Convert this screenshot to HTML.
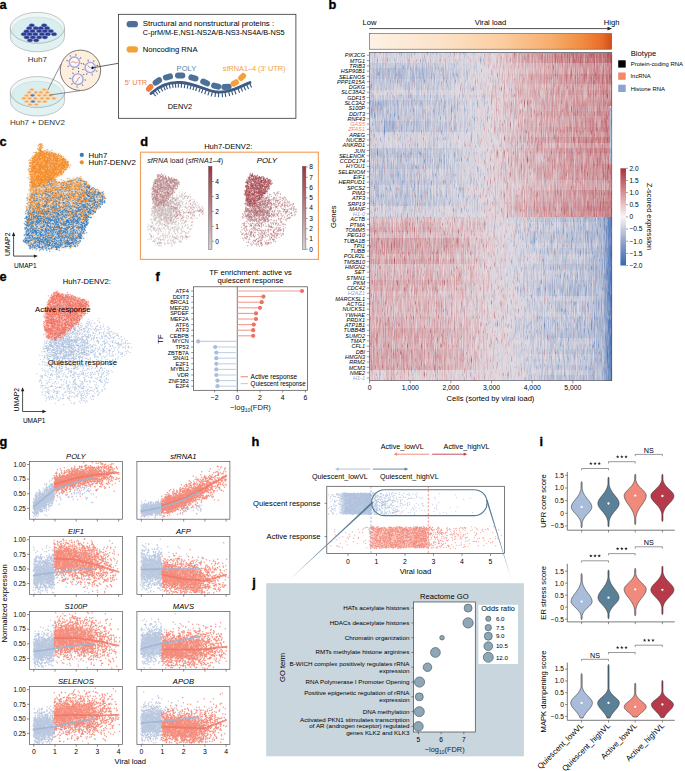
<!DOCTYPE html>
<html><head><meta charset="utf-8"><title>Figure</title><style>html,body{margin:0;padding:0;background:#fff;width:685px;height:771px;overflow:hidden}svg{display:block;font-family:"Liberation Sans",sans-serif}</style></head><body>
<svg width="685" height="771" viewBox="0 0 685 771" font-family="&quot;Liberation Sans&quot;, sans-serif">
<defs><linearGradient id="vlg" x1="0" x2="1" y1="0" y2="0"><stop offset="0" stop-color="#fdf1e5"/><stop offset="0.3" stop-color="#fce2c8"/><stop offset="0.55" stop-color="#fbcd9f"/><stop offset="0.75" stop-color="#f7ad6c"/><stop offset="0.88" stop-color="#f08c42"/><stop offset="0.96" stop-color="#ea6c28"/><stop offset="1" stop-color="#cf4f1c"/></linearGradient>
<linearGradient id="hr0" x1="0" x2="1" y1="0" y2="0"><stop offset="0.001" stop-color="#757575"/><stop offset="0.202" stop-color="#757575"/><stop offset="0.336" stop-color="#787878"/><stop offset="0.437" stop-color="#7d7d7d"/><stop offset="0.521" stop-color="#898989"/><stop offset="0.605" stop-color="#a4a4a4"/><stop offset="0.705" stop-color="#b7b7b7"/><stop offset="0.839" stop-color="#c9c9c9"/><stop offset="0.957" stop-color="#d7d7d7"/><stop offset="0.990" stop-color="#e2e2e2"/><stop offset="0.995" stop-color="#e4e4e4"/><stop offset="0.999" stop-color="#e5e5e5"/></linearGradient>
<linearGradient id="hr1" x1="0" x2="1" y1="0" y2="0"><stop offset="0.001" stop-color="#757575"/><stop offset="0.202" stop-color="#757575"/><stop offset="0.336" stop-color="#787878"/><stop offset="0.437" stop-color="#7d7d7d"/><stop offset="0.521" stop-color="#898989"/><stop offset="0.605" stop-color="#a2a2a2"/><stop offset="0.705" stop-color="#b3b3b3"/><stop offset="0.839" stop-color="#c4c4c4"/><stop offset="0.957" stop-color="#d1d1d1"/><stop offset="0.990" stop-color="#dcdcdc"/><stop offset="0.995" stop-color="#dddddd"/><stop offset="0.999" stop-color="#dedede"/></linearGradient>
<linearGradient id="hr2" x1="0" x2="1" y1="0" y2="0"><stop offset="0.001" stop-color="#656565"/><stop offset="0.202" stop-color="#666666"/><stop offset="0.336" stop-color="#6e6e6e"/><stop offset="0.437" stop-color="#797979"/><stop offset="0.521" stop-color="#898989"/><stop offset="0.605" stop-color="#989898"/><stop offset="0.705" stop-color="#a4a4a4"/><stop offset="0.839" stop-color="#b1b1b1"/><stop offset="0.957" stop-color="#bababa"/><stop offset="0.990" stop-color="#c1c1c1"/><stop offset="0.995" stop-color="#c2c2c2"/><stop offset="0.999" stop-color="#c3c3c3"/></linearGradient>
<linearGradient id="hr3" x1="0" x2="1" y1="0" y2="0"><stop offset="0.001" stop-color="#5b5b5b"/><stop offset="0.202" stop-color="#5d5d5d"/><stop offset="0.336" stop-color="#676767"/><stop offset="0.437" stop-color="#767676"/><stop offset="0.521" stop-color="#898989"/><stop offset="0.605" stop-color="#979797"/><stop offset="0.705" stop-color="#a2a2a2"/><stop offset="0.839" stop-color="#aeaeae"/><stop offset="0.957" stop-color="#b7b7b7"/><stop offset="0.990" stop-color="#bebebe"/><stop offset="0.995" stop-color="#bfbfbf"/><stop offset="0.999" stop-color="#c0c0c0"/></linearGradient>
<linearGradient id="hr4" x1="0" x2="1" y1="0" y2="0"><stop offset="0.001" stop-color="#5b5b5b"/><stop offset="0.202" stop-color="#5d5d5d"/><stop offset="0.336" stop-color="#676767"/><stop offset="0.437" stop-color="#767676"/><stop offset="0.521" stop-color="#898989"/><stop offset="0.605" stop-color="#9c9c9c"/><stop offset="0.705" stop-color="#ababab"/><stop offset="0.839" stop-color="#b9b9b9"/><stop offset="0.957" stop-color="#c4c4c4"/><stop offset="0.990" stop-color="#cccccc"/><stop offset="0.995" stop-color="#cecece"/><stop offset="0.999" stop-color="#cfcfcf"/></linearGradient>
<linearGradient id="hr5" x1="0" x2="1" y1="0" y2="0"><stop offset="0.001" stop-color="#636363"/><stop offset="0.202" stop-color="#656565"/><stop offset="0.336" stop-color="#6d6d6d"/><stop offset="0.437" stop-color="#787878"/><stop offset="0.521" stop-color="#898989"/><stop offset="0.605" stop-color="#9b9b9b"/><stop offset="0.705" stop-color="#a9a9a9"/><stop offset="0.839" stop-color="#b7b7b7"/><stop offset="0.957" stop-color="#c2c2c2"/><stop offset="0.990" stop-color="#cacaca"/><stop offset="0.995" stop-color="#cccccc"/><stop offset="0.999" stop-color="#cccccc"/></linearGradient>
<linearGradient id="hr6" x1="0" x2="1" y1="0" y2="0"><stop offset="0.001" stop-color="#646464"/><stop offset="0.202" stop-color="#666666"/><stop offset="0.336" stop-color="#6d6d6d"/><stop offset="0.437" stop-color="#797979"/><stop offset="0.521" stop-color="#898989"/><stop offset="0.605" stop-color="#969696"/><stop offset="0.705" stop-color="#a2a2a2"/><stop offset="0.839" stop-color="#adadad"/><stop offset="0.957" stop-color="#b5b5b5"/><stop offset="0.990" stop-color="#bcbcbc"/><stop offset="0.995" stop-color="#bdbdbd"/><stop offset="0.999" stop-color="#bebebe"/></linearGradient>
<linearGradient id="hr7" x1="0" x2="1" y1="0" y2="0"><stop offset="0.001" stop-color="#727272"/><stop offset="0.202" stop-color="#737373"/><stop offset="0.336" stop-color="#767676"/><stop offset="0.437" stop-color="#7c7c7c"/><stop offset="0.521" stop-color="#898989"/><stop offset="0.605" stop-color="#999999"/><stop offset="0.705" stop-color="#a6a6a6"/><stop offset="0.839" stop-color="#b3b3b3"/><stop offset="0.957" stop-color="#bdbdbd"/><stop offset="0.990" stop-color="#c4c4c4"/><stop offset="0.995" stop-color="#c5c5c5"/><stop offset="0.999" stop-color="#c6c6c6"/></linearGradient>
<linearGradient id="hr8" x1="0" x2="1" y1="0" y2="0"><stop offset="0.001" stop-color="#676767"/><stop offset="0.202" stop-color="#686868"/><stop offset="0.336" stop-color="#6f6f6f"/><stop offset="0.437" stop-color="#797979"/><stop offset="0.521" stop-color="#898989"/><stop offset="0.605" stop-color="#969696"/><stop offset="0.705" stop-color="#a1a1a1"/><stop offset="0.839" stop-color="#acacac"/><stop offset="0.957" stop-color="#b4b4b4"/><stop offset="0.990" stop-color="#bbbbbb"/><stop offset="0.995" stop-color="#bcbcbc"/><stop offset="0.999" stop-color="#bdbdbd"/></linearGradient>
<linearGradient id="hr9" x1="0" x2="1" y1="0" y2="0"><stop offset="0.001" stop-color="#5b5b5b"/><stop offset="0.202" stop-color="#5d5d5d"/><stop offset="0.336" stop-color="#676767"/><stop offset="0.437" stop-color="#767676"/><stop offset="0.521" stop-color="#898989"/><stop offset="0.605" stop-color="#989898"/><stop offset="0.705" stop-color="#a4a4a4"/><stop offset="0.839" stop-color="#b0b0b0"/><stop offset="0.957" stop-color="#b9b9b9"/><stop offset="0.990" stop-color="#c1c1c1"/><stop offset="0.995" stop-color="#c2c2c2"/><stop offset="0.999" stop-color="#c2c2c2"/></linearGradient>
<linearGradient id="hr10" x1="0" x2="1" y1="0" y2="0"><stop offset="0.001" stop-color="#626262"/><stop offset="0.202" stop-color="#646464"/><stop offset="0.336" stop-color="#6c6c6c"/><stop offset="0.437" stop-color="#787878"/><stop offset="0.521" stop-color="#898989"/><stop offset="0.605" stop-color="#979797"/><stop offset="0.705" stop-color="#a2a2a2"/><stop offset="0.839" stop-color="#aeaeae"/><stop offset="0.957" stop-color="#b7b7b7"/><stop offset="0.990" stop-color="#bdbdbd"/><stop offset="0.995" stop-color="#595959"/><stop offset="0.999" stop-color="#595959"/></linearGradient>
<linearGradient id="hr11" x1="0" x2="1" y1="0" y2="0"><stop offset="0.001" stop-color="#606060"/><stop offset="0.202" stop-color="#626262"/><stop offset="0.336" stop-color="#6b6b6b"/><stop offset="0.437" stop-color="#787878"/><stop offset="0.521" stop-color="#898989"/><stop offset="0.605" stop-color="#9a9a9a"/><stop offset="0.705" stop-color="#a8a8a8"/><stop offset="0.839" stop-color="#b5b5b5"/><stop offset="0.957" stop-color="#bfbfbf"/><stop offset="0.990" stop-color="#c7c7c7"/><stop offset="0.995" stop-color="#595959"/><stop offset="0.999" stop-color="#595959"/></linearGradient>
<linearGradient id="hr12" x1="0" x2="1" y1="0" y2="0"><stop offset="0.001" stop-color="#656565"/><stop offset="0.202" stop-color="#676767"/><stop offset="0.336" stop-color="#6e6e6e"/><stop offset="0.437" stop-color="#797979"/><stop offset="0.521" stop-color="#898989"/><stop offset="0.605" stop-color="#979797"/><stop offset="0.705" stop-color="#a3a3a3"/><stop offset="0.839" stop-color="#aeaeae"/><stop offset="0.957" stop-color="#b7b7b7"/><stop offset="0.990" stop-color="#bebebe"/><stop offset="0.995" stop-color="#595959"/><stop offset="0.999" stop-color="#595959"/></linearGradient>
<linearGradient id="hr13" x1="0" x2="1" y1="0" y2="0"><stop offset="0.001" stop-color="#5b5b5b"/><stop offset="0.202" stop-color="#5d5d5d"/><stop offset="0.336" stop-color="#676767"/><stop offset="0.437" stop-color="#767676"/><stop offset="0.521" stop-color="#898989"/><stop offset="0.605" stop-color="#989898"/><stop offset="0.705" stop-color="#a4a4a4"/><stop offset="0.839" stop-color="#b0b0b0"/><stop offset="0.957" stop-color="#b9b9b9"/><stop offset="0.990" stop-color="#c1c1c1"/><stop offset="0.995" stop-color="#595959"/><stop offset="0.999" stop-color="#595959"/></linearGradient>
<linearGradient id="hr14" x1="0" x2="1" y1="0" y2="0"><stop offset="0.001" stop-color="#5b5b5b"/><stop offset="0.202" stop-color="#5d5d5d"/><stop offset="0.336" stop-color="#676767"/><stop offset="0.437" stop-color="#767676"/><stop offset="0.521" stop-color="#898989"/><stop offset="0.605" stop-color="#9b9b9b"/><stop offset="0.705" stop-color="#a9a9a9"/><stop offset="0.839" stop-color="#b6b6b6"/><stop offset="0.957" stop-color="#c1c1c1"/><stop offset="0.990" stop-color="#c9c9c9"/><stop offset="0.995" stop-color="#595959"/><stop offset="0.999" stop-color="#595959"/></linearGradient>
<linearGradient id="hr15" x1="0" x2="1" y1="0" y2="0"><stop offset="0.001" stop-color="#727272"/><stop offset="0.202" stop-color="#737373"/><stop offset="0.336" stop-color="#767676"/><stop offset="0.437" stop-color="#7c7c7c"/><stop offset="0.521" stop-color="#898989"/><stop offset="0.605" stop-color="#979797"/><stop offset="0.705" stop-color="#a3a3a3"/><stop offset="0.839" stop-color="#afafaf"/><stop offset="0.957" stop-color="#b8b8b8"/><stop offset="0.990" stop-color="#bfbfbf"/><stop offset="0.995" stop-color="#595959"/><stop offset="0.999" stop-color="#595959"/></linearGradient>
<linearGradient id="hr16" x1="0" x2="1" y1="0" y2="0"><stop offset="0.001" stop-color="#727272"/><stop offset="0.202" stop-color="#737373"/><stop offset="0.336" stop-color="#767676"/><stop offset="0.437" stop-color="#7c7c7c"/><stop offset="0.521" stop-color="#898989"/><stop offset="0.605" stop-color="#9d9d9d"/><stop offset="0.705" stop-color="#acacac"/><stop offset="0.839" stop-color="#bbbbbb"/><stop offset="0.957" stop-color="#c6c6c6"/><stop offset="0.990" stop-color="#cecece"/><stop offset="0.995" stop-color="#595959"/><stop offset="0.999" stop-color="#595959"/></linearGradient>
<linearGradient id="hr17" x1="0" x2="1" y1="0" y2="0"><stop offset="0.001" stop-color="#727272"/><stop offset="0.202" stop-color="#737373"/><stop offset="0.336" stop-color="#767676"/><stop offset="0.437" stop-color="#7c7c7c"/><stop offset="0.521" stop-color="#898989"/><stop offset="0.605" stop-color="#959595"/><stop offset="0.705" stop-color="#9f9f9f"/><stop offset="0.839" stop-color="#aaaaaa"/><stop offset="0.957" stop-color="#b2b2b2"/><stop offset="0.990" stop-color="#b8b8b8"/><stop offset="0.995" stop-color="#595959"/><stop offset="0.999" stop-color="#595959"/></linearGradient>
<linearGradient id="hr18" x1="0" x2="1" y1="0" y2="0"><stop offset="0.001" stop-color="#5f5f5f"/><stop offset="0.202" stop-color="#616161"/><stop offset="0.336" stop-color="#6a6a6a"/><stop offset="0.437" stop-color="#777777"/><stop offset="0.521" stop-color="#898989"/><stop offset="0.605" stop-color="#9b9b9b"/><stop offset="0.705" stop-color="#a9a9a9"/><stop offset="0.839" stop-color="#b7b7b7"/><stop offset="0.957" stop-color="#c1c1c1"/><stop offset="0.990" stop-color="#c9c9c9"/><stop offset="0.995" stop-color="#595959"/><stop offset="0.999" stop-color="#595959"/></linearGradient>
<linearGradient id="hr19" x1="0" x2="1" y1="0" y2="0"><stop offset="0.001" stop-color="#5b5b5b"/><stop offset="0.202" stop-color="#5d5d5d"/><stop offset="0.336" stop-color="#676767"/><stop offset="0.437" stop-color="#767676"/><stop offset="0.521" stop-color="#898989"/><stop offset="0.605" stop-color="#979797"/><stop offset="0.705" stop-color="#a3a3a3"/><stop offset="0.839" stop-color="#afafaf"/><stop offset="0.957" stop-color="#b8b8b8"/><stop offset="0.990" stop-color="#c0c0c0"/><stop offset="0.995" stop-color="#595959"/><stop offset="0.999" stop-color="#595959"/></linearGradient>
<linearGradient id="hr20" x1="0" x2="1" y1="0" y2="0"><stop offset="0.001" stop-color="#636363"/><stop offset="0.202" stop-color="#656565"/><stop offset="0.336" stop-color="#6c6c6c"/><stop offset="0.437" stop-color="#787878"/><stop offset="0.521" stop-color="#898989"/><stop offset="0.605" stop-color="#989898"/><stop offset="0.705" stop-color="#a4a4a4"/><stop offset="0.839" stop-color="#b0b0b0"/><stop offset="0.957" stop-color="#b9b9b9"/><stop offset="0.990" stop-color="#c0c0c0"/><stop offset="0.995" stop-color="#595959"/><stop offset="0.999" stop-color="#595959"/></linearGradient>
<linearGradient id="hr21" x1="0" x2="1" y1="0" y2="0"><stop offset="0.001" stop-color="#5e5e5e"/><stop offset="0.202" stop-color="#616161"/><stop offset="0.336" stop-color="#696969"/><stop offset="0.437" stop-color="#777777"/><stop offset="0.521" stop-color="#898989"/><stop offset="0.605" stop-color="#9a9a9a"/><stop offset="0.705" stop-color="#a7a7a7"/><stop offset="0.839" stop-color="#b4b4b4"/><stop offset="0.957" stop-color="#bebebe"/><stop offset="0.990" stop-color="#c6c6c6"/><stop offset="0.995" stop-color="#c7c7c7"/><stop offset="0.999" stop-color="#c8c8c8"/></linearGradient>
<linearGradient id="hr22" x1="0" x2="1" y1="0" y2="0"><stop offset="0.001" stop-color="#676767"/><stop offset="0.202" stop-color="#696969"/><stop offset="0.336" stop-color="#6f6f6f"/><stop offset="0.437" stop-color="#797979"/><stop offset="0.521" stop-color="#898989"/><stop offset="0.605" stop-color="#999999"/><stop offset="0.705" stop-color="#a5a5a5"/><stop offset="0.839" stop-color="#b2b2b2"/><stop offset="0.957" stop-color="#bbbbbb"/><stop offset="0.990" stop-color="#c3c3c3"/><stop offset="0.995" stop-color="#c4c4c4"/><stop offset="0.999" stop-color="#c5c5c5"/></linearGradient>
<linearGradient id="hr23" x1="0" x2="1" y1="0" y2="0"><stop offset="0.001" stop-color="#636363"/><stop offset="0.202" stop-color="#656565"/><stop offset="0.336" stop-color="#6d6d6d"/><stop offset="0.437" stop-color="#787878"/><stop offset="0.521" stop-color="#898989"/><stop offset="0.605" stop-color="#979797"/><stop offset="0.705" stop-color="#a3a3a3"/><stop offset="0.839" stop-color="#afafaf"/><stop offset="0.957" stop-color="#b8b8b8"/><stop offset="0.990" stop-color="#bfbfbf"/><stop offset="0.995" stop-color="#c0c0c0"/><stop offset="0.999" stop-color="#c1c1c1"/></linearGradient>
<linearGradient id="hr24" x1="0" x2="1" y1="0" y2="0"><stop offset="0.001" stop-color="#5f5f5f"/><stop offset="0.202" stop-color="#616161"/><stop offset="0.336" stop-color="#6a6a6a"/><stop offset="0.437" stop-color="#777777"/><stop offset="0.521" stop-color="#898989"/><stop offset="0.605" stop-color="#939393"/><stop offset="0.705" stop-color="#9c9c9c"/><stop offset="0.839" stop-color="#a6a6a6"/><stop offset="0.957" stop-color="#adadad"/><stop offset="0.990" stop-color="#b3b3b3"/><stop offset="0.995" stop-color="#b4b4b4"/><stop offset="0.999" stop-color="#b4b4b4"/></linearGradient>
<linearGradient id="hr25" x1="0" x2="1" y1="0" y2="0"><stop offset="0.001" stop-color="#686868"/><stop offset="0.202" stop-color="#6a6a6a"/><stop offset="0.336" stop-color="#707070"/><stop offset="0.437" stop-color="#7a7a7a"/><stop offset="0.521" stop-color="#898989"/><stop offset="0.605" stop-color="#949494"/><stop offset="0.705" stop-color="#9e9e9e"/><stop offset="0.839" stop-color="#a8a8a8"/><stop offset="0.957" stop-color="#afafaf"/><stop offset="0.990" stop-color="#b5b5b5"/><stop offset="0.995" stop-color="#b6b6b6"/><stop offset="0.999" stop-color="#b7b7b7"/></linearGradient>
<linearGradient id="hr26" x1="0" x2="1" y1="0" y2="0"><stop offset="0.001" stop-color="#646464"/><stop offset="0.202" stop-color="#656565"/><stop offset="0.336" stop-color="#6d6d6d"/><stop offset="0.437" stop-color="#797979"/><stop offset="0.521" stop-color="#898989"/><stop offset="0.605" stop-color="#9b9b9b"/><stop offset="0.705" stop-color="#a8a8a8"/><stop offset="0.839" stop-color="#b6b6b6"/><stop offset="0.957" stop-color="#c0c0c0"/><stop offset="0.990" stop-color="#c8c8c8"/><stop offset="0.995" stop-color="#cacaca"/><stop offset="0.999" stop-color="#cacaca"/></linearGradient>
<linearGradient id="hr27" x1="0" x2="1" y1="0" y2="0"><stop offset="0.001" stop-color="#616161"/><stop offset="0.202" stop-color="#636363"/><stop offset="0.336" stop-color="#6b6b6b"/><stop offset="0.437" stop-color="#787878"/><stop offset="0.521" stop-color="#898989"/><stop offset="0.605" stop-color="#999999"/><stop offset="0.705" stop-color="#a5a5a5"/><stop offset="0.839" stop-color="#b2b2b2"/><stop offset="0.957" stop-color="#bbbbbb"/><stop offset="0.990" stop-color="#c3c3c3"/><stop offset="0.995" stop-color="#c4c4c4"/><stop offset="0.999" stop-color="#c5c5c5"/></linearGradient>
<linearGradient id="hr28" x1="0" x2="1" y1="0" y2="0"><stop offset="0.001" stop-color="#626262"/><stop offset="0.202" stop-color="#646464"/><stop offset="0.336" stop-color="#6c6c6c"/><stop offset="0.437" stop-color="#787878"/><stop offset="0.521" stop-color="#898989"/><stop offset="0.605" stop-color="#9b9b9b"/><stop offset="0.705" stop-color="#a8a8a8"/><stop offset="0.839" stop-color="#b6b6b6"/><stop offset="0.957" stop-color="#c0c0c0"/><stop offset="0.990" stop-color="#c8c8c8"/><stop offset="0.995" stop-color="#c9c9c9"/><stop offset="0.999" stop-color="#cacaca"/></linearGradient>
<linearGradient id="hr29" x1="0" x2="1" y1="0" y2="0"><stop offset="0.001" stop-color="#727272"/><stop offset="0.202" stop-color="#737373"/><stop offset="0.336" stop-color="#767676"/><stop offset="0.437" stop-color="#7c7c7c"/><stop offset="0.521" stop-color="#898989"/><stop offset="0.605" stop-color="#9e9e9e"/><stop offset="0.705" stop-color="#adadad"/><stop offset="0.839" stop-color="#bcbcbc"/><stop offset="0.957" stop-color="#c7c7c7"/><stop offset="0.990" stop-color="#d0d0d0"/><stop offset="0.995" stop-color="#d1d1d1"/><stop offset="0.999" stop-color="#d2d2d2"/></linearGradient>
<linearGradient id="hr30" x1="0" x2="1" y1="0" y2="0"><stop offset="0.001" stop-color="#727272"/><stop offset="0.202" stop-color="#737373"/><stop offset="0.336" stop-color="#767676"/><stop offset="0.437" stop-color="#7c7c7c"/><stop offset="0.521" stop-color="#898989"/><stop offset="0.605" stop-color="#9a9a9a"/><stop offset="0.705" stop-color="#a8a8a8"/><stop offset="0.839" stop-color="#b5b5b5"/><stop offset="0.957" stop-color="#c0c0c0"/><stop offset="0.990" stop-color="#c8c8c8"/><stop offset="0.995" stop-color="#c9c9c9"/><stop offset="0.999" stop-color="#cacaca"/></linearGradient>
<linearGradient id="hr31" x1="0" x2="1" y1="0" y2="0"><stop offset="0.001" stop-color="#999999"/><stop offset="0.253" stop-color="#969696"/><stop offset="0.387" stop-color="#909090"/><stop offset="0.471" stop-color="#898989"/><stop offset="0.554" stop-color="#808080"/><stop offset="0.638" stop-color="#6e6e6e"/><stop offset="0.756" stop-color="#5f5f5f"/><stop offset="0.890" stop-color="#585858"/><stop offset="0.965" stop-color="#535353"/><stop offset="0.982" stop-color="#2d2d2d"/><stop offset="0.999" stop-color="#0d0d0d"/></linearGradient>
<linearGradient id="hr32" x1="0" x2="1" y1="0" y2="0"><stop offset="0.001" stop-color="#9f9f9f"/><stop offset="0.253" stop-color="#9d9d9d"/><stop offset="0.387" stop-color="#959595"/><stop offset="0.471" stop-color="#8b8b8b"/><stop offset="0.554" stop-color="#808080"/><stop offset="0.638" stop-color="#737373"/><stop offset="0.756" stop-color="#6a6a6a"/><stop offset="0.890" stop-color="#656565"/><stop offset="0.965" stop-color="#535353"/><stop offset="0.982" stop-color="#2d2d2d"/><stop offset="0.999" stop-color="#0d0d0d"/></linearGradient>
<linearGradient id="hr33" x1="0" x2="1" y1="0" y2="0"><stop offset="0.001" stop-color="#a7a7a7"/><stop offset="0.253" stop-color="#a3a3a3"/><stop offset="0.387" stop-color="#999999"/><stop offset="0.471" stop-color="#8e8e8e"/><stop offset="0.554" stop-color="#808080"/><stop offset="0.638" stop-color="#717171"/><stop offset="0.756" stop-color="#666666"/><stop offset="0.890" stop-color="#606060"/><stop offset="0.965" stop-color="#535353"/><stop offset="0.982" stop-color="#2d2d2d"/><stop offset="0.999" stop-color="#0d0d0d"/></linearGradient>
<linearGradient id="hr34" x1="0" x2="1" y1="0" y2="0"><stop offset="0.001" stop-color="#9d9d9d"/><stop offset="0.253" stop-color="#9b9b9b"/><stop offset="0.387" stop-color="#939393"/><stop offset="0.471" stop-color="#8b8b8b"/><stop offset="0.554" stop-color="#808080"/><stop offset="0.638" stop-color="#6e6e6e"/><stop offset="0.756" stop-color="#616161"/><stop offset="0.890" stop-color="#5a5a5a"/><stop offset="0.965" stop-color="#535353"/><stop offset="0.982" stop-color="#2d2d2d"/><stop offset="0.999" stop-color="#0d0d0d"/></linearGradient>
<linearGradient id="hr35" x1="0" x2="1" y1="0" y2="0"><stop offset="0.001" stop-color="#b0b0b0"/><stop offset="0.253" stop-color="#acacac"/><stop offset="0.387" stop-color="#a0a0a0"/><stop offset="0.471" stop-color="#919191"/><stop offset="0.554" stop-color="#808080"/><stop offset="0.638" stop-color="#6f6f6f"/><stop offset="0.756" stop-color="#626262"/><stop offset="0.890" stop-color="#5b5b5b"/><stop offset="0.965" stop-color="#535353"/><stop offset="0.982" stop-color="#2d2d2d"/><stop offset="0.999" stop-color="#0d0d0d"/></linearGradient>
<linearGradient id="hr36" x1="0" x2="1" y1="0" y2="0"><stop offset="0.001" stop-color="#b0b0b0"/><stop offset="0.253" stop-color="#acacac"/><stop offset="0.387" stop-color="#a0a0a0"/><stop offset="0.471" stop-color="#919191"/><stop offset="0.554" stop-color="#808080"/><stop offset="0.638" stop-color="#757575"/><stop offset="0.756" stop-color="#6c6c6c"/><stop offset="0.890" stop-color="#676767"/><stop offset="0.965" stop-color="#535353"/><stop offset="0.982" stop-color="#2d2d2d"/><stop offset="0.999" stop-color="#0d0d0d"/></linearGradient>
<linearGradient id="hr37" x1="0" x2="1" y1="0" y2="0"><stop offset="0.001" stop-color="#adadad"/><stop offset="0.253" stop-color="#a9a9a9"/><stop offset="0.387" stop-color="#9e9e9e"/><stop offset="0.471" stop-color="#909090"/><stop offset="0.554" stop-color="#808080"/><stop offset="0.638" stop-color="#707070"/><stop offset="0.756" stop-color="#636363"/><stop offset="0.890" stop-color="#5d5d5d"/><stop offset="0.965" stop-color="#535353"/><stop offset="0.982" stop-color="#2d2d2d"/><stop offset="0.999" stop-color="#0d0d0d"/></linearGradient>
<linearGradient id="hr38" x1="0" x2="1" y1="0" y2="0"><stop offset="0.001" stop-color="#a4a4a4"/><stop offset="0.253" stop-color="#a0a0a0"/><stop offset="0.387" stop-color="#979797"/><stop offset="0.471" stop-color="#8d8d8d"/><stop offset="0.554" stop-color="#808080"/><stop offset="0.638" stop-color="#757575"/><stop offset="0.756" stop-color="#6d6d6d"/><stop offset="0.890" stop-color="#696969"/><stop offset="0.965" stop-color="#535353"/><stop offset="0.982" stop-color="#2d2d2d"/><stop offset="0.999" stop-color="#0d0d0d"/></linearGradient>
<linearGradient id="hr39" x1="0" x2="1" y1="0" y2="0"><stop offset="0.001" stop-color="#adadad"/><stop offset="0.253" stop-color="#a9a9a9"/><stop offset="0.387" stop-color="#9e9e9e"/><stop offset="0.471" stop-color="#909090"/><stop offset="0.554" stop-color="#808080"/><stop offset="0.638" stop-color="#737373"/><stop offset="0.756" stop-color="#686868"/><stop offset="0.890" stop-color="#636363"/><stop offset="0.965" stop-color="#535353"/><stop offset="0.982" stop-color="#2d2d2d"/><stop offset="0.999" stop-color="#0d0d0d"/></linearGradient>
<linearGradient id="hr40" x1="0" x2="1" y1="0" y2="0"><stop offset="0.001" stop-color="#9b9b9b"/><stop offset="0.253" stop-color="#989898"/><stop offset="0.387" stop-color="#929292"/><stop offset="0.471" stop-color="#8a8a8a"/><stop offset="0.554" stop-color="#808080"/><stop offset="0.638" stop-color="#6e6e6e"/><stop offset="0.756" stop-color="#606060"/><stop offset="0.890" stop-color="#595959"/><stop offset="0.965" stop-color="#535353"/><stop offset="0.982" stop-color="#2d2d2d"/><stop offset="0.999" stop-color="#0d0d0d"/></linearGradient>
<linearGradient id="hr41" x1="0" x2="1" y1="0" y2="0"><stop offset="0.001" stop-color="#9f9f9f"/><stop offset="0.253" stop-color="#9d9d9d"/><stop offset="0.387" stop-color="#959595"/><stop offset="0.471" stop-color="#8b8b8b"/><stop offset="0.554" stop-color="#808080"/><stop offset="0.638" stop-color="#727272"/><stop offset="0.756" stop-color="#676767"/><stop offset="0.890" stop-color="#616161"/><stop offset="0.965" stop-color="#535353"/><stop offset="0.982" stop-color="#2d2d2d"/><stop offset="0.999" stop-color="#0d0d0d"/></linearGradient>
<linearGradient id="hr42" x1="0" x2="1" y1="0" y2="0"><stop offset="0.001" stop-color="#a3a3a3"/><stop offset="0.253" stop-color="#a0a0a0"/><stop offset="0.387" stop-color="#979797"/><stop offset="0.471" stop-color="#8d8d8d"/><stop offset="0.554" stop-color="#808080"/><stop offset="0.638" stop-color="#707070"/><stop offset="0.756" stop-color="#646464"/><stop offset="0.890" stop-color="#5e5e5e"/><stop offset="0.965" stop-color="#535353"/><stop offset="0.982" stop-color="#2d2d2d"/><stop offset="0.999" stop-color="#0d0d0d"/></linearGradient>
<linearGradient id="hr43" x1="0" x2="1" y1="0" y2="0"><stop offset="0.001" stop-color="#ababab"/><stop offset="0.253" stop-color="#a7a7a7"/><stop offset="0.387" stop-color="#9c9c9c"/><stop offset="0.471" stop-color="#8f8f8f"/><stop offset="0.554" stop-color="#808080"/><stop offset="0.638" stop-color="#6f6f6f"/><stop offset="0.756" stop-color="#626262"/><stop offset="0.890" stop-color="#5b5b5b"/><stop offset="0.965" stop-color="#535353"/><stop offset="0.982" stop-color="#2d2d2d"/><stop offset="0.999" stop-color="#0d0d0d"/></linearGradient>
<linearGradient id="hr44" x1="0" x2="1" y1="0" y2="0"><stop offset="0.001" stop-color="#a4a4a4"/><stop offset="0.253" stop-color="#a1a1a1"/><stop offset="0.387" stop-color="#989898"/><stop offset="0.471" stop-color="#8d8d8d"/><stop offset="0.554" stop-color="#808080"/><stop offset="0.638" stop-color="#6e6e6e"/><stop offset="0.756" stop-color="#606060"/><stop offset="0.890" stop-color="#595959"/><stop offset="0.965" stop-color="#535353"/><stop offset="0.982" stop-color="#2d2d2d"/><stop offset="0.999" stop-color="#0d0d0d"/></linearGradient>
<linearGradient id="hr45" x1="0" x2="1" y1="0" y2="0"><stop offset="0.001" stop-color="#9b9b9b"/><stop offset="0.253" stop-color="#989898"/><stop offset="0.387" stop-color="#929292"/><stop offset="0.471" stop-color="#8a8a8a"/><stop offset="0.554" stop-color="#808080"/><stop offset="0.638" stop-color="#6f6f6f"/><stop offset="0.756" stop-color="#616161"/><stop offset="0.890" stop-color="#5a5a5a"/><stop offset="0.965" stop-color="#535353"/><stop offset="0.982" stop-color="#2d2d2d"/><stop offset="0.999" stop-color="#0d0d0d"/></linearGradient>
<linearGradient id="hr46" x1="0" x2="1" y1="0" y2="0"><stop offset="0.001" stop-color="#a0a0a0"/><stop offset="0.253" stop-color="#9d9d9d"/><stop offset="0.387" stop-color="#959595"/><stop offset="0.471" stop-color="#8c8c8c"/><stop offset="0.554" stop-color="#808080"/><stop offset="0.638" stop-color="#767676"/><stop offset="0.756" stop-color="#6e6e6e"/><stop offset="0.890" stop-color="#6a6a6a"/><stop offset="0.965" stop-color="#535353"/><stop offset="0.982" stop-color="#2d2d2d"/><stop offset="0.999" stop-color="#0d0d0d"/></linearGradient>
<linearGradient id="hr47" x1="0" x2="1" y1="0" y2="0"><stop offset="0.001" stop-color="#a0a0a0"/><stop offset="0.253" stop-color="#9d9d9d"/><stop offset="0.387" stop-color="#959595"/><stop offset="0.471" stop-color="#8b8b8b"/><stop offset="0.554" stop-color="#808080"/><stop offset="0.638" stop-color="#727272"/><stop offset="0.756" stop-color="#676767"/><stop offset="0.890" stop-color="#626262"/><stop offset="0.965" stop-color="#535353"/><stop offset="0.982" stop-color="#2d2d2d"/><stop offset="0.999" stop-color="#0d0d0d"/></linearGradient>
<linearGradient id="hr48" x1="0" x2="1" y1="0" y2="0"><stop offset="0.001" stop-color="#9f9f9f"/><stop offset="0.253" stop-color="#9c9c9c"/><stop offset="0.387" stop-color="#949494"/><stop offset="0.471" stop-color="#8b8b8b"/><stop offset="0.554" stop-color="#808080"/><stop offset="0.638" stop-color="#727272"/><stop offset="0.756" stop-color="#666666"/><stop offset="0.890" stop-color="#616161"/><stop offset="0.965" stop-color="#535353"/><stop offset="0.982" stop-color="#2d2d2d"/><stop offset="0.999" stop-color="#0d0d0d"/></linearGradient>
<linearGradient id="hr49" x1="0" x2="1" y1="0" y2="0"><stop offset="0.001" stop-color="#9c9c9c"/><stop offset="0.253" stop-color="#999999"/><stop offset="0.387" stop-color="#929292"/><stop offset="0.471" stop-color="#8a8a8a"/><stop offset="0.554" stop-color="#808080"/><stop offset="0.638" stop-color="#757575"/><stop offset="0.756" stop-color="#6d6d6d"/><stop offset="0.890" stop-color="#696969"/><stop offset="0.965" stop-color="#535353"/><stop offset="0.982" stop-color="#2d2d2d"/><stop offset="0.999" stop-color="#0d0d0d"/></linearGradient>
<linearGradient id="hr50" x1="0" x2="1" y1="0" y2="0"><stop offset="0.001" stop-color="#a2a2a2"/><stop offset="0.253" stop-color="#9f9f9f"/><stop offset="0.387" stop-color="#969696"/><stop offset="0.471" stop-color="#8c8c8c"/><stop offset="0.554" stop-color="#808080"/><stop offset="0.638" stop-color="#717171"/><stop offset="0.756" stop-color="#656565"/><stop offset="0.890" stop-color="#5f5f5f"/><stop offset="0.965" stop-color="#535353"/><stop offset="0.982" stop-color="#2d2d2d"/><stop offset="0.999" stop-color="#0d0d0d"/></linearGradient>
<linearGradient id="hr51" x1="0" x2="1" y1="0" y2="0"><stop offset="0.001" stop-color="#a3a3a3"/><stop offset="0.253" stop-color="#a0a0a0"/><stop offset="0.387" stop-color="#979797"/><stop offset="0.471" stop-color="#8d8d8d"/><stop offset="0.554" stop-color="#808080"/><stop offset="0.638" stop-color="#707070"/><stop offset="0.756" stop-color="#646464"/><stop offset="0.890" stop-color="#5e5e5e"/><stop offset="0.965" stop-color="#535353"/><stop offset="0.982" stop-color="#2d2d2d"/><stop offset="0.999" stop-color="#0d0d0d"/></linearGradient>
<linearGradient id="hr52" x1="0" x2="1" y1="0" y2="0"><stop offset="0.001" stop-color="#ababab"/><stop offset="0.253" stop-color="#a8a8a8"/><stop offset="0.387" stop-color="#9d9d9d"/><stop offset="0.471" stop-color="#909090"/><stop offset="0.554" stop-color="#808080"/><stop offset="0.638" stop-color="#6e6e6e"/><stop offset="0.756" stop-color="#606060"/><stop offset="0.890" stop-color="#595959"/><stop offset="0.965" stop-color="#535353"/><stop offset="0.982" stop-color="#2d2d2d"/><stop offset="0.999" stop-color="#0d0d0d"/></linearGradient>
<linearGradient id="hr53" x1="0" x2="1" y1="0" y2="0"><stop offset="0.001" stop-color="#acacac"/><stop offset="0.253" stop-color="#a8a8a8"/><stop offset="0.387" stop-color="#9d9d9d"/><stop offset="0.471" stop-color="#909090"/><stop offset="0.554" stop-color="#808080"/><stop offset="0.638" stop-color="#6d6d6d"/><stop offset="0.756" stop-color="#5e5e5e"/><stop offset="0.890" stop-color="#575757"/><stop offset="0.965" stop-color="#535353"/><stop offset="0.982" stop-color="#2d2d2d"/><stop offset="0.999" stop-color="#0d0d0d"/></linearGradient>
<linearGradient id="hr54" x1="0" x2="1" y1="0" y2="0"><stop offset="0.001" stop-color="#a5a5a5"/><stop offset="0.253" stop-color="#a2a2a2"/><stop offset="0.387" stop-color="#989898"/><stop offset="0.471" stop-color="#8d8d8d"/><stop offset="0.554" stop-color="#808080"/><stop offset="0.638" stop-color="#757575"/><stop offset="0.756" stop-color="#6c6c6c"/><stop offset="0.890" stop-color="#686868"/><stop offset="0.965" stop-color="#535353"/><stop offset="0.982" stop-color="#2d2d2d"/><stop offset="0.999" stop-color="#0d0d0d"/></linearGradient>
<linearGradient id="hr55" x1="0" x2="1" y1="0" y2="0"><stop offset="0.001" stop-color="#a3a3a3"/><stop offset="0.253" stop-color="#a0a0a0"/><stop offset="0.387" stop-color="#979797"/><stop offset="0.471" stop-color="#8d8d8d"/><stop offset="0.554" stop-color="#808080"/><stop offset="0.638" stop-color="#747474"/><stop offset="0.756" stop-color="#6a6a6a"/><stop offset="0.890" stop-color="#666666"/><stop offset="0.965" stop-color="#535353"/><stop offset="0.982" stop-color="#2d2d2d"/><stop offset="0.999" stop-color="#0d0d0d"/></linearGradient>
<linearGradient id="hr56" x1="0" x2="1" y1="0" y2="0"><stop offset="0.001" stop-color="#acacac"/><stop offset="0.253" stop-color="#a8a8a8"/><stop offset="0.387" stop-color="#9d9d9d"/><stop offset="0.471" stop-color="#909090"/><stop offset="0.554" stop-color="#808080"/><stop offset="0.638" stop-color="#707070"/><stop offset="0.756" stop-color="#636363"/><stop offset="0.890" stop-color="#5d5d5d"/><stop offset="0.965" stop-color="#535353"/><stop offset="0.982" stop-color="#2d2d2d"/><stop offset="0.999" stop-color="#0d0d0d"/></linearGradient>
<linearGradient id="hr57" x1="0" x2="1" y1="0" y2="0"><stop offset="0.001" stop-color="#aeaeae"/><stop offset="0.253" stop-color="#aaaaaa"/><stop offset="0.387" stop-color="#9f9f9f"/><stop offset="0.471" stop-color="#919191"/><stop offset="0.554" stop-color="#808080"/><stop offset="0.638" stop-color="#757575"/><stop offset="0.756" stop-color="#6c6c6c"/><stop offset="0.890" stop-color="#686868"/><stop offset="0.965" stop-color="#535353"/><stop offset="0.982" stop-color="#2d2d2d"/><stop offset="0.999" stop-color="#0d0d0d"/></linearGradient>
<linearGradient id="hr58" x1="0" x2="1" y1="0" y2="0"><stop offset="0.001" stop-color="#a9a9a9"/><stop offset="0.253" stop-color="#a5a5a5"/><stop offset="0.387" stop-color="#9b9b9b"/><stop offset="0.471" stop-color="#8f8f8f"/><stop offset="0.554" stop-color="#808080"/><stop offset="0.638" stop-color="#747474"/><stop offset="0.756" stop-color="#6a6a6a"/><stop offset="0.890" stop-color="#666666"/><stop offset="0.965" stop-color="#535353"/><stop offset="0.982" stop-color="#2d2d2d"/><stop offset="0.999" stop-color="#0d0d0d"/></linearGradient>
<linearGradient id="hr59" x1="0" x2="1" y1="0" y2="0"><stop offset="0.001" stop-color="#acacac"/><stop offset="0.253" stop-color="#a8a8a8"/><stop offset="0.387" stop-color="#9d9d9d"/><stop offset="0.471" stop-color="#909090"/><stop offset="0.554" stop-color="#808080"/><stop offset="0.638" stop-color="#707070"/><stop offset="0.756" stop-color="#646464"/><stop offset="0.890" stop-color="#5e5e5e"/><stop offset="0.965" stop-color="#535353"/><stop offset="0.982" stop-color="#2d2d2d"/><stop offset="0.999" stop-color="#0d0d0d"/></linearGradient>
<linearGradient id="hr60" x1="0" x2="1" y1="0" y2="0"><stop offset="0.001" stop-color="#8f8f8f"/><stop offset="0.253" stop-color="#8d8d8d"/><stop offset="0.387" stop-color="#8a8a8a"/><stop offset="0.471" stop-color="#858585"/><stop offset="0.554" stop-color="#808080"/><stop offset="0.638" stop-color="#747474"/><stop offset="0.756" stop-color="#6b6b6b"/><stop offset="0.890" stop-color="#676767"/><stop offset="0.965" stop-color="#535353"/><stop offset="0.982" stop-color="#2d2d2d"/><stop offset="0.999" stop-color="#0d0d0d"/></linearGradient>
<linearGradient id="hr61" x1="0" x2="1" y1="0" y2="0"><stop offset="0.001" stop-color="#8f8f8f"/><stop offset="0.253" stop-color="#8d8d8d"/><stop offset="0.387" stop-color="#8a8a8a"/><stop offset="0.471" stop-color="#858585"/><stop offset="0.554" stop-color="#808080"/><stop offset="0.638" stop-color="#6e6e6e"/><stop offset="0.756" stop-color="#616161"/><stop offset="0.890" stop-color="#5a5a5a"/><stop offset="0.965" stop-color="#535353"/><stop offset="0.982" stop-color="#2d2d2d"/><stop offset="0.999" stop-color="#0d0d0d"/></linearGradient>
<filter id="hnoise" x="0" y="0" width="1" height="1" color-interpolation-filters="sRGB"><feTurbulence type="fractalNoise" baseFrequency="0.9 0.06" numOctaves="2" seed="4" result="n"/><feColorMatrix in="n" type="matrix" values="1 0 0 0 0  1 0 0 0 0  1 0 0 0 0  0 0 0 0 1" result="g"/><feComposite in="SourceGraphic" in2="g" operator="arithmetic" k1="0" k2="1" k3="0.35" k4="-0.175" result="s"/><feComponentTransfer in="s" result="c1"><feFuncR type="table" tableValues="0.258 0.333 0.414 0.498 0.585 0.668 0.748 0.822 0.887 0.878 0.861 0.837 0.807 0.769 0.730 0.691 0.655"/><feFuncG type="table" tableValues="0.439 0.488 0.541 0.596 0.652 0.714 0.772 0.822 0.861 0.798 0.724 0.643 0.556 0.475 0.396 0.320 0.250"/><feFuncB type="table" tableValues="0.722 0.737 0.755 0.773 0.792 0.822 0.850 0.871 0.885 0.818 0.744 0.664 0.579 0.500 0.422 0.348 0.280"/><feFuncA type="linear" slope="0" intercept="1"/></feComponentTransfer><feComponentTransfer in="SourceGraphic" result="s2"><feFuncR type="linear" slope="1" intercept="-0.35"/><feFuncG type="linear" slope="1" intercept="-0.35"/><feFuncB type="linear" slope="1" intercept="-0.35"/></feComponentTransfer><feComponentTransfer in="s2" result="c2"><feFuncR type="table" tableValues="0.258 0.333 0.414 0.498 0.585 0.668 0.748 0.822 0.887 0.878 0.861 0.837 0.807 0.769 0.730 0.691 0.655"/><feFuncG type="table" tableValues="0.439 0.488 0.541 0.596 0.652 0.714 0.772 0.822 0.861 0.798 0.724 0.643 0.556 0.475 0.396 0.320 0.250"/><feFuncB type="table" tableValues="0.722 0.737 0.755 0.773 0.792 0.822 0.850 0.871 0.885 0.818 0.744 0.664 0.579 0.500 0.422 0.348 0.280"/><feFuncA type="linear" slope="0" intercept="1"/></feComponentTransfer><feTurbulence type="fractalNoise" baseFrequency="1.3 0.14" numOctaves="1" seed="9" result="n2"/><feColorMatrix in="n2" type="matrix" values="0 0 0 0 0  0 0 0 0 0  0 0 0 0 0  4.0 0 0 0 -2.54" result="m2"/><feComposite in="c2" in2="m2" operator="in" result="c2m"/><feComponentTransfer in="SourceGraphic" result="s3"><feFuncR type="linear" slope="1" intercept="0.35"/><feFuncG type="linear" slope="1" intercept="0.35"/><feFuncB type="linear" slope="1" intercept="0.35"/></feComponentTransfer><feComponentTransfer in="s3" result="c3"><feFuncR type="table" tableValues="0.258 0.333 0.414 0.498 0.585 0.668 0.748 0.822 0.887 0.878 0.861 0.837 0.807 0.769 0.730 0.691 0.655"/><feFuncG type="table" tableValues="0.439 0.488 0.541 0.596 0.652 0.714 0.772 0.822 0.861 0.798 0.724 0.643 0.556 0.475 0.396 0.320 0.250"/><feFuncB type="table" tableValues="0.722 0.737 0.755 0.773 0.792 0.822 0.850 0.871 0.885 0.818 0.744 0.664 0.579 0.500 0.422 0.348 0.280"/><feFuncA type="linear" slope="0" intercept="1"/></feComponentTransfer><feTurbulence type="fractalNoise" baseFrequency="1.3 0.14" numOctaves="1" seed="21" result="n3"/><feColorMatrix in="n3" type="matrix" values="0 0 0 0 0  0 0 0 0 0  0 0 0 0 0  4.0 0 0 0 -2.54" result="m3"/><feComposite in="c3" in2="m3" operator="in" result="c3m"/><feMerge><feMergeNode in="c1"/><feMergeNode in="c2m"/><feMergeNode in="c3m"/></feMerge></filter>
<linearGradient id="zcb" x1="0" x2="0" y1="0" y2="1"><stop offset="0.000" stop-color="#a83238"/><stop offset="0.125" stop-color="#c06065"/><stop offset="0.250" stop-color="#d98f92"/><stop offset="0.375" stop-color="#e8c2c4"/><stop offset="0.500" stop-color="#f6f6f6"/><stop offset="0.625" stop-color="#c6cedf"/><stop offset="0.750" stop-color="#97a6c8"/><stop offset="0.875" stop-color="#6686be"/><stop offset="1.000" stop-color="#3467b5"/></linearGradient>
<linearGradient id="dcb0" x1="0" x2="0" y1="1" y2="0"><stop offset="0" stop-color="#d6d3d3"/><stop offset="1" stop-color="#a1323b"/></linearGradient>
<linearGradient id="dcb1" x1="0" x2="0" y1="1" y2="0"><stop offset="0" stop-color="#d6d3d3"/><stop offset="1" stop-color="#a1323b"/></linearGradient>
<filter id="soft1" x="-0.1" y="-0.1" width="1.2" height="1.2"><feGaussianBlur stdDeviation="1.2"/></filter>
<filter id="soft3" x="-0.2" y="-0.2" width="1.4" height="1.4"><feGaussianBlur stdDeviation="0.7"/></filter>
<filter id="soft2" x="-0.2" y="-0.2" width="1.4" height="1.4"><feGaussianBlur stdDeviation="2"/></filter>
<linearGradient id="hbg" x1="0" x2="1" y1="0" y2="0"><stop offset="0" stop-color="#b7c7e0" stop-opacity="0"/><stop offset="0.18" stop-color="#b7c7e0" stop-opacity="0.85"/><stop offset="1" stop-color="#b7c7e0" stop-opacity="0.9"/></linearGradient>
<linearGradient id="cg1" x1="0" y1="0" x2="0" y2="1"><stop offset="0" stop-color="#52778f"/><stop offset="0.75" stop-color="#6f92a8"/><stop offset="1" stop-color="#c9d6de"/></linearGradient>
<linearGradient id="cg2" gradientUnits="userSpaceOnUse" x1="0" y1="500" x2="0" y2="583"><stop offset="0" stop-color="#52778f"/><stop offset="0.75" stop-color="#6f92a8"/><stop offset="1" stop-color="#c9d6de"/></linearGradient></defs>
<text x="-0.60" y="8.80" font-size="12.8" fill="#000" font-weight="bold" stroke="#000" stroke-width="0.3">a</text>
<path d="M10.299999999999997 27.75L10.299999999999997 36.4A27.1 15.4 0 0 0 64.5 36.4L64.5 27.75A27.1 15.4 0 0 1 10.299999999999997 27.75Z" fill="#e2f2f2" stroke="#9aa4a4" stroke-width="0.6" />
<ellipse cx="37.4" cy="27.75" rx="27.1" ry="15.4" fill="#eef6f6" stroke="#9aa4a4" stroke-width="0.6"/>
<ellipse cx="37.4" cy="29.95" rx="24.900000000000002" ry="12.8" fill="#d9efef" stroke="#b9c4c4" stroke-width="0.4"/>
<ellipse cx="31.8" cy="25.3" rx="2.75" ry="1.6" fill="#2b3990" stroke="#5664b0" stroke-width="0.5"/>
<ellipse cx="44.2" cy="25.3" rx="2.75" ry="1.6" fill="#2b3990" stroke="#5664b0" stroke-width="0.5"/>
<ellipse cx="29.2" cy="28.2" rx="2.75" ry="1.6" fill="#2b3990" stroke="#5664b0" stroke-width="0.5"/>
<ellipse cx="35.8" cy="28.2" rx="2.75" ry="1.6" fill="#2b3990" stroke="#5664b0" stroke-width="0.5"/>
<ellipse cx="40.9" cy="28.2" rx="2.75" ry="1.6" fill="#2b3990" stroke="#5664b0" stroke-width="0.5"/>
<ellipse cx="47.1" cy="28.2" rx="2.75" ry="1.6" fill="#2b3990" stroke="#5664b0" stroke-width="0.5"/>
<ellipse cx="32.5" cy="31.1" rx="2.75" ry="1.6" fill="#2b3990" stroke="#5664b0" stroke-width="0.5"/>
<ellipse cx="39.1" cy="31.1" rx="2.75" ry="1.6" fill="#2b3990" stroke="#5664b0" stroke-width="0.5"/>
<ellipse cx="44.9" cy="31.1" rx="2.75" ry="1.6" fill="#2b3990" stroke="#5664b0" stroke-width="0.5"/>
<ellipse cx="50.8" cy="31.1" rx="2.75" ry="1.6" fill="#2b3990" stroke="#5664b0" stroke-width="0.5"/>
<ellipse cx="26.5" cy="31.4" rx="2.75" ry="1.6" fill="#2b3990" stroke="#5664b0" stroke-width="0.5"/>
<ellipse cx="23.8" cy="34.2" rx="2.75" ry="1.6" fill="#2b3990" stroke="#5664b0" stroke-width="0.5"/>
<ellipse cx="29.6" cy="34.2" rx="2.75" ry="1.6" fill="#2b3990" stroke="#5664b0" stroke-width="0.5"/>
<ellipse cx="35.4" cy="34.2" rx="2.75" ry="1.6" fill="#2b3990" stroke="#5664b0" stroke-width="0.5"/>
<ellipse cx="42.0" cy="34.2" rx="2.75" ry="1.6" fill="#2b3990" stroke="#5664b0" stroke-width="0.5"/>
<ellipse cx="47.8" cy="34.2" rx="2.75" ry="1.6" fill="#2b3990" stroke="#5664b0" stroke-width="0.5"/>
<ellipse cx="54.0" cy="34.2" rx="2.75" ry="1.6" fill="#2b3990" stroke="#5664b0" stroke-width="0.5"/>
<ellipse cx="26.7" cy="37.3" rx="2.75" ry="1.6" fill="#2b3990" stroke="#5664b0" stroke-width="0.5"/>
<ellipse cx="32.9" cy="37.3" rx="2.75" ry="1.6" fill="#2b3990" stroke="#5664b0" stroke-width="0.5"/>
<ellipse cx="39.1" cy="37.3" rx="2.75" ry="1.6" fill="#2b3990" stroke="#5664b0" stroke-width="0.5"/>
<ellipse cx="44.9" cy="37.3" rx="2.75" ry="1.6" fill="#2b3990" stroke="#5664b0" stroke-width="0.5"/>
<ellipse cx="30.0" cy="40.3" rx="2.75" ry="1.6" fill="#2b3990" stroke="#5664b0" stroke-width="0.5"/>
<ellipse cx="36.2" cy="40.3" rx="2.75" ry="1.6" fill="#2b3990" stroke="#5664b0" stroke-width="0.5"/>
<path d="M10.299999999999997 91.95L10.299999999999997 100.6A27.1 15.4 0 0 0 64.5 100.6L64.5 91.95A27.1 15.4 0 0 1 10.299999999999997 91.95Z" fill="#e2f2f2" stroke="#9aa4a4" stroke-width="0.6" />
<ellipse cx="37.4" cy="91.95" rx="27.1" ry="15.4" fill="#eef6f6" stroke="#9aa4a4" stroke-width="0.6"/>
<ellipse cx="37.4" cy="94.15" rx="24.900000000000002" ry="12.8" fill="#d9efef" stroke="#b9c4c4" stroke-width="0.4"/>
<ellipse cx="31.8" cy="89.5" rx="2.75" ry="1.6" fill="#f9c482" stroke="#fde3c4" stroke-width="0.5"/>
<ellipse cx="31.8" cy="89.5" rx="1.5" ry="0.85" fill="#f3a55e"/>
<ellipse cx="44.2" cy="89.5" rx="2.75" ry="1.6" fill="#f9c482" stroke="#fde3c4" stroke-width="0.5"/>
<ellipse cx="44.2" cy="89.5" rx="1.5" ry="0.85" fill="#f3a55e"/>
<ellipse cx="29.2" cy="92.4" rx="2.75" ry="1.6" fill="#f9c482" stroke="#fde3c4" stroke-width="0.5"/>
<ellipse cx="29.2" cy="92.4" rx="1.5" ry="0.85" fill="#f3a55e"/>
<ellipse cx="35.8" cy="92.4" rx="2.75" ry="1.6" fill="#f9c482" stroke="#fde3c4" stroke-width="0.5"/>
<ellipse cx="35.8" cy="92.4" rx="1.5" ry="0.85" fill="#f3a55e"/>
<ellipse cx="40.9" cy="92.4" rx="2.75" ry="1.6" fill="#f9c482" stroke="#fde3c4" stroke-width="0.5"/>
<ellipse cx="40.9" cy="92.4" rx="1.5" ry="0.85" fill="#f3a55e"/>
<ellipse cx="47.1" cy="92.4" rx="2.75" ry="1.6" fill="#f9c482" stroke="#fde3c4" stroke-width="0.5"/>
<ellipse cx="47.1" cy="92.4" rx="1.5" ry="0.85" fill="#f3a55e"/>
<ellipse cx="32.5" cy="95.3" rx="2.75" ry="1.6" fill="#7f93c4" stroke="#fde3c4" stroke-width="0.5"/>
<ellipse cx="32.5" cy="95.3" rx="1.5" ry="0.85" fill="#5a70b0"/>
<ellipse cx="39.1" cy="95.3" rx="2.75" ry="1.6" fill="#f9c482" stroke="#fde3c4" stroke-width="0.5"/>
<ellipse cx="39.1" cy="95.3" rx="1.5" ry="0.85" fill="#f3a55e"/>
<ellipse cx="44.9" cy="95.3" rx="2.75" ry="1.6" fill="#f9c482" stroke="#fde3c4" stroke-width="0.5"/>
<ellipse cx="44.9" cy="95.3" rx="1.5" ry="0.85" fill="#f3a55e"/>
<ellipse cx="50.8" cy="95.3" rx="2.75" ry="1.6" fill="#f9c482" stroke="#fde3c4" stroke-width="0.5"/>
<ellipse cx="50.8" cy="95.3" rx="1.5" ry="0.85" fill="#f3a55e"/>
<ellipse cx="26.5" cy="95.6" rx="2.75" ry="1.6" fill="#f9c482" stroke="#fde3c4" stroke-width="0.5"/>
<ellipse cx="26.5" cy="95.6" rx="1.5" ry="0.85" fill="#f3a55e"/>
<ellipse cx="23.8" cy="98.4" rx="2.75" ry="1.6" fill="#f9c482" stroke="#fde3c4" stroke-width="0.5"/>
<ellipse cx="23.8" cy="98.4" rx="1.5" ry="0.85" fill="#f3a55e"/>
<ellipse cx="29.6" cy="98.4" rx="2.75" ry="1.6" fill="#f9c482" stroke="#fde3c4" stroke-width="0.5"/>
<ellipse cx="29.6" cy="98.4" rx="1.5" ry="0.85" fill="#f3a55e"/>
<ellipse cx="35.4" cy="98.4" rx="2.75" ry="1.6" fill="#f9c482" stroke="#fde3c4" stroke-width="0.5"/>
<ellipse cx="35.4" cy="98.4" rx="1.5" ry="0.85" fill="#f3a55e"/>
<ellipse cx="42.0" cy="98.4" rx="2.75" ry="1.6" fill="#f9c482" stroke="#fde3c4" stroke-width="0.5"/>
<ellipse cx="42.0" cy="98.4" rx="1.5" ry="0.85" fill="#f3a55e"/>
<ellipse cx="47.8" cy="98.4" rx="2.75" ry="1.6" fill="#f9c482" stroke="#fde3c4" stroke-width="0.5"/>
<ellipse cx="47.8" cy="98.4" rx="1.5" ry="0.85" fill="#f3a55e"/>
<ellipse cx="54.0" cy="98.4" rx="2.75" ry="1.6" fill="#f9c482" stroke="#fde3c4" stroke-width="0.5"/>
<ellipse cx="54.0" cy="98.4" rx="1.5" ry="0.85" fill="#f3a55e"/>
<ellipse cx="26.7" cy="101.5" rx="2.75" ry="1.6" fill="#f9c482" stroke="#fde3c4" stroke-width="0.5"/>
<ellipse cx="26.7" cy="101.5" rx="1.5" ry="0.85" fill="#f3a55e"/>
<ellipse cx="32.9" cy="101.5" rx="2.75" ry="1.6" fill="#7f93c4" stroke="#fde3c4" stroke-width="0.5"/>
<ellipse cx="32.9" cy="101.5" rx="1.5" ry="0.85" fill="#5a70b0"/>
<ellipse cx="39.1" cy="101.5" rx="2.75" ry="1.6" fill="#f9c482" stroke="#fde3c4" stroke-width="0.5"/>
<ellipse cx="39.1" cy="101.5" rx="1.5" ry="0.85" fill="#f3a55e"/>
<ellipse cx="44.9" cy="101.5" rx="2.75" ry="1.6" fill="#f9c482" stroke="#fde3c4" stroke-width="0.5"/>
<ellipse cx="44.9" cy="101.5" rx="1.5" ry="0.85" fill="#f3a55e"/>
<ellipse cx="30.0" cy="104.5" rx="2.75" ry="1.6" fill="#f9c482" stroke="#fde3c4" stroke-width="0.5"/>
<ellipse cx="30.0" cy="104.5" rx="1.5" ry="0.85" fill="#f3a55e"/>
<ellipse cx="36.2" cy="104.5" rx="2.75" ry="1.6" fill="#f9c482" stroke="#fde3c4" stroke-width="0.5"/>
<ellipse cx="36.2" cy="104.5" rx="1.5" ry="0.85" fill="#f3a55e"/>
<text x="37.40" y="61.80" font-size="8" text-anchor="middle" fill="#333">Huh7</text>
<text x="37.40" y="124.90" font-size="8" text-anchor="middle" fill="#333">Huh7 + DENV2</text>
<line x1="61.00" y1="64.00" x2="47.80" y2="90.20" stroke="#444" stroke-width="0.6" />
<line x1="80.50" y1="90.60" x2="49.30" y2="95.10" stroke="#444" stroke-width="0.6" />
<circle cx="80.45" cy="70.3" r="20.2" fill="#fdeedd" stroke="#444" stroke-width="0.7"/>
<path d="M80.1 63.3L81.7 63.6M77.6 66.9L78.5 68.3M73.2 67.8L72.9 69.4M69.6 65.3L68.2 66.2M68.7 60.9L67.1 60.6M71.2 57.3L70.3 55.9M75.6 56.4L75.9 54.8M79.2 58.9L80.6 58.0" fill="none" stroke="#6a6f98" stroke-width="0.45" />
<circle cx="81.8" cy="63.6" r="0.6" fill="#5b628c"/>
<circle cx="78.6" cy="68.4" r="0.6" fill="#5b628c"/>
<circle cx="72.9" cy="69.5" r="0.6" fill="#5b628c"/>
<circle cx="68.1" cy="66.3" r="0.6" fill="#5b628c"/>
<circle cx="67.0" cy="60.6" r="0.6" fill="#5b628c"/>
<circle cx="70.2" cy="55.8" r="0.6" fill="#5b628c"/>
<circle cx="75.9" cy="54.7" r="0.6" fill="#5b628c"/>
<circle cx="80.7" cy="57.9" r="0.6" fill="#5b628c"/>
<circle cx="74.4" cy="62.1" r="5.1" fill="#f6f6fc" stroke="#a6a6de" stroke-width="1.4"/>
<path d="M71.4 62.3q1.5 -1.6 3 0t3 0" fill="none" stroke="#ee8449" stroke-width="0.9" stroke-linecap="round"/>
<path d="M95.3 70.3L96.7 71.0M91.8 73.1L92.3 74.6M87.4 72.6L86.7 74.0M84.6 69.1L83.1 69.6M85.1 64.7L83.7 64.0M88.6 61.9L88.1 60.4M93.0 62.4L93.7 61.0M95.8 65.9L97.3 65.4" fill="none" stroke="#6a6f98" stroke-width="0.45" />
<circle cx="96.9" cy="71.1" r="0.6" fill="#5b628c"/>
<circle cx="92.3" cy="74.8" r="0.6" fill="#5b628c"/>
<circle cx="86.6" cy="74.2" r="0.6" fill="#5b628c"/>
<circle cx="82.9" cy="69.6" r="0.6" fill="#5b628c"/>
<circle cx="83.5" cy="63.9" r="0.6" fill="#5b628c"/>
<circle cx="88.1" cy="60.2" r="0.6" fill="#5b628c"/>
<circle cx="93.8" cy="60.8" r="0.6" fill="#5b628c"/>
<circle cx="97.5" cy="65.4" r="0.6" fill="#5b628c"/>
<circle cx="90.2" cy="67.5" r="5.1" fill="#f6f6fc" stroke="#a6a6de" stroke-width="1.4"/>
<path d="M88.0 65.6q0.6 1.8 2.2 1.9t2 1.6" fill="none" stroke="#ee8449" stroke-width="0.9" stroke-linecap="round"/>
<path d="M83.8 79.8L85.4 80.0M81.6 83.8L82.6 85.1M77.2 85.2L77.0 86.8M73.2 83.0L71.9 84.0M71.8 78.6L70.2 78.4M74.0 74.6L73.0 73.3M78.4 73.2L78.6 71.6M82.4 75.4L83.7 74.4" fill="none" stroke="#6a6f98" stroke-width="0.45" />
<circle cx="85.6" cy="80.0" r="0.6" fill="#5b628c"/>
<circle cx="82.7" cy="85.2" r="0.6" fill="#5b628c"/>
<circle cx="77.0" cy="87.0" r="0.6" fill="#5b628c"/>
<circle cx="71.8" cy="84.1" r="0.6" fill="#5b628c"/>
<circle cx="70.0" cy="78.4" r="0.6" fill="#5b628c"/>
<circle cx="72.9" cy="73.2" r="0.6" fill="#5b628c"/>
<circle cx="78.6" cy="71.4" r="0.6" fill="#5b628c"/>
<circle cx="83.8" cy="74.3" r="0.6" fill="#5b628c"/>
<circle cx="77.8" cy="79.2" r="5.3" fill="#f6f6fc" stroke="#a6a6de" stroke-width="1.4"/>
<path d="M75.7 82.3q1.5 -0.5 1.8 -2.3t2.3 -2.8" fill="none" stroke="#ee8449" stroke-width="0.9" stroke-linecap="round"/>
<circle cx="92.6" cy="67.8" r="1.2" fill="#111"/>
<line x1="92.60" y1="67.80" x2="118.40" y2="63.30" stroke="#222" stroke-width="0.7" />
<rect x="118.40" y="14.30" width="177.50" height="104.00" fill="none" stroke="#333" stroke-width="0.8" />
<rect x="126.6" y="21.0" width="11.4" height="6.3" rx="3.1" fill="#4c7097"/>
<rect x="126.6" y="46.3" width="11.4" height="6.3" rx="3.1" fill="#f5a03a"/>
<text x="142.70" y="26.00" font-size="7.5" textLength="131.50" lengthAdjust="spacingAndGlyphs">Structural and nonstructural proteins :</text>
<text x="142.70" y="34.60" font-size="7.5" textLength="142.00" lengthAdjust="spacingAndGlyphs">C-prM/M-E,NS1-NS2A/B-NS3-NS4A/B-NS5</text>
<text x="142.70" y="51.90" font-size="7.5" textLength="54.80" lengthAdjust="spacingAndGlyphs">Noncoding RNA</text>
<text x="176.60" y="71.00" font-size="7.6" fill="#5c84ad">POLY</text>
<text x="222.80" y="71.00" font-size="7.3" fill="#f5a03a">sfRNA1–4 (3′ UTR)</text>
<text x="124.70" y="85.30" font-size="7.3" fill="#f0804e">5′ UTR</text>
<text x="167.80" y="108.60" font-size="7.3">DENV2</text>
<path d="M153.0 92.8L155.8 96.2M155.2 91.0L157.9 94.5M157.7 89.3L160.0 93.0M160.7 87.5L162.8 91.4M163.6 86.1L165.3 90.2M166.0 85.2L167.5 89.3M169.2 84.2L170.2 88.5M172.5 83.6L173.1 87.9M175.4 83.3L175.7 87.7M178.4 83.2L178.3 87.6M181.6 83.4L181.2 87.7M185.0 83.7L184.3 88.1M188.2 84.3L187.2 88.6M191.2 85.1L190.1 89.3M194.2 85.9L192.9 90.1M197.0 86.8L195.6 91.0M200.3 88.0L198.8 92.1M203.0 89.0L201.5 93.1M206.1 90.1L204.7 94.3M209.2 91.2L207.9 95.4M212.3 92.0L211.3 96.3M215.5 92.7L215.0 97.0M218.6 92.9L218.5 97.3M222.2 92.8L222.5 97.2M225.1 92.5L225.8 96.8M228.7 91.8L229.7 96.0M231.6 91.0L232.9 95.2M234.5 90.0L236.0 94.2M238.0 88.7L239.6 92.8M240.9 87.5L242.6 91.5M243.8 86.2L245.6 90.2M246.8 84.9L248.6 88.9M249.7 83.5L251.6 87.5" fill="none" stroke="#3d5b83" stroke-width="1.15" />
<path d="M151 93.5C158 87 168 81.5 181 82.5C195 83.5 205 90 215 91.8C227 93.5 238 88 250 82.5" fill="none" stroke="#3d5b83" stroke-width="2.9" stroke-linecap="round"/>
<rect x="145.4" y="85.1" width="8.6" height="5.6" rx="2.8" fill="#f08040" transform="rotate(-50 149.7 87.9)"/>
<rect x="152.2" y="78.4" width="10.3" height="6.0" rx="3.0" fill="#4c7097" transform="rotate(-35 157.4 81.4)"/>
<rect x="162.8" y="74.0" width="10.3" height="6.0" rx="3.0" fill="#4c7097" transform="rotate(-15 167.9 77.0)"/>
<rect x="175.0" y="72.6" width="10.3" height="6.0" rx="3.0" fill="#4c7097" transform="rotate(0 180.2 75.6)"/>
<rect x="188.3" y="75.0" width="10.3" height="6.0" rx="3.0" fill="#4c7097" transform="rotate(15 193.5 78.0)"/>
<rect x="200.0" y="79.5" width="10.3" height="6.0" rx="3.0" fill="#4c7097" transform="rotate(25 205.2 82.5)"/>
<rect x="211.0" y="83.1" width="10.3" height="6.0" rx="3.0" fill="#4c7097" transform="rotate(15 216.2 86.1)"/>
<rect x="221.3" y="83.9" width="10.3" height="6.0" rx="3.0" fill="#4c7097" transform="rotate(-5 226.5 86.9)"/>
<rect x="230.4" y="80.0" width="8.8" height="5.8" rx="2.9" fill="#f5a03a" transform="rotate(-30 234.8 82.9)"/>
<rect x="237.7" y="74.1" width="8.8" height="5.8" rx="2.9" fill="#f5a03a" transform="rotate(-45 242.1 77.0)"/>
<text x="328.60" y="8.90" font-size="12.8" fill="#000" font-weight="bold" stroke="#000" stroke-width="0.3">b</text>
<text x="362.60" y="25.20" font-size="7.6">Low</text>
<text x="490.50" y="25.20" font-size="7.6" text-anchor="middle">Viral load</text>
<text x="603.80" y="25.20" font-size="7.6">High</text>
<line x1="369.30" y1="28.60" x2="608.50" y2="28.60" stroke="#222" stroke-width="0.8" />
<path d="M612 28.6L607.5 26.7L607.5 30.5Z" fill="#222" />
<rect x="369.50" y="33.60" width="242.10" height="15.60" fill="url(#vlg)" stroke="#555" stroke-width="0.6" />
<g filter="url(#hnoise)">
<rect x="369.3" y="52.6" width="242.50" height="328.00" fill="#808080"/>
<rect x="369.3" y="52.6" width="242.50" height="5.399999999999999" fill="url(#hr0)" shape-rendering="crispEdges"/>
<rect x="369.3" y="58" width="242.50" height="5" fill="url(#hr1)" shape-rendering="crispEdges"/>
<rect x="369.3" y="63" width="242.50" height="5" fill="url(#hr2)" shape-rendering="crispEdges"/>
<rect x="369.3" y="68" width="242.50" height="6" fill="url(#hr3)" shape-rendering="crispEdges"/>
<rect x="369.3" y="74" width="242.50" height="5" fill="url(#hr4)" shape-rendering="crispEdges"/>
<rect x="369.3" y="79" width="242.50" height="5" fill="url(#hr5)" shape-rendering="crispEdges"/>
<rect x="369.3" y="84" width="242.50" height="6" fill="url(#hr6)" shape-rendering="crispEdges"/>
<rect x="369.3" y="90" width="242.50" height="5" fill="url(#hr7)" shape-rendering="crispEdges"/>
<rect x="369.3" y="95" width="242.50" height="5" fill="url(#hr8)" shape-rendering="crispEdges"/>
<rect x="369.3" y="100" width="242.50" height="6" fill="url(#hr9)" shape-rendering="crispEdges"/>
<rect x="369.3" y="106" width="242.50" height="5" fill="url(#hr10)" shape-rendering="crispEdges"/>
<rect x="369.3" y="111" width="242.50" height="5" fill="url(#hr11)" shape-rendering="crispEdges"/>
<rect x="369.3" y="116" width="242.50" height="5" fill="url(#hr12)" shape-rendering="crispEdges"/>
<rect x="369.3" y="121" width="242.50" height="6" fill="url(#hr13)" shape-rendering="crispEdges"/>
<rect x="369.3" y="127" width="242.50" height="5" fill="url(#hr14)" shape-rendering="crispEdges"/>
<rect x="369.3" y="132" width="242.50" height="5" fill="url(#hr15)" shape-rendering="crispEdges"/>
<rect x="369.3" y="137" width="242.50" height="6" fill="url(#hr16)" shape-rendering="crispEdges"/>
<rect x="369.3" y="143" width="242.50" height="5" fill="url(#hr17)" shape-rendering="crispEdges"/>
<rect x="369.3" y="148" width="242.50" height="5" fill="url(#hr18)" shape-rendering="crispEdges"/>
<rect x="369.3" y="153" width="242.50" height="5" fill="url(#hr19)" shape-rendering="crispEdges"/>
<rect x="369.3" y="158" width="242.50" height="6" fill="url(#hr20)" shape-rendering="crispEdges"/>
<rect x="369.3" y="164" width="242.50" height="5" fill="url(#hr21)" shape-rendering="crispEdges"/>
<rect x="369.3" y="169" width="242.50" height="5" fill="url(#hr22)" shape-rendering="crispEdges"/>
<rect x="369.3" y="174" width="242.50" height="6" fill="url(#hr23)" shape-rendering="crispEdges"/>
<rect x="369.3" y="180" width="242.50" height="5" fill="url(#hr24)" shape-rendering="crispEdges"/>
<rect x="369.3" y="185" width="242.50" height="5" fill="url(#hr25)" shape-rendering="crispEdges"/>
<rect x="369.3" y="190" width="242.50" height="5" fill="url(#hr26)" shape-rendering="crispEdges"/>
<rect x="369.3" y="195" width="242.50" height="6" fill="url(#hr27)" shape-rendering="crispEdges"/>
<rect x="369.3" y="201" width="242.50" height="5" fill="url(#hr28)" shape-rendering="crispEdges"/>
<rect x="369.3" y="206" width="242.50" height="5" fill="url(#hr29)" shape-rendering="crispEdges"/>
<rect x="369.3" y="211" width="242.50" height="6" fill="url(#hr30)" shape-rendering="crispEdges"/>
<rect x="369.3" y="217" width="242.50" height="5" fill="url(#hr31)" shape-rendering="crispEdges"/>
<rect x="369.3" y="222" width="242.50" height="5" fill="url(#hr32)" shape-rendering="crispEdges"/>
<rect x="369.3" y="227" width="242.50" height="5" fill="url(#hr33)" shape-rendering="crispEdges"/>
<rect x="369.3" y="232" width="242.50" height="6" fill="url(#hr34)" shape-rendering="crispEdges"/>
<rect x="369.3" y="238" width="242.50" height="5" fill="url(#hr35)" shape-rendering="crispEdges"/>
<rect x="369.3" y="243" width="242.50" height="5" fill="url(#hr36)" shape-rendering="crispEdges"/>
<rect x="369.3" y="248" width="242.50" height="6" fill="url(#hr37)" shape-rendering="crispEdges"/>
<rect x="369.3" y="254" width="242.50" height="5" fill="url(#hr38)" shape-rendering="crispEdges"/>
<rect x="369.3" y="259" width="242.50" height="5" fill="url(#hr39)" shape-rendering="crispEdges"/>
<rect x="369.3" y="264" width="242.50" height="6" fill="url(#hr40)" shape-rendering="crispEdges"/>
<rect x="369.3" y="270" width="242.50" height="5" fill="url(#hr41)" shape-rendering="crispEdges"/>
<rect x="369.3" y="275" width="242.50" height="5" fill="url(#hr42)" shape-rendering="crispEdges"/>
<rect x="369.3" y="280" width="242.50" height="5" fill="url(#hr43)" shape-rendering="crispEdges"/>
<rect x="369.3" y="285" width="242.50" height="6" fill="url(#hr44)" shape-rendering="crispEdges"/>
<rect x="369.3" y="291" width="242.50" height="5" fill="url(#hr45)" shape-rendering="crispEdges"/>
<rect x="369.3" y="296" width="242.50" height="5" fill="url(#hr46)" shape-rendering="crispEdges"/>
<rect x="369.3" y="301" width="242.50" height="6" fill="url(#hr47)" shape-rendering="crispEdges"/>
<rect x="369.3" y="307" width="242.50" height="5" fill="url(#hr48)" shape-rendering="crispEdges"/>
<rect x="369.3" y="312" width="242.50" height="5" fill="url(#hr49)" shape-rendering="crispEdges"/>
<rect x="369.3" y="317" width="242.50" height="5" fill="url(#hr50)" shape-rendering="crispEdges"/>
<rect x="369.3" y="322" width="242.50" height="6" fill="url(#hr51)" shape-rendering="crispEdges"/>
<rect x="369.3" y="328" width="242.50" height="5" fill="url(#hr52)" shape-rendering="crispEdges"/>
<rect x="369.3" y="333" width="242.50" height="5" fill="url(#hr53)" shape-rendering="crispEdges"/>
<rect x="369.3" y="338" width="242.50" height="6" fill="url(#hr54)" shape-rendering="crispEdges"/>
<rect x="369.3" y="344" width="242.50" height="5" fill="url(#hr55)" shape-rendering="crispEdges"/>
<rect x="369.3" y="349" width="242.50" height="5" fill="url(#hr56)" shape-rendering="crispEdges"/>
<rect x="369.3" y="354" width="242.50" height="5" fill="url(#hr57)" shape-rendering="crispEdges"/>
<rect x="369.3" y="359" width="242.50" height="6" fill="url(#hr58)" shape-rendering="crispEdges"/>
<rect x="369.3" y="365" width="242.50" height="5" fill="url(#hr59)" shape-rendering="crispEdges"/>
<rect x="369.3" y="370" width="242.50" height="5" fill="url(#hr60)" shape-rendering="crispEdges"/>
<rect x="369.3" y="375" width="242.50" height="5.600000000000023" fill="url(#hr61)" shape-rendering="crispEdges"/>
</g>
<rect x="369.30" y="52.60" width="242.50" height="328.00" fill="none" stroke="#555" stroke-width="0.6" />
<text x="365.00" y="57.40" font-size="6.0" text-anchor="end" font-style="italic" textLength="20.25" lengthAdjust="spacingAndGlyphs">PIK3CG</text>
<text x="365.00" y="62.69" font-size="6.0" text-anchor="end" font-style="italic" textLength="15.33" lengthAdjust="spacingAndGlyphs">MTG1</text>
<text x="365.00" y="67.98" font-size="6.0" text-anchor="end" font-style="italic" textLength="15.64" lengthAdjust="spacingAndGlyphs">TRIB3</text>
<text x="365.00" y="73.27" font-size="6.0" text-anchor="end" font-style="italic" textLength="24.24" lengthAdjust="spacingAndGlyphs">HSP90B1</text>
<text x="365.00" y="78.56" font-size="6.0" text-anchor="end" font-style="italic" textLength="26.08" lengthAdjust="spacingAndGlyphs">SELENOS</text>
<text x="365.00" y="83.85" font-size="6.0" text-anchor="end" font-style="italic" textLength="27.92" lengthAdjust="spacingAndGlyphs">PPP1R15A</text>
<text x="365.00" y="89.14" font-size="6.0" text-anchor="end" font-style="italic" textLength="16.26" lengthAdjust="spacingAndGlyphs">DGKG</text>
<text x="365.00" y="94.43" font-size="6.0" text-anchor="end" font-style="italic" textLength="23.63" lengthAdjust="spacingAndGlyphs">SLC38A2</text>
<text x="365.00" y="99.72" font-size="6.0" text-anchor="end" font-style="italic" textLength="17.79" lengthAdjust="spacingAndGlyphs">GDF15</text>
<text x="365.00" y="105.01" font-size="6.0" text-anchor="end" font-style="italic" textLength="20.56" lengthAdjust="spacingAndGlyphs">SLC3A2</text>
<text x="365.00" y="110.30" font-size="6.0" text-anchor="end" font-style="italic" textLength="16.57" lengthAdjust="spacingAndGlyphs">S100P</text>
<text x="365.00" y="115.59" font-size="6.0" text-anchor="end" font-style="italic" textLength="15.95" lengthAdjust="spacingAndGlyphs">DDIT3</text>
<text x="365.00" y="120.88" font-size="6.0" text-anchor="end" font-style="italic" textLength="17.48" lengthAdjust="spacingAndGlyphs">RNF43</text>
<text x="365.00" y="126.17" font-size="6.0" text-anchor="end" fill="#f4886a" font-style="italic" textLength="14.73" lengthAdjust="spacingAndGlyphs">GAS5</text>
<text x="365.00" y="131.46" font-size="6.0" text-anchor="end" fill="#f4886a" font-style="italic" textLength="16.77" lengthAdjust="spacingAndGlyphs">ZFAS1</text>
<text x="365.00" y="136.75" font-size="6.0" text-anchor="end" font-style="italic" textLength="15.64" lengthAdjust="spacingAndGlyphs">AREG</text>
<text x="365.00" y="142.04" font-size="6.0" text-anchor="end" font-style="italic" textLength="18.71" lengthAdjust="spacingAndGlyphs">NUCB2</text>
<text x="365.00" y="147.33" font-size="6.0" text-anchor="end" font-style="italic" textLength="22.39" lengthAdjust="spacingAndGlyphs">ANKRD1</text>
<text x="365.00" y="152.62" font-size="6.0" text-anchor="end" font-style="italic" textLength="10.73" lengthAdjust="spacingAndGlyphs">JUN</text>
<text x="365.00" y="157.91" font-size="6.0" text-anchor="end" font-style="italic" textLength="26.08" lengthAdjust="spacingAndGlyphs">SELENOK</text>
<text x="365.00" y="163.20" font-size="6.0" text-anchor="end" font-style="italic" textLength="25.15" lengthAdjust="spacingAndGlyphs">CCDC174</text>
<text x="365.00" y="168.49" font-size="6.0" text-anchor="end" font-style="italic" textLength="19.02" lengthAdjust="spacingAndGlyphs">HYOU1</text>
<text x="365.00" y="173.78" font-size="6.0" text-anchor="end" font-style="italic" textLength="26.99" lengthAdjust="spacingAndGlyphs">SELENOM</text>
<text x="365.00" y="179.07" font-size="6.0" text-anchor="end" font-style="italic" textLength="11.66" lengthAdjust="spacingAndGlyphs">EIF1</text>
<text x="365.00" y="184.36" font-size="6.0" text-anchor="end" font-style="italic" textLength="26.38" lengthAdjust="spacingAndGlyphs">HERPUD1</text>
<text x="365.00" y="189.65" font-size="6.0" text-anchor="end" font-style="italic" textLength="18.10" lengthAdjust="spacingAndGlyphs">SPCS2</text>
<text x="365.00" y="194.94" font-size="6.0" text-anchor="end" font-style="italic" textLength="12.88" lengthAdjust="spacingAndGlyphs">PIM3</text>
<text x="365.00" y="200.23" font-size="6.0" text-anchor="end" font-style="italic" textLength="13.08" lengthAdjust="spacingAndGlyphs">ATF3</text>
<text x="365.00" y="205.52" font-size="6.0" text-anchor="end" font-style="italic" textLength="17.49" lengthAdjust="spacingAndGlyphs">SRP19</text>
<text x="365.00" y="210.81" font-size="6.0" text-anchor="end" font-style="italic" textLength="15.64" lengthAdjust="spacingAndGlyphs">MANF</text>
<text x="365.00" y="216.10" font-size="6.0" text-anchor="end" fill="#8da2cf" font-style="italic" textLength="11.96" lengthAdjust="spacingAndGlyphs">H1-0</text>
<text x="365.00" y="221.40" font-size="6.0" text-anchor="end" font-style="italic" textLength="14.72" lengthAdjust="spacingAndGlyphs">ACTB</text>
<text x="365.00" y="226.69" font-size="6.0" text-anchor="end" font-style="italic" textLength="15.33" lengthAdjust="spacingAndGlyphs">PTMA</text>
<text x="365.00" y="231.98" font-size="6.0" text-anchor="end" font-style="italic" textLength="19.83" lengthAdjust="spacingAndGlyphs">TOMM5</text>
<text x="365.00" y="237.27" font-size="6.0" text-anchor="end" font-style="italic" textLength="17.80" lengthAdjust="spacingAndGlyphs">PEG10</text>
<text x="365.00" y="242.56" font-size="6.0" text-anchor="end" font-style="italic" textLength="21.47" lengthAdjust="spacingAndGlyphs">TUBA1B</text>
<text x="365.00" y="247.85" font-size="6.0" text-anchor="end" font-style="italic" textLength="11.66" lengthAdjust="spacingAndGlyphs">TPI1</text>
<text x="365.00" y="253.14" font-size="6.0" text-anchor="end" font-style="italic" textLength="14.72" lengthAdjust="spacingAndGlyphs">TUBB</text>
<text x="365.00" y="258.43" font-size="6.0" text-anchor="end" font-style="italic" textLength="21.17" lengthAdjust="spacingAndGlyphs">POLR2L</text>
<text x="365.00" y="263.72" font-size="6.0" text-anchor="end" font-style="italic" textLength="21.47" lengthAdjust="spacingAndGlyphs">TMSB10</text>
<text x="365.00" y="269.01" font-size="6.0" text-anchor="end" font-style="italic" textLength="19.93" lengthAdjust="spacingAndGlyphs">HMGN2</text>
<text x="365.00" y="274.30" font-size="6.0" text-anchor="end" font-style="italic" textLength="10.74" lengthAdjust="spacingAndGlyphs">SET</text>
<text x="365.00" y="279.59" font-size="6.0" text-anchor="end" font-style="italic" textLength="18.71" lengthAdjust="spacingAndGlyphs">STMN1</text>
<text x="365.00" y="284.88" font-size="6.0" text-anchor="end" font-style="italic" textLength="11.96" lengthAdjust="spacingAndGlyphs">PKM</text>
<text x="365.00" y="290.17" font-size="6.0" text-anchor="end" font-style="italic" textLength="18.10" lengthAdjust="spacingAndGlyphs">CDC42</text>
<text x="365.00" y="295.46" font-size="6.0" text-anchor="end" fill="#8da2cf" font-style="italic" textLength="17.18" lengthAdjust="spacingAndGlyphs">H2AZ1</text>
<text x="365.00" y="300.75" font-size="6.0" text-anchor="end" font-style="italic" textLength="29.76" lengthAdjust="spacingAndGlyphs">MARCKSL1</text>
<text x="365.00" y="306.04" font-size="6.0" text-anchor="end" font-style="italic" textLength="18.40" lengthAdjust="spacingAndGlyphs">ACTG1</text>
<text x="365.00" y="311.33" font-size="6.0" text-anchor="end" font-style="italic" textLength="22.39" lengthAdjust="spacingAndGlyphs">NUCKS1</text>
<text x="365.00" y="316.62" font-size="6.0" text-anchor="end" font-style="italic" textLength="20.24" lengthAdjust="spacingAndGlyphs">YWHAE</text>
<text x="365.00" y="321.91" font-size="6.0" text-anchor="end" font-style="italic" textLength="18.41" lengthAdjust="spacingAndGlyphs">PRDX1</text>
<text x="365.00" y="327.20" font-size="6.0" text-anchor="end" font-style="italic" textLength="20.15" lengthAdjust="spacingAndGlyphs">ATP1B1</text>
<text x="365.00" y="332.49" font-size="6.0" text-anchor="end" font-style="italic" textLength="21.47" lengthAdjust="spacingAndGlyphs">TUBB4B</text>
<text x="365.00" y="337.78" font-size="6.0" text-anchor="end" font-style="italic" textLength="19.63" lengthAdjust="spacingAndGlyphs">SUMO2</text>
<text x="365.00" y="343.07" font-size="6.0" text-anchor="end" font-style="italic" textLength="14.72" lengthAdjust="spacingAndGlyphs">TMA7</text>
<text x="365.00" y="348.36" font-size="6.0" text-anchor="end" font-style="italic" textLength="13.50" lengthAdjust="spacingAndGlyphs">CFL1</text>
<text x="365.00" y="353.65" font-size="6.0" text-anchor="end" font-style="italic" textLength="9.20" lengthAdjust="spacingAndGlyphs">DBI</text>
<text x="365.00" y="358.94" font-size="6.0" text-anchor="end" font-style="italic" textLength="19.93" lengthAdjust="spacingAndGlyphs">HMGN3</text>
<text x="365.00" y="364.23" font-size="6.0" text-anchor="end" font-style="italic" textLength="15.64" lengthAdjust="spacingAndGlyphs">RRM2</text>
<text x="365.00" y="369.52" font-size="6.0" text-anchor="end" font-style="italic" textLength="16.25" lengthAdjust="spacingAndGlyphs">MCM3</text>
<text x="365.00" y="374.81" font-size="6.0" text-anchor="end" font-style="italic" textLength="15.34" lengthAdjust="spacingAndGlyphs">NME2</text>
<text x="365.00" y="380.10" font-size="6.0" text-anchor="end" fill="#8da2cf" font-style="italic" textLength="11.96" lengthAdjust="spacingAndGlyphs">H1-1</text>
<path d="M366.8 55.25H369.3M366.8 60.54H369.3M366.8 65.83H369.3M366.8 71.12H369.3M366.8 76.41H369.3M366.8 81.70H369.3M366.8 86.99H369.3M366.8 92.28H369.3M366.8 97.57H369.3M366.8 102.86H369.3M366.8 108.15H369.3M366.8 113.44H369.3M366.8 118.73H369.3M366.8 124.02H369.3M366.8 129.31H369.3M366.8 134.60H369.3M366.8 139.89H369.3M366.8 145.18H369.3M366.8 150.47H369.3M366.8 155.76H369.3M366.8 161.05H369.3M366.8 166.34H369.3M366.8 171.63H369.3M366.8 176.92H369.3M366.8 182.21H369.3M366.8 187.50H369.3M366.8 192.79H369.3M366.8 198.08H369.3M366.8 203.37H369.3M366.8 208.66H369.3M366.8 213.95H369.3M366.8 219.25H369.3M366.8 224.54H369.3M366.8 229.83H369.3M366.8 235.12H369.3M366.8 240.41H369.3M366.8 245.70H369.3M366.8 250.99H369.3M366.8 256.28H369.3M366.8 261.57H369.3M366.8 266.86H369.3M366.8 272.15H369.3M366.8 277.44H369.3M366.8 282.73H369.3M366.8 288.02H369.3M366.8 293.31H369.3M366.8 298.60H369.3M366.8 303.89H369.3M366.8 309.18H369.3M366.8 314.47H369.3M366.8 319.76H369.3M366.8 325.05H369.3M366.8 330.34H369.3M366.8 335.63H369.3M366.8 340.92H369.3M366.8 346.21H369.3M366.8 351.50H369.3M366.8 356.79H369.3M366.8 362.08H369.3M366.8 367.37H369.3M366.8 372.66H369.3M366.8 377.95H369.3" fill="none" stroke="#444" stroke-width="0.5" />
<text x="335.60" y="216.70" font-size="7.6" text-anchor="middle" transform="rotate(-90 335.60 216.70)">Genes</text>
<text x="369.60" y="390.20" font-size="6.8" text-anchor="middle">0</text>
<text x="410.25" y="390.20" font-size="6.8" text-anchor="middle">1,000</text>
<text x="450.90" y="390.20" font-size="6.8" text-anchor="middle">2,000</text>
<text x="491.55" y="390.20" font-size="6.8" text-anchor="middle">3,000</text>
<text x="532.20" y="390.20" font-size="6.8" text-anchor="middle">4,000</text>
<text x="572.85" y="390.20" font-size="6.8" text-anchor="middle">5,000</text>
<path d="M369.60 380.6V383.3M410.25 380.6V383.3M450.90 380.6V383.3M491.55 380.6V383.3M532.20 380.6V383.3M572.85 380.6V383.3" fill="none" stroke="#444" stroke-width="0.6" />
<text x="490.50" y="400.90" font-size="7.6" text-anchor="middle">Cells (sorted by viral load)</text>
<text x="630.80" y="55.60" font-size="7.6">Biotype</text>
<rect x="618.20" y="60.30" width="7.50" height="7.30" fill="#000" />
<rect x="618.20" y="72.50" width="7.50" height="7.30" fill="#f4886a" />
<rect x="618.20" y="84.70" width="7.50" height="7.30" fill="#8da2cf" />
<text x="630.80" y="66.20" font-size="5.9">Protein-coding RNA</text>
<text x="630.80" y="78.40" font-size="5.9">lncRNA</text>
<text x="630.80" y="90.60" font-size="5.9">Histone RNA</text>
<rect x="620.40" y="168.30" width="5.60" height="97.20" fill="url(#zcb)" />
<text x="629.40" y="170.60" font-size="6.6">2.0</text>
<text x="629.40" y="182.75" font-size="6.6">1.5</text>
<text x="629.40" y="194.90" font-size="6.6">1.0</text>
<text x="629.40" y="207.05" font-size="6.6">0.5</text>
<text x="629.40" y="219.20" font-size="6.6">0</text>
<text x="629.40" y="231.35" font-size="6.6">−0.5</text>
<text x="629.40" y="243.50" font-size="6.6">−1.0</text>
<text x="629.40" y="255.65" font-size="6.6">−1.5</text>
<text x="629.40" y="267.80" font-size="6.6">−2.0</text>
<path d="M626 168.30H628M626 180.45H628M626 192.60H628M626 204.75H628M626 216.90H628M626 229.05H628M626 241.20H628M626 253.35H628M626 265.50H628" fill="none" stroke="#444" stroke-width="0.5" />
<text x="647.40" y="216.60" font-size="7.4" text-anchor="middle" transform="rotate(90 647.40 216.60)">Z-scored expression</text>
<text x="-0.60" y="145.70" font-size="12.8" fill="#000" font-weight="bold" stroke="#000" stroke-width="0.3">c</text>
<g filter="url(#soft1)"><path d="M39.6 144.5L40.6 151.5L45.0 151.5L50.0 151.8L55.0 153.5L60.0 156.0L64.5 158.5L68.0 161.5L69.5 165.7L66.0 169.5L62.5 172.5L59.3 175.9L53.1 179.0L45.0 183.0L38.0 187.0L30.7 186.1L30.0 178.0L30.0 168.0L31.0 161.6L33.5 156.5L36.5 153.2L39.0 151.5Z" fill="#f9c18c"/><path d="M30.7 184.0L40.0 182.0L53.1 179.0L61.3 182.0L71.5 178.9L79.7 176.9L85.8 182.0L94.0 189.2L102.2 192.2L105.2 198.4L102.2 204.5L96.0 210.6L89.9 216.7L85.8 227.0L82.8 237.2L77.7 245.4L61.3 248.4L47.0 249.4L30.7 248.4L24.5 241.3L25.5 227.0L26.6 212.7L28.6 196.3Z" fill="#c9c3c0" opacity="0.6"/></g>
<path transform="scale(0.5) translate(.5 .5)" d="M48 446h0m1-10h0m1 40h0m0 8h0m1-61h0m0 4h0m0 47h0m1-42h0m0 3h0m0 8h0m0 7h0m1-30h0m1-13h0m0 27h0m0 15h0m0 36h0m1-42h0m0 15h0m0 3h0m1-19h0m0 3h0m0 18h0m1-39h0m0 1h0m0 51h0m0 8h0m1-48h0m0 8h0m0 6h0m0 14h0m1-66h0m0 13h0m0 8h0m0 30h0m0 9h0m0 16h0m1-53h0m0 35h0m0 37h0m2-98h0m0 33h0m0 42h0m0 25h0m1-64h0m1-6h0m0 14h0m0 20h0m0 12h0m1-80h0m0 37h0m0 18h0m1-73h0m0 69h0m0 44h0m0 5h0m1-66h0m0 14h0m0 5h0m0 34h0m1-81h0m0 36h0m0 1h0m0 22h0m1-23h0m0 27h0m0 15h0m0 11h0m0 7h0m1-76h0m0 64h0m0 3h0m1-42h0m0 7h0m0 11h0m0 3h0m0 3h0m1-86h0m0 37h0m0 40h0m0 6h0m0 29h0m1-81h0m0 11h0m0 3h0m0 7h0m0 5h0m0 12h0m0 4h0m0 11h0m1-28h0m0 35h0m0 6h0m1-6h0m1-34h0m0 6h0m0 32h0m1-108h0m0 63h0m0 51h0m0 3h0m1-74h0m0 2h0m0 7h0m0 25h0m0 5h0m0 13h0m0 14h0m1-55h0m0 17h0m0 28h0m1-65h0m0 37h0m0 33h0m1-55h0m0 16h0m0 36h0m1-35h0m0 4h0m0 8h0m0 14h0m0 5h0m1-75h0m0 37h0m1-30h0m0 26h0m0 33h0m0 16h0m0 12h0m0 9h0m0 3h0m1-72h0m0 36h0m0 38h0m1-84h0m0 14h0m1-29h0m0 40h0m0 44h0m0 3h0m1-113h0m0 23h0m0 28h0m0 27h0m0 29h0m1-57h0m0 7h0m1-28h0m0 10h0m0 32h0m0 4h0m0 26h0m0 5h0m1-65h0m0 50h0m0 16h0m1-77h0m0 22h0m0 41h0m0 6h0m0 17h0m1-62h0m0 33h0m0 3h0m0 32h0m1-72h0m0 22h0m1-18h0m0 19h0m0 20h0m1-24h0m0 10h0m0 2h0m0 12h0m0 2h0m1-83h0m0 28h0m0 4h0m0 5h0m0 39h0m0 23h0m1 0h0m0 6h0m1-15h0m0 6h0m1 1h0m0 10h0m1-36h0m0 21h0m1-76h0m0 40h0m0 49h0m1-56h0m0 28h0m1 12h0m0 4h0m1-82h0m0 42h0m0 41h0m1-102h0m0 36h0m0 13h0m0 22h0m0 18h0m1-70h0m0 20h0m0 42h0m0 25h0m1-80h0m0 29h0m0 2h0m0 1h0m0 17h0m0 8h0m1-41h0m0 20h0m0 4h0m0 3h0m0 41h0m0 1h0m1-88h0m0 41h0m0 25h0m1-28h0m0 9h0m0 46h0m1-91h0m0 16h0m0 21h0m0 21h0m0 26h0m0 14h0m1-108h0m0 5h0m0 45h0m0 13h0m0 9h0m0 24h0m0 5h0m0 4h0m1-79h0m0 4h0m0 31h0m0 16h0m1-88h0m0 48h0m1 1h0m0 10h0m0 8h0m0 19h0m0 6h0m0 4h0m1-92h0m0 42h0m0 42h0m1 7h0m0 15h0m1-35h0m0 5h0m0 15h0m1-81h0m0 78h0m0 4h0m1 10h0m0 2h0m1-98h0m0 33h0m0 28h0m0 5h0m0 6h0m0 8h0m0 3h0m0 7h0m0 1h0m0 3h0m1-45h0m0 16h0m0 5h0m0 1h0m1-33h0m0 12h0m0 15h0m0 10h0m0 9h0m1-99h0m0 48h0m0 25h0m0 24h0m1-43h0m0 44h0m1-29h0m0 2h0m0 28h0m1-78h0m0 16h0m0 6h0m0 2h0m0 43h0m0 12h0m0 2h0m1-45h0m0 2h0m0 15h0m0 12h0m1-53h0m0 4h0m0 34h0m0 1h0m0 18h0m1-55h0m0 6h0m0 35h0m0 8h0m0 28h0m0 3h0m1-60h0m0 15h0m0 2h0m0 34h0m0 3h0m1-117h0m0 45h0m0 22h0m0 11h0m0 9h0m1 12h0m0 15h0m0 5h0m1-75h0m0 74h0m1-31h0m1-92h0m0 112h0m0 1h0m0 11h0m0 1h0m1-94h0m0 34h0m0 26h0m0 14h0m0 9h0m1-113h0m0 84h0m0 28h0m0 4h0m0 5h0m0 3h0m1-70h0m0 14h0m1 17h0m0 18h0m0 20h0m0 8h0m1-8h0m1-74h0m0 28h0m0 17h0m0 17h0m0 5h0m1-13h0m1-55h0m0 67h0m1-89h0m0 61h0m0 12h0m1-56h0m0 36h0m0 11h0m0 6h0m0 8h0m0 6h0m0 10h0m1-69h0m0 31h0m0 45h0m1-84h0m0 7h0m1-31h0m0 44h0m0 52h0m0 7h0m1-102h0m0 3h0m0 28h0m0 16h0m0 11h0m1-13h0m0 1h0m0 54h0m1-55h0m0 32h0m0 15h0m1-32h0m1-57h0m0 29h0m0 1h0m0 4h0m0 25h0m1-56h0m1 21h0m0 7h0m0 11h0m0 8h0m0 3h0m0 9h0m0 20h0m1-31h0m0 18h0m0 20h0m0 10h0m1-93h0m0 26h0m0 17h0m1 37h0m1-99h0m0 103h0m1-97h0m0 37h0m0 55h0m1-39h0m0 33h0m2-9h0m0 10h0m1-50h0m0 39h0m0 9h0m1-49h0m0 10h0m0 9h0m0 4h0m0 24h0m1-73h0m0 45h0m0 24h0m1-86h0m0 23h0m0 13h0m0 7h0m0 37h0m0 14h0m1-54h0m0 16h0m0 22h0m1-65h0m0 2h0m0 14h0m0 27h0m0 2h0m0 11h0m0 9h0m1-66h0m0 60h0m0 4h0m1-68h0m0 22h0m1-3h0m0 15h0m1-39h0m0 48h0m1-50h0m0 18h0m0 26h0m0 15h0m2-59h0m0 1h0m0 9h0m0 27h0m1-40h0m0 22h0m0 4h0m1-18h0m0 41h0m0 5h0m1-30h0m0 32h0m1-48h0m0 24h0m1-17h0m0 32h0m2-4h0m0 7h0m1-45h0m0 45h0m1-24h0m0 5h0m2-17h0m0 5h0m0 28h0m1-38h0m0 9h0m1 24h0m1-18h0m1 14h0m3-26h0m1 3h0m0 23h0m2-21h0m0 15h0m2 3h0m1-3h0m1-9h0m1-9h0m1 7h0m0 4h0m1 8h0m3-3h0m0 3h0" stroke="#2f7cc1" stroke-width="2.4" stroke-linecap="round" fill="none"/>
<path transform="scale(0.5) translate(.5 .5)" d="M53 413h0m0 5h0m1-17h0m0 80h0m1-63h0m0 1h0m1-21h0m0 38h0m1-116h0m0 108h0m1-102h0m0 4h0m0 49h0m0 104h0m1-119h0m0 5h0m0 101h0m1-79h0m0 1h0m0 9h0m0 15h0m0 10h0m1-101h0m0 24h0m0 4h0m0 27h0m0 15h0m0 18h0m0 2h0m1-94h0m0 9h0m0 25h0m0 2h0m0 5h0m0 2h0m0 41h0m1-90h0m0 17h0m0 10h0m0 16h0m0 2h0m0 4h0m0 47h0m0 15h0m0 9h0m0 5h0m1-81h0m0 26h0m0 17h0m1-76h0m0 2h0m0 1h0m0 3h0m0 11h0m0 13h0m0 15h0m0 16h0m0 82h0m1-144h0m0 23h0m0 25h0m0 55h0m0 29h0m1-135h0m0 36h0m0 9h0m0 30h0m1-85h0m0 12h0m0 20h0m0 17h0m0 25h0m0 15h0m1-89h0m0 23h0m0 14h0m0 34h0m0 8h0m0 5h0m0 28h0m0 15h0m0 31h0m1-145h0m0 5h0m0 14h0m0 43h0m0 22h0m0 6h0m0 22h0m0 43h0m1-168h0m0 17h0m0 7h0m0 21h0m0 16h0m0 7h0m0 6h0m0 21h0m0 2h0m0 12h0m1-117h0m0 1h0m0 15h0m0 9h0m0 8h0m0 20h0m0 14h0m0 1h0m0 33h0m0 2h0m1-65h0m0 5h0m0 8h0m0 53h0m1-67h0m0 18h0m0 38h0m0 16h0m0 12h0m1-117h0m0 18h0m0 87h0m0 13h0m1-122h0m0 24h0m0 25h0m0 5h0m0 30h0m0 5h0m0 35h0m0 2h0m0 27h0m0 24h0m1-87h0m0 9h0m0 10h0m0 6h0m1-121h0m0 21h0m0 65h0m0 20h0m0 1h0m0 1h0m1-118h0m0 13h0m0 8h0m0 10h0m0 13h0m0 35h0m0 41h0m0 79h0m1-194h0m0 4h0m0 2h0m0 9h0m0 8h0m0 20h0m0 1h0m0 1h0m0 13h0m0 10h0m0 118h0m1-181h0m0 3h0m0 6h0m0 22h0m0 4h0m0 14h0m0 16h0m0 3h0m0 16h0m0 40h0m1-133h0m0 21h0m0 24h0m0 1h0m0 12h0m0 7h0m0 5h0m0 12h0m0 1h0m0 45h0m1-115h0m0 56h0m0 35h0m0 7h0m0 70h0m1-167h0m0 4h0m0 2h0m0 10h0m0 17h0m0 24h0m0 45h0m0 24h0m0 4h0m1-96h0m0 7h0m0 11h0m0 29h0m0 11h0m0 11h0m0 6h0m0 28h0m1-138h0m0 2h0m0 1h0m0 28h0m0 25h0m0 6h0m0 5h0m0 18h0m0 19h0m0 14h0m0 6h0m1-112h0m0 5h0m0 15h0m0 5h0m0 21h0m0 9h0m0 58h0m0 29h0m1-155h0m0 11h0m0 9h0m0 29h0m0 11h0m0 20h0m0 1h0m1-75h0m0 1h0m0 35h0m0 14h0m0 3h0m0 4h0m0 2h0m0 5h0m0 10h0m0 72h0m1-137h0m0 13h0m0 7h0m0 17h0m0 5h0m0 13h0m0 8h0m0 21h0m0 32h0m1-120h0m0 76h0m0 6h0m0 98h0m1-149h0m0 14h0m1-15h0m0 2h0m0 9h0m0 1h0m0 33h0m1-78h0m0 14h0m0 7h0m0 8h0m0 57h0m0 10h0m1-106h0m0 17h0m0 3h0m0 2h0m0 54h0m0 29h0m0 15h0m1-68h0m0 11h0m0 9h0m0 12h0m0 21h0m1-94h0m0 38h0m0 9h0m0 2h0m0 39h0m0 21h0m0 20h0m1-133h0m0 44h0m0 4h0m1-46h0m0 5h0m0 1h0m0 1h0m1-5h0m0 8h0m0 15h0m0 12h0m0 23h0m1-23h0m0 16h0m0 98h0m1-150h0m0 3h0m0 10h0m0 5h0m0 7h0m0 6h0m0 26h0m0 9h0m0 6h0m0 10h0m0 20h0m0 2h0m0 57h0m1-165h0m0 32h0m0 34h0m0 29h0m0 18h0m0 58h0m1-142h0m0 4h0m0 30h0m0 3h0m0 15h0m0 30h0m1-109h0m0 3h0m0 15h0m0 18h0m0 19h0m0 7h0m0 11h0m0 16h0m0 9h0m0 12h0m1-76h0m0 3h0m0 9h0m0 5h0m0 41h0m1-74h0m0 41h0m0 19h0m1-70h0m0 12h0m0 4h0m0 5h0m0 5h0m0 2h0m0 6h0m0 27h0m0 22h0m0 14h0m1-102h0m0 4h0m0 15h0m0 3h0m0 4h0m0 8h0m0 2h0m1-40h0m0 13h0m0 1h0m0 18h0m0 39h0m0 27h0m0 11h0m0 9h0m1-115h0m0 11h0m0 1h0m0 15h0m0 12h0m0 41h0m0 3h0m0 27h0m1-79h0m0 6h0m0 69h0m0 6h0m1-103h0m0 2h0m0 8h0m0 16h0m0 41h0m0 17h0m0 12h0m1-39h0m0 10h0m0 106h0m1-175h0m0 11h0m0 23h0m0 24h0m0 1h0m0 3h0m0 18h0m0 28h0m1-86h0m0 7h0m0 19h0m0 32h0m0 12h0m0 8h0m0 2h0m1-111h0m0 82h0m0 34h0m0 6h0m1-96h0m0 46h0m0 10h0m0 2h0m0 20h0m1-78h0m0 9h0m0 37h0m0 8h0m0 18h0m0 54h0m1-128h0m0 5h0m0 58h0m1-76h0m0 24h0m0 2h0m0 31h0m1-64h0m0 3h0m0 12h0m0 11h0m0 42h0m0 8h0m0 3h0m1-20h0m0 1h0m0 3h0m1-55h0m0 12h0m0 3h0m0 2h0m1-13h0m0 72h0m1-76h0m0 6h0m0 11h0m0 7h0m0 18h0m0 9h0m0 31h0m1-85h0m0 26h0m0 26h0m0 3h0m0 26h0m0 9h0m0 34h0m1-122h0m0 47h0m1-33h0m0 30h0m0 36h0m0 8h0m0 29h0m1-112h0m0 105h0m0 8h0m1-1h0m1-100h0m0 1h0m0 31h0m0 3h0m1 27h0m0 18h0m1-91h0m1 8h0m0 31h0m0 6h0m0 75h0m0 29h0m1-150h0m0 5h0m0 42h0m0 4h0m0 9h0m0 7h0m1-22h0m0 53h0m1-86h0m0 22h0m0 30h0m0 2h0m0 50h0m1-77h0m0 6h0m0 18h0m1-26h0m0 14h0m0 21h0m0 34h0m1-99h0m0 46h0m0 23h0m0 32h0m1-68h0m1 65h0m0 11h0m0 22h0m1-50h0m0 14h0m0 21h0m0 22h0m0 24h0m1-88h0m0 3h0m0 3h0m0 43h0m1-95h0m0 19h0m0 9h0m0 56h0m1-47h0m1-35h0m0 33h0m1-23h0m0 5h0m0 11h0m0 26h0m1-29h0m0 25h0m1-35h0m0 13h0m0 38h0m0 4h0m2-60h0m0 2h0m0 30h0m0 54h0m1-92h0m0 1h0m1 7h0m0 24h0m0 62h0m1-98h0m0 6h0m0 4h0m0 8h0m0 22h0m0 58h0m1-87h0m0 53h0m1-55h0m0 6h0m0 19h0m0 9h0m0 39h0m0 1h0m1-81h0m0 24h0m0 43h0m1-64h0m0 6h0m0 22h0m0 8h0m1-4h0m0 4h0m0 4h0m0 11h0m0 5h0m0 6h0m0 50h0m1-102h0m0 15h0m0 41h0m1-68h0m1 31h0m0 27h0m1-50h0m0 31h0m0 19h0m1 11h0m1-40h0m0 24h0m1-15h0m0 2h0m0 19h0m1-54h0m0 14h0m0 4h0m1 15h0m0 6h0m0 6h0m1 38h0m1-64h0m0 26h0m1-3h0m0 31h0m2-29h0m3-3h0m1-6h0m4-9h0m0 2h0m1 27h0m2-41h0m0 7h0m1-1h0m0 33h0m3-35h0m0 19h0m2-24h0m0 12h0m1 19h0m1-17h0m0 11h0m1-15h0m1 23h0m2-23h0m1-3h0m5 3h0m1 14h0m1-21h0m2 14h0m1-1h0" stroke="#f48b25" stroke-width="2.4" stroke-linecap="round" fill="none"/>
<path transform="scale(0.5) translate(.5 .5)" d="M48 469h0m0 1h0m0 8h0m2-22h0m0 2h0m1 22h0m0 3h0m1-22h0m0 3h0m0 13h0m0 7h0m1-40h0m0 12h0m0 12h0m1-23h0m1-6h0m0 42h0m0 2h0m1-62h0m0 6h0m0 21h0m0 2h0m0 16h0m0 2h0m1-31h0m0 45h0m0 8h0m1-59h0m0 10h0m0 25h0m0 5h0m0 9h0m1-45h0m0 59h0m1-65h0m0 32h0m0 30h0m1-83h0m0 69h0m1-39h0m0 17h0m0 25h0m2-19h0m0 3h0m0 28h0m1-76h0m0 37h0m0 12h0m0 9h0m0 21h0m1-60h0m0 11h0m0 18h0m0 12h0m0 12h0m1-76h0m0 16h0m1-28h0m0 43h0m1-24h0m0 5h0m0 37h0m0 35h0m1-65h0m0 43h0m1-39h0m0 24h0m1-74h0m0 70h0m0 5h0m0 9h0m0 30h0m1-113h0m0 36h0m0 5h0m0 38h0m0 2h0m0 9h0m1-44h0m0 15h0m0 29h0m1-76h0m0 9h0m0 25h0m0 7h0m0 6h0m0 13h0m0 24h0m0 1h0m1-52h0m0 31h0m0 7h0m0 21h0m1-13h0m1-71h0m0 25h0m0 9h0m0 45h0m0 2h0m1-67h0m0 53h0m0 9h0m1-52h0m0 10h0m0 25h0m0 9h0m0 6h0m1-56h0m0 1h0m0 25h0m0 17h0m1-11h0m0 11h0m0 13h0m1-40h0m0 19h0m0 36h0m1-30h0m0 12h0m1-18h0m0 17h0m0 16h0m1-51h0m0 2h0m0 8h0m0 23h0m1-27h0m0 3h0m1-27h0m0 63h0m1-79h0m0 3h0m0 2h0m0 4h0m0 16h0m0 52h0m1-76h0m0 34h0m0 34h0m0 1h0m1-104h0m0 16h0m0 5h0m0 28h0m0 2h0m0 50h0m0 4h0m0 11h0m0 6h0m1-61h0m0 23h0m1-36h0m0 27h0m0 21h0m1-30h0m0 10h0m0 40h0m1-71h0m0 13h0m0 14h0m0 3h0m0 24h0m0 2h0m0 4h0m1-20h0m0 10h0m0 18h0m1-53h0m0 25h0m0 19h0m1-26h0m1-63h0m0 3h0m0 52h0m0 10h0m0 20h0m0 15h0m0 12h0m1-105h0m0 28h0m0 3h0m0 1h0m0 10h0m1-1h0m0 8h0m0 3h0m0 4h0m1-71h0m0 47h0m0 40h0m0 4h0m1-15h0m0 24h0m0 9h0m0 5h0m1-110h0m0 2h0m0 34h0m0 61h0m1-88h0m0 72h0m0 2h0m1-48h0m0 10h0m0 1h0m1-42h0m0 5h0m0 16h0m0 45h0m0 38h0m1-133h0m0 41h0m0 23h0m0 34h0m0 1h0m0 9h0m0 13h0m0 9h0m1-118h0m0 46h0m0 26h0m0 7h0m0 1h0m1-17h0m0 8h0m1-41h0m0 10h0m0 16h0m0 19h0m1-85h0m0 38h0m0 2h0m0 3h0m0 6h0m0 13h0m0 13h0m0 3h0m0 8h0m0 31h0m0 14h0m0 4h0m1-67h0m0 12h0m0 10h0m0 34h0m1 7h0m1-111h0m0 19h0m0 53h0m0 34h0m1-40h0m0 1h0m0 3h0m0 18h0m0 9h0m1-84h0m0 1h0m0 7h0m0 3h0m0 3h0m0 11h0m0 16h0m0 6h0m0 12h0m0 16h0m0 22h0m1-114h0m0 52h0m0 21h0m0 5h0m0 6h0m0 6h0m0 1h0m0 25h0m0 5h0m1-102h0m0 6h0m0 51h0m1-76h0m0 15h0m0 51h0m0 39h0m0 7h0m1-100h0m0 67h0m0 5h0m0 16h0m0 2h0m1 9h0m1-115h0m0 14h0m0 49h0m0 7h0m0 15h0m0 16h0m1-20h0m0 11h0m2-97h0m0 41h0m0 69h0m1-37h0m1-61h0m0 11h0m1 50h0m0 27h0m0 5h0m1-5h0m0 11h0m1-61h0m0 10h0m0 20h0m1-80h0m0 73h0m0 28h0m0 12h0m1-62h0m0 10h0m0 34h0m0 27h0m1-75h0m0 10h0m0 61h0m1-48h0m0 3h0m0 19h0m0 3h0m0 16h0m1-50h0m0 37h0m1-44h0m0 6h0m0 10h0m0 33h0m0 14h0m1-109h0m0 108h0m1-71h0m0 14h0m1-19h0m1 12h0m0 13h0m0 3h0m0 3h0m0 18h0m0 15h0m0 13h0m1-104h0m0 12h0m0 22h0m0 26h0m0 27h0m0 10h0m0 4h0m0 7h0m1-66h0m0 20h0m0 32h0m1-116h0m0 28h0m0 34h0m0 18h0m0 16h0m0 22h0m0 7h0m1-86h0m0 71h0m0 2h0m0 4h0m1-12h0m0 6h0m0 5h0m1-43h0m0 3h0m0 4h0m0 4h0m1-15h0m0 32h0m0 31h0m2-60h0m0 11h0m0 21h0m0 22h0m1-65h0m0 10h0m0 50h0m0 12h0m1-84h0m0 41h0m0 11h0m0 19h0m1-74h0m0 8h0m0 19h0m0 21h0m1-54h0m0 32h0m0 21h0m0 21h0m0 9h0m0 6h0m1-103h0m0 11h0m0 13h0m0 24h0m0 3h0m0 5h0m0 25h0m1-69h0m0 56h0m0 29h0m1-82h0m0 71h0m1-45h0m0 26h0m1 14h0m1-54h0m0 8h0m0 17h0m0 27h0m0 11h0m0 6h0m1-122h0m0 79h0m0 10h0m0 5h0m0 15h0m0 7h0m1-82h0m0 32h0m0 18h0m0 5h0m0 3h0m1-74h0m0 41h0m0 13h0m0 23h0m0 17h0m1-87h0m2 15h0m0 3h0m0 5h0m0 6h0m0 24h0m1-10h0m0 7h0m0 27h0m0 3h0m0 11h0m1-92h0m0 62h0m0 12h0m1-83h0m0 8h0m0 52h0m0 15h0m0 2h0m0 7h0m1-51h0m0 5h0m0 21h0m0 5h0m1-45h0m0 5h0m0 36h0m0 1h0m1-70h0m0 15h0m0 51h0m0 6h0m0 4h0m1-63h0m0 18h0m0 38h0m0 12h0m1-40h0m0 12h0m1 6h0m0 8h0m0 10h0m1-57h0m0 30h0m0 6h0m0 2h0m1-32h0m0 1h0m1-3h0m0 12h0m1-18h0m0 14h0m0 20h0m0 3h0m1-20h0m0 11h0m2-4h0m0 7h0m0 9h0m3-31h0m0 8h0m2-9h0m0 3h0m1-12h0m0 6h0m0 4h0m1 5h0m0 8h0m0 2h0m0 2h0m0 14h0m1-20h0m3-11h0m0 15h0m1-5h0m0 9h0m0 2h0m2-13h0m2 6h0m0 4h0m2-17h0m0 8h0m1-1h0m0 7h0m2-18h0m1 10h0m0 7h0m4-3h0" stroke="#2f7cc1" stroke-width="2.4" stroke-linecap="round" fill="none"/>
<path transform="scale(0.5) translate(.5 .5)" d="M50 481h0m1-47h0m2-19h0m0 1h0m1-10h0m0 35h0m3-15h0m0 10h0m0 5h0m1-93h0m0 62h0m0 33h0m0 10h0m1-52h0m1-81h0m0 6h0m0 44h0m0 22h0m0 17h0m0 6h0m0 13h0m1-80h0m0 16h0m0 34h0m0 14h0m0 72h0m1-148h0m0 3h0m0 19h0m0 7h0m0 32h0m0 28h0m0 3h0m0 5h0m0 1h0m1-61h0m0 13h0m0 28h0m1-87h0m0 15h0m0 5h0m0 6h0m0 9h0m0 8h0m0 19h0m0 25h0m0 5h0m0 72h0m1-179h0m0 26h0m0 2h0m0 2h0m0 29h0m0 40h0m0 8h0m1-63h0m0 34h0m0 6h0m1-82h0m0 51h0m0 1h0m0 1h0m0 8h0m0 61h0m0 56h0m1-175h0m0 35h0m0 52h0m0 30h0m1-119h0m0 4h0m0 13h0m0 18h0m0 2h0m0 3h0m0 28h0m0 45h0m1-99h0m0 6h0m0 26h0m0 12h0m0 27h0m1-91h0m0 12h0m0 36h0m0 36h0m0 22h0m1-105h0m0 13h0m0 5h0m0 13h0m0 15h0m0 3h0m0 7h0m0 8h0m0 11h0m0 40h0m1-116h0m0 35h0m0 19h0m0 34h0m0 9h0m1-65h0m0 9h0m0 9h0m0 14h0m0 47h0m1-124h0m0 16h0m0 12h0m0 30h0m0 18h0m0 17h0m0 24h0m0 1h0m0 5h0m1-120h0m0 12h0m0 40h0m0 6h0m0 15h0m0 6h0m0 28h0m0 15h0m1-109h0m0 19h0m0 8h0m0 13h0m0 2h0m0 1h0m1-56h0m0 15h0m0 44h0m0 11h0m0 9h0m0 13h0m0 46h0m1-106h0m0 22h0m0 16h0m0 25h0m0 20h0m0 10h0m1-137h0m0 12h0m0 3h0m0 7h0m0 1h0m0 10h0m0 7h0m0 16h0m0 7h0m0 15h0m0 4h0m0 3h0m0 27h0m0 25h0m0 4h0m0 12h0m1-145h0m0 14h0m0 32h0m0 39h0m0 8h0m0 47h0m1-132h0m0 29h0m0 1h0m0 61h0m0 14h0m0 42h0m1-159h0m0 25h0m0 6h0m0 8h0m0 35h0m0 23h0m0 37h0m1-122h0m0 8h0m0 2h0m0 8h0m0 24h0m0 2h0m0 13h0m0 22h0m0 9h0m0 32h0m0 4h0m1-113h0m0 20h0m0 3h0m0 13h0m0 3h0m0 1h0m0 16h0m0 9h0m0 17h0m0 36h0m1-96h0m0 42h0m0 38h0m0 25h0m1-117h0m0 6h0m0 1h0m0 19h0m0 3h0m0 34h0m1-77h0m0 4h0m0 4h0m0 27h0m0 4h0m0 5h0m0 17h0m1-53h0m0 13h0m0 3h0m0 16h0m0 6h0m0 2h0m0 5h0m0 5h0m0 2h0m0 25h0m0 8h0m0 12h0m0 20h0m1-134h0m0 6h0m0 23h0m0 20h0m0 6h0m0 3h0m0 26h0m0 22h0m0 7h0m1-108h0m0 21h0m0 54h0m0 40h0m0 1h0m0 67h0m1-176h0m0 12h0m0 1h0m0 4h0m0 25h0m0 14h0m0 7h0m0 44h0m0 8h0m1-124h0m0 5h0m0 11h0m0 13h0m0 8h0m0 32h0m0 23h0m0 6h0m1-79h0m0 8h0m0 2h0m0 3h0m0 11h0m0 23h0m0 10h0m0 43h0m1-115h0m0 14h0m0 16h0m0 9h0m0 6h0m0 49h0m0 21h0m1-109h0m0 40h0m0 104h0m0 19h0m1-160h0m0 4h0m0 36h0m0 1h0m0 3h0m0 11h0m0 6h0m0 1h0m0 20h0m0 2h0m0 29h0m0 3h0m0 35h0m1-163h0m0 1h0m0 37h0m0 1h0m0 15h0m0 3h0m0 42h0m1-102h0m0 22h0m0 13h0m0 89h0m1-119h0m0 1h0m0 9h0m0 35h0m0 2h0m0 2h0m0 1h0m0 51h0m0 89h0m1-153h0m0 6h0m0 17h0m0 6h0m0 11h0m0 2h0m0 56h0m1-129h0m0 27h0m0 6h0m0 2h0m0 2h0m0 49h0m1-99h0m0 20h0m0 5h0m0 21h0m0 4h0m0 4h0m0 1h0m0 5h0m0 47h0m0 63h0m0 11h0m1-177h0m0 71h0m0 11h0m0 2h0m1-48h0m0 3h0m0 25h0m0 40h0m1-101h0m0 4h0m0 33h0m0 6h0m0 7h0m0 4h0m1-29h0m0 6h0m0 1h0m0 63h0m1-55h0m1-37h0m0 3h0m0 5h0m0 8h0m0 39h0m0 26h0m1-78h0m0 15h0m0 4h0m0 4h0m0 4h0m0 8h0m0 25h0m1-64h0m0 11h0m0 13h0m0 46h0m0 7h0m0 6h0m0 30h0m0 10h0m0 3h0m1-127h0m0 21h0m0 21h0m1-28h0m0 1h0m0 3h0m0 9h0m0 4h0m0 49h0m0 63h0m1-130h0m0 10h0m0 1h0m0 43h0m0 43h0m1-102h0m0 1h0m0 4h0m0 61h0m0 70h0m1-76h0m0 10h0m0 1h0m0 19h0m0 79h0m0 4h0m1-160h0m0 5h0m1-11h0m0 8h0m0 3h0m0 10h0m0 49h0m0 9h0m0 5h0m0 14h0m0 18h0m1-123h0m0 29h0m0 55h0m0 19h0m0 22h0m1-132h0m0 20h0m0 1h0m0 69h0m1-54h0m0 110h0m1-141h0m0 27h0m0 44h0m1-66h0m0 9h0m0 6h0m1 55h0m0 11h0m0 23h0m0 26h0m0 45h0m1-177h0m0 19h0m0 63h0m0 2h0m1-81h0m0 9h0m0 4h0m0 44h0m0 19h0m0 3h0m0 6h0m0 9h0m0 5h0m0 23h0m1-103h0m0 68h0m0 31h0m1-119h0m0 4h0m0 6h0m0 45h0m0 18h0m1-69h0m0 11h0m0 96h0m1-14h0m0 42h0m1-132h0m0 3h0m0 105h0m0 1h0m0 28h0m1-125h0m0 62h0m1 3h0m0 11h0m0 27h0m1-118h0m0 1h0m0 3h0m0 1h0m0 43h0m0 1h0m1 9h0m0 22h0m0 2h0m1 80h0m1-72h0m1 35h0m1-75h0m0 12h0m0 9h0m0 20h0m0 8h0m0 1h0m2-43h0m0 53h0m1-73h0m0 2h0m0 24h0m0 3h0m0 35h0m0 19h0m0 10h0m1-75h0m0 1h0m0 8h0m0 34h0m1-35h0m1-14h0m0 14h0m1 9h0m1 6h0m1-9h0m1-6h0m1-21h0m0 7h0m0 4h0m0 17h0m0 10h0m0 24h0m1-58h0m0 7h0m0 28h0m0 1h0m1-13h0m0 32h0m1-61h0m0 1h0m0 15h0m1-1h0m0 4h0m1-18h0m0 42h0m0 40h0m2-56h0m1-19h0m0 4h0m0 19h0m0 12h0m1 8h0m0 24h0m0 5h0m2-90h0m0 4h0m0 54h0m0 52h0m1-81h0m0 13h0m0 43h0m1-65h0m1-12h0m0 79h0m1-53h0m0 42h0m0 8h0m1 14h0m0 8h0m1-93h0m0 21h0m0 49h0m1-74h0m0 32h0m0 17h0m1-42h0m0 23h0m1-26h0m0 11h0m0 17h0m0 20h0m0 20h0m1-59h0m0 24h0m2-14h0m0 1h0m0 1h0m0 46h0m1-17h0m1-32h0m1 45h0m1-53h0m0 22h0m0 1h0m1-28h0m1 58h0m0 5h0m2-53h0m2 23h0m3-25h0m2 8h0m0 23h0m1 11h0m5-23h0m1-14h0m0 10h0m1 12h0m1-26h0m0 36h0m4-21h0m4-3h0m2 1h0m1 3h0" stroke="#f48b25" stroke-width="2.4" stroke-linecap="round" fill="none"/>
<path transform="scale(0.5) translate(.5 .5)" d="M47 482h0m2-27h0m1-6h0m1 19h0m1-2h0m1 13h0m0 2h0m1-13h0m0 2h0m2-37h0m0 18h0m0 1h0m0 31h0m2-53h0m0 61h0m1-75h0m0 23h0m0 32h0m1-58h0m0 10h0m0 17h0m0 4h0m0 19h0m0 27h0m1-64h0m0 14h0m0 21h0m0 14h0m0 18h0m1-39h0m0 32h0m1-58h0m0 1h0m0 6h0m0 11h0m0 19h0m1-18h0m1-23h0m0 27h0m0 5h0m0 9h0m0 7h0m0 7h0m1-63h0m0 8h0m0 6h0m0 28h0m0 5h0m1-40h0m0 9h0m0 34h0m1-77h0m0 17h0m0 77h0m1 11h0m1-38h0m0 21h0m1-42h0m0 28h0m1-62h0m0 24h0m0 16h0m1-28h0m0 50h0m1-27h0m0 6h0m0 18h0m0 14h0m0 16h0m1-55h0m0 44h0m0 1h0m0 11h0m1-54h0m0 38h0m0 3h0m1-55h0m0 21h0m0 37h0m1-44h0m0 4h0m0 15h0m0 26h0m0 10h0m0 2h0m1-63h0m0 32h0m0 18h0m0 2h0m0 1h0m0 11h0m1-64h0m0 9h0m0 2h0m0 20h0m0 3h0m0 3h0m0 4h0m0 22h0m0 4h0m2-26h0m0 15h0m1-68h0m0 17h0m1 17h0m0 16h0m1 5h0m0 10h0m0 9h0m1-122h0m0 54h0m0 10h0m0 17h0m0 47h0m1-67h0m0 11h0m0 8h0m1-65h0m0 89h0m0 18h0m1-55h0m0 2h0m1 18h0m0 11h0m0 26h0m1-73h0m0 34h0m0 10h0m0 24h0m1-104h0m0 3h0m0 15h0m0 5h0m0 45h0m0 8h0m0 14h0m0 13h0m1-83h0m0 38h0m0 35h0m0 4h0m0 17h0m1-101h0m0 37h0m0 3h0m0 10h0m0 7h0m0 28h0m1-85h0m0 27h0m0 10h0m0 45h0m0 3h0m1-116h0m0 21h0m0 47h0m0 15h0m0 22h0m0 18h0m1-69h0m0 60h0m0 14h0m1-51h0m0 43h0m0 1h0m1-123h0m0 24h0m0 46h0m0 3h0m0 39h0m0 6h0m0 6h0m1-89h0m0 73h0m1-78h0m0 15h0m0 17h0m0 35h0m0 22h0m1-113h0m0 27h0m0 17h0m0 23h0m0 1h0m0 34h0m1-111h0m0 56h0m0 75h0m1-56h0m0 49h0m0 4h0m1-104h0m0 80h0m0 22h0m1-56h0m0 26h0m1-53h0m0 10h0m0 25h0m0 14h0m0 4h0m0 3h0m0 16h0m1-39h0m0 3h0m0 12h0m0 22h0m1 1h0m1-99h0m0 31h0m0 7h0m0 33h0m0 16h0m0 21h0m0 7h0m1-73h0m0 6h0m0 28h0m0 19h0m0 1h0m0 4h0m1 9h0m0 6h0m0 1h0m1-69h0m0 7h0m0 2h0m0 10h0m0 37h0m0 17h0m1-73h0m0 19h0m0 22h0m0 16h0m0 10h0m1-55h0m1 12h0m0 39h0m1-89h0m0 54h0m0 9h0m1-41h0m0 32h0m0 11h0m0 2h0m1-60h0m0 11h0m0 44h0m0 1h0m0 19h0m0 9h0m1-66h0m1-6h0m0 16h0m0 53h0m0 5h0m1-80h0m0 15h0m0 42h0m0 20h0m1-52h0m0 45h0m1-59h0m0 14h0m0 10h0m0 38h0m1-88h0m0 24h0m1-51h0m0 62h0m0 32h0m0 30h0m1-108h0m0 64h0m1-38h0m0 39h0m0 5h0m1-66h0m0 67h0m0 25h0m0 1h0m0 10h0m1-76h0m0 11h0m0 46h0m0 11h0m1-63h0m0 27h0m0 9h0m0 33h0m1-50h0m0 27h0m1-61h0m0 22h0m0 2h0m0 44h0m1-102h0m0 70h0m0 1h0m0 11h0m0 2h0m1-88h0m0 21h0m0 8h0m0 41h0m1-17h0m0 8h0m0 13h0m0 14h0m0 26h0m1-107h0m0 16h0m0 9h0m0 4h0m0 4h0m0 36h0m1-64h0m0 24h0m0 8h0m0 31h0m0 5h0m0 21h0m0 18h0m1-107h0m0 71h0m0 16h0m0 3h0m0 21h0m1-53h0m0 24h0m0 28h0m1-123h0m0 109h0m1-116h0m0 105h0m3-84h0m0 42h0m0 13h0m0 24h0m1-96h0m0 65h0m0 12h0m0 3h0m1-53h0m0 39h0m0 2h0m0 6h0m0 22h0m0 26h0m1-11h0m1-97h0m0 54h0m0 4h0m1-17h0m0 8h0m0 12h0m0 3h0m0 20h0m0 27h0m1-25h0m1-43h0m0 4h0m1-5h0m0 12h0m0 8h0m1-76h0m0 42h0m0 24h0m1-9h0m0 17h0m1-22h0m0 1h0m0 3h0m0 31h0m1-33h0m0 51h0m0 3h0m1-117h0m0 35h0m0 15h0m0 51h0m0 12h0m0 7h0m1-69h0m0 16h0m0 58h0m1-88h0m0 35h0m0 21h0m0 18h0m1-81h0m0 67h0m0 14h0m0 7h0m1-79h0m0 48h0m0 19h0m0 7h0m1-39h0m0 18h0m0 9h0m1-77h0m0 23h0m0 10h0m0 46h0m1-51h0m0 15h0m0 29h0m0 1h0m1-92h0m0 73h0m0 11h0m1-53h0m0 18h0m0 32h0m1-30h0m0 18h0m1 9h0m0 7h0m0 10h0m1-51h0m0 4h0m0 12h0m0 10h0m0 1h0m1-48h0m0 28h0m0 12h0m0 17h0m0 8h0m1-80h0m0 60h0m0 4h0m1-44h0m0 26h0m0 50h0m1-93h0m0 11h0m0 53h0m0 12h0m1-77h0m1 74h0m1-70h0m0 15h0m0 19h0m0 1h0m0 17h0m0 7h0m1-59h0m0 17h0m1-3h0m0 28h0m1-17h0m0 19h0m0 4h0m2-27h0m0 18h0m1-37h0m0 15h0m0 10h0m0 12h0m0 1h0m1-24h0m0 22h0m1-16h0m0 10h0m0 21h0m1-13h0m0 7h0m0 1h0m0 3h0m1-37h0m0 33h0m1-37h0m0 5h0m0 8h0m0 1h0m1 5h0m0 6h0m1-31h0m0 22h0m0 21h0m0 3h0m3-12h0m1-25h0m1 16h0m1-20h0m1 4h0m1-3h0m2 15h0m0 12h0m3-12h0m1-7h0m5 10h0" stroke="#2f7cc1" stroke-width="2.4" stroke-linecap="round" fill="none"/>
<path transform="scale(0.5) translate(.5 .5)" d="M55 394h0m1 32h0m0 14h0m0 4h0m0 4h0m1-44h0m0 20h0m1-87h0m0 7h0m0 88h0m1-100h0m0 10h0m0 16h0m0 56h0m0 51h0m1-69h0m0 8h0m0 83h0m1-112h0m0 5h0m0 11h0m1-26h0m0 11h0m0 25h0m1-39h0m0 15h0m0 11h0m0 5h0m0 16h0m0 24h0m1-109h0m0 12h0m0 58h0m0 16h0m1-93h0m0 1h0m0 33h0m0 12h0m0 2h0m0 4h0m0 69h0m0 42h0m0 18h0m1-178h0m0 15h0m0 24h0m0 11h0m0 48h0m0 76h0m1-189h0m0 17h0m0 9h0m0 10h0m0 18h0m0 21h0m0 3h0m0 20h0m0 17h0m1-88h0m0 12h0m0 8h0m0 16h0m0 3h0m0 41h0m0 2h0m0 43h0m1-138h0m0 50h0m0 33h0m1-98h0m0 5h0m0 12h0m0 2h0m0 25h0m0 33h0m0 35h0m0 26h0m1-123h0m0 18h0m0 8h0m0 43h0m0 9h0m0 4h0m0 1h0m1-98h0m0 14h0m0 12h0m0 12h0m0 13h0m0 12h0m0 14h0m0 7h0m0 44h0m0 4h0m1-84h0m0 3h0m0 23h0m0 14h0m0 47h0m1-129h0m0 15h0m0 12h0m0 16h0m0 4h0m0 7h0m1-46h0m0 35h0m0 12h0m0 5h0m0 2h0m0 26h0m0 17h0m1-124h0m0 15h0m0 9h0m0 25h0m0 23h0m0 24h0m0 16h0m0 40h0m1-134h0m0 15h0m0 11h0m0 8h0m0 11h0m0 3h0m0 3h0m0 7h0m0 12h0m0 34h0m0 25h0m1-150h0m0 26h0m0 18h0m0 1h0m0 5h0m0 6h0m0 15h0m0 4h0m0 8h0m0 24h0m0 95h0m1-185h0m0 24h0m0 5h0m0 5h0m0 3h0m0 3h0m0 10h0m0 22h0m0 36h0m0 50h0m0 10h0m1-172h0m0 3h0m0 2h0m0 11h0m0 1h0m0 12h0m0 7h0m0 1h0m0 10h0m0 61h0m1-108h0m0 22h0m0 18h0m0 9h0m0 7h0m0 3h0m0 6h0m0 114h0m1-170h0m0 7h0m0 7h0m0 2h0m0 8h0m0 13h0m0 6h0m0 5h0m0 1h0m0 7h0m0 29h0m1-107h0m0 5h0m0 9h0m0 22h0m0 3h0m0 15h0m0 14h0m0 1h0m0 66h0m1-95h0m0 69h0m0 13h0m1-85h0m0 7h0m0 13h0m0 4h0m0 13h0m0 24h0m0 17h0m0 17h0m1-82h0m0 14h0m0 7h0m0 12h0m0 13h0m0 1h0m0 35h0m0 73h0m1-186h0m0 14h0m0 62h0m0 1h0m0 2h0m0 64h0m1-137h0m0 5h0m0 14h0m0 15h0m0 3h0m0 61h0m0 68h0m1-175h0m0 11h0m0 3h0m0 4h0m0 31h0m0 41h0m1-54h0m0 1h0m0 1h0m0 13h0m0 4h0m0 1h0m0 2h0m0 38h0m0 48h0m1-136h0m0 2h0m0 7h0m0 13h0m0 9h0m0 6h0m0 10h0m0 3h0m0 29h0m1-88h0m0 17h0m0 2h0m0 12h0m0 6h0m0 38h0m0 30h0m0 15h0m0 8h0m0 9h0m1-135h0m0 30h0m0 6h0m0 4h0m0 1h0m0 3h0m0 9h0m0 5h0m0 8h0m0 4h0m0 50h0m1-111h0m0 5h0m0 1h0m0 18h0m0 8h0m0 18h0m0 3h0m0 18h0m0 9h0m0 16h0m0 5h0m0 2h0m1-102h0m0 10h0m0 11h0m0 5h0m1 4h0m0 35h0m0 2h0m0 43h0m0 59h0m1-174h0m0 7h0m0 28h0m0 2h0m0 15h0m1-42h0m0 3h0m0 4h0m0 15h0m0 19h0m0 3h0m0 74h0m1-128h0m0 9h0m0 2h0m0 20h0m0 28h0m0 10h0m1-68h0m0 12h0m0 47h0m0 27h0m0 6h0m0 10h0m0 27h0m1-14h0m0 8h0m0 27h0m1-156h0m0 2h0m0 9h0m0 27h0m0 16h0m0 21h0m0 44h0m1-76h0m0 6h0m0 2h0m0 60h0m1-90h0m0 8h0m0 13h0m0 27h0m0 5h0m0 13h0m0 36h0m1-116h0m0 9h0m0 31h0m0 3h0m0 30h0m0 50h0m1-122h0m0 6h0m0 28h0m0 22h0m0 8h0m0 8h0m0 16h0m1-92h0m0 3h0m0 2h0m0 25h0m0 11h0m0 20h0m0 15h0m0 40h0m0 2h0m1-119h0m0 5h0m0 18h0m0 16h0m0 4h0m0 59h0m1-88h0m0 17h0m0 88h0m1-111h0m0 29h0m0 18h0m1-35h0m0 10h0m0 40h0m0 21h0m0 15h0m1-101h0m0 8h0m0 7h0m0 5h0m0 2h0m0 35h0m0 117h0m1-174h0m0 15h0m0 15h0m0 66h0m0 43h0m0 38h0m1-177h0m0 3h0m0 23h0m0 7h0m0 40h0m0 4h0m0 30h0m1-110h0m0 152h0m0 36h0m1-190h0m0 37h0m0 37h0m0 10h0m0 39h0m0 39h0m1-65h0m0 3h0m1-97h0m0 28h0m0 6h0m0 19h0m0 10h0m0 21h0m0 78h0m0 14h0m1-167h0m0 55h0m0 3h0m0 17h0m0 6h0m0 28h0m1-97h0m0 55h0m0 26h0m0 47h0m1-122h0m0 8h0m0 23h0m1-42h0m0 3h0m0 29h0m0 72h0m0 35h0m0 3h0m1-134h0m0 11h0m0 19h0m0 28h0m1-75h0m0 7h0m0 2h0m0 1h0m0 2h0m0 18h0m0 25h0m0 55h0m1-111h0m0 3h0m0 46h0m0 31h0m0 12h0m1-21h0m0 8h0m0 2h0m1-81h0m0 13h0m0 47h0m0 98h0m1-145h0m0 2h0m0 33h0m0 29h0m1-75h0m0 4h0m0 3h0m0 8h0m0 4h0m0 1h0m0 73h0m0 34h0m1-123h0m0 12h0m0 3h0m0 36h0m1-55h0m0 47h0m0 15h0m0 10h0m0 24h0m0 44h0m0 32h0m1-115h0m0 32h0m0 11h0m1-94h0m0 6h0m0 35h0m0 5h0m0 3h0m0 2h0m0 19h0m0 62h0m1-132h0m0 31h0m0 31h0m0 8h0m0 30h0m1-102h0m0 8h0m0 31h0m0 58h0m0 5h0m1-50h0m0 8h0m0 16h0m0 16h0m1-42h0m0 3h0m0 2h0m0 53h0m1-53h0m1 8h0m0 7h0m0 13h0m0 63h0m1 3h0m1-112h0m0 6h0m0 27h0m0 23h0m1-51h0m1 3h0m0 54h0m0 1h0m0 9h0m1-71h0m0 17h0m0 6h0m0 8h0m0 23h0m0 18h0m0 48h0m1-116h0m1 45h0m0 8h0m0 8h0m0 46h0m2-83h0m0 18h0m1-49h0m0 38h0m0 38h0m1-64h0m0 29h0m0 11h0m0 14h0m1-65h0m0 2h0m0 35h0m1-23h0m0 26h0m1 58h0m1-64h0m0 24h0m0 18h0m1-51h0m0 1h0m0 15h0m0 16h0m1-37h0m0 48h0m0 17h0m1-72h0m0 1h0m0 15h0m0 3h0m0 12h0m0 11h0m1-43h0m0 81h0m1-86h0m0 23h0m0 65h0m1-90h0m0 11h0m0 18h0m0 5h0m1-5h0m0 12h0m0 14h0m1-62h0m0 3h0m0 27h0m0 14h0m0 3h0m1-8h0m0 6h0m1-39h0m0 10h0m0 15h0m0 20h0m1-18h0m0 25h0m0 11h0m0 21h0m1-69h0m0 3h0m0 2h0m0 1h0m0 15h0m1 23h0m0 24h0m2-57h0m0 13h0m0 31h0m3-49h0m0 4h0m0 10h0m1-23h0m0 25h0m1 12h0m2-26h0m0 15h0m2 19h0m1-40h0m0 10h0m2 1h0m3-16h0m0 6h0m0 8h0m1-7h0m1 20h0m1-8h0m2-11h0m0 17h0m2-18h0m0 6h0m0 2h0m0 13h0m1 16h0m4-10h0m2-21h0m0 25h0m4-29h0" stroke="#f48b25" stroke-width="2.4" stroke-linecap="round" fill="none"/>
<path transform="scale(0.5) translate(.5 .5)" d="M47 481h0m3-39h0m0 39h0m1-1h0m1-26h0m0 1h0m0 26h0m0 6h0m1-38h0m0 5h0m1-15h0m0 7h0m0 17h0m0 8h0m1-47h0m0 17h0m0 10h0m0 18h0m0 8h0m1-54h0m0 15h0m0 1h0m0 20h0m0 10h0m1-11h0m0 8h0m0 16h0m1-56h0m0 13h0m0 35h0m1 23h0m1-92h0m0 22h0m0 20h0m0 9h0m0 24h0m1-41h0m0 18h0m0 23h0m1-31h0m0 39h0m1-55h0m0 4h0m0 8h0m0 7h0m0 10h0m0 4h0m0 5h0m1-68h0m0 57h0m0 12h0m1-28h0m0 5h0m0 9h0m0 16h0m0 16h0m1-102h0m0 9h0m1 36h0m0 4h0m0 17h0m0 7h0m1-67h0m0 27h0m0 4h0m0 34h0m0 18h0m1 7h0m0 10h0m1-45h0m0 13h0m0 15h0m0 5h0m1-49h0m0 31h0m1-20h0m0 32h0m0 3h0m1-86h0m0 4h0m0 86h0m0 13h0m1-43h0m0 28h0m1-66h0m0 12h0m0 38h0m0 24h0m0 2h0m1-58h0m0 24h0m1-33h0m0 1h0m0 35h0m0 15h0m0 19h0m1-124h0m0 13h0m0 16h0m0 27h0m0 68h0m1-78h0m0 59h0m0 26h0m1-78h0m0 45h0m1-32h0m0 18h0m1-19h0m0 12h0m0 41h0m0 6h0m1-67h0m0 27h0m0 28h0m0 2h0m1-93h0m0 29h0m0 2h0m0 57h0m1-69h0m0 82h0m1-80h0m0 30h0m0 32h0m0 13h0m1-35h0m0 9h0m0 14h0m0 7h0m0 2h0m1-112h0m1 56h0m0 1h0m0 12h0m0 34h0m0 16h0m1-104h0m0 46h0m0 10h0m1 15h0m0 14h0m0 4h0m0 11h0m1-62h0m0 10h0m0 2h0m0 23h0m0 3h0m0 6h0m1-66h0m0 21h0m0 55h0m0 3h0m0 15h0m1-85h0m0 16h0m0 7h0m0 37h0m0 7h0m0 3h0m0 2h0m0 2h0m1-126h0m0 4h0m1 29h0m0 65h0m0 23h0m1-118h0m0 53h0m0 2h0m0 20h0m0 3h0m0 49h0m1-68h0m0 23h0m0 20h0m0 33h0m1-64h0m0 3h0m0 48h0m0 2h0m1-105h0m0 3h0m0 8h0m0 26h0m0 21h0m0 16h0m0 5h0m0 16h0m1-37h0m0 10h0m1-17h0m0 64h0m1-139h0m0 9h0m0 113h0m1-51h0m0 11h0m0 6h0m0 16h0m0 32h0m1-110h0m0 31h0m0 5h0m0 34h0m0 6h0m1-56h0m0 36h0m1 51h0m1-67h0m0 58h0m1-70h0m0 11h0m0 36h0m0 18h0m0 2h0m0 12h0m1-105h0m0 77h0m0 25h0m0 1h0m1-131h0m0 22h0m0 6h0m0 72h0m0 26h0m0 10h0m1-88h0m0 68h0m1-65h0m0 34h0m0 12h0m0 4h0m0 26h0m0 12h0m1-103h0m0 33h0m0 6h0m0 4h0m0 15h0m1-2h0m0 15h0m0 2h0m1-41h0m0 1h0m0 7h0m0 39h0m0 21h0m1-99h0m0 42h0m0 2h0m0 22h0m1-97h0m0 80h0m0 22h0m0 19h0m0 9h0m1-79h0m0 41h0m1-75h0m0 40h0m0 23h0m0 17h0m1-47h0m0 33h0m0 18h0m0 2h0m0 12h0m1-43h0m0 11h0m0 8h0m0 17h0m1-24h0m1-34h0m0 1h0m0 9h0m0 9h0m0 33h0m0 6h0m0 17h0m1-110h0m0 48h0m0 8h0m0 3h0m0 39h0m1-15h0m0 3h0m1-60h0m0 26h0m0 17h0m0 13h0m0 3h0m0 5h0m1-95h0m0 89h0m0 16h0m0 8h0m1-62h0m0 22h0m1-69h0m0 71h0m0 17h0m0 6h0m0 15h0m0 6h0m1-90h0m0 17h0m0 42h0m0 2h0m1-90h0m0 14h0m0 7h0m0 47h0m0 12h0m0 19h0m0 11h0m0 3h0m1-107h0m0 17h0m0 42h0m0 12h0m0 8h0m0 1h0m1 13h0m0 9h0m0 3h0m1-83h0m0 21h0m0 27h0m0 5h0m0 25h0m0 3h0m1-89h0m0 55h0m0 35h0m0 5h0m1-77h0m0 77h0m1-44h0m0 3h0m0 6h0m0 34h0m1-115h0m0 63h0m0 9h0m0 41h0m0 7h0m1-53h0m0 31h0m0 21h0m1-2h0m1-74h0m0 11h0m0 21h0m0 14h0m0 15h0m0 8h0m1-42h0m0 9h0m0 27h0m0 6h0m1-58h0m0 29h0m1-35h0m0 19h0m0 3h0m0 11h0m1-64h0m0 58h0m0 8h0m0 18h0m0 5h0m0 9h0m1-64h0m0 42h0m2-77h0m0 64h0m1-13h0m0 11h0m0 41h0m1-109h0m0 83h0m0 5h0m0 4h0m1 0h0m0 10h0m1-61h0m0 7h0m0 11h0m1-87h0m0 52h0m0 31h0m0 25h0m0 2h0m1-62h0m0 40h0m1-70h0m0 37h0m0 7h0m0 27h0m0 11h0m0 3h0m1-98h0m0 54h0m0 21h0m0 31h0m0 7h0m1-27h0m0 23h0m0 4h0m1-96h0m0 21h0m0 77h0m1-68h0m0 21h0m0 3h0m0 38h0m0 1h0m0 5h0m0 6h0m1-113h0m0 26h0m0 42h0m0 19h0m1-53h0m0 4h0m0 12h0m0 40h0m1-50h0m0 41h0m1-46h0m0 19h0m0 23h0m1-59h0m0 36h0m0 24h0m0 9h0m2-83h0m0 40h0m0 33h0m0 1h0m1-19h0m1-15h0m0 18h0m0 11h0m1-44h0m0 56h0m0 7h0m1-92h0m0 16h0m0 42h0m1-40h0m0 29h0m1-52h0m0 17h0m0 17h0m0 32h0m0 1h0m0 1h0m0 8h0m0 5h0m0 1h0m1-73h0m0 16h0m0 1h0m0 17h0m1-16h0m0 24h0m0 17h0m0 15h0m1-60h0m0 47h0m1-57h0m0 9h0m0 14h0m0 24h0m0 10h0m1-58h0m0 12h0m0 15h0m1-29h0m0 51h0m0 3h0m1-30h0m0 13h0m1-26h0m0 30h0m0 1h0m0 12h0m0 8h0m1-1h0m1-42h0m0 5h0m0 18h0m1-38h0m1 9h0m1 20h0m1 5h0m0 11h0m1-38h0m0 16h0m0 4h0m1-5h0m0 5h0m1-21h0m1 32h0m1-26h0m1 28h0m1-39h0m2 7h0m3 21h0m1-20h0m1 1h0m0 11h0m3 1h0m0 5h0m0 4h0m1-9h0m3-6h0" stroke="#2f7cc1" stroke-width="2.4" stroke-linecap="round" fill="none"/>
<path transform="scale(0.5) translate(.5 .5)" d="M49 483h0m4-88h0m1 44h0m2-101h0m0 17h0m1 55h0m2-86h0m0 13h0m0 5h0m0 62h0m0 53h0m1-139h0m0 7h0m0 5h0m0 68h0m0 2h0m1-67h0m0 11h0m0 5h0m0 33h0m0 11h0m0 34h0m1-85h0m0 9h0m0 2h0m0 10h0m0 42h0m0 3h0m0 19h0m1-85h0m0 24h0m0 6h0m0 20h0m0 1h0m0 16h0m0 23h0m0 17h0m1-132h0m0 5h0m0 5h0m0 7h0m0 7h0m0 7h0m0 14h0m0 1h0m0 1h0m0 9h0m0 2h0m0 15h0m0 14h0m0 24h0m1-112h0m0 4h0m0 5h0m0 29h0m0 15h0m0 53h0m0 27h0m1-118h0m0 2h0m0 3h0m0 6h0m0 25h0m0 37h0m0 63h0m1-151h0m0 17h0m0 2h0m0 1h0m0 2h0m0 40h0m0 39h0m0 54h0m1-119h0m0 14h0m0 24h0m0 2h0m0 18h0m0 3h0m1-103h0m0 4h0m0 19h0m0 6h0m0 59h0m1-87h0m0 3h0m0 18h0m0 6h0m0 7h0m0 1h0m0 26h0m0 1h0m0 6h0m0 47h0m0 5h0m1-118h0m0 61h0m0 3h0m0 67h0m1-137h0m0 36h0m0 12h0m0 26h0m1-66h0m0 18h0m0 3h0m0 5h0m0 42h0m0 48h0m1-125h0m0 11h0m0 7h0m0 20h0m0 7h0m1-33h0m0 3h0m0 7h0m0 17h0m0 67h0m1-84h0m0 27h0m0 25h0m0 31h0m1-89h0m0 2h0m0 7h0m0 6h0m0 13h0m0 14h0m0 3h0m0 20h0m0 27h0m0 2h0m0 58h0m1-146h0m0 8h0m0 5h0m0 2h0m0 9h0m0 9h0m0 7h0m0 3h0m1-82h0m0 15h0m0 1h0m0 5h0m0 24h0m0 12h0m0 21h0m0 19h0m0 36h0m1-119h0m0 6h0m0 7h0m0 11h0m0 5h0m0 6h0m0 9h0m0 19h0m0 33h0m0 21h0m1-129h0m0 1h0m0 25h0m0 15h0m0 24h0m0 1h0m0 2h0m0 3h0m0 23h0m0 39h0m0 2h0m1-130h0m0 11h0m0 53h0m0 2h0m0 4h0m0 7h0m0 2h0m0 83h0m1-156h0m0 28h0m0 25h0m0 2h0m0 7h0m0 49h0m1-97h0m0 21h0m0 15h0m0 11h0m0 96h0m1-164h0m0 13h0m0 3h0m0 1h0m0 15h0m0 5h0m0 4h0m0 10h0m0 14h0m0 9h0m0 5h0m1-59h0m0 7h0m0 11h0m0 32h0m0 4h0m0 71h0m0 7h0m1-119h0m0 22h0m0 2h0m0 1h0m0 12h0m0 32h0m1-62h0m0 3h0m0 14h0m0 1h0m0 21h0m0 28h0m0 18h0m1-108h0m0 8h0m0 9h0m1-22h0m0 31h0m0 4h0m0 3h0m0 34h0m0 16h0m0 30h0m1-110h0m0 5h0m0 2h0m0 22h0m0 1h0m0 3h0m0 5h0m0 3h0m1-49h0m0 16h0m0 43h0m0 11h0m0 5h0m0 5h0m0 17h0m0 18h0m1-123h0m0 21h0m0 2h0m0 1h0m0 4h0m0 7h0m0 10h0m0 13h0m0 21h0m0 5h0m0 15h0m1-82h0m0 4h0m0 5h0m0 2h0m0 7h0m0 8h0m0 1h0m0 9h0m0 2h0m0 11h0m0 4h0m0 1h0m0 37h0m1-103h0m0 19h0m0 1h0m0 6h0m0 3h0m0 10h0m0 84h0m1-116h0m0 40h0m0 8h0m0 31h0m0 29h0m1-92h0m0 6h0m0 18h0m0 48h0m0 3h0m1-91h0m0 3h0m0 2h0m0 8h0m0 16h0m0 16h0m0 6h0m0 2h0m0 14h0m0 18h0m0 4h0m0 22h0m0 5h0m0 8h0m0 47h0m1-139h0m0 9h0m0 31h0m0 10h0m0 7h0m0 34h0m1-107h0m0 3h0m0 14h0m0 33h0m1-61h0m0 10h0m0 4h0m0 60h0m1-54h0m0 9h0m0 69h0m1-81h0m0 61h0m0 1h0m1-57h0m0 19h0m0 12h0m0 10h0m0 37h0m0 36h0m1-132h0m0 7h0m0 10h0m0 84h0m1-100h0m0 33h0m0 9h0m0 12h0m0 5h0m0 10h0m1-79h0m0 20h0m0 6h0m0 3h0m0 14h0m0 54h0m0 64h0m1-141h0m0 3h0m0 23h0m0 34h0m1-85h0m0 10h0m0 19h0m0 9h0m0 6h0m0 16h0m0 2h0m0 7h0m0 6h0m0 13h0m0 64h0m1-131h0m0 53h0m0 43h0m0 34h0m1-141h0m0 12h0m0 7h0m0 1h0m0 1h0m0 9h0m0 17h0m0 17h0m0 4h0m1-49h0m0 32h0m0 34h0m0 17h0m0 35h0m1-135h0m0 1h0m0 4h0m0 23h0m0 7h0m0 15h0m1-46h0m0 5h0m0 9h0m0 35h0m0 50h0m0 76h0m1-182h0m0 24h0m0 9h0m0 70h0m0 56h0m1-150h0m0 6h0m0 68h0m1-87h0m0 19h0m0 14h0m0 26h0m0 40h0m1-89h0m0 20h0m0 10h0m0 82h0m1-112h0m0 10h0m0 10h0m0 74h0m0 23h0m0 7h0m0 27h0m1-153h0m0 11h0m0 19h0m0 40h0m0 17h0m0 9h0m0 13h0m1-116h0m0 13h0m0 6h0m0 14h0m0 22h0m0 46h0m0 34h0m1-78h0m1-45h0m0 1h0m0 9h0m0 4h0m0 44h0m0 11h0m0 41h0m0 13h0m1-112h0m0 57h0m0 82h0m1-157h0m0 8h0m0 8h0m0 32h0m0 52h0m1-100h0m0 11h0m0 1h0m0 1h0m0 6h0m0 7h0m0 2h0m1-27h0m0 1h0m0 13h0m0 37h0m0 19h0m0 25h0m0 69h0m1-158h0m0 1h0m0 9h0m0 31h0m0 29h0m0 90h0m1-150h0m0 100h0m1-66h0m0 125h0m1-123h0m0 7h0m0 5h0m0 9h0m0 1h0m0 15h0m0 2h0m0 14h0m2-58h0m0 32h0m0 70h0m0 15h0m1-148h0m0 73h0m0 3h0m0 21h0m1-54h0m0 13h0m0 9h0m1-69h0m0 32h0m0 27h0m1 63h0m1-77h0m0 17h0m1-31h0m0 28h0m0 10h0m0 7h0m0 54h0m1-87h0m0 5h0m0 118h0m1-107h0m0 48h0m1-70h0m0 23h0m1 12h0m0 13h0m1-48h0m0 10h0m0 91h0m1-99h0m0 27h0m0 16h0m0 30h0m2-53h0m0 23h0m0 8h0m0 7h0m0 1h0m0 47h0m1-103h0m1-1h0m0 28h0m1-24h0m0 3h0m0 13h0m0 9h0m0 3h0m1-6h0m0 34h0m0 16h0m0 24h0m1-114h0m0 116h0m1-96h0m2 23h0m0 21h0m0 45h0m1-88h0m2 6h0m0 8h0m0 75h0m0 10h0m1-121h0m0 23h0m0 49h0m1-33h0m0 5h0m0 22h0m1-51h0m1-4h0m0 60h0m1 38h0m0 9h0m1-88h0m1-9h0m0 55h0m1-61h0m0 9h0m0 2h0m0 8h0m1-18h0m0 27h0m1-32h0m0 33h0m0 42h0m1-41h0m1-16h0m0 35h0m1-34h0m0 21h0m1-43h0m0 1h0m0 4h0m0 32h0m1-2h0m0 36h0m1-41h0m0 7h0m0 15h0m1-11h0m4-18h0m1 36h0m1-30h0m1-6h0m1 5h0m0 8h0m2-17h0m2 5h0m0 20h0m1 8h0m4-6h0m3-23h0m0 20h0m1-21h0m4 4h0m3 0h0m0 10h0m1 7h0m3-18h0" stroke="#f48b25" stroke-width="2.4" stroke-linecap="round" fill="none"/>
<path transform="scale(0.5) translate(.5 .5)" d="M46 481h0m2 2h0m2-35h0m0 35h0m2-47h0m0 1h0m0 25h0m0 9h0m0 6h0m1-45h0m0 2h0m1-37h0m0 50h0m0 4h0m0 7h0m0 11h0m1-11h0m0 16h0m1-46h0m0 8h0m0 33h0m0 18h0m1-41h0m0 14h0m0 10h0m0 11h0m1-49h0m0 39h0m0 10h0m1-32h0m0 23h0m0 5h0m1-28h0m0 47h0m1-58h0m0 14h0m0 5h0m0 12h0m1-24h0m0 1h0m1-57h0m0 53h0m0 8h0m0 5h0m0 24h0m1-85h0m0 81h0m1-50h0m0 17h0m0 47h0m1-37h0m1-52h0m1 22h0m0 40h0m1-71h0m0 44h0m0 29h0m0 27h0m1-30h0m0 23h0m0 6h0m1-44h0m0 4h0m0 18h0m0 17h0m1-85h0m0 30h0m0 2h0m0 10h0m0 25h0m0 21h0m1-100h0m0 42h0m0 10h0m0 4h0m1-4h0m0 5h0m0 8h0m1-36h0m1-11h0m0 21h0m0 11h0m0 1h0m0 4h0m0 1h0m0 34h0m1-69h0m0 5h0m0 32h0m0 23h0m0 9h0m1 8h0m0 6h0m2-104h0m0 59h0m0 20h0m0 13h0m1-2h0m1-41h0m0 27h0m0 6h0m1-45h0m0 15h0m0 18h0m0 2h0m0 18h0m1-79h0m0 27h0m0 33h0m0 2h0m1-24h0m0 44h0m0 1h0m1-63h0m0 14h0m0 36h0m0 1h0m0 1h0m1-58h0m0 13h0m0 3h0m0 10h0m0 4h0m0 27h0m1-60h0m0 39h0m0 15h0m0 16h0m1-18h0m0 7h0m1-86h0m0 20h0m0 6h0m0 2h0m0 26h0m0 8h0m0 13h0m0 2h0m0 6h0m0 17h0m1-96h0m0 70h0m1-75h0m0 28h0m0 12h0m0 22h0m0 41h0m1-107h0m0 20h0m0 9h0m0 22h0m0 17h0m0 6h0m1-57h0m0 53h0m0 18h0m1-78h0m0 12h0m0 60h0m0 27h0m0 2h0m1-99h0m0 26h0m0 6h0m0 15h0m0 5h0m0 4h0m0 46h0m1-82h0m0 12h0m0 29h0m0 19h0m0 5h0m0 21h0m1-72h0m0 21h0m0 21h0m0 4h0m1-39h0m0 6h0m0 22h0m1-101h0m0 11h0m0 74h0m0 10h0m0 17h0m0 16h0m1-72h0m0 48h0m0 1h0m1-22h0m0 14h0m0 9h0m0 2h0m1 9h0m0 5h0m1-67h0m0 12h0m0 22h0m0 7h0m0 5h0m0 23h0m1-75h0m0 27h0m0 12h0m0 25h0m0 1h0m0 14h0m1-72h0m0 20h0m0 30h0m0 6h0m0 22h0m1-43h0m0 9h0m0 27h0m1-95h0m0 24h0m0 4h0m0 7h0m0 50h0m0 7h0m1-80h0m0 32h0m0 8h0m0 11h0m0 29h0m0 5h0m1-92h0m1 80h0m1-97h0m0 69h0m0 7h0m0 15h0m1-59h0m0 34h0m1-27h0m0 12h0m0 16h0m0 3h0m0 16h0m0 12h0m0 13h0m1-57h0m0 10h0m0 16h0m0 9h0m1-45h0m0 6h0m0 45h0m0 16h0m1-76h0m0 16h0m0 11h0m0 31h0m0 12h0m0 9h0m1-79h0m1 17h0m0 44h0m1-38h0m0 21h0m0 31h0m1-96h0m0 33h0m0 53h0m0 3h0m1-59h0m0 7h0m0 17h0m0 9h0m1-80h0m0 17h0m1 37h0m1-29h0m0 5h0m0 20h0m0 46h0m0 16h0m1-122h0m0 56h0m0 4h0m0 36h0m1-56h0m0 1h0m0 9h0m0 30h0m0 4h0m0 8h0m1-52h0m0 14h0m1 13h0m0 25h0m1-60h0m0 25h0m1 35h0m0 2h0m0 33h0m1-68h0m0 18h0m1-22h0m0 20h0m0 19h0m1-48h0m0 31h0m0 17h0m0 13h0m0 6h0m0 7h0m1-62h0m0 17h0m0 2h0m0 21h0m0 13h0m0 13h0m0 3h0m1-129h0m0 90h0m0 1h0m0 28h0m1-88h0m0 29h0m0 13h0m0 6h0m0 1h0m1-24h0m0 28h0m0 33h0m1-83h0m0 57h0m1-41h0m0 52h0m1-48h0m0 5h0m0 27h0m0 8h0m0 1h0m0 34h0m1-48h0m0 43h0m2-63h0m0 4h0m0 6h0m0 1h0m0 14h0m0 19h0m0 16h0m0 1h0m1-66h0m0 14h0m0 32h0m0 15h0m0 3h0m1-36h0m0 5h0m0 2h0m0 19h0m0 4h0m1-72h0m0 25h0m0 8h0m0 39h0m0 8h0m1-73h0m0 10h0m0 47h0m0 13h0m1-46h0m0 23h0m0 21h0m1-54h0m0 13h0m0 39h0m1-2h0m1-71h0m0 1h0m0 11h0m0 6h0m0 17h0m0 7h0m0 29h0m0 4h0m1-38h0m0 3h0m1-22h0m0 23h0m0 31h0m1-37h0m0 31h0m0 20h0m1-89h0m0 38h0m0 4h0m0 42h0m2-89h0m0 24h0m0 40h0m1-67h0m0 20h0m0 20h0m0 20h0m0 18h0m1-84h0m0 25h0m0 6h0m0 1h0m0 46h0m0 9h0m1-115h0m0 68h0m0 27h0m1-10h0m0 31h0m1-86h0m0 23h0m0 48h0m1-11h0m0 6h0m0 4h0m1-57h0m0 6h0m0 2h0m0 7h0m0 33h0m0 4h0m1-17h0m0 8h0m1-56h0m0 20h0m0 4h0m1-51h0m0 33h0m0 23h0m1-52h0m0 2h0m0 29h0m0 25h0m0 26h0m1-86h0m0 91h0m1-51h0m0 12h0m1-42h0m0 45h0m0 17h0m1-22h0m0 5h0m0 16h0m0 9h0m0 5h0m0 2h0m1-68h0m0 7h0m0 2h0m0 23h0m0 5h0m0 21h0m1-66h0m0 34h0m1-17h0m0 31h0m0 17h0m1-64h0m0 26h0m0 24h0m1-52h0m0 9h0m0 1h0m0 9h0m0 9h0m0 6h0m1 15h0m1-19h0m0 17h0m1-33h0m0 40h0m0 7h0m1-39h0m1 25h0m1-32h0m0 14h0m0 19h0m1-12h0m3-33h0m0 9h0m0 12h0m0 10h0m0 8h0m2 8h0m1-40h0m0 20h0m0 1h0m1 13h0m2-14h0m1-13h0m0 20h0m1-23h0m0 2h0m3-5h0m0 15h0m1 15h0m1-13h0m3 3h0m1-19h0m0 8h0m0 4h0m1-10h0m3 18h0m2-9h0" stroke="#2f7cc1" stroke-width="2.4" stroke-linecap="round" fill="none"/>
<path transform="scale(0.5) translate(.5 .5)" d="M52 413h0m2 14h0m1-38h0m1 55h0m1-103h0m0 73h0m1 1h0m0 20h0m0 23h0m1-47h0m0 30h0m0 48h0m1-117h0m0 15h0m0 50h0m1-90h0m0 15h0m0 16h0m0 44h0m0 1h0m0 6h0m1-103h0m0 69h0m1-56h0m0 3h0m0 20h0m0 6h0m0 27h0m0 8h0m0 3h0m1-72h0m0 6h0m0 30h0m0 22h0m0 16h0m0 3h0m0 5h0m0 3h0m1-53h0m0 11h0m0 3h0m0 40h0m1-89h0m0 26h0m0 1h0m0 13h0m0 1h0m0 13h0m0 13h0m0 20h0m0 2h0m1-105h0m0 28h0m0 20h0m1-41h0m0 2h0m0 1h0m0 9h0m0 1h0m0 1h0m0 24h0m0 2h0m0 2h0m0 2h0m0 29h0m0 23h0m1-81h0m0 5h0m0 2h0m0 19h0m0 7h0m0 1h0m0 3h0m0 73h0m1-107h0m0 5h0m0 2h0m0 21h0m0 1h0m1-40h0m0 6h0m0 5h0m0 19h0m0 25h0m0 26h0m0 68h0m1-164h0m0 7h0m0 40h0m0 8h0m0 52h0m1-69h0m0 18h0m0 6h0m0 8h0m0 14h0m0 19h0m1-100h0m0 7h0m0 2h0m0 1h0m0 2h0m0 24h0m0 1h0m0 7h0m0 23h0m0 20h0m0 3h0m0 3h0m1-78h0m0 7h0m0 2h0m0 31h0m0 16h0m0 8h0m0 31h0m1-137h0m0 24h0m0 7h0m0 3h0m0 20h0m0 4h0m0 11h0m0 1h0m0 27h0m0 30h0m0 11h0m0 51h0m1-180h0m0 14h0m0 4h0m0 7h0m0 22h0m0 27h0m0 38h0m1-117h0m0 12h0m0 5h0m0 2h0m0 6h0m0 50h0m0 35h0m0 7h0m0 51h0m1-167h0m0 3h0m0 19h0m0 14h0m0 28h0m0 7h0m0 14h0m1-91h0m0 3h0m0 5h0m0 13h0m0 17h0m0 3h0m0 13h0m0 3h0m0 7h0m0 47h0m0 57h0m1-145h0m0 27h0m0 22h0m0 4h0m0 3h0m0 26h0m0 8h0m0 7h0m0 3h0m0 12h0m1-123h0m0 44h0m0 2h0m0 1h0m0 33h0m1-94h0m0 17h0m0 39h0m0 14h0m0 3h0m1-66h0m0 11h0m0 10h0m0 18h0m0 4h0m0 7h0m0 1h0m0 18h0m0 2h0m0 22h0m0 1h0m0 58h0m1-156h0m0 25h0m0 21h0m0 9h0m0 13h0m0 3h0m0 90h0m1-144h0m0 3h0m0 59h0m0 50h0m1-80h0m0 5h0m0 63h0m1-98h0m0 9h0m0 15h0m0 10h0m0 4h0m0 52h0m0 32h0m1-124h0m0 2h0m0 16h0m0 13h0m0 10h0m0 18h0m1-59h0m0 5h0m0 13h0m0 23h0m0 30h0m0 31h0m1-85h0m0 3h0m0 7h0m0 19h0m0 7h0m0 27h0m0 2h0m0 5h0m0 1h0m1-66h0m0 3h0m0 16h0m0 16h0m0 26h0m0 29h0m0 71h0m1-185h0m0 24h0m0 11h0m0 7h0m0 11h0m0 65h0m0 48h0m1-163h0m0 17h0m0 24h0m0 59h0m0 17h0m0 13h0m1-135h0m0 16h0m0 34h0m0 5h0m0 24h0m0 3h0m0 40h0m1-105h0m0 35h0m0 6h0m0 34h0m0 10h0m1-98h0m0 27h0m0 5h0m0 2h0m0 14h0m0 22h0m0 40h0m0 46h0m1-111h0m0 1h0m0 1h0m0 8h0m0 21h0m0 18h0m0 56h0m1-151h0m0 23h0m0 2h0m0 7h0m0 4h0m0 5h0m0 78h0m1-94h0m0 2h0m0 5h0m0 4h0m0 2h0m0 5h0m0 17h0m0 11h0m0 7h0m0 6h0m0 33h0m1-90h0m0 16h0m0 2h0m0 28h0m1-60h0m0 38h0m0 4h0m0 10h0m1-43h0m0 12h0m1-12h0m0 3h0m0 13h0m0 22h0m0 56h0m0 50h0m1-146h0m0 21h0m0 7h0m0 21h0m0 6h0m0 19h0m0 29h0m1-111h0m0 6h0m0 2h0m0 16h0m0 3h0m0 66h0m0 5h0m0 78h0m1-188h0m0 10h0m0 5h0m0 7h0m0 3h0m0 43h0m0 10h0m0 37h0m1-105h0m0 17h0m0 7h0m0 7h0m0 5h0m0 6h0m0 2h0m0 29h0m0 3h0m1-1h0m0 29h0m1-96h0m0 16h0m0 14h0m0 7h0m0 9h0m0 8h0m0 12h0m0 84h0m1-154h0m0 17h0m0 11h0m0 47h0m0 15h0m0 23h0m1-121h0m0 3h0m0 33h0m0 16h0m0 11h0m0 2h0m0 11h0m0 15h0m1-76h0m0 66h0m0 2h0m1-78h0m0 6h0m1-11h0m0 8h0m0 29h0m0 17h0m0 30h0m0 1h0m1-81h0m0 17h0m0 2h0m0 1h0m0 12h0m0 38h0m1-48h0m0 6h0m0 21h0m0 14h0m0 43h0m1-111h0m0 9h0m0 7h0m0 14h0m0 58h0m0 51h0m1-121h0m0 68h0m1 0h0m0 44h0m1-128h0m0 7h0m0 4h0m0 16h0m0 33h0m0 70h0m0 13h0m0 8h0m1-151h0m0 5h0m0 25h0m0 24h0m0 1h0m0 8h0m0 7h0m0 1h0m0 29h0m0 17h0m1-106h0m0 4h0m0 1h0m0 15h0m0 5h0m0 15h0m0 9h0m0 32h0m1-82h0m0 52h0m0 2h0m0 5h0m0 15h0m0 75h0m1-148h0m0 4h0m0 4h0m0 1h0m0 4h0m0 58h0m0 31h0m0 12h0m1-125h0m0 72h0m0 5h0m0 95h0m1-164h0m0 10h0m1-9h0m0 8h0m0 50h0m2-54h0m0 1h0m0 12h0m0 25h0m0 10h0m0 3h0m0 32h0m0 7h0m1-95h0m0 3h0m0 4h0m0 46h0m0 77h0m1-125h0m0 5h0m0 39h0m0 9h0m0 11h0m1-14h0m0 55h0m1-103h0m0 34h0m0 26h0m1-60h0m0 40h0m0 2h0m0 17h0m0 41h0m0 42h0m1-41h0m2-21h0m0 38h0m1-76h0m0 78h0m1-88h0m0 7h0m0 34h0m1-36h0m0 31h0m0 28h0m1-54h0m0 4h0m0 15h0m0 46h0m1-66h0m0 3h0m0 19h0m0 73h0m1-81h0m0 46h0m1 46h0m0 4h0m1-118h0m0 46h0m0 16h0m0 4h0m1-29h0m0 72h0m1-103h0m1 0h0m0 4h0m1 16h0m0 9h0m0 45h0m1-65h0m0 1h0m0 6h0m0 45h0m0 48h0m1 7h0m1-98h0m0 21h0m0 6h0m0 13h0m0 62h0m1-114h0m0 7h0m0 32h0m1-41h0m0 59h0m0 20h0m2-77h0m1-1h0m0 7h0m0 4h0m0 1h0m0 8h0m0 1h0m0 39h0m1-54h0m0 34h0m0 30h0m1-83h0m1 8h0m0 18h0m0 48h0m1-64h0m0 1h0m0 31h0m0 23h0m1-49h0m0 5h0m0 31h0m0 14h0m1-35h0m1 25h0m0 9h0m0 7h0m1-35h0m0 5h0m0 33h0m1-42h0m0 1h0m0 27h0m1-32h0m1-2h0m0 5h0m0 49h0m1-17h0m1-23h0m0 9h0m1-34h0m0 2h0m0 44h0m0 11h0m1-18h0m1-35h0m0 8h0m2-19h0m0 2h0m0 3h0m1 10h0m0 15h0m0 3h0m1-22h0m0 6h0m1 12h0m1 17h0m2 2h0m1 8h0m1-48h0m0 27h0m0 5h0m0 20h0m1-33h0m1 17h0m1-8h0m1-20h0m0 9h0m1 21h0m1-33h0m1 5h0m3 12h0m2-15h0m1 16h0m1-7h0m1-4h0m0 5h0m1-5h0m2 12h0m6-5h0" stroke="#f48b25" stroke-width="2.4" stroke-linecap="round" fill="none"/>
<circle cx="81.8" cy="154.9" r="2.1" fill="#2f7cc1"/>
<circle cx="81.8" cy="162.3" r="2.1" fill="#f48b25"/>
<text x="88.60" y="157.70" font-size="7.8">Huh7</text>
<text x="88.60" y="165.10" font-size="7.8">Huh7-DENV2</text>
<path d="M13.6 256.1V234.3M13.6 256.1H35.5" fill="none" stroke="#222" stroke-width="0.8" />
<path d="M13.6 232.0L11.9 236.0L15.3 236.0Z M37.9 256.1L33.9 254.4L33.9 257.8Z" fill="#222" />
<text x="10.00" y="244.30" font-size="7.5" text-anchor="middle" transform="rotate(-90 10.00 244.30)" textLength="23.40" lengthAdjust="spacingAndGlyphs">UMAP2</text>
<text x="14.00" y="268.00" font-size="7.5" textLength="22.60" lengthAdjust="spacingAndGlyphs">UMAP1</text>
<text x="140.20" y="145.60" font-size="12.8" fill="#000" font-weight="bold" stroke="#000" stroke-width="0.3">d</text>
<text x="228.20" y="148.60" font-size="7.6" text-anchor="middle">Huh7-DENV2:</text>
<rect x="140.50" y="152.20" width="177.90" height="107.20" fill="none" stroke="#f39f5c" stroke-width="1.15" />
<text x="147.2" y="163.4" font-size="7.2" fill="#222"><tspan font-style="italic">sfRNA</tspan> load (<tspan font-style="italic">sfRNA1–4</tspan>)</text>
<text x="266.90" y="163.40" font-size="7.8" text-anchor="middle" font-style="italic">POLY</text>
<path transform="scale(0.5) translate(.5 .5)" d="M295 453h0m0 3h0m0 4h0m0 19h0m2-31h0m0 11h0m1-1h0m0 18h0m1-25h0m0 27h0m2-26h0m1-29h0m0 6h0m0 21h0m0 12h0m0 8h0m0 2h0m0 5h0m1-89h0m0 28h0m0 13h0m0 1h0m0 14h0m0 30h0m0 5h0m1-59h0m0 2h0m0 21h0m0 1h0m0 2h0m0 7h0m1-39h0m0 3h0m0 4h0m0 1h0m0 1h0m0 3h0m0 5h0m0 15h0m0 37h0m1-112h0m0 3h0m0 3h0m0 5h0m0 2h0m0 32h0m0 5h0m0 4h0m0 7h0m0 3h0m0 3h0m0 17h0m1-72h0m0 33h0m0 8h0m0 25h0m0 33h0m1-85h0m0 16h0m0 6h0m0 1h0m0 2h0m0 6h0m0 1h0m0 1h0m0 6h0m0 21h0m1-63h0m0 13h0m0 3h0m0 12h0m0 3h0m0 2h0m0 1h0m0 2h0m0 1h0m0 1h0m0 2h0m0 6h0m0 13h0m0 2h0m0 24h0m0 4h0m1-88h0m0 6h0m0 7h0m0 22h0m0 1h0m0 8h0m0 3h0m0 4h0m1-62h0m0 15h0m0 11h0m0 2h0m0 1h0m0 1h0m0 6h0m0 3h0m0 2h0m0 9h0m0 26h0m1-42h0m0 4h0m0 1h0m0 7h0m0 12h0m0 8h0m0 7h0m0 3h0m0 16h0m0 7h0m1-78h0m0 4h0m0 4h0m0 12h0m0 7h0m0 4h0m0 28h0m1-106h0m0 10h0m0 4h0m0 24h0m0 7h0m0 8h0m0 1h0m0 6h0m0 5h0m0 9h0m0 9h0m0 5h0m0 40h0m1-120h0m0 46h0m0 2h0m0 3h0m0 4h0m0 5h0m0 1h0m0 3h0m0 4h0m0 1h0m0 9h0m0 15h0m0 9h0m1-115h0m0 12h0m0 39h0m0 3h0m0 2h0m0 3h0m0 6h0m0 1h0m0 3h0m0 1h0m0 7h0m0 20h0m0 10h0m1-110h0m0 18h0m0 30h0m0 6h0m0 3h0m0 6h0m0 2h0m0 4h0m0 1h0m0 4h0m0 5h0m0 5h0m0 21h0m0 11h0m0 10h0m0 2h0m0 12h0m1-112h0m0 30h0m0 5h0m0 3h0m0 1h0m0 1h0m0 3h0m0 10h0m0 4h0m0 24h0m0 18h0m0 6h0m0 3h0m1-116h0m0 1h0m0 22h0m0 5h0m0 5h0m0 7h0m0 1h0m0 1h0m0 1h0m0 1h0m0 1h0m0 2h0m0 3h0m0 4h0m0 4h0m0 2h0m0 6h0m0 4h0m0 5h0m0 29h0m0 3h0m1-108h0m0 41h0m0 1h0m0 1h0m0 5h0m0 1h0m0 6h0m0 3h0m0 2h0m0 1h0m0 13h0m0 5h0m0 12h0m0 25h0m1-124h0m0 13h0m0 14h0m0 2h0m0 17h0m0 4h0m0 2h0m0 2h0m0 3h0m0 16h0m0 1h0m0 1h0m0 2h0m0 5h0m0 2h0m0 2h0m0 23h0m0 9h0m0 7h0m0 1h0m0 5h0m1-119h0m0 10h0m0 33h0m0 2h0m0 1h0m0 10h0m0 3h0m0 5h0m0 18h0m0 32h0m0 3h0m1-81h0m0 2h0m0 4h0m0 3h0m0 2h0m0 2h0m0 1h0m0 2h0m0 1h0m0 1h0m0 2h0m0 2h0m0 7h0m0 2h0m0 17h0m0 5h0m1-111h0m0 27h0m0 11h0m0 16h0m0 2h0m0 4h0m0 7h0m0 1h0m0 7h0m0 14h0m0 11h0m0 27h0m1-117h0m0 47h0m0 7h0m0 3h0m0 1h0m0 8h0m0 3h0m0 9h0m0 7h0m0 3h0m0 23h0m0 7h0m1-103h0m0 21h0m0 3h0m0 1h0m0 3h0m0 2h0m0 4h0m0 3h0m0 10h0m0 3h0m0 4h0m0 2h0m0 4h0m0 4h0m0 8h0m0 9h0m0 6h0m1-103h0m0 44h0m0 2h0m0 3h0m0 4h0m0 13h0m0 2h0m0 5h0m0 7h0m0 15h0m0 18h0m1-125h0m0 10h0m0 44h0m0 2h0m0 5h0m0 1h0m0 3h0m0 7h0m0 3h0m0 2h0m0 3h0m0 19h0m0 5h0m0 34h0m1-131h0m0 5h0m0 18h0m0 10h0m0 11h0m0 6h0m0 11h0m0 5h0m0 5h0m0 2h0m0 8h0m0 6h0m0 5h0m0 2h0m0 21h0m1-104h0m0 2h0m0 2h0m0 22h0m0 8h0m0 5h0m0 1h0m0 1h0m0 1h0m0 9h0m0 6h0m0 3h0m0 2h0m0 4h0m0 7h0m0 38h0m1-91h0m0 13h0m0 2h0m0 3h0m0 1h0m0 5h0m0 1h0m0 6h0m0 4h0m0 1h0m0 1h0m0 6h0m0 4h0m0 1h0m0 2h0m0 9h0m0 5h0m1-58h0m0 17h0m0 2h0m0 9h0m0 1h0m0 1h0m0 2h0m0 3h0m0 5h0m0 1h0m0 7h0m0 1h0m0 2h0m0 14h0m0 13h0m1-111h0m0 6h0m0 38h0m0 3h0m0 6h0m0 3h0m0 7h0m0 4h0m0 7h0m0 1h0m0 7h0m0 1h0m0 8h0m0 1h0m0 20h0m1-84h0m0 1h0m0 8h0m0 3h0m0 2h0m0 1h0m0 1h0m0 2h0m0 4h0m0 8h0m0 3h0m0 1h0m0 2h0m0 6h0m0 1h0m0 2h0m0 2h0m0 2h0m0 1h0m0 43h0m0 2h0m0 3h0m1-123h0m0 44h0m0 3h0m0 1h0m0 3h0m0 5h0m0 3h0m0 14h0m0 3h0m0 2h0m0 4h0m0 2h0m0 9h0m0 17h0m0 14h0m0 1h0m1-90h0m0 6h0m0 6h0m0 1h0m0 2h0m0 6h0m0 10h0m0 1h0m0 1h0m0 3h0m0 2h0m0 1h0m0 10h0m0 2h0m0 4h0m0 3h0m0 3h0m0 6h0m0 17h0m1-110h0m0 3h0m0 22h0m0 8h0m0 9h0m0 4h0m0 1h0m0 1h0m0 1h0m0 4h0m0 2h0m0 10h0m0 8h0m0 10h0m0 9h0m0 16h0m1-97h0m0 12h0m0 8h0m0 5h0m0 1h0m0 9h0m0 5h0m0 9h0m0 4h0m0 2h0m0 39h0m1-112h0m0 19h0m0 7h0m0 4h0m0 18h0m0 2h0m0 3h0m0 4h0m0 12h0m0 1h0m0 12h0m0 5h0m0 7h0m0 2h0m1-97h0m0 31h0m0 6h0m0 2h0m0 1h0m0 2h0m0 1h0m0 6h0m0 5h0m0 1h0m0 7h0m0 1h0m0 1h0m0 4h0m0 2h0m0 5h0m0 8h0m0 12h0m0 5h0m0 8h0m1-107h0m0 24h0m0 4h0m0 5h0m0 10h0m0 1h0m0 4h0m0 1h0m0 1h0m0 2h0m0 1h0m0 3h0m0 35h0m0 3h0m0 2h0m0 18h0m0 5h0m1-108h0m0 28h0m0 1h0m0 2h0m0 7h0m0 2h0m0 1h0m0 3h0m0 2h0m0 2h0m0 4h0m0 9h0m0 4h0m0 2h0m0 2h0m0 43h0m0 3h0m0 2h0m1-94h0m0 5h0m0 4h0m0 17h0m0 4h0m0 1h0m0 18h0m0 19h0m0 9h0m0 7h0m1-112h0m0 20h0m0 16h0m0 7h0m0 5h0m0 1h0m0 15h0m0 2h0m0 7h0m0 1h0m0 10h0m0 26h0m0 10h0m1-121h0m0 28h0m0 5h0m0 2h0m0 10h0m0 2h0m0 5h0m0 3h0m0 20h0m0 4h0m0 21h0m0 5h0m1-65h0m0 5h0m0 2h0m0 2h0m0 1h0m0 2h0m0 11h0m0 1h0m0 6h0m0 4h0m0 13h0m0 5h0m0 18h0m0 6h0m1-121h0m0 31h0m0 4h0m0 4h0m0 1h0m0 2h0m0 2h0m0 6h0m0 7h0m0 21h0m0 14h0m0 5h0m0 15h0m0 7h0m1-112h0m0 2h0m0 22h0m0 23h0m0 4h0m0 8h0m0 3h0m0 4h0m0 7h0m0 10h0m0 8h0m0 1h0m0 11h0m0 3h0m0 10h0m1-126h0m0 38h0m0 2h0m0 14h0m0 1h0m0 13h0m0 7h0m0 20h0m0 4h0m0 7h0m1-101h0m0 15h0m0 16h0m0 2h0m0 1h0m0 7h0m0 3h0m0 6h0m0 5h0m0 1h0m0 4h0m0 2h0m0 18h0m0 7h0m1-41h0m0 5h0m0 3h0m0 16h0m0 12h0m0 19h0m0 7h0m0 9h0m0 2h0m1-124h0m0 41h0m0 5h0m0 14h0m0 29h0m0 3h0m0 5h0m0 16h0m0 3h0m1-105h0m0 20h0m0 14h0m0 5h0m0 3h0m0 1h0m0 1h0m0 5h0m0 2h0m0 5h0m0 30h0m0 14h0m1-109h0m0 33h0m0 3h0m0 5h0m0 7h0m0 3h0m0 3h0m0 15h0m0 26h0m0 13h0m1-76h0m0 6h0m0 4h0m0 2h0m0 1h0m0 41h0m0 7h0m0 5h0m0 3h0m0 11h0m1-107h0m0 32h0m0 5h0m0 2h0m0 2h0m0 28h0m0 7h0m0 10h0m0 4h0m0 16h0m1-65h0m0 32h0m0 5h0m0 1h0m0 7h0m0 4h0m0 7h0m0 13h0m0 5h0m1-98h0m0 5h0m0 3h0m0 12h0m0 5h0m0 4h0m0 2h0m0 18h0m0 46h0m1-97h0m0 21h0m0 4h0m0 3h0m0 4h0m0 39h0m0 2h0m0 27h0m1-90h0m0 12h0m0 37h0m0 30h0m0 4h0m1-66h0m0 4h0m0 18h0m0 9h0m0 7h0m0 25h0m0 9h0m1-93h0m0 22h0m0 25h0m0 20h0m0 3h0m0 3h0m0 9h0m0 14h0m1-98h0m0 17h0m0 41h0m0 1h0m0 13h0m0 8h0m0 14h0m1-97h0m0 4h0m0 8h0m0 7h0m0 5h0m0 6h0m0 19h0m0 13h0m0 5h0m0 3h0m0 20h0m1-79h0m0 2h0m0 7h0m0 5h0m0 24h0m1-42h0m0 13h0m0 52h0m0 6h0m1-49h0m0 20h0m0 14h0m0 26h0m1-77h0m0 1h0m0 37h0m0 8h0m0 21h0m1-71h0m0 2h0m0 25h0m0 57h0m1-68h0m0 37h0m0 5h0m0 16h0m0 6h0m1-60h0m0 38h0m0 16h0m0 8h0m1-83h0m0 1h0m0 8h0m0 4h0m0 4h0m0 6h0m0 20h0m0 45h0m1-37h0m0 2h0m0 31h0m1-79h0m0 43h0m1-47h0m0 73h0m1-57h0m0 7h0m0 17h0m0 1h0m0 4h0m0 15h0m0 1h0m0 21h0m1-62h0m0 54h0m1-77h0m0 52h0m1-41h0m0 2h0m1-9h0m0 1h0m1 14h0m0 29h0m0 20h0m1-59h0m1 15h0m0 1h0m0 43h0m1-59h0m0 10h0m1-4h0m0 4h0m0 6h0m0 36h0m1-34h0m1-10h0m0 5h0m0 7h0m1-13h0m0 4h0m0 6h0m0 1h0m3-8h0m1 2h0m1 26h0m1-19h0m0 19h0m1-23h0m2-5h0m0 6h0m2 3h0m2 2h0m2-8h0m0 2h0m3 5h0" stroke="#d3c9ca" stroke-width="1.9" stroke-linecap="round" fill="none"/>
<path transform="scale(0.5) translate(.5 .5)" d="M296 452h0m3 15h0m1-28h0m0 29h0m1-14h0m0 16h0m0 1h0m1-94h0m0 51h0m0 10h0m0 1h0m0 21h0m1-42h0m0 54h0m1-83h0m0 37h0m0 20h0m1-19h0m1-57h0m0 1h0m0 5h0m0 25h0m0 1h0m0 15h0m0 6h0m0 17h0m0 16h0m0 4h0m0 14h0m1-102h0m0 7h0m0 17h0m0 74h0m1-101h0m0 7h0m0 2h0m0 3h0m0 33h0m0 12h0m0 12h0m0 44h0m0 1h0m1-121h0m0 22h0m0 2h0m0 7h0m0 13h0m0 18h0m0 14h0m1-75h0m0 22h0m0 14h0m0 9h0m0 4h0m0 3h0m0 15h0m0 6h0m0 1h0m0 3h0m0 40h0m0 9h0m1-118h0m0 2h0m0 5h0m0 6h0m0 14h0m0 2h0m0 9h0m0 1h0m0 3h0m0 7h0m0 1h0m0 27h0m0 14h0m0 16h0m1-119h0m0 4h0m0 3h0m0 33h0m0 10h0m0 9h0m0 3h0m0 39h0m1-98h0m0 10h0m0 26h0m0 10h0m0 11h0m0 27h0m1-91h0m0 3h0m0 5h0m0 2h0m0 7h0m0 28h0m0 8h0m0 2h0m0 6h0m0 7h0m0 1h0m0 2h0m0 2h0m0 1h0m0 1h0m0 45h0m0 11h0m0 1h0m1-134h0m0 2h0m0 12h0m0 46h0m0 56h0m0 7h0m1-123h0m0 17h0m0 3h0m0 15h0m0 8h0m0 3h0m0 9h0m0 2h0m0 2h0m0 8h0m0 3h0m0 10h0m0 9h0m0 1h0m0 9h0m0 11h0m1-105h0m0 29h0m0 13h0m0 5h0m0 1h0m0 4h0m0 10h0m0 8h0m0 10h0m1-88h0m0 3h0m0 4h0m0 4h0m0 6h0m0 16h0m0 19h0m0 6h0m0 8h0m0 6h0m0 10h0m0 3h0m0 5h0m0 4h0m0 3h0m0 38h0m1-136h0m0 30h0m0 24h0m0 2h0m0 21h0m0 15h0m0 3h0m0 6h0m0 7h0m1-76h0m0 9h0m0 1h0m0 13h0m0 18h0m0 7h0m0 7h0m0 25h0m1-86h0m0 21h0m0 2h0m0 8h0m0 3h0m0 3h0m0 1h0m0 6h0m0 8h0m0 5h0m0 41h0m1-125h0m0 34h0m0 12h0m0 7h0m0 6h0m0 7h0m0 8h0m0 2h0m0 2h0m0 4h0m0 6h0m0 10h0m0 17h0m1-110h0m0 8h0m0 12h0m0 2h0m0 1h0m0 1h0m0 11h0m0 14h0m0 4h0m0 5h0m0 7h0m0 1h0m0 10h0m0 1h0m0 19h0m1-69h0m0 11h0m0 1h0m0 1h0m0 14h0m0 9h0m0 9h0m1-41h0m0 11h0m0 10h0m0 4h0m0 15h0m0 4h0m0 42h0m1-118h0m0 11h0m0 2h0m0 16h0m0 14h0m0 14h0m0 6h0m0 3h0m0 4h0m0 8h0m0 8h0m0 31h0m1-111h0m0 10h0m0 12h0m0 3h0m0 7h0m0 22h0m0 14h0m0 30h0m0 18h0m1-119h0m0 22h0m0 4h0m0 22h0m0 5h0m0 48h0m0 24h0m0 4h0m1-124h0m0 24h0m0 2h0m0 9h0m0 1h0m0 3h0m0 3h0m0 7h0m0 3h0m0 8h0m0 8h0m0 8h0m0 2h0m0 1h0m0 49h0m1-120h0m0 20h0m0 3h0m0 1h0m0 19h0m0 6h0m0 2h0m0 7h0m0 4h0m0 7h0m0 5h0m0 18h0m0 10h0m0 17h0m1-134h0m0 3h0m0 20h0m0 3h0m0 33h0m0 7h0m0 6h0m0 6h0m0 2h0m0 17h0m0 17h0m1-112h0m0 3h0m0 3h0m0 2h0m0 1h0m0 5h0m0 1h0m0 60h0m0 7h0m0 4h0m1-80h0m0 9h0m0 21h0m0 5h0m0 2h0m0 5h0m0 4h0m0 2h0m0 1h0m0 19h0m0 9h0m0 2h0m1-78h0m0 12h0m0 2h0m0 18h0m0 3h0m0 4h0m0 29h0m0 13h0m0 7h0m0 21h0m1-96h0m0 4h0m0 2h0m0 5h0m0 20h0m0 9h0m0 2h0m0 1h0m0 3h0m0 4h0m0 2h0m0 16h0m0 4h0m0 27h0m1-119h0m0 3h0m0 3h0m0 6h0m0 12h0m0 2h0m0 3h0m0 3h0m0 5h0m0 3h0m0 4h0m0 11h0m0 14h0m0 12h0m0 7h0m0 3h0m0 11h0m0 11h0m1-112h0m0 1h0m0 19h0m0 11h0m0 1h0m0 5h0m0 15h0m0 7h0m0 11h0m0 21h0m1-83h0m0 15h0m0 3h0m0 29h0m0 6h0m0 4h0m0 1h0m0 3h0m0 39h0m0 21h0m1-121h0m0 2h0m0 13h0m0 26h0m0 5h0m0 2h0m0 18h0m1-68h0m0 31h0m0 6h0m0 2h0m0 17h0m0 4h0m0 5h0m0 7h0m0 8h0m0 2h0m1-85h0m0 3h0m0 15h0m0 4h0m0 7h0m0 3h0m0 23h0m0 15h0m0 7h0m0 3h0m0 41h0m1-124h0m0 5h0m0 5h0m0 22h0m0 38h0m0 4h0m0 7h0m0 2h0m0 9h0m0 38h0m1-115h0m0 7h0m0 5h0m0 20h0m0 7h0m0 8h0m0 6h0m0 2h0m0 1h0m0 7h0m0 12h0m1-91h0m0 32h0m0 7h0m0 4h0m0 1h0m0 2h0m0 1h0m0 14h0m0 16h0m0 1h0m0 2h0m0 45h0m1-110h0m0 12h0m0 13h0m0 10h0m0 8h0m0 15h0m0 3h0m0 3h0m0 13h0m1-86h0m0 9h0m0 2h0m0 3h0m0 1h0m0 8h0m0 12h0m0 25h0m0 3h0m0 6h0m0 54h0m1-125h0m0 10h0m0 15h0m0 28h0m0 10h0m0 5h0m0 53h0m1-119h0m0 11h0m0 37h0m0 4h0m0 2h0m0 4h0m0 20h0m0 35h0m0 9h0m1-79h0m0 12h0m0 14h0m0 1h0m0 17h0m0 16h0m0 22h0m1-116h0m0 1h0m0 4h0m0 34h0m0 5h0m0 8h0m0 2h0m0 10h0m0 1h0m0 7h0m0 11h0m1-88h0m0 2h0m0 1h0m0 7h0m0 1h0m0 40h0m0 1h0m0 1h0m0 2h0m0 5h0m0 19h0m0 23h0m0 9h0m1-111h0m0 43h0m0 10h0m0 12h0m0 3h0m1-72h0m0 6h0m0 22h0m0 6h0m0 1h0m0 11h0m0 20h0m0 13h0m0 20h0m1-96h0m0 2h0m0 4h0m0 44h0m0 3h0m0 39h0m0 22h0m1-113h0m0 31h0m0 17h0m0 24h0m0 25h0m0 8h0m1-73h0m0 12h0m0 42h0m1-47h0m1-37h0m0 41h0m0 6h0m1-22h0m0 9h0m0 16h0m0 65h0m1-80h0m0 10h0m0 27h0m0 28h0m0 6h0m2-82h0m0 10h0m0 64h0m1-29h0m1-47h0m0 89h0m1-88h0m0 17h0m0 56h0m1-65h0m0 37h0m2-40h0m0 67h0m1-69h0m0 20h0m0 31h0m0 9h0m1-38h0m0 49h0m0 6h0m1-77h0m0 21h0m0 28h0m0 31h0m1-2h0m1-36h0m0 1h0m0 36h0m0 3h0m1-61h0m0 41h0m0 2h0m0 17h0m1-25h0m1-56h0m0 10h0m0 30h0m1 23h0m2 3h0m1-59h0m0 8h0m0 27h0m1-42h0m0 8h0m0 58h0m1-15h0m1 7h0m1-42h0m0 35h0m2-29h0m1-12h0m0 11h0m1-15h0m0 37h0m1-4h0m1-24h0m1-2h0m0 6h0m2 3h0m3-4h0m2 2h0m1 1h0m1 3h0m3 1h0m1-2h0" stroke="#ccb5b6" stroke-width="1.9" stroke-linecap="round" fill="none"/>
<path transform="scale(0.5) translate(.5 .5)" d="M300 458h0m3-71h0m1-12h0m0 9h0m0 7h0m1-4h0m0 2h0m0 4h0m0 3h0m0 2h0m0 53h0m1-79h0m0 10h0m0 13h0m0 4h0m0 4h0m0 53h0m0 25h0m1-111h0m0 2h0m0 6h0m0 4h0m0 10h0m0 2h0m0 1h0m0 3h0m0 5h0m0 3h0m1-43h0m0 4h0m0 41h0m0 2h0m0 5h0m1-46h0m0 11h0m0 1h0m0 10h0m0 9h0m0 2h0m0 2h0m0 52h0m1-90h0m0 9h0m0 1h0m0 5h0m0 1h0m0 1h0m0 9h0m0 6h0m0 8h0m0 2h0m0 11h0m0 18h0m1-74h0m0 1h0m0 2h0m0 4h0m0 2h0m0 9h0m0 1h0m0 1h0m0 2h0m0 28h0m1-55h0m0 3h0m0 13h0m0 7h0m0 1h0m0 6h0m0 1h0m0 1h0m0 2h0m0 7h0m0 4h0m0 3h0m0 1h0m1-49h0m0 7h0m0 3h0m0 7h0m0 9h0m0 4h0m0 2h0m0 1h0m0 10h0m0 3h0m0 3h0m0 4h0m1-50h0m0 7h0m0 2h0m0 13h0m0 4h0m0 2h0m0 2h0m0 2h0m0 2h0m0 1h0m0 3h0m0 1h0m0 1h0m1-49h0m0 8h0m0 2h0m0 5h0m0 1h0m0 4h0m0 8h0m0 5h0m0 1h0m0 8h0m0 14h0m0 48h0m1-106h0m0 13h0m0 10h0m0 2h0m0 12h0m0 8h0m0 90h0m1-125h0m0 28h0m0 11h0m0 8h0m0 59h0m0 13h0m1-123h0m0 15h0m0 6h0m0 8h0m0 10h0m0 11h0m0 14h0m0 36h0m0 35h0m1-140h0m0 8h0m0 2h0m0 1h0m0 10h0m0 5h0m0 11h0m0 16h0m0 28h0m1-66h0m0 2h0m0 4h0m0 6h0m0 3h0m0 2h0m0 6h0m0 1h0m0 2h0m0 1h0m0 1h0m0 5h0m0 2h0m0 7h0m0 9h0m0 42h0m1-104h0m0 4h0m0 2h0m0 1h0m0 1h0m0 12h0m0 1h0m0 4h0m0 10h0m0 13h0m0 1h0m0 1h0m0 74h0m0 1h0m0 4h0m1-131h0m0 12h0m0 1h0m0 18h0m0 3h0m0 5h0m0 1h0m0 6h0m0 2h0m0 4h0m0 34h0m0 46h0m1-118h0m0 2h0m0 12h0m0 5h0m0 2h0m0 12h0m0 3h0m0 20h0m1-68h0m0 2h0m0 21h0m0 4h0m0 5h0m0 6h0m0 4h0m0 7h0m0 17h0m1-69h0m0 5h0m0 6h0m0 5h0m0 3h0m0 11h0m0 12h0m0 3h0m0 4h0m0 2h0m0 12h0m0 3h0m0 3h0m0 5h0m0 41h0m1-116h0m0 14h0m0 2h0m0 6h0m0 1h0m0 3h0m0 2h0m0 12h0m0 7h0m0 4h0m0 4h0m1-50h0m0 8h0m0 7h0m0 29h0m0 11h0m1-54h0m0 9h0m0 10h0m0 11h0m0 18h0m0 30h0m0 8h0m1-86h0m0 7h0m0 4h0m0 12h0m1-25h0m0 2h0m0 9h0m0 12h0m0 5h0m0 6h0m0 8h0m0 13h0m0 8h0m1-63h0m0 7h0m0 4h0m0 1h0m0 10h0m0 7h0m0 10h0m0 3h0m0 4h0m0 7h0m0 44h0m1-96h0m0 1h0m0 3h0m0 4h0m0 5h0m0 13h0m0 9h0m0 2h0m0 35h0m0 7h0m0 1h0m0 9h0m1-86h0m0 16h0m0 7h0m0 2h0m0 2h0m0 8h0m0 13h0m0 1h0m0 32h0m1-80h0m0 10h0m0 7h0m0 5h0m0 6h0m0 5h0m0 2h0m0 15h0m1-43h0m0 1h0m0 1h0m0 4h0m0 31h0m0 49h0m1-83h0m0 3h0m0 1h0m0 13h0m0 7h0m1-39h0m0 4h0m0 2h0m0 6h0m0 7h0m0 14h0m0 19h0m0 28h0m0 3h0m0 49h0m1-127h0m0 2h0m0 11h0m0 2h0m0 17h0m0 48h0m0 27h0m1-111h0m0 1h0m0 2h0m0 3h0m0 20h0m0 6h0m0 13h0m0 16h0m0 55h0m1-112h0m0 13h0m0 4h0m0 7h0m0 2h0m0 22h0m0 22h0m0 1h0m0 2h0m1-71h0m0 4h0m0 5h0m0 2h0m0 1h0m0 1h0m0 5h0m0 9h0m0 11h0m0 22h0m0 7h0m0 10h0m1-81h0m0 12h0m0 48h0m0 6h0m0 11h0m0 2h0m1-77h0m0 1h0m0 2h0m0 3h0m0 1h0m0 21h0m0 7h0m0 22h0m0 24h0m1-82h0m0 3h0m0 4h0m0 11h0m0 4h0m0 1h0m0 4h0m0 18h0m0 53h0m1-97h0m0 14h0m0 17h0m0 3h0m1-24h0m0 1h0m0 10h0m0 22h0m0 37h0m0 5h0m1-87h0m0 14h0m0 7h0m0 1h0m0 36h0m0 23h0m1-81h0m0 18h0m0 1h0m0 42h0m1-55h0m0 32h0m0 34h0m0 14h0m0 14h0m0 16h0m1-113h0m1 4h0m0 7h0m0 26h0m0 2h0m0 8h0m0 69h0m1-59h0m0 58h0m1-117h0m0 8h0m0 1h0m0 37h0m0 11h0m0 6h0m0 5h0m0 5h0m1-65h0m1 8h0m0 48h0m0 2h0m0 5h0m1-66h0m0 1h0m1 0h0m0 2h0m0 52h0m0 17h0m1-7h0m0 2h0m1-26h0m0 23h0m2-4h0m0 1h0m0 58h0m1-24h0m1-38h0m1-2h0m0 22h0m0 31h0m1-38h0m0 39h0m0 3h0m1-45h0m1-8h0m3 2h0m1-41h0m0 7h0m1 15h0m1 10h0m0 50h0m1-47h0m2 7h0m1 37h0m1-39h0m1-23h0m0 21h0m0 2h0m0 48h0m1-66h0m0 18h0m0 4h0m1-12h0m1 0h0m0 5h0m1 4h0m0 11h0m1-25h0m0 8h0m0 6h0m0 6h0m0 7h0m0 5h0m1-24h0m1 4h0m0 8h0m2-17h0m1 11h0m1-4h0m2 1h0m2-18h0m2 18h0m2-2h0m0 8h0m0 3h0m2-12h0m0 2h0m2 4h0m3-10h0m1 5h0m1 6h0" stroke="#c5a1a4" stroke-width="1.9" stroke-linecap="round" fill="none"/>
<path transform="scale(0.5) translate(.5 .5)" d="M302 452h0m0 2h0m0 19h0m1-80h0m1-5h0m0 9h0m1-9h0m0 1h0m1-17h0m0 2h0m0 15h0m1-24h0m0 11h0m0 11h0m0 1h0m0 15h0m1-42h0m0 19h0m0 14h0m0 20h0m0 45h0m1-93h0m0 7h0m0 6h0m0 7h0m0 3h0m0 1h0m0 27h0m1-53h0m0 20h0m0 14h0m0 6h0m0 20h0m1-57h0m0 6h0m0 9h0m0 14h0m0 1h0m0 10h0m0 9h0m1-32h0m0 1h0m0 3h0m0 5h0m0 1h0m0 1h0m0 2h0m0 2h0m0 2h0m0 34h0m1-73h0m0 15h0m0 11h0m0 4h0m0 2h0m0 7h0m0 10h0m1-58h0m0 6h0m0 2h0m0 2h0m0 17h0m0 4h0m0 12h0m0 1h0m1-26h0m0 4h0m0 3h0m0 5h0m0 2h0m0 4h0m0 1h0m0 19h0m0 78h0m1-130h0m0 6h0m0 6h0m0 7h0m0 3h0m0 21h0m0 1h0m0 5h0m1-48h0m0 18h0m0 2h0m0 1h0m0 24h0m0 18h0m1-48h0m0 7h0m0 12h0m0 12h0m0 2h0m1-49h0m0 2h0m0 6h0m0 13h0m0 5h0m0 2h0m0 2h0m0 15h0m0 6h0m0 78h0m1-111h0m0 7h0m0 7h0m0 4h0m0 10h0m1-49h0m0 6h0m0 1h0m0 9h0m0 2h0m0 17h0m0 17h0m1-42h0m0 24h0m0 16h0m0 4h0m0 1h0m0 22h0m0 8h0m1-91h0m0 11h0m0 11h0m0 2h0m0 17h0m0 4h0m0 3h0m1-38h0m0 3h0m0 15h0m0 1h0m0 13h0m0 8h0m1-48h0m0 13h0m0 12h0m0 7h0m0 10h0m0 2h0m0 5h0m0 4h0m1-48h0m0 2h0m0 2h0m0 10h0m0 23h0m0 2h0m0 9h0m0 16h0m0 59h0m1-126h0m0 2h0m0 20h0m0 12h0m0 4h0m0 2h0m0 43h0m1-79h0m0 46h0m0 1h0m0 4h0m1-48h0m0 5h0m0 10h0m0 1h0m0 4h0m0 11h0m0 42h0m0 17h0m1-93h0m0 1h0m0 8h0m0 9h0m0 10h0m0 2h0m0 1h0m0 14h0m1-50h0m0 1h0m0 4h0m0 6h0m0 2h0m0 3h0m0 3h0m0 6h0m0 1h0m0 7h0m1-19h0m0 13h0m0 11h0m0 3h0m1-32h0m0 3h0m0 6h0m0 2h0m0 8h0m0 5h0m0 13h0m1-31h0m0 5h0m0 14h0m0 10h0m1-15h0m0 1h0m0 1h0m0 4h0m0 2h0m0 3h0m0 13h0m0 25h0m1-68h0m0 8h0m0 21h0m0 6h0m0 9h0m0 8h0m1-60h0m0 13h0m0 12h0m0 7h0m0 1h0m1 1h0m0 7h0m0 29h0m1-67h0m0 1h0m0 2h0m0 10h0m0 2h0m0 1h0m1-12h0m0 14h0m0 9h0m1-20h0m0 9h0m0 1h0m0 33h0m0 36h0m1-85h0m0 7h0m0 3h0m0 7h0m0 7h0m1-26h0m0 4h0m0 5h0m0 12h0m0 1h0m0 9h0m0 26h0m0 4h0m1-38h0m0 1h0m0 75h0m1-93h0m0 2h0m0 8h0m0 9h0m1-21h0m0 2h0m0 2h0m0 1h0m0 10h0m0 1h0m0 2h0m1-20h0m0 7h0m0 6h0m0 3h0m0 10h0m0 14h0m0 17h0m1-55h0m0 1h0m0 6h0m0 1h0m1-1h0m0 4h0m0 2h0m1-11h0m0 4h0m0 3h0m0 1h0m0 7h0m1-9h0m0 4h0m0 30h0m1-42h0m0 2h0m0 1h0m0 4h0m0 33h0m0 16h0m0 10h0m0 18h0m1-78h0m0 12h0m0 48h0m0 7h0m1-21h0m0 19h0m1-70h0m0 7h0m0 6h0m0 46h0m1-57h0m0 3h0m0 43h0m1 14h0m1-58h0m0 5h0m0 56h0m1-4h0m0 5h0m1-15h0m2-18h0m1 38h0m1 22h0m1-17h0m1-12h0m0 3h0m0 13h0m2 5h0m1-58h0m2 63h0m1 23h0m2 0h0m2-80h0m2 26h0m1-7h0m2-5h0m0 7h0m1 36h0m1-16h0m1-5h0m3-1h0m1-26h0m0 20h0m1 8h0m7-8h0m3-1h0m1-1h0m2 1h0m3 2h0m0 5h0" stroke="#bf8d90" stroke-width="1.9" stroke-linecap="round" fill="none"/>
<path transform="scale(0.5) translate(.5 .5)" d="M305 406h0m1-24h0m0 1h0m0 13h0m0 6h0m1-34h0m1-2h0m0 16h0m1-9h0m1-14h0m0 1h0m0 18h0m0 1h0m0 2h0m0 14h0m0 1h0m1-32h0m0 19h0m1-11h0m0 9h0m0 7h0m0 14h0m0 2h0m1-7h0m1-48h0m0 14h0m0 19h0m0 28h0m1-59h0m0 17h0m0 5h0m0 2h0m0 7h0m0 18h0m1-43h0m0 14h0m0 13h0m0 21h0m0 5h0m1-61h0m0 3h0m0 45h0m0 30h0m1-66h0m0 38h0m0 16h0m1-59h0m1 20h0m0 14h0m0 8h0m0 3h0m1-51h0m0 13h0m0 3h0m0 2h0m0 3h0m0 18h0m0 15h0m1-51h0m0 15h0m0 6h0m1-14h0m0 8h0m0 5h0m0 6h0m1 3h0m0 9h0m0 3h0m1-40h0m0 4h0m0 16h0m1-13h0m0 5h0m0 18h0m1-21h0m0 3h0m0 7h0m0 2h0m0 20h0m0 1h0m0 12h0m0 1h0m1-39h0m0 3h0m0 20h0m0 2h0m0 19h0m1-35h0m0 20h0m0 3h0m1-24h0m0 24h0m0 72h0m1-121h0m0 21h0m0 15h0m0 10h0m1-8h0m0 5h0m1-37h0m0 4h0m0 9h0m1-9h0m0 2h0m0 7h0m0 5h0m0 8h0m1-24h0m0 5h0m0 24h0m1-36h0m0 24h0m0 13h0m0 20h0m1-41h0m0 2h0m0 4h0m0 1h0m0 8h0m1-16h0m0 18h0m0 4h0m1-33h0m0 16h0m1-12h0m0 13h0m0 5h0m0 60h0m1-64h0m0 25h0m1-45h0m0 19h0m1-13h0m0 24h0m1-8h0m1-2h0m0 3h0m2 42h0m1-59h0m0 2h0m0 43h0m1-42h0m0 50h0m1-38h0m2-19h0m1 10h0m0 9h0m0 59h0m1-66h0m0 2h0m2 56h0m5 1h0m8-4h0m4-2h0m0 8h0m2-35h0m1 29h0m11-1h0m11-2h0m4 2h0m2-3h0m1 2h0" stroke="#b8787d" stroke-width="1.9" stroke-linecap="round" fill="none"/>
<path transform="scale(0.5) translate(.5 .5)" d="M304 379h0m1-3h0m0 23h0m2-22h0m1 17h0m2-3h0m0 7h0m1-38h0m3 19h0m0 6h0m1 8h0m1-4h0m1-29h0m0 49h0m1-33h0m1-7h0m1-15h0m0 23h0m1-25h0m1 22h0m1-21h0m3 47h0m0 11h0m1-7h0m1-19h0m1 6h0m3-34h0m0 18h0m3 9h0m1-27h0m2 13h0m2 19h0m1-25h0m0 1h0m3 19h0m1-24h0m0 112h0m2-99h0m1-3h0m1-12h0m0 26h0m1 32h0m0 17h0m8-10h0m3 6h0m2 8h0m8 4h0m5-17h0m5 2h0m14-6h0" stroke="#b2646a" stroke-width="1.9" stroke-linecap="round" fill="none"/>
<path transform="scale(0.5) translate(.5 .5)" d="M318 364h0m5 41h0m1-5h0m9 1h0m3-15h0m0 12h0m7 14h0m2-25h0m6-28h0m3 71h0" stroke="#ab5058" stroke-width="1.9" stroke-linecap="round" fill="none"/>
<path transform="scale(0.5) translate(.5 .5)" d="M306 413h0m5-47h0" stroke="#a43c44" stroke-width="1.9" stroke-linecap="round" fill="none"/>
<rect x="208.50" y="166.30" width="3.50" height="83.40" fill="url(#dcb0)" stroke="#555" stroke-width="0.4" />
<text x="215.30" y="243.60" font-size="6.6">0</text>
<text x="215.30" y="228.65" font-size="6.6">1</text>
<text x="215.30" y="213.70" font-size="6.6">2</text>
<text x="215.30" y="198.75" font-size="6.6">3</text>
<text x="215.30" y="183.80" font-size="6.6">4</text>
<path d="M212.0 241.30h1.8M212.0 226.35h1.8M212.0 211.40h1.8M212.0 196.45h1.8M212.0 181.50h1.8" fill="none" stroke="#444" stroke-width="0.5" />
<path transform="scale(0.5) translate(.5 .5)" d="M485 460h0m7-45h0m13-3h0m1 56h0m5-38h0m2 13h0m7 1h0m8-26h0m2 5h0m0 20h0" stroke="#d3c9ca" stroke-width="1.9" stroke-linecap="round" fill="none"/>
<path transform="scale(0.5) translate(.5 .5)" d="M486 429h0m3 17h0m6 28h0m4 4h0m1-64h0m1 19h0m0 7h0m1-24h0m0 32h0m1-13h0m1-13h0m0 21h0m4-34h0m0 16h0m2 24h0m1-19h0m0 18h0m2-48h0m0 2h0m3-5h0m0 28h0m0 64h0m1-45h0m0 35h0m1-46h0m0 39h0m1-58h0m0 31h0m2-42h0m0 5h0m1-6h0m0 84h0m1-27h0m1-53h0m2 8h0m0 12h0m2-21h0m0 35h0m0 4h0m1-34h0m1 48h0m0 5h0m1-46h0m0 43h0m2 26h0m1-90h0m0 14h0m2 11h0m1 12h0m4-45h0m0 51h0m1-37h0m0 84h0m5-79h0m0 64h0m1-27h0m2-29h0m3 48h0m3-16h0m1 28h0m2-76h0m0 75h0m2-8h0m4-62h0m0 43h0m1-1h0m8-45h0m11 11h0m2 3h0" stroke="#ccb5b6" stroke-width="1.9" stroke-linecap="round" fill="none"/>
<path transform="scale(0.5) translate(.5 .5)" d="M482 464h0m1-5h0m1 8h0m1 1h0m1-33h0m2 13h0m0 5h0m1-28h0m1 6h0m1-10h0m1 0h0m0 9h0m0 3h0m0 13h0m1-29h0m0 4h0m0 10h0m0 43h0m0 3h0m2-67h0m0 1h0m0 10h0m1-3h0m0 4h0m0 10h0m0 50h0m1-62h0m0 45h0m0 20h0m1-52h0m0 15h0m1-37h0m0 19h0m0 12h0m1-20h0m0 16h0m1-18h0m0 2h0m0 27h0m0 18h0m1-57h0m0 18h0m0 7h0m1-1h0m1-25h0m0 8h0m0 7h0m0 15h0m0 7h0m1-38h0m0 3h0m0 30h0m0 41h0m1-70h0m0 5h0m0 2h0m0 1h0m0 35h0m0 13h0m0 3h0m1-47h0m0 3h0m0 30h0m1-36h0m0 4h0m0 15h0m1-36h0m0 8h0m0 9h0m0 4h0m0 40h0m0 8h0m0 7h0m1-75h0m0 6h0m0 8h0m1-13h0m0 2h0m0 4h0m0 4h0m0 3h0m0 42h0m1-51h0m0 12h0m0 18h0m0 7h0m0 4h0m1-48h0m0 4h0m0 7h0m0 23h0m0 3h0m0 7h0m0 42h0m1-88h0m0 4h0m0 13h0m0 9h0m0 1h0m1-5h0m0 2h0m0 43h0m1-60h0m0 9h0m0 3h0m0 22h0m0 18h0m0 27h0m0 1h0m1-90h0m0 6h0m0 24h0m0 3h0m1-37h0m0 3h0m0 9h0m0 2h0m0 7h0m0 4h0m0 27h0m1-50h0m0 15h0m0 3h0m0 11h0m0 16h0m0 32h0m1-66h0m0 9h0m0 7h0m1-16h0m0 7h0m0 7h0m0 8h0m0 10h0m0 30h0m0 10h0m1-71h0m0 15h0m0 2h0m0 12h0m1-41h0m0 4h0m0 15h0m0 15h0m0 5h0m0 5h0m0 26h0m1-67h0m0 21h0m0 1h0m0 5h0m1-19h0m0 1h0m0 3h0m0 3h0m0 2h0m0 20h0m0 9h0m1-48h0m0 5h0m0 2h0m0 20h0m0 2h0m0 1h0m1-28h0m0 3h0m0 7h0m0 26h0m0 14h0m1-29h0m1-5h0m0 11h0m0 1h0m0 38h0m0 17h0m1-81h0m0 23h0m0 23h0m0 40h0m1-88h0m0 7h0m0 4h0m0 42h0m0 18h0m1-75h0m0 1h0m0 28h0m0 9h0m2-27h0m0 7h0m0 17h0m0 7h0m1-33h0m0 1h0m0 15h0m0 10h0m0 7h0m0 1h0m0 21h0m1-61h0m0 15h0m0 7h0m0 9h0m0 11h0m0 18h0m0 2h0m0 27h0m1-84h0m0 35h0m0 3h0m0 24h0m0 20h0m1-87h0m0 2h0m0 3h0m0 23h0m0 1h0m1-8h0m0 14h0m0 7h0m0 35h0m1-61h0m0 2h0m0 2h0m0 59h0m1-89h0m0 58h0m1-30h0m0 43h0m1-42h0m1 5h0m0 23h0m1-24h0m0 47h0m0 10h0m1 0h0m1-37h0m0 1h0m2-44h0m1 2h0m1-3h0m0 5h0m0 11h0m1 27h0m0 17h0m1-60h0m1 5h0m1-11h0m0 63h0m1-7h0m0 15h0m1-62h0m0 66h0m2-62h0m0 2h0m0 51h0m2-44h0m3-17h0m0 13h0m1 1h0m2 43h0m0 9h0m0 1h0m2-69h0m1 6h0m0 14h0m1-17h0m1 40h0m2-26h0m2 7h0m3-12h0m3 10h0m1-2h0m3 2h0m1 1h0" stroke="#c5a1a4" stroke-width="1.9" stroke-linecap="round" fill="none"/>
<path transform="scale(0.5) translate(.5 .5)" d="M480 463h0m4 13h0m1-7h0m1 8h0m1 3h0m1-47h0m0 14h0m2-29h0m0 36h0m1-41h0m0 5h0m0 15h0m1-11h0m0 14h0m0 6h0m0 24h0m0 11h0m1-62h0m0 8h0m0 8h0m1-13h0m0 2h0m0 40h0m0 13h0m1-52h0m0 1h0m0 5h0m0 10h0m0 2h0m0 30h0m1-57h0m0 5h0m0 4h0m0 6h0m0 1h0m0 1h0m0 2h0m0 4h0m0 4h0m0 40h0m1-68h0m0 73h0m1-75h0m0 12h0m0 3h0m0 10h0m0 3h0m1-32h0m0 6h0m0 1h0m0 11h0m0 29h0m0 19h0m0 4h0m1-65h0m0 13h0m0 2h0m0 7h0m0 6h0m0 25h0m1-52h0m0 4h0m0 8h0m0 4h0m0 7h0m0 5h0m0 1h0m0 18h0m1-47h0m0 8h0m0 13h0m0 32h0m1-58h0m0 16h0m0 10h0m0 4h0m0 4h0m0 10h0m0 7h0m0 12h0m0 17h0m1-80h0m0 6h0m0 22h0m0 1h0m0 11h0m0 43h0m1-83h0m0 1h0m0 2h0m0 6h0m0 3h0m0 12h0m0 1h0m0 27h0m1-56h0m0 6h0m0 5h0m0 9h0m0 1h0m0 38h0m1-58h0m0 3h0m0 2h0m0 10h0m0 1h0m0 14h0m0 35h0m0 3h0m0 1h0m0 12h0m1-77h0m0 1h0m0 3h0m0 11h0m0 7h0m0 2h0m0 11h0m0 8h0m0 4h0m0 5h0m0 14h0m1-63h0m0 4h0m0 14h0m0 3h0m0 6h0m0 37h0m1-63h0m0 1h0m0 15h0m0 4h0m0 5h0m0 12h0m0 2h0m0 20h0m0 18h0m1-88h0m0 3h0m0 6h0m0 3h0m0 3h0m0 1h0m0 1h0m0 3h0m0 1h0m0 2h0m0 1h0m0 14h0m0 1h0m0 12h0m0 1h0m1-46h0m0 2h0m0 8h0m0 2h0m0 3h0m0 4h0m0 14h0m0 19h0m1-58h0m0 7h0m0 2h0m0 1h0m0 11h0m0 1h0m0 2h0m0 1h0m0 5h0m0 3h0m0 10h0m0 48h0m1-86h0m0 4h0m0 4h0m0 1h0m0 2h0m0 6h0m0 3h0m0 35h0m0 17h0m0 5h0m1-72h0m0 5h0m0 11h0m0 5h0m0 5h0m1-28h0m0 6h0m0 9h0m0 17h0m1-39h0m0 3h0m0 5h0m0 13h0m0 26h0m0 20h0m0 2h0m0 6h0m0 12h0m1-91h0m0 8h0m0 11h0m0 5h0m0 9h0m0 1h0m0 2h0m0 1h0m0 9h0m1-45h0m0 5h0m0 1h0m0 2h0m0 10h0m0 1h0m0 2h0m0 1h0m0 1h0m0 3h0m0 4h0m0 4h0m0 4h0m0 3h0m0 1h0m0 12h0m0 9h0m0 5h0m0 26h0m1-123h0m0 26h0m0 9h0m0 2h0m0 9h0m0 4h0m0 2h0m0 4h0m0 22h0m0 37h0m1-86h0m0 6h0m0 3h0m0 2h0m0 1h0m0 5h0m0 8h0m0 4h0m0 1h0m0 2h0m0 30h0m0 27h0m1-88h0m0 6h0m0 7h0m0 6h0m0 5h0m0 1h0m0 16h0m0 5h0m1-41h0m0 9h0m0 16h0m0 6h0m0 28h0m0 12h0m0 11h0m0 1h0m0 3h0m1-96h0m0 24h0m0 20h0m0 27h0m0 9h0m0 3h0m0 1h0m1-83h0m0 7h0m0 4h0m0 2h0m0 13h0m0 7h0m0 42h0m1-52h0m0 1h0m0 3h0m0 11h0m0 2h0m0 3h0m0 3h0m1-62h0m0 35h0m0 4h0m0 10h0m0 6h0m0 3h0m0 5h0m0 19h0m0 6h0m0 6h0m1-81h0m0 13h0m0 1h0m0 8h0m0 7h0m0 3h0m0 1h0m0 18h0m1-42h0m0 2h0m0 6h0m0 11h0m0 3h0m0 8h0m0 6h0m0 3h0m0 28h0m1-94h0m0 27h0m0 5h0m0 16h0m0 3h0m0 13h0m0 2h0m0 2h0m0 32h0m0 11h0m1-75h0m0 5h0m0 1h0m0 4h0m0 2h0m0 48h0m1-75h0m0 1h0m0 30h0m0 1h0m0 2h0m0 2h0m0 3h0m0 54h0m1-94h0m0 1h0m0 1h0m0 8h0m0 10h0m0 5h0m0 4h0m0 13h0m0 44h0m1-90h0m0 17h0m0 17h0m0 3h0m0 7h0m0 4h0m0 22h0m1-52h0m0 15h0m0 6h0m0 7h0m0 6h0m1-48h0m0 7h0m0 12h0m0 25h0m0 2h0m0 1h0m0 2h0m0 19h0m0 24h0m0 1h0m1-87h0m0 2h0m0 23h0m0 1h0m0 5h0m0 38h0m0 11h0m1-89h0m0 4h0m0 4h0m0 2h0m0 5h0m0 2h0m0 8h0m0 2h0m0 12h0m0 57h0m1-34h0m0 20h0m0 5h0m1-74h0m0 40h0m0 16h0m0 19h0m1-74h0m1 2h0m0 3h0m0 12h0m0 27h0m0 3h0m0 23h0m0 9h0m1-79h0m0 29h0m0 12h0m0 8h0m1-56h0m0 11h0m0 19h0m0 3h0m2-30h0m0 53h0m0 7h0m1-76h0m0 13h0m0 51h0m0 32h0m1-94h0m0 83h0m0 9h0m1-94h0m0 9h0m0 75h0m1-50h0m0 47h0m1-17h0m0 25h0m1-33h0m0 13h0m0 2h0m0 15h0m1-77h0m0 6h0m0 68h0m0 2h0m1-65h0m0 63h0m1-67h0m0 11h0m0 48h0m1 0h0m1-60h0m0 10h0m0 15h0m0 7h0m0 27h0m0 2h0m1-67h0m0 56h0m0 10h0m1 1h0m0 7h0m1-55h0m0 26h0m0 2h0m0 19h0m1-71h0m0 38h0m0 23h0m1-39h0m0 1h0m0 33h0m0 26h0m1-55h0m0 21h0m0 5h0m0 17h0m1-50h0m1 9h0m1 0h0m0 12h0m0 8h0m0 11h0m0 12h0m1-45h0m0 6h0m2-20h0m0 6h0m0 1h0m0 4h0m0 19h0m0 16h0m1 7h0m1-60h0m1 11h0m1 5h0m0 14h0m0 16h0m1-9h0m0 5h0m1-34h0m0 1h0m0 8h0m0 10h0m1-9h0m0 15h0m2-18h0m1 1h0m1 23h0m1-16h0m1-10h0m3 1h0m1-1h0m0 5h0m2 0h0m0 14h0" stroke="#bf8d90" stroke-width="1.9" stroke-linecap="round" fill="none"/>
<path transform="scale(0.5) translate(.5 .5)" d="M483 454h0m0 15h0m1-22h0m1-11h0m2-5h0m0 16h0m0 3h0m0 7h0m1 0h0m1-7h0m0 10h0m0 10h0m1 5h0m0 2h0m1-62h0m0 2h0m0 3h0m0 8h0m1-55h0m0 12h0m0 11h0m0 8h0m0 14h0m0 5h0m0 31h0m0 3h0m0 11h0m1-94h0m0 78h0m0 7h0m0 7h0m0 2h0m0 4h0m1-103h0m0 48h0m0 1h0m0 13h0m0 2h0m0 10h0m0 30h0m1-106h0m0 4h0m0 15h0m0 31h0m0 12h0m0 1h0m0 1h0m1-77h0m0 51h0m0 16h0m0 9h0m0 9h0m0 7h0m1-51h0m0 7h0m0 4h0m0 24h0m0 4h0m0 34h0m1-46h0m0 13h0m0 5h0m0 23h0m1-55h0m0 5h0m0 10h0m0 5h0m0 1h0m0 6h0m0 2h0m0 41h0m1-105h0m0 12h0m0 22h0m0 4h0m0 15h0m0 45h0m0 16h0m1-122h0m0 48h0m0 7h0m0 11h0m0 35h0m0 5h0m1-114h0m0 24h0m0 27h0m0 3h0m0 6h0m0 17h0m0 30h0m0 1h0m0 3h0m0 22h0m1-122h0m0 24h0m0 7h0m0 4h0m0 30h0m0 3h0m0 3h0m0 23h0m0 11h0m1-115h0m0 27h0m0 23h0m0 3h0m0 3h0m0 7h0m0 17h0m0 1h0m1-28h0m0 3h0m0 50h0m1-87h0m0 77h0m0 16h0m1-107h0m0 51h0m0 2h0m0 1h0m0 11h0m0 5h0m0 5h0m0 9h0m0 5h0m0 34h0m1-103h0m0 25h0m0 3h0m0 2h0m0 5h0m0 2h0m0 2h0m0 7h0m0 5h0m0 8h0m0 14h0m1-49h0m0 2h0m0 3h0m0 4h0m0 16h0m0 24h0m0 8h0m0 17h0m1-116h0m0 4h0m0 50h0m0 6h0m0 1h0m0 3h0m0 5h0m0 6h0m0 19h0m0 23h0m1-82h0m0 6h0m0 16h0m0 6h0m0 37h0m1-108h0m0 10h0m0 30h0m0 7h0m0 23h0m0 51h0m0 9h0m1-121h0m0 35h0m0 10h0m0 1h0m0 11h0m0 3h0m0 4h0m0 7h0m0 2h0m1-53h0m0 7h0m0 15h0m0 4h0m0 11h0m0 1h0m0 2h0m0 33h0m1-83h0m0 15h0m0 12h0m0 42h0m0 16h0m1-97h0m0 20h0m0 16h0m0 26h0m0 2h0m0 5h0m0 4h0m0 19h0m1-95h0m0 4h0m0 15h0m0 32h0m0 4h0m0 15h0m0 17h0m0 16h0m0 18h0m1-123h0m0 50h0m0 3h0m0 2h0m0 6h0m0 2h0m0 6h0m0 23h0m0 1h0m0 5h0m1-94h0m0 44h0m0 1h0m0 2h0m0 4h0m0 2h0m0 5h0m0 4h0m0 10h0m0 3h0m0 43h0m1-96h0m0 12h0m0 5h0m0 8h0m0 4h0m0 7h0m0 5h0m0 34h0m0 13h0m1-66h0m0 15h0m0 1h0m0 8h0m0 36h0m0 18h0m1-124h0m0 3h0m0 14h0m0 32h0m0 11h0m0 10h0m0 16h0m0 3h0m0 3h0m0 10h0m0 13h0m1-99h0m0 21h0m0 4h0m0 8h0m0 6h0m0 6h0m0 1h0m0 1h0m0 1h0m0 11h0m0 10h0m0 2h0m0 5h0m0 32h0m0 6h0m1-126h0m0 29h0m0 7h0m0 8h0m0 9h0m0 6h0m0 6h0m0 8h0m0 22h0m0 4h0m1-80h0m0 23h0m0 12h0m0 10h0m0 5h0m0 10h0m1-73h0m0 29h0m0 15h0m0 3h0m0 9h0m0 7h0m0 33h0m1-103h0m0 43h0m0 1h0m0 11h0m0 42h0m1-94h0m0 40h0m0 1h0m0 7h0m0 5h0m0 3h0m0 5h0m0 1h0m0 13h0m1-70h0m0 25h0m0 1h0m0 30h0m0 8h0m0 2h0m1-69h0m0 32h0m0 12h0m0 19h0m0 2h0m0 1h0m0 3h0m0 2h0m0 21h0m1-86h0m0 1h0m0 26h0m0 6h0m0 9h0m0 5h0m0 3h0m0 46h0m0 15h0m1-108h0m0 22h0m0 10h0m0 12h0m0 62h0m1-120h0m0 17h0m0 45h0m0 5h0m0 3h0m0 18h0m0 13h0m1-59h0m0 2h0m0 13h0m0 48h0m0 4h0m0 16h0m1-96h0m0 8h0m0 8h0m0 11h0m0 3h0m0 7h0m0 8h0m0 47h0m1-126h0m0 63h0m0 26h0m0 3h0m0 11h0m1-59h0m0 3h0m0 21h0m0 4h0m0 22h0m0 5h0m1-87h0m0 17h0m0 13h0m0 2h0m0 14h0m0 2h0m0 8h0m0 23h0m1-45h0m0 7h0m0 9h0m0 4h0m1-18h0m0 5h0m0 2h0m0 71h0m1-78h0m0 6h0m0 2h0m0 3h0m0 1h0m0 40h0m0 8h0m1-61h0m0 9h0m1-5h0m0 18h0m0 4h0m0 36h0m0 3h0m1-16h0m1-25h0m0 48h0m0 1h0m1-82h0m0 49h0m0 1h0m0 24h0m1-65h0m0 2h0m0 7h0m0 14h0m0 2h0m0 2h0m0 45h0m0 4h0m1-87h0m0 26h0m0 7h0m0 30h0m0 17h0m1-35h0m1-50h0m0 11h0m0 31h0m0 35h0m1-63h0m0 4h0m0 38h0m0 12h0m1-50h0m0 6h0m0 12h0m0 2h0m0 18h0m0 30h0m1-89h0m0 13h0m0 13h0m0 31h0m0 22h0m0 6h0m1-88h0m0 2h0m0 16h0m0 19h0m0 29h0m0 12h0m1-61h0m0 15h0m1-30h0m0 36h0m0 26h0m0 10h0m1-75h0m0 23h0m0 49h0m2-50h0m1-18h0m0 11h0m0 5h0m0 41h0m0 11h0m1-33h0m0 39h0m1-53h0m0 62h0m1-43h0m0 8h0m1-25h0m0 22h0m1-36h0m0 11h0m0 41h0m1-52h0m0 71h0m0 2h0m1-10h0m1-54h0m0 6h0m0 8h0m1-25h0m0 10h0m0 7h0m0 24h0m1-12h0m0 2h0m0 2h0m1-22h0m0 5h0m0 8h0m0 31h0m1-50h0m0 23h0m0 2h0m2 12h0m1-27h0m0 11h0m0 3h0m1-18h0m2 19h0m0 5h0m0 6h0m1-18h0m0 18h0m2-26h0m1 7h0m4 1h0m2 1h0m0 13h0m1-7h0m2-6h0m1 0h0m0 5h0" stroke="#b8787e" stroke-width="1.9" stroke-linecap="round" fill="none"/>
<path transform="scale(0.5) translate(.5 .5)" d="M484 433h0m1-6h0m1 39h0m2-79h0m0 58h0m1-38h0m0 15h0m0 4h0m0 48h0m1-101h0m0 80h0m0 15h0m1-97h0m0 2h0m0 14h0m0 4h0m0 31h0m0 7h0m0 33h0m1-97h0m0 17h0m0 1h0m0 8h0m0 8h0m0 24h0m1-45h0m0 4h0m0 1h0m0 8h0m0 3h0m0 4h0m0 2h0m0 33h0m0 19h0m0 32h0m1-124h0m0 11h0m0 8h0m0 11h0m0 2h0m0 4h0m0 1h0m0 3h0m0 7h0m1-46h0m0 3h0m0 2h0m0 7h0m0 17h0m0 9h0m0 4h0m0 2h0m0 86h0m1-136h0m0 4h0m0 19h0m0 6h0m0 1h0m0 4h0m0 13h0m0 3h0m0 3h0m0 10h0m0 7h0m1-69h0m0 4h0m0 1h0m0 16h0m0 15h0m0 3h0m0 3h0m0 6h0m1-23h0m0 1h0m0 1h0m0 28h0m0 9h0m0 5h0m0 8h0m0 27h0m1-105h0m0 4h0m0 21h0m0 12h0m0 2h0m0 5h0m0 3h0m0 1h0m0 14h0m0 16h0m1-70h0m0 7h0m0 10h0m0 15h0m0 3h0m0 3h0m0 2h0m0 7h0m0 1h0m0 31h0m0 26h0m1-118h0m0 10h0m0 8h0m0 11h0m0 28h0m0 15h0m0 11h0m0 14h0m0 4h0m0 15h0m1-113h0m0 5h0m0 4h0m0 5h0m0 1h0m0 4h0m0 1h0m0 8h0m0 15h0m0 2h0m0 25h0m0 5h0m0 23h0m0 13h0m1-114h0m0 1h0m0 8h0m0 12h0m0 29h0m0 3h0m0 8h0m0 9h0m0 1h0m0 6h0m0 24h0m1-103h0m0 1h0m0 1h0m0 16h0m0 2h0m0 1h0m0 19h0m0 1h0m0 5h0m0 4h0m0 26h0m1-77h0m0 12h0m0 1h0m0 10h0m0 1h0m0 2h0m0 3h0m0 4h0m0 4h0m0 4h0m0 3h0m0 1h0m0 5h0m0 1h0m0 2h0m0 7h0m0 4h0m0 10h0m1-66h0m0 2h0m0 5h0m0 5h0m0 8h0m0 1h0m0 2h0m0 9h0m0 3h0m0 18h0m1-55h0m0 2h0m0 1h0m0 2h0m0 9h0m0 8h0m0 13h0m0 3h0m0 4h0m0 2h0m0 5h0m0 1h0m0 4h0m0 17h0m0 2h0m0 14h0m0 40h0m1-126h0m0 5h0m0 12h0m0 3h0m0 4h0m0 5h0m0 2h0m0 1h0m0 7h0m0 9h0m0 4h0m0 6h0m0 13h0m0 6h0m0 8h0m1-88h0m0 11h0m0 4h0m0 3h0m0 15h0m0 6h0m0 11h0m0 5h0m0 22h0m1-75h0m0 3h0m0 6h0m0 7h0m0 2h0m0 1h0m0 5h0m0 17h0m0 23h0m0 64h0m1-113h0m0 1h0m0 15h0m0 5h0m0 3h0m0 14h0m0 14h0m0 36h0m1-102h0m0 17h0m0 3h0m0 14h0m0 2h0m0 3h0m0 4h0m0 3h0m0 9h0m0 16h0m0 1h0m0 16h0m0 36h0m1-115h0m0 10h0m0 12h0m0 7h0m0 1h0m0 18h0m0 17h0m1-77h0m0 12h0m0 49h0m0 35h0m0 38h0m1-131h0m0 2h0m0 4h0m0 11h0m0 5h0m0 20h0m0 25h0m0 8h0m1-73h0m0 6h0m0 4h0m0 12h0m0 11h0m0 5h0m0 2h0m0 3h0m0 13h0m0 2h0m0 2h0m0 26h0m0 41h0m1-119h0m0 3h0m0 3h0m0 17h0m0 9h0m0 3h0m0 6h0m0 16h0m0 29h0m0 32h0m1-127h0m0 1h0m0 10h0m0 3h0m0 8h0m0 4h0m0 6h0m0 3h0m0 2h0m0 5h0m0 1h0m0 20h0m0 11h0m0 9h0m1-85h0m0 11h0m0 3h0m0 2h0m0 5h0m0 9h0m0 1h0m0 2h0m0 5h0m0 27h0m0 1h0m0 9h0m1-65h0m0 7h0m0 1h0m0 11h0m0 3h0m0 1h0m0 1h0m0 1h0m0 1h0m0 1h0m0 9h0m0 8h0m0 3h0m0 12h0m1-49h0m0 1h0m0 3h0m0 1h0m0 102h0m1-114h0m0 2h0m0 2h0m0 2h0m0 8h0m0 1h0m0 6h0m0 2h0m0 81h0m0 17h0m1-134h0m0 3h0m0 8h0m0 15h0m0 6h0m0 5h0m0 30h0m1-59h0m0 12h0m0 10h0m0 2h0m0 6h0m0 31h0m0 67h0m1-129h0m0 11h0m0 16h0m0 1h0m0 15h0m0 1h0m0 18h0m0 10h0m0 38h0m0 2h0m1-115h0m0 7h0m0 4h0m0 13h0m0 28h0m0 3h0m0 16h0m0 9h0m0 13h0m1-95h0m0 25h0m0 43h0m0 7h0m1-70h0m0 11h0m0 10h0m0 29h0m0 28h0m1-75h0m0 2h0m0 4h0m0 8h0m0 3h0m0 6h0m0 17h0m0 61h0m0 3h0m1-109h0m0 4h0m0 13h0m0 3h0m0 3h0m0 14h0m0 8h0m0 10h0m1-51h0m0 1h0m0 1h0m0 10h0m0 1h0m0 26h0m0 11h0m0 29h0m1-82h0m0 14h0m0 10h0m1-27h0m0 13h0m0 1h0m0 2h0m0 11h0m0 26h0m0 3h0m0 27h0m1-82h0m0 10h0m0 9h0m0 39h0m0 28h0m1-85h0m0 3h0m0 1h0m0 2h0m0 2h0m0 12h0m0 22h0m0 24h0m0 4h0m1-64h0m0 43h0m0 7h0m0 71h0m1-116h0m0 4h0m0 1h0m0 1h0m0 95h0m1-106h0m0 58h0m1-56h0m0 64h0m0 2h0m0 20h0m1-52h0m0 54h0m1-37h0m0 49h0m1-98h0m0 24h0m0 7h0m0 18h0m0 11h0m0 40h0m1-107h0m0 47h0m0 6h0m0 12h0m0 13h0m0 14h0m2 18h0m2-44h0m0 38h0m1-58h0m0 17h0m0 48h0m1-62h0m0 12h0m1-10h0m0 71h0m1-94h0m0 58h0m1-34h0m1 0h0m1 17h0m1 1h0m0 36h0m0 3h0m1-60h0m0 16h0m1-19h0m0 29h0m0 2h0m1-18h0m0 36h0m1-33h0m1 14h0m2-7h0m0 13h0m2-43h0m0 67h0m2-10h0m1-59h0m2 21h0m0 1h0m2 19h0m3-20h0m0 11h0m2 6h0m2-33h0m0 33h0m4-17h0m0 8h0m1 4h0m1-1h0m2-23h0m4 22h0" stroke="#b2646a" stroke-width="1.9" stroke-linecap="round" fill="none"/>
<path transform="scale(0.5) translate(.5 .5)" d="M488 381h0m2 2h0m1-2h0m0 5h0m0 2h0m0 1h0m0 8h0m0 4h0m0 5h0m0 2h0m1-43h0m0 5h0m0 4h0m0 4h0m0 3h0m0 7h0m0 1h0m0 4h0m0 9h0m0 5h0m1-48h0m0 5h0m0 9h0m0 4h0m0 1h0m0 7h0m0 4h0m0 3h0m0 3h0m0 5h0m0 10h0m1-45h0m0 6h0m0 9h0m0 2h0m0 6h0m0 2h0m0 4h0m0 7h0m0 1h0m1-39h0m0 4h0m0 8h0m0 7h0m0 4h0m0 4h0m0 8h0m0 1h0m0 7h0m0 3h0m1-53h0m0 17h0m0 3h0m0 4h0m0 2h0m0 5h0m0 8h0m0 3h0m0 2h0m0 2h0m1-36h0m0 7h0m0 1h0m0 3h0m0 6h0m0 5h0m0 1h0m0 2h0m0 4h0m0 9h0m1-50h0m0 9h0m0 1h0m0 13h0m0 1h0m0 11h0m0 7h0m0 3h0m0 6h0m0 4h0m1-60h0m0 11h0m0 5h0m0 9h0m0 8h0m0 1h0m0 1h0m0 1h0m0 2h0m0 1h0m0 16h0m0 2h0m0 3h0m1-50h0m0 23h0m0 2h0m0 2h0m0 5h0m0 9h0m0 5h0m0 3h0m1-54h0m0 7h0m0 4h0m0 10h0m0 1h0m0 20h0m0 5h0m0 1h0m0 1h0m1-45h0m0 4h0m0 5h0m0 1h0m0 3h0m0 1h0m0 1h0m0 3h0m0 1h0m0 5h0m0 4h0m0 1h0m0 8h0m0 8h0m0 4h0m1-57h0m0 1h0m0 5h0m0 14h0m0 1h0m0 3h0m0 9h0m0 5h0m0 3h0m0 6h0m0 3h0m0 4h0m1-53h0m0 1h0m0 7h0m0 3h0m0 5h0m0 5h0m0 5h0m0 3h0m0 7h0m0 1h0m0 1h0m0 8h0m1-46h0m0 1h0m0 7h0m0 11h0m0 1h0m0 23h0m0 3h0m0 7h0m0 6h0m1-54h0m0 3h0m0 2h0m0 1h0m0 8h0m0 3h0m0 2h0m0 4h0m0 3h0m0 4h0m0 9h0m0 3h0m0 5h0m1-51h0m0 1h0m0 4h0m0 12h0m0 3h0m0 16h0m0 13h0m1-40h0m0 2h0m0 5h0m0 11h0m0 11h0m0 3h0m0 5h0m0 1h0m0 1h0m0 13h0m1-63h0m0 9h0m0 2h0m0 14h0m0 1h0m0 8h0m0 1h0m0 2h0m0 2h0m0 4h0m0 4h0m0 4h0m0 3h0m0 3h0m1-51h0m0 2h0m0 1h0m0 5h0m0 3h0m0 4h0m0 5h0m0 7h0m0 1h0m0 10h0m0 4h0m0 4h0m0 19h0m1-66h0m0 1h0m0 2h0m0 3h0m0 1h0m0 7h0m0 1h0m0 9h0m0 1h0m0 4h0m0 6h0m0 6h0m0 7h0m1-47h0m0 2h0m0 8h0m0 8h0m0 4h0m0 1h0m0 4h0m0 2h0m0 2h0m0 7h0m0 30h0m1-72h0m0 2h0m0 3h0m0 2h0m0 1h0m0 5h0m0 4h0m0 3h0m1-22h0m0 6h0m0 7h0m0 3h0m0 4h0m0 1h0m0 5h0m0 2h0m0 7h0m0 1h0m0 5h0m0 2h0m0 3h0m0 2h0m0 3h0m1-36h0m0 2h0m0 3h0m0 4h0m0 2h0m0 1h0m0 4h0m0 3h0m0 3h0m0 36h0m0 28h0m1-89h0m0 5h0m0 2h0m0 6h0m0 10h0m0 5h0m0 6h0m0 3h0m0 13h0m1-58h0m0 2h0m0 10h0m0 11h0m0 5h0m0 1h0m0 3h0m0 11h0m1-39h0m0 3h0m0 6h0m0 1h0m0 2h0m0 26h0m0 79h0m1-121h0m0 13h0m0 4h0m0 7h0m0 3h0m0 2h0m0 3h0m0 6h0m0 3h0m0 2h0m1-42h0m0 12h0m0 3h0m0 6h0m0 20h0m1-39h0m0 18h0m0 1h0m0 6h0m0 12h0m0 46h0m1-85h0m0 5h0m0 9h0m0 5h0m0 1h0m0 6h0m0 1h0m0 1h0m0 11h0m0 87h0m1-126h0m0 5h0m0 4h0m0 5h0m0 7h0m0 1h0m0 6h0m0 7h0m0 2h0m0 2h0m0 1h0m1-42h0m0 17h0m0 2h0m0 3h0m0 1h0m0 10h0m0 4h0m1-30h0m0 1h0m0 9h0m0 2h0m0 8h0m0 2h0m0 2h0m0 1h0m0 6h0m0 33h0m0 50h0m1-121h0m0 4h0m0 4h0m0 11h0m0 7h0m0 6h0m0 2h0m0 43h0m1-75h0m0 1h0m0 2h0m0 3h0m0 3h0m0 19h0m0 3h0m0 5h0m1-33h0m0 4h0m0 5h0m0 2h0m0 4h0m0 1h0m0 13h0m1-25h0m0 3h0m0 1h0m0 2h0m0 6h0m0 3h0m0 2h0m0 5h0m0 3h0m1-28h0m0 1h0m0 14h0m0 5h0m0 3h0m0 1h0m0 1h0m1-24h0m0 13h0m0 9h0m0 24h0m1-38h0m0 1h0m0 6h0m0 6h0m0 16h0m1-35h0m0 1h0m0 10h0m0 53h0m1-57h0m0 4h0m0 4h0m0 9h0m0 38h0m0 1h0m1-63h0m0 9h0m0 1h0m0 7h0m0 25h0m0 6h0m1-49h0m0 13h0m1-15h0m0 4h0m0 35h0m0 35h0m1-72h0m0 2h0m0 1h0m0 9h0m1-14h0m0 7h0m1-4h0m1 1h0m0 1h0m1 2h0m0 87h0m0 21h0m1 1h0m1-109h0m1 57h0m2-28h0m0 68h0m1-3h0m0 5h0m1-35h0m6-2h0m6-34h0m0 65h0m5-36h0m7-1h0m8 4h0m2-1h0m3-4h0m5 1h0" stroke="#ab5058" stroke-width="1.9" stroke-linecap="round" fill="none"/>
<path transform="scale(0.5) translate(.5 .5)" d="M488 389h0m2-5h0m1-20h0m0 21h0m0 3h0m1-17h0m0 2h0m0 8h0m0 18h0m1-37h0m0 19h0m0 4h0m1-21h0m0 13h0m0 19h0m1-31h0m0 1h0m0 6h0m0 25h0m0 2h0m0 10h0m1-40h0m0 3h0m0 1h0m0 3h0m0 9h0m0 4h0m0 1h0m0 3h0m1-30h0m0 13h0m0 20h0m1-39h0m0 34h0m0 8h0m0 3h0m0 7h0m1-57h0m0 5h0m0 1h0m0 11h0m0 15h0m0 1h0m0 5h0m0 12h0m0 5h0m1-61h0m0 8h0m0 16h0m0 21h0m0 9h0m1-50h0m0 26h0m0 1h0m0 12h0m0 4h0m0 6h0m0 7h0m1-42h0m0 2h0m0 5h0m1-19h0m0 27h0m0 27h0m1-58h0m0 3h0m0 7h0m0 15h0m0 15h0m1-30h0m0 13h0m0 4h0m0 14h0m1 11h0m0 6h0m1-18h0m1-32h0m0 9h0m0 10h0m0 5h0m0 1h0m0 2h0m0 3h0m0 11h0m0 4h0m0 4h0m0 1h0m1-41h0m0 11h0m0 24h0m1-48h0m0 11h0m0 32h0m0 11h0m1-53h0m0 18h0m0 2h0m0 3h0m1-18h0m0 7h0m0 12h0m1-2h0m0 4h0m0 3h0m0 1h0m0 9h0m0 39h0m1-31h0m1-43h0m0 17h0m0 3h0m1-19h0m0 1h0m0 2h0m0 11h0m0 12h0m0 1h0m1-30h0m0 21h0m0 3h0m0 3h0m0 8h0m0 1h0m1-38h0m0 2h0m0 11h0m0 12h0m0 4h0m0 5h0m0 5h0m0 1h0m0 6h0m1-27h0m0 4h0m0 3h0m0 5h0m0 10h0m1-37h0m0 6h0m0 9h0m0 1h0m0 8h0m0 3h0m0 4h0m0 2h0m1-35h0m0 4h0m0 1h0m0 3h0m0 2h0m0 7h0m0 2h0m1-14h0m0 1h0m0 2h0m0 6h0m0 19h0m0 4h0m1-30h0m0 1h0m0 1h0m0 16h0m0 5h0m0 3h0m1-17h0m0 2h0m1-5h0m0 3h0m0 1h0m0 16h0m1-23h0m0 1h0m0 5h0m0 6h0m0 1h0m0 1h0m0 6h0m0 10h0m1-37h0m0 28h0m1-4h0m0 3h0m1-29h0m0 6h0m0 24h0m1-26h0m0 4h0m0 9h0m0 5h0m0 5h0m0 3h0m1-20h0m1-2h0m0 8h0m1 1h0m1-17h0m0 26h0m1-15h0m0 5h0m1-7h0m0 4h0m1-8h0m0 5h0m0 3h0m0 2h0m0 6h0m1 0h0m1-18h0m0 8h0m1-7h0m0 7h0m0 64h0m1-62h0m5 94h0" stroke="#a43c44" stroke-width="1.9" stroke-linecap="round" fill="none"/>
<rect x="302.40" y="166.30" width="3.50" height="83.40" fill="url(#dcb1)" stroke="#555" stroke-width="0.4" />
<text x="309.20" y="251.60" font-size="6.6">0</text>
<text x="309.20" y="241.31" font-size="6.6">1</text>
<text x="309.20" y="231.02" font-size="6.6">2</text>
<text x="309.20" y="220.73" font-size="6.6">3</text>
<text x="309.20" y="210.44" font-size="6.6">4</text>
<text x="309.20" y="200.15" font-size="6.6">5</text>
<text x="309.20" y="189.86" font-size="6.6">6</text>
<text x="309.20" y="179.57" font-size="6.6">7</text>
<text x="309.20" y="169.28" font-size="6.6">8</text>
<path d="M305.9 249.30h1.8M305.9 239.01h1.8M305.9 228.72h1.8M305.9 218.43h1.8M305.9 208.14h1.8M305.9 197.85h1.8M305.9 187.56h1.8M305.9 177.27h1.8M305.9 166.98h1.8" fill="none" stroke="#444" stroke-width="0.5" />
<text x="-0.60" y="280.80" font-size="12.8" fill="#000" font-weight="bold" stroke="#000" stroke-width="0.3">e</text>
<text x="86.80" y="284.00" font-size="7.6" text-anchor="middle">Huh7-DENV2:</text>
<g filter="url(#soft1)"><path d="M55.2 283.1L56.9 289.8L50.2 298.2L46.8 305.0L45.1 316.8L45.1 328.6L46.8 338.7L55.2 339.6L63.7 335.3L68.7 330.3L75.5 325.2L80.5 318.5L85.6 311.7L89.0 305.8L87.3 300.8L78.8 298.2L68.7 294.9L60.3 294.0L57.5 292.0Z" fill="#f8c4bc"/></g>
<path transform="scale(0.5) translate(.5 .5)" d="M73 747h0m5 16h0m1-53h0m0 18h0m0 32h0m1-9h0m0 19h0m1-52h0m0 39h0m0 3h0m0 14h0m1-22h0m0 1h0m0 8h0m1-58h0m0 33h0m0 28h0m0 2h0m0 4h0m1-59h0m0 14h0m0 4h0m0 21h0m0 3h0m0 31h0m0 5h0m1-67h0m0 18h0m0 15h0m0 16h0m0 1h0m0 5h0m0 6h0m1-90h0m0 5h0m0 41h0m0 31h0m1-74h0m0 7h0m0 15h0m1-29h0m0 26h0m0 8h0m0 26h0m1-67h0m0 4h0m0 11h0m0 5h0m0 9h0m0 1h0m0 1h0m0 2h0m0 14h0m0 12h0m0 35h0m0 14h0m1-98h0m0 11h0m0 22h0m0 5h0m0 20h0m0 21h0m0 12h0m0 8h0m1-100h0m0 5h0m0 47h0m0 3h0m0 15h0m0 14h0m0 11h0m0 15h0m1-117h0m0 1h0m0 8h0m0 4h0m0 9h0m0 4h0m0 16h0m0 25h0m0 16h0m0 27h0m1-112h0m0 4h0m0 6h0m0 3h0m0 2h0m0 19h0m0 15h0m0 43h0m0 9h0m0 14h0m1-107h0m0 9h0m0 1h0m0 1h0m0 2h0m0 8h0m0 4h0m0 27h0m0 25h0m0 17h0m1-104h0m0 14h0m0 2h0m0 3h0m0 2h0m0 8h0m0 3h0m0 2h0m0 5h0m0 5h0m0 5h0m0 1h0m0 23h0m0 11h0m0 13h0m0 4h0m1-95h0m0 8h0m0 1h0m0 5h0m0 6h0m0 11h0m0 22h0m0 5h0m0 4h0m0 14h0m0 12h0m0 4h0m0 4h0m0 2h0m0 10h0m1-102h0m0 1h0m0 3h0m0 3h0m0 6h0m0 6h0m0 6h0m0 2h0m0 8h0m0 59h0m0 1h0m0 5h0m1-109h0m0 6h0m0 1h0m0 7h0m0 3h0m0 4h0m0 9h0m0 16h0m0 3h0m0 26h0m0 28h0m0 10h0m0 3h0m1-115h0m0 1h0m0 3h0m0 2h0m0 7h0m0 12h0m0 3h0m0 5h0m0 5h0m0 14h0m0 18h0m0 5h0m0 5h0m0 16h0m1-101h0m0 3h0m0 6h0m0 1h0m0 4h0m0 20h0m0 15h0m0 2h0m0 7h0m0 18h0m0 17h0m0 1h0m0 18h0m0 4h0m1-116h0m0 2h0m0 4h0m0 5h0m0 2h0m0 1h0m0 3h0m0 3h0m0 6h0m0 3h0m0 4h0m0 12h0m0 16h0m0 8h0m0 2h0m1-74h0m0 2h0m0 2h0m0 4h0m0 2h0m0 1h0m0 2h0m0 2h0m0 1h0m0 9h0m0 2h0m0 44h0m0 1h0m0 23h0m0 12h0m0 11h0m1-116h0m0 3h0m0 9h0m0 1h0m0 17h0m0 2h0m0 15h0m0 1h0m0 9h0m0 12h0m0 11h0m0 13h0m0 1h0m0 26h0m1-123h0m0 15h0m0 2h0m0 2h0m0 4h0m0 1h0m0 2h0m0 4h0m0 5h0m0 3h0m0 9h0m0 12h0m0 15h0m0 2h0m0 42h0m1-112h0m0 2h0m0 2h0m0 6h0m0 3h0m0 11h0m0 5h0m0 9h0m0 1h0m0 5h0m0 15h0m0 26h0m0 6h0m0 19h0m0 2h0m1-102h0m0 3h0m0 5h0m0 1h0m0 4h0m0 7h0m0 5h0m0 4h0m0 8h0m0 7h0m0 8h0m0 35h0m0 3h0m0 13h0m1-111h0m0 4h0m0 6h0m0 3h0m0 2h0m0 6h0m0 1h0m0 4h0m0 2h0m0 1h0m0 5h0m0 1h0m0 3h0m0 63h0m0 13h0m1-123h0m0 1h0m0 4h0m0 2h0m0 3h0m0 5h0m0 3h0m0 5h0m0 1h0m0 1h0m0 1h0m0 4h0m0 3h0m0 3h0m0 2h0m0 2h0m0 7h0m0 1h0m0 9h0m0 34h0m1-95h0m0 5h0m0 2h0m0 3h0m0 1h0m0 6h0m0 1h0m0 12h0m0 8h0m0 7h0m0 2h0m0 3h0m0 6h0m0 9h0m0 13h0m0 33h0m0 2h0m1-106h0m0 4h0m0 3h0m0 1h0m0 2h0m0 2h0m0 6h0m0 9h0m0 2h0m0 5h0m0 3h0m0 2h0m0 10h0m0 37h0m0 9h0m0 34h0m1-137h0m0 3h0m0 1h0m0 3h0m0 5h0m0 4h0m0 5h0m0 9h0m0 3h0m0 4h0m0 1h0m0 3h0m0 27h0m0 6h0m0 19h0m0 14h0m0 21h0m1-123h0m0 8h0m0 4h0m0 1h0m0 3h0m0 3h0m0 2h0m0 1h0m0 3h0m0 10h0m0 2h0m0 1h0m0 6h0m0 3h0m0 12h0m0 1h0m0 2h0m0 4h0m0 3h0m0 8h0m0 16h0m0 15h0m0 5h0m1-120h0m0 5h0m0 1h0m0 2h0m0 6h0m0 4h0m0 5h0m0 11h0m0 1h0m0 4h0m0 2h0m0 6h0m0 2h0m0 6h0m0 13h0m0 3h0m0 3h0m0 5h0m0 7h0m0 4h0m0 18h0m0 10h0m0 6h0m0 1h0m1-121h0m0 4h0m0 4h0m0 8h0m0 5h0m0 4h0m0 2h0m0 5h0m0 4h0m0 5h0m0 1h0m0 2h0m0 2h0m0 13h0m0 18h0m0 37h0m0 10h0m1-114h0m0 9h0m0 3h0m0 3h0m0 1h0m0 4h0m0 1h0m0 3h0m0 12h0m0 1h0m0 11h0m0 10h0m0 9h0m0 7h0m0 19h0m0 7h0m0 2h0m0 3h0m1-113h0m0 5h0m0 5h0m0 1h0m0 1h0m0 6h0m0 1h0m0 2h0m0 6h0m0 7h0m0 4h0m0 3h0m0 1h0m0 12h0m0 16h0m0 1h0m0 9h0m0 12h0m0 36h0m1-139h0m0 8h0m0 14h0m0 1h0m0 2h0m0 4h0m0 22h0m0 3h0m0 13h0m0 15h0m0 7h0m0 48h0m0 1h0m1-134h0m0 15h0m0 1h0m0 7h0m0 3h0m0 3h0m0 3h0m0 3h0m0 5h0m0 19h0m0 2h0m0 1h0m0 3h0m0 2h0m0 1h0m0 1h0m0 6h0m0 11h0m0 21h0m0 2h0m0 8h0m1-115h0m0 7h0m0 3h0m0 2h0m0 7h0m0 8h0m0 2h0m0 6h0m0 1h0m0 4h0m0 8h0m0 3h0m0 1h0m0 4h0m0 5h0m0 5h0m0 2h0m0 9h0m0 9h0m1-71h0m0 9h0m0 11h0m0 3h0m0 1h0m0 7h0m0 2h0m0 5h0m0 1h0m0 16h0m0 4h0m0 33h0m0 20h0m0 2h0m1-129h0m0 2h0m0 3h0m0 4h0m0 2h0m0 2h0m0 6h0m0 1h0m0 3h0m0 5h0m0 1h0m0 3h0m0 1h0m0 1h0m0 3h0m0 2h0m0 1h0m0 3h0m0 11h0m0 9h0m0 27h0m0 15h0m1-111h0m0 6h0m0 5h0m0 1h0m0 1h0m0 2h0m0 3h0m0 1h0m0 7h0m0 2h0m0 3h0m0 8h0m0 4h0m0 8h0m0 9h0m0 14h0m0 11h0m0 11h0m0 1h0m0 10h0m1-91h0m0 6h0m0 3h0m0 11h0m0 3h0m0 1h0m0 1h0m0 2h0m0 9h0m0 6h0m0 2h0m0 5h0m0 5h0m0 5h0m0 4h0m0 1h0m0 32h0m1-112h0m0 7h0m0 6h0m0 9h0m0 2h0m0 2h0m0 1h0m0 4h0m0 6h0m0 3h0m0 13h0m0 4h0m0 1h0m0 8h0m0 5h0m0 3h0m0 5h0m0 12h0m0 17h0m0 18h0m0 9h0m1-129h0m0 6h0m0 5h0m0 3h0m0 2h0m0 6h0m0 2h0m0 5h0m0 10h0m0 7h0m0 3h0m0 1h0m0 8h0m0 7h0m0 63h0m1-133h0m0 5h0m0 2h0m0 3h0m0 1h0m0 3h0m0 2h0m0 1h0m0 1h0m0 4h0m0 2h0m0 2h0m0 6h0m0 5h0m0 6h0m0 5h0m0 6h0m0 6h0m0 1h0m0 27h0m0 38h0m0 3h0m1-119h0m0 3h0m0 9h0m0 3h0m0 3h0m0 1h0m0 1h0m0 3h0m0 2h0m0 1h0m0 2h0m0 1h0m0 7h0m0 2h0m0 1h0m0 1h0m0 3h0m0 7h0m0 3h0m0 2h0m0 1h0m0 18h0m0 15h0m0 6h0m0 9h0m0 19h0m0 12h0m1-146h0m0 18h0m0 3h0m0 1h0m0 10h0m0 11h0m0 3h0m0 7h0m0 1h0m0 1h0m0 28h0m0 13h0m0 27h0m1-123h0m0 9h0m0 1h0m0 9h0m0 5h0m0 6h0m0 2h0m0 7h0m0 4h0m0 6h0m0 2h0m0 4h0m0 59h0m1-115h0m0 2h0m0 6h0m0 7h0m0 2h0m0 3h0m0 2h0m0 1h0m0 10h0m0 1h0m0 4h0m0 2h0m0 2h0m0 8h0m0 2h0m0 1h0m0 3h0m0 3h0m0 9h0m0 5h0m1-75h0m0 11h0m0 6h0m0 12h0m0 3h0m0 4h0m0 3h0m0 6h0m0 5h0m0 3h0m0 10h0m0 1h0m0 4h0m0 6h0m0 6h0m0 10h0m0 3h0m0 30h0m0 2h0m0 6h0m1-127h0m0 9h0m0 4h0m0 3h0m0 1h0m0 2h0m0 4h0m0 6h0m0 1h0m0 10h0m0 3h0m0 3h0m0 1h0m0 1h0m0 4h0m0 7h0m0 3h0m0 5h0m0 9h0m0 16h0m0 6h0m0 2h0m0 2h0m0 2h0m1-112h0m0 12h0m0 2h0m0 4h0m0 12h0m0 4h0m0 8h0m0 6h0m0 2h0m0 3h0m0 3h0m0 5h0m0 19h0m0 38h0m1-118h0m0 18h0m0 2h0m0 4h0m0 4h0m0 3h0m0 3h0m0 6h0m0 7h0m0 8h0m0 6h0m0 1h0m0 11h0m0 9h0m0 15h0m0 18h0m0 11h0m1-123h0m0 1h0m0 8h0m0 2h0m0 8h0m0 4h0m0 1h0m0 3h0m0 8h0m0 1h0m0 11h0m0 8h0m0 14h0m0 27h0m0 17h0m0 1h0m0 4h0m0 1h0m0 17h0m0 2h0m1-141h0m0 5h0m0 19h0m0 1h0m0 5h0m0 3h0m0 1h0m0 3h0m0 3h0m0 1h0m0 3h0m0 8h0m0 2h0m0 2h0m0 18h0m0 8h0m0 2h0m0 7h0m0 29h0m0 22h0m1-137h0m0 6h0m0 4h0m0 1h0m0 2h0m0 3h0m0 7h0m0 2h0m0 3h0m0 2h0m0 3h0m0 10h0m0 1h0m0 11h0m0 2h0m0 2h0m0 2h0m0 1h0m0 21h0m0 26h0m0 2h0m0 11h0m0 15h0m1-124h0m0 2h0m0 2h0m0 1h0m0 1h0m0 7h0m0 4h0m0 2h0m0 1h0m0 5h0m0 4h0m0 1h0m0 6h0m0 2h0m0 5h0m0 3h0m0 9h0m0 9h0m0 5h0m0 21h0m0 14h0m0 2h0m0 6h0m0 1h0m0 7h0m1-135h0m0 5h0m0 5h0m0 12h0m0 2h0m0 2h0m0 3h0m0 2h0m0 1h0m0 3h0m0 1h0m0 1h0m0 5h0m0 7h0m0 4h0m0 9h0m0 4h0m0 4h0m0 3h0m0 46h0m0 9h0m0 5h0m0 6h0m1-141h0m0 9h0m0 1h0m0 8h0m0 1h0m0 8h0m0 11h0m0 4h0m0 5h0m0 5h0m0 1h0m0 21h0m0 11h0m0 11h0m0 13h0m0 17h0m0 18h0m1-149h0m0 4h0m0 4h0m0 2h0m0 5h0m0 13h0m0 1h0m0 2h0m0 7h0m0 4h0m0 8h0m0 1h0m0 1h0m0 1h0m0 3h0m0 5h0m0 4h0m0 5h0m0 1h0m0 2h0m0 1h0m0 19h0m0 6h0m0 1h0m0 23h0m1-108h0m0 5h0m0 1h0m0 6h0m0 1h0m0 2h0m0 1h0m0 4h0m0 2h0m0 2h0m0 3h0m0 2h0m0 1h0m0 7h0m0 1h0m0 2h0m0 2h0m0 3h0m0 5h0m0 3h0m0 11h0m0 6h0m0 4h0m0 2h0m0 3h0m0 36h0m0 4h0m0 20h0m1-131h0m0 6h0m0 2h0m0 4h0m0 1h0m0 4h0m0 4h0m0 1h0m0 1h0m0 4h0m0 1h0m0 1h0m0 1h0m0 12h0m0 11h0m0 2h0m0 16h0m0 48h0m1-131h0m0 3h0m0 3h0m0 11h0m0 12h0m0 4h0m0 7h0m0 1h0m0 2h0m0 3h0m0 6h0m0 1h0m0 40h0m0 13h0m1-103h0m0 2h0m0 13h0m0 2h0m0 3h0m0 5h0m0 1h0m0 6h0m0 1h0m0 18h0m0 4h0m0 1h0m0 9h0m0 19h0m0 26h0m0 9h0m1-132h0m0 2h0m0 4h0m0 5h0m0 1h0m0 13h0m0 4h0m0 1h0m0 5h0m0 1h0m0 3h0m0 1h0m0 6h0m0 1h0m0 1h0m0 1h0m0 3h0m0 3h0m0 1h0m0 1h0m0 2h0m0 1h0m0 1h0m0 7h0m0 4h0m0 7h0m0 5h0m0 18h0m0 1h0m0 8h0m0 2h0m0 7h0m1-116h0m0 6h0m0 1h0m0 9h0m0 6h0m0 11h0m0 7h0m0 7h0m0 2h0m0 4h0m0 7h0m0 1h0m0 1h0m0 17h0m0 3h0m0 5h0m0 5h0m0 2h0m0 11h0m0 7h0m0 17h0m0 7h0m0 15h0m1-154h0m0 2h0m0 3h0m0 1h0m0 7h0m0 14h0m0 2h0m0 2h0m0 9h0m0 1h0m0 8h0m0 4h0m0 8h0m0 5h0m0 13h0m0 4h0m0 1h0m0 8h0m0 22h0m0 10h0m1-121h0m0 1h0m0 2h0m0 2h0m0 7h0m0 6h0m0 5h0m0 3h0m0 9h0m0 3h0m0 6h0m0 30h0m0 6h0m0 11h0m0 5h0m0 6h0m0 1h0m0 4h0m0 11h0m0 4h0m0 9h0m0 7h0m0 11h0m0 1h0m1-147h0m0 2h0m0 7h0m0 6h0m0 2h0m0 4h0m0 3h0m0 15h0m0 5h0m0 8h0m0 4h0m0 1h0m0 2h0m0 4h0m0 1h0m0 4h0m0 7h0m0 2h0m0 21h0m0 3h0m0 5h0m0 7h0m0 7h0m1-125h0m0 2h0m0 4h0m0 5h0m0 5h0m0 3h0m0 6h0m0 4h0m0 2h0m0 1h0m0 9h0m0 4h0m0 1h0m0 8h0m0 8h0m0 14h0m0 1h0m0 1h0m0 1h0m0 11h0m0 3h0m0 20h0m0 2h0m0 6h0m0 16h0m1-142h0m0 15h0m0 8h0m0 1h0m0 5h0m0 1h0m0 2h0m0 7h0m0 2h0m0 10h0m0 7h0m0 3h0m0 2h0m0 11h0m0 12h0m0 42h0m1-110h0m0 10h0m0 3h0m0 3h0m0 1h0m0 1h0m0 5h0m0 11h0m0 5h0m0 11h0m0 6h0m0 45h0m0 8h0m0 15h0m1-125h0m0 11h0m0 14h0m0 11h0m0 22h0m0 10h0m0 4h0m0 10h0m0 34h0m0 11h0m1-148h0m0 7h0m0 8h0m0 3h0m0 4h0m0 1h0m0 3h0m0 3h0m0 5h0m0 1h0m0 3h0m0 6h0m0 1h0m0 1h0m0 6h0m0 6h0m0 6h0m0 12h0m0 7h0m0 4h0m0 20h0m0 19h0m0 17h0m0 2h0m1-138h0m0 3h0m0 6h0m0 13h0m0 1h0m0 12h0m0 5h0m0 4h0m0 3h0m0 3h0m0 2h0m0 5h0m0 3h0m0 1h0m0 1h0m0 12h0m0 5h0m0 5h0m0 16h0m0 19h0m0 2h0m0 13h0m1-141h0m0 3h0m0 4h0m0 10h0m0 12h0m0 5h0m0 11h0m0 1h0m0 4h0m0 3h0m0 5h0m0 26h0m0 2h0m0 18h0m0 7h0m0 23h0m1-122h0m0 8h0m0 3h0m0 9h0m0 18h0m0 3h0m0 3h0m0 5h0m0 2h0m0 4h0m0 5h0m0 4h0m0 6h0m0 20h0m0 6h0m0 19h0m0 30h0m1-146h0m0 4h0m0 7h0m0 13h0m0 7h0m0 5h0m0 14h0m0 7h0m0 1h0m0 2h0m0 3h0m0 7h0m0 35h0m0 14h0m0 7h0m0 3h0m1-134h0m0 3h0m0 13h0m0 9h0m0 2h0m0 7h0m0 7h0m0 1h0m0 12h0m0 6h0m0 11h0m0 1h0m0 26h0m0 12h0m0 8h0m0 4h0m0 12h0m0 20h0m1-146h0m0 26h0m0 5h0m0 3h0m0 4h0m0 16h0m0 17h0m0 2h0m0 10h0m0 48h0m0 5h0m1-149h0m0 1h0m0 4h0m0 13h0m0 10h0m0 4h0m0 5h0m0 1h0m0 5h0m0 7h0m0 4h0m0 1h0m0 3h0m0 2h0m0 8h0m0 6h0m0 8h0m0 38h0m0 4h0m0 5h0m0 22h0m0 4h0m1-147h0m0 4h0m0 2h0m0 9h0m0 4h0m0 5h0m0 2h0m0 15h0m0 4h0m0 2h0m0 7h0m0 6h0m0 1h0m0 6h0m0 24h0m0 2h0m0 16h0m0 13h0m0 1h0m0 6h0m0 5h0m0 2h0m0 2h0m0 7h0m1-132h0m0 11h0m0 4h0m0 5h0m0 2h0m0 2h0m0 1h0m0 13h0m0 1h0m0 1h0m0 6h0m0 6h0m0 11h0m0 18h0m0 20h0m0 18h0m0 9h0m1-144h0m0 22h0m0 1h0m0 2h0m0 3h0m0 5h0m0 6h0m0 3h0m0 4h0m0 2h0m0 5h0m0 9h0m0 3h0m0 16h0m0 8h0m0 3h0m0 20h0m0 1h0m0 3h0m0 6h0m0 3h0m1-120h0m0 1h0m0 22h0m0 5h0m0 13h0m0 1h0m0 7h0m0 2h0m0 4h0m0 11h0m0 5h0m0 4h0m0 4h0m0 9h0m0 2h0m0 1h0m0 2h0m0 18h0m0 5h0m0 3h0m0 6h0m0 1h0m0 9h0m0 10h0m1-142h0m0 4h0m0 9h0m0 8h0m0 4h0m0 1h0m0 5h0m0 4h0m0 6h0m0 2h0m0 2h0m0 24h0m0 8h0m0 19h0m0 22h0m0 18h0m1-138h0m0 1h0m0 4h0m0 2h0m0 4h0m0 14h0m0 4h0m0 3h0m0 9h0m0 3h0m0 3h0m0 4h0m0 1h0m0 13h0m0 50h0m0 13h0m1-114h0m0 9h0m0 3h0m0 7h0m0 4h0m0 2h0m0 7h0m0 1h0m0 1h0m0 3h0m0 7h0m0 16h0m0 9h0m0 15h0m0 3h0m0 2h0m0 3h0m0 26h0m0 8h0m0 4h0m1-146h0m0 6h0m0 10h0m0 10h0m0 4h0m0 3h0m0 4h0m0 8h0m0 4h0m0 1h0m0 21h0m0 24h0m0 9h0m0 22h0m1-130h0m0 5h0m0 12h0m0 4h0m0 15h0m0 8h0m0 13h0m0 8h0m0 31h0m0 45h0m0 12h0m1-158h0m0 7h0m0 22h0m0 4h0m0 6h0m0 12h0m0 9h0m0 1h0m0 3h0m0 6h0m0 14h0m0 11h0m0 11h0m0 10h0m0 11h0m0 14h0m0 8h0m0 5h0m1-147h0m0 20h0m0 3h0m0 3h0m0 5h0m0 8h0m0 2h0m0 6h0m0 2h0m0 8h0m0 6h0m0 14h0m0 2h0m0 50h0m1-140h0m0 4h0m0 9h0m0 7h0m0 1h0m0 2h0m0 8h0m0 10h0m0 3h0m0 2h0m0 6h0m0 1h0m0 11h0m0 3h0m0 29h0m0 25h0m0 17h0m0 5h0m0 5h0m1-140h0m0 22h0m0 2h0m0 5h0m0 2h0m0 4h0m0 7h0m0 18h0m0 8h0m0 18h0m0 10h0m0 5h0m0 17h0m0 10h0m0 8h0m0 16h0m1-164h0m0 10h0m0 2h0m0 8h0m0 2h0m0 9h0m0 2h0m0 1h0m0 1h0m0 13h0m0 5h0m0 5h0m0 4h0m0 3h0m0 7h0m0 13h0m0 2h0m0 5h0m0 6h0m0 9h0m0 33h0m1-134h0m0 12h0m0 9h0m0 10h0m0 19h0m0 8h0m0 5h0m0 11h0m0 4h0m0 9h0m0 23h0m1-91h0m0 11h0m0 9h0m0 26h0m0 14h0m0 16h0m0 22h0m0 12h0m0 9h0m0 5h0m1-145h0m0 3h0m0 1h0m0 23h0m0 21h0m0 32h0m0 11h0m0 29h0m1-105h0m0 12h0m0 19h0m0 3h0m0 4h0m0 8h0m0 1h0m0 1h0m0 10h0m0 4h0m0 8h0m0 23h0m0 12h0m0 3h0m0 15h0m0 15h0m1-146h0m0 2h0m0 19h0m0 2h0m0 28h0m0 4h0m0 12h0m0 29h0m0 1h0m0 3h0m0 6h0m0 19h0m1-116h0m0 20h0m0 3h0m0 12h0m0 6h0m0 1h0m0 4h0m0 28h0m0 23h0m0 25h0m1-134h0m0 30h0m0 29h0m0 32h0m0 12h0m0 4h0m0 22h0m0 23h0m1-157h0m0 12h0m0 39h0m0 1h0m0 11h0m0 41h0m0 9h0m0 27h0m0 9h0m1-126h0m0 6h0m0 20h0m0 3h0m0 1h0m0 5h0m0 1h0m0 2h0m0 19h0m0 14h0m0 9h0m0 49h0m1-136h0m0 9h0m0 9h0m0 14h0m0 19h0m0 54h0m0 29h0m0 7h0m1-132h0m0 9h0m0 1h0m0 2h0m0 1h0m0 24h0m0 45h0m0 34h0m1-136h0m0 27h0m0 1h0m0 9h0m0 18h0m0 8h0m0 4h0m0 10h0m0 55h0m0 14h0m1-146h0m0 12h0m0 1h0m0 11h0m0 19h0m0 10h0m0 10h0m0 4h0m0 1h0m0 31h0m0 17h0m0 7h0m0 17h0m1-119h0m0 23h0m0 7h0m0 7h0m0 3h0m0 4h0m0 24h0m0 1h0m0 12h0m0 8h0m1-101h0m0 2h0m0 5h0m0 33h0m0 77h0m1-120h0m0 6h0m0 4h0m0 13h0m0 16h0m0 22h0m0 29h0m0 22h0m0 4h0m0 7h0m0 1h0m0 1h0m1-116h0m0 15h0m0 6h0m0 36h0m0 5h0m0 10h0m0 24h0m0 19h0m0 7h0m1-131h0m0 17h0m0 6h0m0 5h0m0 17h0m0 15h0m0 23h0m0 6h0m0 13h0m1-114h0m0 10h0m0 8h0m0 22h0m0 1h0m0 21h0m0 18h0m0 7h0m0 16h0m0 15h0m0 17h0m0 5h0m0 1h0m0 9h0m1-108h0m0 2h0m0 2h0m0 13h0m0 15h0m0 1h0m0 10h0m0 21h0m0 25h0m0 12h0m0 5h0m1-128h0m0 23h0m0 16h0m0 22h0m0 1h0m0 5h0m0 20h0m0 3h0m0 38h0m1-152h0m0 8h0m0 23h0m0 7h0m0 20h0m0 11h0m0 3h0m0 31h0m0 2h0m0 19h0m0 25h0m1-142h0m0 15h0m0 6h0m0 1h0m0 31h0m0 10h0m0 36h0m0 13h0m0 6h0m1-107h0m0 53h0m0 1h0m0 2h0m0 10h0m0 16h0m0 17h0m0 6h0m1-108h0m0 4h0m0 22h0m0 12h0m0 11h0m0 7h0m0 16h0m0 6h0m0 2h0m0 3h0m0 1h0m0 2h0m0 22h0m0 2h0m0 2h0m1-105h0m0 7h0m0 6h0m0 50h0m0 2h0m0 30h0m1-80h0m0 18h0m0 22h0m0 4h0m0 18h0m0 10h0m0 3h0m0 3h0m0 4h0m0 8h0m0 1h0m0 16h0m1-108h0m0 2h0m0 2h0m0 13h0m0 7h0m0 20h0m0 48h0m0 15h0m0 3h0m1-99h0m0 16h0m0 3h0m0 3h0m0 22h0m0 10h0m0 3h0m0 8h0m1-96h0m0 1h0m0 29h0m0 15h0m0 4h0m0 2h0m0 43h0m1-98h0m0 16h0m0 2h0m0 3h0m0 30h0m0 1h0m0 12h0m0 16h0m0 16h0m0 29h0m1-111h0m0 21h0m0 4h0m0 6h0m0 10h0m0 49h0m0 7h0m0 9h0m1-111h0m0 15h0m0 5h0m0 4h0m0 5h0m0 3h0m0 6h0m0 5h0m0 14h0m0 22h0m0 6h0m0 20h0m0 9h0m0 7h0m1-108h0m0 2h0m0 20h0m0 30h0m0 40h0m0 14h0m1-91h0m0 1h0m0 27h0m0 6h0m0 3h0m0 4h0m0 40h0m1-96h0m0 3h0m0 6h0m0 24h0m0 1h0m0 24h0m0 27h0m0 1h0m0 1h0m1-91h0m0 19h0m0 12h0m0 13h0m0 15h0m0 15h0m0 5h0m0 5h0m0 8h0m0 6h0m1-111h0m0 29h0m1-24h0m0 7h0m0 9h0m0 33h0m0 11h0m0 26h0m0 4h0m0 16h0m1-109h0m0 4h0m0 1h0m0 5h0m0 22h0m0 20h0m0 24h0m0 28h0m1-93h0m0 10h0m0 24h0m0 40h0m0 2h0m0 5h0m1-85h0m0 15h0m0 11h0m0 10h0m0 2h0m0 2h0m0 18h0m1-64h0m0 9h0m0 3h0m0 2h0m0 7h0m0 16h0m0 12h0m0 4h0m0 3h0m1-39h0m0 9h0m0 8h0m0 11h0m0 20h0m0 5h0m1-55h0m0 21h0m0 37h0m1-67h0m0 13h0m0 36h0m0 15h0m0 15h0m1-78h0m0 34h0m1-15h0m0 3h0m0 21h0m0 14h0m0 23h0m1-75h0m0 6h0m0 9h0m0 1h0m0 6h0m0 2h0m0 11h0m0 7h0m0 8h0m0 3h0m0 4h0m1-61h0m0 16h0m0 22h0m0 8h0m0 2h0m0 20h0m1-58h0m0 2h0m1-10h0m0 19h0m0 11h0m0 5h0m0 21h0m0 1h0m1-50h0m1 21h0m0 25h0m1-52h0m0 14h0m0 4h0m0 23h0m0 9h0m0 6h0m1-37h0m1-16h0m1-4h0m0 3h0m0 17h0m1-16h0m0 17h0m0 3h0m0 9h0m0 18h0m1-46h0m0 1h0m0 12h0m0 29h0m1-36h0m0 9h0m0 3h0m0 5h0m0 1h0m0 7h0m0 2h0m0 1h0m1-28h0m0 11h0m1 4h0m1-3h0m1 16h0m0 3h0m1-36h0m0 1h0m0 14h0m0 1h0m0 2h0m1-11h0m0 3h0m0 5h0m0 21h0m1-30h0m0 28h0m1-11h0m0 10h0m0 2h0m0 5h0m1-27h0m0 8h0m3-17h0m0 11h0m0 8h0m0 15h0m1-24h0m1-5h0m0 3h0m0 7h0m0 4h0m0 7h0m1 1h0m0 3h0m2-25h0m0 6h0m0 13h0m2-14h0m0 7h0m0 1h0m0 9h0m1-11h0m0 3h0m3-9h0m0 18h0m2-9h0" stroke="#a9bedc" stroke-width="2.2" stroke-linecap="round" fill="none"/>
<path transform="scale(0.5) translate(.5 .5)" d="M87 631h0m0 12h0m0 4h0m0 4h0m0 18h0m1-35h0m0 10h0m0 4h0m0 5h0m0 2h0m1-35h0m0 3h0m0 21h0m0 8h0m0 4h0m0 3h0m0 1h0m1-34h0m0 3h0m0 3h0m0 10h0m0 9h0m0 6h0m0 1h0m1-41h0m0 3h0m0 16h0m0 4h0m0 1h0m0 13h0m0 1h0m0 3h0m0 2h0m0 1h0m0 6h0m1-50h0m0 5h0m0 3h0m0 1h0m0 7h0m0 1h0m0 2h0m0 10h0m0 1h0m0 4h0m0 4h0m0 3h0m0 3h0m0 1h0m0 11h0m1-53h0m0 1h0m0 1h0m0 6h0m0 6h0m0 6h0m0 3h0m0 1h0m0 3h0m0 3h0m0 6h0m0 3h0m0 2h0m0 2h0m0 8h0m0 3h0m1-65h0m0 4h0m0 2h0m0 4h0m0 3h0m0 1h0m0 4h0m0 5h0m0 1h0m0 1h0m0 1h0m0 5h0m0 2h0m0 1h0m0 1h0m0 3h0m0 2h0m0 5h0m0 4h0m0 2h0m0 2h0m1-58h0m0 9h0m0 5h0m0 2h0m0 3h0m0 1h0m0 1h0m0 3h0m0 1h0m0 8h0m0 3h0m0 4h0m0 1h0m0 5h0m0 1h0m0 7h0m0 6h0m0 7h0m0 1h0m0 2h0m1-83h0m0 17h0m0 8h0m0 1h0m0 5h0m0 2h0m0 3h0m0 1h0m0 6h0m0 3h0m0 1h0m0 1h0m0 2h0m0 11h0m0 1h0m0 3h0m0 2h0m0 3h0m0 3h0m0 3h0m0 9h0m1-76h0m0 1h0m0 1h0m0 4h0m0 2h0m0 1h0m0 5h0m0 2h0m0 5h0m0 7h0m0 1h0m0 3h0m0 1h0m0 2h0m0 5h0m0 2h0m0 1h0m0 1h0m0 2h0m0 4h0m0 1h0m0 5h0m0 1h0m0 1h0m0 3h0m0 2h0m0 6h0m0 2h0m0 1h0m0 2h0m0 2h0m1-77h0m0 6h0m0 3h0m0 2h0m0 19h0m0 2h0m0 1h0m0 4h0m0 4h0m0 3h0m0 1h0m0 1h0m0 1h0m0 10h0m0 3h0m0 3h0m0 4h0m0 5h0m0 2h0m0 2h0m0 1h0m1-73h0m0 3h0m0 1h0m0 9h0m0 5h0m0 2h0m0 1h0m0 2h0m0 2h0m0 1h0m0 1h0m0 8h0m0 20h0m0 2h0m0 5h0m0 7h0m1-78h0m0 7h0m0 1h0m0 2h0m0 4h0m0 4h0m0 1h0m0 1h0m0 1h0m0 1h0m0 2h0m0 7h0m0 5h0m0 9h0m0 2h0m0 3h0m0 3h0m0 9h0m0 1h0m0 5h0m0 1h0m0 4h0m0 1h0m0 1h0m1-74h0m0 8h0m0 6h0m0 2h0m0 2h0m0 2h0m0 1h0m0 3h0m0 3h0m0 2h0m0 4h0m0 4h0m0 1h0m0 2h0m0 3h0m0 3h0m0 3h0m0 2h0m0 9h0m0 2h0m0 1h0m0 2h0m0 5h0m0 10h0m1-84h0m0 4h0m0 1h0m0 3h0m0 2h0m0 3h0m0 8h0m0 1h0m0 10h0m0 4h0m0 3h0m0 6h0m0 1h0m0 1h0m0 1h0m0 1h0m0 1h0m0 1h0m0 2h0m0 2h0m0 1h0m0 4h0m0 6h0m0 2h0m0 3h0m0 2h0m0 3h0m0 1h0m0 5h0m0 1h0m0 1h0m1-86h0m0 7h0m0 2h0m0 15h0m0 1h0m0 1h0m0 2h0m0 2h0m0 1h0m0 3h0m0 4h0m0 5h0m0 3h0m0 3h0m0 5h0m0 1h0m0 2h0m0 3h0m0 3h0m0 1h0m0 7h0m0 1h0m0 6h0m0 1h0m1-76h0m0 2h0m0 2h0m0 2h0m0 3h0m0 1h0m0 2h0m0 5h0m0 1h0m0 11h0m0 7h0m0 1h0m0 6h0m0 3h0m0 3h0m0 3h0m0 1h0m0 1h0m0 1h0m0 2h0m0 1h0m0 3h0m0 1h0m0 2h0m0 2h0m0 3h0m0 5h0m0 1h0m0 6h0m1-81h0m0 1h0m0 2h0m0 2h0m0 4h0m0 4h0m0 1h0m0 8h0m0 6h0m0 1h0m0 1h0m0 2h0m0 1h0m0 2h0m0 2h0m0 2h0m0 1h0m0 2h0m0 1h0m0 4h0m0 2h0m0 4h0m0 1h0m0 1h0m0 4h0m0 1h0m0 2h0m0 1h0m0 5h0m0 4h0m0 2h0m0 3h0m0 1h0m0 2h0m0 6h0m1-92h0m0 13h0m0 4h0m0 10h0m0 6h0m0 12h0m0 5h0m0 2h0m0 1h0m0 1h0m0 2h0m0 4h0m0 4h0m0 12h0m0 1h0m0 6h0m0 2h0m0 5h0m1-91h0m0 5h0m0 1h0m0 1h0m0 1h0m0 3h0m0 1h0m0 3h0m0 1h0m0 3h0m0 2h0m0 4h0m0 1h0m0 1h0m0 3h0m0 1h0m0 2h0m0 6h0m0 1h0m0 2h0m0 1h0m0 4h0m0 6h0m0 4h0m0 1h0m0 2h0m0 1h0m0 6h0m0 3h0m0 2h0m0 4h0m1-74h0m0 4h0m0 2h0m0 3h0m0 9h0m0 9h0m0 8h0m0 1h0m0 2h0m0 2h0m0 8h0m0 4h0m0 2h0m0 2h0m0 4h0m0 2h0m0 1h0m0 2h0m0 3h0m0 2h0m0 9h0m0 1h0m0 8h0m0 4h0m0 1h0m1-95h0m0 3h0m0 1h0m0 5h0m0 1h0m0 2h0m0 1h0m0 1h0m0 6h0m0 1h0m0 1h0m0 4h0m0 1h0m0 3h0m0 4h0m0 1h0m0 4h0m0 3h0m0 1h0m0 2h0m0 12h0m0 3h0m0 1h0m0 3h0m0 2h0m0 1h0m0 1h0m0 7h0m0 3h0m0 3h0m0 1h0m0 2h0m0 2h0m0 3h0m0 3h0m1-92h0m0 6h0m0 6h0m0 6h0m0 4h0m0 8h0m0 4h0m0 2h0m0 6h0m0 2h0m0 3h0m0 6h0m0 8h0m0 1h0m0 16h0m0 12h0m0 2h0m0 2h0m1-94h0m0 6h0m0 8h0m0 1h0m0 2h0m0 2h0m0 7h0m0 2h0m0 1h0m0 1h0m0 2h0m0 6h0m0 5h0m0 4h0m0 8h0m0 2h0m0 1h0m0 5h0m0 6h0m0 1h0m0 2h0m0 3h0m0 4h0m0 1h0m0 1h0m0 1h0m0 2h0m0 6h0m0 2h0m0 1h0m0 2h0m1-96h0m0 6h0m0 2h0m0 2h0m0 9h0m0 1h0m0 1h0m0 8h0m0 2h0m0 4h0m0 2h0m0 1h0m0 3h0m0 1h0m0 2h0m0 1h0m0 7h0m0 3h0m0 1h0m0 2h0m0 2h0m0 5h0m0 1h0m0 4h0m0 4h0m0 1h0m0 4h0m0 4h0m0 2h0m0 6h0m0 1h0m0 2h0m1-93h0m0 3h0m0 4h0m0 2h0m0 1h0m0 2h0m0 8h0m0 4h0m0 2h0m0 12h0m0 1h0m0 1h0m0 2h0m0 1h0m0 8h0m0 5h0m0 3h0m0 13h0m0 6h0m0 1h0m0 8h0m0 1h0m0 1h0m1-92h0m0 4h0m0 4h0m0 1h0m0 7h0m0 1h0m0 3h0m0 5h0m0 2h0m0 3h0m0 5h0m0 2h0m0 1h0m0 3h0m0 4h0m0 7h0m0 9h0m0 4h0m0 5h0m0 2h0m0 2h0m0 2h0m0 2h0m0 5h0m0 2h0m0 4h0m1-85h0m0 2h0m0 4h0m0 1h0m0 3h0m0 5h0m0 9h0m0 1h0m0 2h0m0 2h0m0 1h0m0 12h0m0 1h0m0 11h0m0 1h0m0 4h0m0 3h0m0 1h0m0 1h0m0 2h0m0 3h0m0 1h0m0 4h0m0 1h0m0 7h0m0 3h0m1-83h0m0 1h0m0 2h0m0 6h0m0 4h0m0 4h0m0 2h0m0 1h0m0 1h0m0 5h0m0 4h0m0 2h0m0 2h0m0 1h0m0 1h0m0 2h0m0 5h0m0 3h0m0 5h0m0 3h0m0 1h0m0 5h0m0 10h0m0 3h0m0 6h0m0 2h0m0 1h0m0 2h0m0 3h0m1-89h0m0 2h0m0 3h0m0 1h0m0 1h0m0 7h0m0 10h0m0 13h0m0 1h0m0 3h0m0 1h0m0 1h0m0 1h0m0 3h0m0 5h0m0 1h0m0 8h0m0 2h0m0 2h0m0 3h0m0 1h0m0 4h0m0 5h0m0 1h0m0 6h0m0 3h0m1-88h0m0 9h0m0 5h0m0 2h0m0 6h0m0 5h0m0 1h0m0 5h0m0 1h0m0 1h0m0 6h0m0 2h0m0 3h0m0 2h0m0 2h0m0 5h0m0 3h0m0 1h0m0 6h0m0 5h0m0 3h0m0 2h0m0 9h0m0 1h0m1-82h0m0 2h0m0 2h0m0 1h0m0 1h0m0 1h0m0 2h0m0 2h0m0 2h0m0 2h0m0 3h0m0 3h0m0 1h0m0 1h0m0 1h0m0 3h0m0 2h0m0 2h0m0 4h0m0 8h0m0 1h0m0 1h0m0 1h0m0 4h0m0 2h0m0 2h0m0 1h0m0 1h0m0 3h0m0 3h0m0 1h0m0 4h0m0 4h0m0 4h0m0 2h0m0 1h0m0 1h0m0 6h0m1-84h0m0 3h0m0 2h0m0 3h0m0 3h0m0 3h0m0 2h0m0 4h0m0 1h0m0 3h0m0 12h0m0 4h0m0 22h0m0 5h0m0 1h0m0 6h0m0 1h0m0 3h0m0 2h0m0 1h0m0 3h0m0 1h0m1-85h0m0 2h0m0 8h0m0 1h0m0 3h0m0 13h0m0 4h0m0 1h0m0 2h0m0 5h0m0 1h0m0 6h0m0 1h0m0 5h0m0 3h0m0 13h0m0 3h0m0 2h0m0 1h0m0 2h0m0 1h0m1-79h0m0 1h0m0 7h0m0 1h0m0 1h0m0 2h0m0 9h0m0 2h0m0 1h0m0 3h0m0 4h0m0 1h0m0 1h0m0 3h0m0 2h0m0 1h0m0 5h0m0 3h0m0 13h0m0 2h0m0 1h0m0 4h0m0 4h0m0 1h0m0 4h0m0 1h0m0 1h0m1-77h0m0 3h0m0 2h0m0 1h0m0 10h0m0 10h0m0 3h0m0 4h0m0 9h0m0 4h0m0 2h0m0 1h0m0 5h0m0 6h0m0 1h0m0 1h0m0 1h0m0 1h0m0 7h0m0 4h0m0 1h0m0 1h0m0 9h0m1-88h0m0 7h0m0 2h0m0 2h0m0 12h0m0 16h0m0 8h0m0 9h0m0 1h0m0 2h0m0 2h0m0 1h0m0 1h0m0 6h0m0 1h0m0 1h0m0 3h0m0 1h0m0 10h0m1-82h0m0 2h0m0 1h0m0 2h0m0 1h0m0 3h0m0 6h0m0 7h0m0 2h0m0 1h0m0 1h0m0 7h0m0 6h0m0 2h0m0 4h0m0 4h0m0 1h0m0 10h0m0 4h0m0 2h0m0 2h0m0 4h0m0 2h0m0 1h0m0 1h0m0 2h0m1-80h0m0 3h0m0 4h0m0 2h0m0 4h0m0 1h0m0 2h0m0 6h0m0 3h0m0 1h0m0 2h0m0 2h0m0 22h0m0 14h0m0 5h0m0 3h0m0 1h0m0 3h0m0 10h0m1-82h0m0 5h0m0 1h0m0 3h0m0 1h0m0 3h0m0 1h0m0 8h0m0 1h0m0 2h0m0 1h0m0 1h0m0 1h0m0 2h0m0 3h0m0 4h0m0 9h0m0 1h0m0 6h0m0 7h0m0 1h0m0 1h0m0 2h0m0 2h0m0 5h0m0 1h0m1-71h0m0 2h0m0 1h0m0 4h0m0 1h0m0 4h0m0 10h0m0 1h0m0 2h0m0 6h0m0 3h0m0 3h0m0 5h0m0 1h0m0 1h0m0 6h0m0 2h0m0 1h0m0 5h0m0 2h0m0 1h0m0 1h0m0 1h0m0 1h0m0 2h0m0 1h0m0 2h0m0 1h0m0 2h0m0 3h0m1-71h0m0 3h0m0 11h0m0 2h0m0 9h0m0 1h0m0 6h0m0 8h0m0 9h0m0 1h0m0 6h0m0 5h0m0 3h0m0 4h0m1-73h0m0 2h0m0 2h0m0 1h0m0 1h0m0 4h0m0 4h0m0 1h0m0 1h0m0 4h0m0 8h0m0 3h0m0 1h0m0 1h0m0 5h0m0 6h0m0 1h0m0 1h0m0 5h0m0 1h0m0 2h0m0 2h0m0 2h0m0 3h0m0 1h0m0 2h0m0 2h0m0 2h0m0 3h0m0 3h0m1-79h0m0 2h0m0 1h0m0 1h0m0 6h0m0 1h0m0 7h0m0 2h0m0 7h0m0 1h0m0 1h0m0 2h0m0 3h0m0 1h0m0 5h0m0 1h0m0 11h0m0 3h0m0 3h0m0 1h0m0 2h0m0 1h0m0 1h0m0 2h0m1-63h0m0 4h0m0 3h0m0 5h0m0 2h0m0 7h0m0 1h0m0 1h0m0 1h0m0 2h0m0 2h0m0 2h0m0 7h0m0 2h0m0 7h0m0 1h0m0 1h0m0 4h0m0 2h0m0 5h0m0 5h0m0 3h0m1-67h0m0 1h0m0 3h0m0 6h0m0 2h0m0 2h0m0 5h0m0 1h0m0 1h0m0 3h0m0 1h0m0 1h0m0 5h0m0 1h0m0 7h0m0 3h0m0 1h0m0 8h0m0 2h0m0 5h0m0 5h0m0 1h0m0 4h0m1-75h0m0 4h0m0 1h0m0 3h0m0 2h0m0 8h0m0 7h0m0 2h0m0 6h0m0 1h0m0 2h0m0 6h0m0 1h0m0 1h0m0 3h0m0 2h0m0 2h0m0 1h0m0 1h0m0 5h0m0 6h0m0 7h0m0 10h0m1-73h0m0 2h0m0 2h0m0 2h0m0 3h0m0 2h0m0 3h0m0 1h0m0 1h0m0 6h0m0 2h0m0 5h0m0 5h0m0 2h0m0 3h0m0 4h0m0 1h0m0 6h0m0 1h0m0 2h0m0 1h0m0 1h0m0 1h0m0 1h0m0 12h0m1-65h0m0 1h0m0 1h0m0 2h0m0 1h0m0 2h0m0 1h0m0 2h0m0 3h0m0 2h0m0 6h0m0 3h0m0 2h0m0 2h0m0 1h0m0 5h0m0 2h0m0 2h0m0 2h0m0 7h0m0 4h0m0 2h0m0 13h0m1-74h0m0 3h0m0 7h0m0 11h0m0 2h0m0 2h0m0 2h0m0 2h0m0 1h0m0 6h0m0 5h0m0 2h0m0 1h0m0 2h0m0 4h0m0 3h0m0 2h0m0 7h0m0 1h0m0 2h0m0 3h0m0 1h0m0 3h0m1-67h0m0 1h0m0 1h0m0 9h0m0 2h0m0 4h0m0 6h0m0 2h0m0 2h0m0 3h0m0 18h0m0 6h0m0 1h0m0 2h0m1-57h0m0 1h0m0 1h0m0 2h0m0 9h0m0 2h0m0 3h0m0 3h0m0 1h0m0 1h0m0 4h0m0 1h0m0 3h0m0 4h0m0 1h0m0 2h0m0 2h0m0 3h0m0 10h0m0 3h0m0 1h0m0 1h0m0 5h0m0 2h0m1-70h0m0 8h0m0 3h0m0 3h0m0 1h0m0 1h0m0 5h0m0 1h0m0 3h0m0 1h0m0 1h0m0 6h0m0 1h0m0 1h0m0 7h0m0 3h0m0 3h0m0 2h0m0 6h0m0 16h0m1-64h0m0 4h0m0 2h0m0 5h0m0 2h0m0 1h0m0 1h0m0 2h0m0 9h0m0 1h0m0 1h0m0 5h0m0 3h0m0 3h0m0 3h0m0 2h0m0 1h0m0 4h0m0 5h0m0 2h0m0 1h0m1-62h0m0 1h0m0 3h0m0 2h0m0 2h0m0 2h0m0 1h0m0 7h0m0 1h0m0 4h0m0 4h0m0 6h0m0 5h0m0 6h0m0 3h0m0 1h0m0 1h0m0 2h0m0 3h0m0 1h0m0 2h0m0 5h0m0 2h0m0 1h0m0 1h0m1-66h0m0 2h0m0 1h0m0 8h0m0 10h0m0 2h0m0 2h0m0 3h0m0 1h0m0 4h0m0 1h0m0 3h0m0 3h0m0 5h0m0 2h0m0 1h0m0 2h0m0 4h0m0 1h0m0 3h0m0 1h0m0 3h0m0 1h0m1-59h0m0 7h0m0 1h0m0 2h0m0 4h0m0 2h0m0 4h0m0 2h0m0 4h0m0 3h0m0 1h0m0 4h0m0 2h0m0 5h0m0 5h0m0 2h0m0 4h0m0 1h0m0 1h0m0 3h0m1-62h0m0 6h0m0 1h0m0 1h0m0 9h0m0 6h0m0 3h0m0 2h0m0 6h0m0 3h0m0 3h0m0 3h0m0 1h0m0 1h0m0 1h0m0 14h0m1-58h0m0 5h0m0 2h0m0 5h0m0 5h0m0 1h0m0 3h0m0 8h0m0 2h0m0 2h0m0 1h0m0 1h0m0 3h0m0 4h0m0 5h0m0 6h0m0 2h0m0 3h0m0 1h0m0 1h0m1-58h0m0 3h0m0 3h0m0 6h0m0 6h0m0 1h0m0 5h0m0 13h0m0 3h0m0 1h0m0 2h0m0 1h0m0 1h0m0 1h0m0 1h0m1-48h0m0 6h0m0 1h0m0 1h0m0 7h0m0 3h0m0 3h0m0 3h0m0 1h0m0 2h0m0 1h0m0 1h0m0 1h0m0 3h0m0 3h0m0 1h0m0 1h0m0 6h0m0 3h0m0 7h0m1-53h0m0 5h0m0 1h0m0 4h0m0 6h0m0 1h0m0 5h0m0 7h0m0 4h0m0 5h0m0 1h0m0 4h0m0 2h0m0 7h0m1-53h0m0 1h0m0 3h0m0 9h0m0 3h0m0 1h0m0 3h0m0 2h0m0 2h0m0 3h0m0 3h0m0 1h0m0 1h0m0 2h0m0 2h0m0 1h0m0 3h0m0 6h0m0 4h0m0 3h0m0 3h0m1-54h0m0 5h0m0 1h0m0 4h0m0 2h0m0 1h0m0 7h0m0 3h0m0 1h0m0 1h0m0 2h0m0 1h0m0 2h0m0 10h0m0 3h0m0 2h0m0 8h0m1-51h0m0 4h0m0 3h0m0 3h0m0 6h0m0 1h0m0 3h0m0 1h0m0 7h0m0 2h0m0 2h0m0 5h0m0 1h0m0 1h0m0 8h0m1-35h0m0 2h0m0 1h0m0 6h0m0 3h0m0 4h0m0 1h0m0 2h0m0 6h0m0 4h0m0 3h0m0 3h0m0 1h0m0 2h0m1-47h0m0 2h0m0 8h0m0 6h0m0 2h0m0 2h0m0 2h0m0 3h0m0 4h0m0 2h0m0 2h0m0 4h0m0 2h0m1-44h0m0 7h0m0 1h0m0 1h0m0 2h0m0 1h0m0 5h0m0 4h0m0 4h0m0 3h0m0 3h0m0 5h0m0 2h0m0 1h0m0 1h0m0 6h0m0 1h0m0 2h0m1-46h0m0 1h0m0 2h0m0 2h0m0 10h0m0 3h0m0 2h0m0 1h0m0 1h0m0 1h0m0 2h0m0 10h0m0 7h0m0 8h0m0 1h0m1-52h0m0 3h0m0 6h0m0 3h0m0 2h0m0 1h0m0 1h0m0 3h0m0 2h0m0 1h0m0 3h0m0 1h0m0 6h0m0 2h0m0 1h0m0 5h0m0 10h0m1-51h0m0 7h0m0 3h0m0 1h0m0 2h0m0 7h0m0 1h0m0 2h0m0 2h0m0 3h0m0 14h0m0 1h0m0 1h0m0 2h0m1-47h0m0 8h0m0 3h0m0 2h0m0 2h0m0 1h0m0 3h0m0 2h0m0 2h0m0 1h0m0 12h0m0 4h0m0 1h0m0 2h0m0 1h0m1-40h0m0 5h0m0 5h0m0 1h0m0 1h0m0 2h0m0 2h0m0 1h0m0 4h0m0 3h0m0 6h0m0 2h0m0 2h0m0 5h0m1-37h0m0 4h0m0 1h0m0 1h0m0 2h0m0 3h0m0 4h0m0 5h0m0 2h0m0 7h0m1-30h0m0 8h0m0 2h0m0 1h0m0 3h0m0 1h0m0 4h0m0 2h0m0 4h0m0 1h0m0 6h0m1-33h0m0 2h0m0 3h0m0 3h0m0 2h0m0 1h0m0 2h0m0 1h0m0 8h0m0 1h0m0 2h0m0 3h0m0 3h0m0 1h0m0 5h0m1-38h0m0 4h0m0 4h0m0 2h0m0 2h0m0 2h0m0 1h0m0 5h0m0 6h0m0 1h0m0 9h0m1-33h0m0 1h0m0 1h0m0 7h0m0 3h0m0 6h0m0 1h0m0 2h0m0 3h0m1-27h0m0 1h0m0 4h0m0 8h0m0 2h0m0 3h0m0 1h0m0 2h0m0 3h0m0 4h0m1-27h0m0 5h0m0 4h0m0 2h0m0 3h0m0 3h0m0 7h0m0 7h0m1-29h0m0 6h0m0 19h0m1-27h0m0 1h0m0 6h0m0 4h0m0 1h0m0 1h0m0 2h0m0 1h0m0 11h0m0 3h0m1-27h0m0 5h0m0 3h0m0 4h0m0 4h0m0 1h0m0 1h0m0 5h0m0 2h0m1-22h0m0 1h0m0 2h0m0 3h0m0 1h0m0 2h0m0 2h0m0 1h0m0 4h0m1-18h0m0 5h0m1-5h0m0 2h0m0 2h0m0 2h0m0 3h0m0 5h0m0 1h0m1-9h0m0 17h0m1-18h0m0 1h0m0 10h0m1-17h0m0 3h0m0 5h0m0 6h0m1-5h0m0 1h0m0 1h0" stroke="#ef6f60" stroke-width="2.1" stroke-linecap="round" fill="none"/>
<text x="62.80" y="311.60" font-size="7.8" text-anchor="middle">Active response</text>
<text x="82.40" y="364.60" font-size="7.8" text-anchor="middle">Quiescent response</text>
<path d="M22.6 411.5V389.6M22.6 411.5H44.0" fill="none" stroke="#222" stroke-width="0.8" />
<path d="M22.6 387.3L20.9 391.3L24.3 391.3Z M46.4 411.5L42.4 409.8L42.4 413.2Z" fill="#222" />
<text x="18.70" y="399.70" font-size="7.5" text-anchor="middle" transform="rotate(-90 18.70 399.70)" textLength="23.40" lengthAdjust="spacingAndGlyphs">UMAP2</text>
<text x="22.90" y="422.90" font-size="7.5" textLength="22.50" lengthAdjust="spacingAndGlyphs">UMAP1</text>
<text x="155.40" y="280.70" font-size="12.8" fill="#000" font-weight="bold" stroke="#000" stroke-width="0.3">f</text>
<text x="250.50" y="274.60" font-size="7.6" text-anchor="middle">TF enrichment: active vs</text>
<text x="250.50" y="283.00" font-size="7.6" text-anchor="middle">quiescent response</text>
<rect x="193.40" y="286.80" width="114.20" height="103.50" fill="none" stroke="#444" stroke-width="0.7" />
<line x1="237.30" y1="286.80" x2="237.30" y2="390.30" stroke="#444" stroke-width="0.7" />
<line x1="237.30" y1="291.00" x2="302.00" y2="291.00" stroke="#f29a8f" stroke-width="1.1" />
<circle cx="302.00" cy="291.00" r="2.1" fill="#ef6f60"/>
<text x="188.80" y="293.00" font-size="5.6" text-anchor="end">ATF4</text>
<line x1="237.30" y1="296.60" x2="263.41" y2="296.60" stroke="#f29a8f" stroke-width="1.1" />
<circle cx="263.41" cy="296.60" r="2.1" fill="#ef6f60"/>
<text x="188.80" y="298.60" font-size="5.6" text-anchor="end">DDIT3</text>
<line x1="237.30" y1="302.20" x2="261.70" y2="302.20" stroke="#f29a8f" stroke-width="1.1" />
<circle cx="261.70" cy="302.20" r="2.1" fill="#ef6f60"/>
<text x="188.80" y="304.20" font-size="5.6" text-anchor="end">BRCA1</text>
<line x1="237.30" y1="307.80" x2="260.00" y2="307.80" stroke="#f29a8f" stroke-width="1.1" />
<circle cx="260.00" cy="307.80" r="2.1" fill="#ef6f60"/>
<text x="188.80" y="309.80" font-size="5.6" text-anchor="end">MEF2D</text>
<line x1="237.30" y1="313.40" x2="256.03" y2="313.40" stroke="#f29a8f" stroke-width="1.1" />
<circle cx="256.03" cy="313.40" r="2.1" fill="#ef6f60"/>
<text x="188.80" y="315.40" font-size="5.6" text-anchor="end">SPDEF</text>
<line x1="237.30" y1="319.00" x2="256.03" y2="319.00" stroke="#f29a8f" stroke-width="1.1" />
<circle cx="256.03" cy="319.00" r="2.1" fill="#ef6f60"/>
<text x="188.80" y="321.00" font-size="5.6" text-anchor="end">MEF2A</text>
<line x1="237.30" y1="324.60" x2="253.76" y2="324.60" stroke="#f29a8f" stroke-width="1.1" />
<circle cx="253.76" cy="324.60" r="2.1" fill="#ef6f60"/>
<text x="188.80" y="326.60" font-size="5.6" text-anchor="end">ATF6</text>
<line x1="237.30" y1="330.20" x2="253.19" y2="330.20" stroke="#f29a8f" stroke-width="1.1" />
<circle cx="253.19" cy="330.20" r="2.1" fill="#ef6f60"/>
<text x="188.80" y="332.20" font-size="5.6" text-anchor="end">ATF3</text>
<line x1="237.30" y1="335.80" x2="253.19" y2="335.80" stroke="#f29a8f" stroke-width="1.1" />
<circle cx="253.19" cy="335.80" r="2.1" fill="#ef6f60"/>
<text x="188.80" y="337.80" font-size="5.6" text-anchor="end">CEBPB</text>
<line x1="237.30" y1="341.40" x2="198.14" y2="341.40" stroke="#c3d1e6" stroke-width="1.1" />
<circle cx="198.14" cy="341.40" r="2.1" fill="#a9bedc"/>
<text x="188.80" y="343.40" font-size="5.6" text-anchor="end">MYCN</text>
<line x1="237.30" y1="347.00" x2="215.17" y2="347.00" stroke="#c3d1e6" stroke-width="1.1" />
<circle cx="215.17" cy="347.00" r="2.1" fill="#a9bedc"/>
<text x="188.80" y="349.00" font-size="5.6" text-anchor="end">TP53</text>
<line x1="237.30" y1="352.60" x2="216.30" y2="352.60" stroke="#c3d1e6" stroke-width="1.1" />
<circle cx="216.30" cy="352.60" r="2.1" fill="#a9bedc"/>
<text x="188.80" y="354.60" font-size="5.6" text-anchor="end">ZBTB7A</text>
<line x1="237.30" y1="358.20" x2="216.30" y2="358.20" stroke="#c3d1e6" stroke-width="1.1" />
<circle cx="216.30" cy="358.20" r="2.1" fill="#a9bedc"/>
<text x="188.80" y="360.20" font-size="5.6" text-anchor="end">SNAI1</text>
<line x1="237.30" y1="363.80" x2="216.30" y2="363.80" stroke="#c3d1e6" stroke-width="1.1" />
<circle cx="216.30" cy="363.80" r="2.1" fill="#a9bedc"/>
<text x="188.80" y="365.80" font-size="5.6" text-anchor="end">E2F1</text>
<line x1="237.30" y1="369.40" x2="216.30" y2="369.40" stroke="#c3d1e6" stroke-width="1.1" />
<circle cx="216.30" cy="369.40" r="2.1" fill="#a9bedc"/>
<text x="188.80" y="371.40" font-size="5.6" text-anchor="end">MYBL2</text>
<line x1="237.30" y1="375.00" x2="216.30" y2="375.00" stroke="#c3d1e6" stroke-width="1.1" />
<circle cx="216.30" cy="375.00" r="2.1" fill="#a9bedc"/>
<text x="188.80" y="377.00" font-size="5.6" text-anchor="end">VDR</text>
<line x1="237.30" y1="380.60" x2="217.44" y2="380.60" stroke="#c3d1e6" stroke-width="1.1" />
<circle cx="217.44" cy="380.60" r="2.1" fill="#a9bedc"/>
<text x="188.80" y="382.60" font-size="5.6" text-anchor="end">ZNF382</text>
<line x1="237.30" y1="386.20" x2="217.44" y2="386.20" stroke="#c3d1e6" stroke-width="1.1" />
<circle cx="217.44" cy="386.20" r="2.1" fill="#a9bedc"/>
<text x="188.80" y="388.20" font-size="5.6" text-anchor="end">E2F4</text>
<text x="214.60" y="400.30" font-size="6.8" text-anchor="middle">−2</text>
<text x="237.30" y="400.30" font-size="6.8" text-anchor="middle">0</text>
<text x="260.00" y="400.30" font-size="6.8" text-anchor="middle">2</text>
<text x="282.70" y="400.30" font-size="6.8" text-anchor="middle">4</text>
<text x="305.40" y="400.30" font-size="6.8" text-anchor="middle">6</text>
<path d="M191.2 291.00H193.4M191.2 296.60H193.4M191.2 302.20H193.4M191.2 307.80H193.4M191.2 313.40H193.4M191.2 319.00H193.4M191.2 324.60H193.4M191.2 330.20H193.4M191.2 335.80H193.4M191.2 341.40H193.4M191.2 347.00H193.4M191.2 352.60H193.4M191.2 358.20H193.4M191.2 363.80H193.4M191.2 369.40H193.4M191.2 375.00H193.4M191.2 380.60H193.4M191.2 386.20H193.4M214.60 390.3V392.5M237.30 390.3V392.5M260.00 390.3V392.5M282.70 390.3V392.5M305.40 390.3V392.5" fill="none" stroke="#444" stroke-width="0.6" />
<text x="250.5" y="410.4" font-size="7.6" text-anchor="middle" fill="#222">−log<tspan font-size="5" dy="1.8">10</tspan><tspan dy="-1.8">(FDR)</tspan></text>
<text x="163.00" y="339.00" font-size="7.6" text-anchor="middle" transform="rotate(-90 163.00 339.00)">TF</text>
<line x1="240.60" y1="376.70" x2="248.00" y2="376.70" stroke="#f29a8f" stroke-width="1.2" />
<line x1="240.60" y1="383.60" x2="248.00" y2="383.60" stroke="#c3d1e6" stroke-width="1.2" />
<text x="250.60" y="379.10" font-size="6.6" textLength="46.50" lengthAdjust="spacingAndGlyphs">Active response</text>
<text x="250.60" y="386.00" font-size="6.6" textLength="55.00" lengthAdjust="spacingAndGlyphs">Quiescent response</text>
<text x="-0.60" y="445.90" font-size="12.8" fill="#000" font-weight="bold" stroke="#000" stroke-width="0.3">g</text>
<path d="M34.2 500.8L37.0 498.7L39.7 496.6L42.5 494.4L45.2 492.3L48.0 490.2L50.8 488.0L53.5 485.9L53.5 498.0L50.8 500.2L48.0 502.3L45.2 504.4L42.5 506.5L39.7 508.7L37.0 510.8L34.2 512.9Z" fill="#cdd7e8" filter="url(#soft1)" opacity="0.75"/>
<path d="M55.4 479.1L59.6 477.8L63.8 476.5L68.0 475.2L72.2 473.9L76.4 472.6L80.6 471.8L84.8 471.0L89.0 470.1L93.2 469.3L93.2 481.0L89.0 481.6L84.8 482.1L80.6 482.7L76.4 483.2L72.2 484.2L68.0 485.2L63.8 486.3L59.6 487.3L55.4 488.3Z" fill="#f9bbb1" filter="url(#soft1)" opacity="0.75"/>
<path transform="scale(0.5) translate(.5 .5)" d="M65 1024h0m1-20h0m0 6h0m0 4h0m0 2h0m1-19h0m0 1h0m0 6h0m0 3h0m0 2h0m0 3h0m0 1h0m0 4h0m0 1h0m0 6h0m0 2h0m0 6h0m1-32h0m0 5h0m0 1h0m0 2h0m0 2h0m0 1h0m0 2h0m0 1h0m0 1h0m0 1h0m0 1h0m0 2h0m1-16h0m0 1h0m0 3h0m0 1h0m0 3h0m0 1h0m0 3h0m0 1h0m0 1h0m0 1h0m0 2h0m0 2h0m0 4h0m0 1h0m0 2h0m1-39h0m0 2h0m0 5h0m0 4h0m0 1h0m0 1h0m0 3h0m0 1h0m0 1h0m0 1h0m0 1h0m0 2h0m0 3h0m0 1h0m0 3h0m0 1h0m0 1h0m0 4h0m0 6h0m0 5h0m1-48h0m0 1h0m0 5h0m0 1h0m0 1h0m0 1h0m0 3h0m0 2h0m0 3h0m0 6h0m0 1h0m0 3h0m0 1h0m0 1h0m0 4h0m0 3h0m0 1h0m0 1h0m1-41h0m0 6h0m0 5h0m0 1h0m0 2h0m0 4h0m0 1h0m0 3h0m0 1h0m0 2h0m0 1h0m0 2h0m0 2h0m0 1h0m0 1h0m0 1h0m0 1h0m0 10h0m1-39h0m0 1h0m0 1h0m0 3h0m0 5h0m0 1h0m0 1h0m0 1h0m0 2h0m0 1h0m0 2h0m0 1h0m0 1h0m0 1h0m0 2h0m0 3h0m0 1h0m0 6h0m0 2h0m0 1h0m1-40h0m0 5h0m0 7h0m0 2h0m0 3h0m0 3h0m0 2h0m0 2h0m0 1h0m0 4h0m0 1h0m0 10h0m0 6h0m1-39h0m0 6h0m0 2h0m0 1h0m0 3h0m0 1h0m0 1h0m0 8h0m0 4h0m0 2h0m0 1h0m0 2h0m1-36h0m0 7h0m0 1h0m0 1h0m0 2h0m0 2h0m0 2h0m0 1h0m0 2h0m0 2h0m0 2h0m0 3h0m0 3h0m0 1h0m0 1h0m0 6h0m0 2h0m0 3h0m1-42h0m0 3h0m0 8h0m0 1h0m0 2h0m0 2h0m0 1h0m0 2h0m0 1h0m0 4h0m0 3h0m0 1h0m0 3h0m0 1h0m1-40h0m0 3h0m0 2h0m0 1h0m0 2h0m0 3h0m0 2h0m0 3h0m0 2h0m0 1h0m0 1h0m0 2h0m0 1h0m0 1h0m0 1h0m0 4h0m0 1h0m0 2h0m0 1h0m0 2h0m0 3h0m0 1h0m0 3h0m1-36h0m0 4h0m0 3h0m0 3h0m0 1h0m0 1h0m0 1h0m0 1h0m0 2h0m0 1h0m0 2h0m0 1h0m0 1h0m0 2h0m0 3h0m0 1h0m0 1h0m1-31h0m0 3h0m0 2h0m0 5h0m0 7h0m0 2h0m0 2h0m0 1h0m0 1h0m0 2h0m0 2h0m0 1h0m0 2h0m0 3h0m0 2h0m0 3h0m0 2h0m0 1h0m1-31h0m0 2h0m0 2h0m0 2h0m0 1h0m0 2h0m0 1h0m0 8h0m0 1h0m0 4h0m0 2h0m0 1h0m0 1h0m1-32h0m0 1h0m0 3h0m0 3h0m0 2h0m0 1h0m0 1h0m0 2h0m0 1h0m0 1h0m0 1h0m0 2h0m0 1h0m0 1h0m0 1h0m0 1h0m0 1h0m0 1h0m0 4h0m0 3h0m0 1h0m0 2h0m0 1h0m0 1h0m1-33h0m0 4h0m0 1h0m0 3h0m0 1h0m0 1h0m0 1h0m0 1h0m0 1h0m0 1h0m0 2h0m0 1h0m0 6h0m0 5h0m1-32h0m0 2h0m0 1h0m0 1h0m0 3h0m0 3h0m0 1h0m0 2h0m0 1h0m0 1h0m0 2h0m0 1h0m0 1h0m0 2h0m0 4h0m0 1h0m0 9h0m1-38h0m0 5h0m0 1h0m0 1h0m0 3h0m0 1h0m0 1h0m0 1h0m0 2h0m0 2h0m0 2h0m0 2h0m0 1h0m0 1h0m0 1h0m0 2h0m0 2h0m0 1h0m0 5h0m0 4h0m0 2h0m1-47h0m0 11h0m0 1h0m0 3h0m0 1h0m0 2h0m0 3h0m0 1h0m0 2h0m0 1h0m0 3h0m0 1h0m0 3h0m0 3h0m0 2h0m0 2h0m0 1h0m1-29h0m0 1h0m0 1h0m0 2h0m0 1h0m0 1h0m0 2h0m0 1h0m0 1h0m0 2h0m0 1h0m0 2h0m0 1h0m0 3h0m0 1h0m0 3h0m1-31h0m0 2h0m0 3h0m0 1h0m0 2h0m0 3h0m0 2h0m0 4h0m0 3h0m0 3h0m0 1h0m0 2h0m0 1h0m0 6h0m0 2h0m0 2h0m1-48h0m0 16h0m0 5h0m0 1h0m0 1h0m0 5h0m0 1h0m0 3h0m0 2h0m0 4h0m0 2h0m0 1h0m0 3h0m0 3h0m0 5h0m0 9h0m1-50h0m0 4h0m0 6h0m0 1h0m0 2h0m0 1h0m0 1h0m0 2h0m0 1h0m0 1h0m0 2h0m0 1h0m0 1h0m0 3h0m0 3h0m0 5h0m1-36h0m0 12h0m0 3h0m0 6h0m0 2h0m0 1h0m0 2h0m0 1h0m0 1h0m0 1h0m0 1h0m0 1h0m0 3h0m0 6h0m1-47h0m0 1h0m0 4h0m0 1h0m0 3h0m0 1h0m0 1h0m0 2h0m0 2h0m0 3h0m0 2h0m0 1h0m0 1h0m0 2h0m0 3h0m0 1h0m0 1h0m0 1h0m0 6h0m0 1h0m0 2h0m0 4h0m0 1h0m0 8h0m1-55h0m0 7h0m0 7h0m0 2h0m0 2h0m0 1h0m0 1h0m0 2h0m0 1h0m0 4h0m0 3h0m0 1h0m0 1h0m0 2h0m0 2h0m0 2h0m0 3h0m0 2h0m0 8h0m0 13h0m1-57h0m0 4h0m0 2h0m0 7h0m0 1h0m0 2h0m0 1h0m0 2h0m0 2h0m0 5h0m0 2h0m0 1h0m1-26h0m0 2h0m0 1h0m0 1h0m0 6h0m0 3h0m0 1h0m0 2h0m0 4h0m0 2h0m0 1h0m0 1h0m0 1h0m0 1h0m0 1h0m1-20h0m0 2h0m0 1h0m0 1h0m0 2h0m0 1h0m0 1h0m0 1h0m0 2h0m0 1h0m0 1h0m0 1h0m0 2h0m0 1h0m0 2h0m0 5h0m1-35h0m0 9h0m0 3h0m0 1h0m0 1h0m0 1h0m0 1h0m0 5h0m0 1h0m0 1h0m0 2h0m0 1h0m0 3h0m0 7h0m0 1h0m0 2h0m0 7h0m1-57h0m0 9h0m0 2h0m0 1h0m0 1h0m0 3h0m0 4h0m0 2h0m0 2h0m0 2h0m0 1h0m0 1h0m0 2h0m0 3h0m0 1h0m0 3h0m0 1h0m0 3h0m0 1h0m0 2h0m0 4h0m0 5h0m1-43h0m0 4h0m0 3h0m0 1h0m0 2h0m0 1h0m0 1h0m0 3h0m0 1h0m0 1h0m0 1h0m0 2h0m0 2h0m0 1h0m0 1h0m0 1h0m0 2h0m0 2h0m0 9h0m1-43h0m0 9h0m0 1h0m0 3h0m0 1h0m0 1h0m0 1h0m0 1h0m0 1h0m0 2h0m0 1h0m0 1h0m0 2h0m0 1h0m0 1h0m0 1h0m0 4h0m0 8h0m0 5h0m1-42h0m0 2h0m0 8h0m0 1h0m0 1h0m0 1h0m0 2h0m0 5h0m0 2h0m0 4h0m0 2h0m0 3h0m0 1h0m1-41h0m0 11h0m0 5h0m0 2h0m0 2h0m0 1h0m0 1h0m0 1h0m0 1h0m0 5h0m0 3h0m0 1h0m0 4h0m0 2h0m0 4h0m0 1h0m0 1h0m0 6h0m1-43h0m0 1h0m0 5h0m0 4h0m0 3h0m0 1h0m0 2h0m0 2h0m0 1h0m0 2h0m0 1h0m0 1h0m0 1h0m0 2h0m0 1h0m0 2h0m0 13h0m1-43h0m0 4h0m0 2h0m0 2h0m0 1h0m0 1h0m0 3h0m0 1h0m0 2h0m0 1h0m0 2h0m0 1h0m0 3h0m0 3h0m0 1h0m0 5h0m0 1h0m0 3h0m0 2h0m0 2h0m1-51h0m0 1h0m0 12h0m0 1h0m0 9h0m0 2h0m0 1h0m0 1h0m0 1h0m0 2h0m0 1h0m0 3h0m0 4h0m0 3h0m0 1h0m0 1h0m0 8h0m1-35h0m0 3h0m0 1h0m0 2h0m0 1h0m0 1h0m0 1h0m0 2h0m0 3h0m0 3h0m0 1h0m0 1h0m0 1h0m0 2h0m0 5h0m0 2h0m1-30h0m0 2h0m0 2h0m0 2h0m0 3h0m0 3h0m0 1h0m0 3h0m0 1h0m0 3h0m0 3h0m0 3h0m0 1h0m1-24h0m0 2h0m0 2h0m0 18h0m1-27h0m0 19h0m1-16h0m0 7h0m0 6h0m0 3h0m1-6h0m1-3h0m0 22h0m1-10h0m1-12h0m1 2h0m0 9h0m0 4h0m1-17h0m0 1h0m2 30h0m1-15h0m2-8h0m0 11h0m0 3h0m2-26h0m1 9h0m0 5h0m2-21h0m1 16h0m6 8h0m1-15h0m1-6h0m1 24h0m0 1h0m1-39h0m1 23h0m0 16h0m1-22h0m0 11h0m2-4h0m2 14h0m2 0h0m1-27h0m0 32h0m2-14h0m0 3h0m1-23h0m0 5h0m0 17h0m1-22h0m1-6h0m1 9h0m0 7h0m0 4h0m0 14h0m1-20h0m0 14h0m1-10h0m0 8h0m1-7h0m0 3h0m0 19h0m2-29h0m0 6h0m0 8h0m2 4h0m1-5h0m0 3h0m2-18h0m0 8h0m1 4h0m1-14h0m0 23h0m1-2h0m2-8h0m1-8h0m0 6h0m1 8h0m2 9h0m1-22h0m0 3h0m0 23h0m1-16h0m0 15h0m1-25h0m0 23h0m2-23h0m1 5h0m0 4h0m2-13h0m2 12h0m1 7h0m0 17h0m1-35h0m2 36h0m1-17h0m3-24h0m3 30h0" stroke="#b9c7df" stroke-width="2.6" stroke-linecap="round" fill="none"/>
<path transform="scale(0.5) translate(.5 .5)" d="M108 951h0m0 3h0m0 3h0m0 6h0m0 2h0m0 1h0m0 1h0m0 2h0m0 5h0m0 7h0m0 11h0m1-29h0m0 1h0m0 3h0m0 1h0m0 3h0m0 2h0m0 1h0m0 4h0m0 1h0m0 1h0m1-25h0m0 3h0m0 1h0m0 2h0m0 2h0m0 1h0m0 2h0m0 2h0m0 1h0m0 1h0m0 1h0m0 3h0m1-28h0m0 8h0m0 1h0m0 1h0m0 1h0m0 1h0m0 2h0m0 3h0m0 10h0m0 1h0m0 2h0m1-26h0m0 1h0m0 1h0m0 3h0m0 1h0m0 3h0m0 1h0m0 4h0m0 2h0m0 2h0m0 1h0m0 1h0m0 3h0m0 1h0m0 2h0m1-32h0m0 3h0m0 9h0m0 2h0m0 1h0m0 2h0m0 1h0m0 1h0m0 1h0m0 1h0m0 1h0m0 1h0m0 5h0m0 2h0m0 1h0m0 1h0m0 4h0m0 2h0m0 3h0m1-46h0m0 13h0m0 5h0m0 3h0m0 3h0m0 2h0m0 1h0m0 3h0m0 1h0m0 2h0m0 2h0m0 1h0m0 3h0m1-24h0m0 4h0m0 4h0m0 1h0m0 2h0m0 3h0m0 2h0m0 2h0m0 3h0m0 1h0m0 2h0m1-20h0m0 1h0m0 2h0m0 1h0m0 1h0m0 3h0m0 1h0m0 2h0m0 1h0m0 5h0m0 4h0m0 2h0m1-26h0m0 1h0m0 2h0m0 1h0m0 3h0m0 1h0m0 1h0m0 1h0m0 1h0m0 1h0m0 5h0m0 1h0m0 5h0m0 1h0m1-30h0m0 1h0m0 2h0m0 4h0m0 1h0m0 2h0m0 1h0m0 3h0m0 1h0m0 5h0m0 1h0m0 2h0m0 1h0m0 1h0m0 2h0m0 10h0m0 1h0m1-40h0m0 4h0m0 2h0m0 1h0m0 3h0m0 3h0m0 1h0m0 1h0m0 2h0m0 1h0m0 2h0m0 1h0m0 2h0m0 1h0m0 1h0m0 6h0m1-41h0m0 13h0m0 4h0m0 5h0m0 1h0m0 1h0m0 1h0m0 2h0m0 1h0m0 1h0m0 1h0m0 2h0m0 1h0m0 1h0m1-17h0m0 4h0m0 2h0m0 1h0m0 1h0m0 2h0m0 3h0m0 1h0m0 1h0m0 8h0m1-37h0m0 1h0m0 11h0m0 1h0m0 1h0m0 1h0m0 1h0m0 2h0m0 1h0m0 3h0m0 3h0m0 2h0m0 1h0m0 1h0m0 3h0m0 3h0m1-31h0m0 2h0m0 6h0m0 2h0m0 1h0m0 4h0m0 1h0m0 1h0m0 2h0m0 1h0m0 2h0m0 1h0m0 1h0m0 2h0m0 1h0m0 3h0m0 1h0m0 1h0m0 1h0m0 1h0m0 3h0m0 3h0m1-34h0m0 3h0m0 2h0m0 3h0m0 1h0m0 1h0m0 1h0m0 1h0m0 2h0m0 1h0m0 5h0m1-20h0m0 1h0m0 2h0m0 1h0m0 1h0m0 4h0m0 2h0m0 3h0m0 1h0m0 3h0m0 3h0m0 1h0m0 1h0m0 1h0m0 5h0m0 1h0m0 6h0m1-35h0m0 2h0m0 5h0m0 2h0m0 1h0m0 3h0m0 1h0m0 1h0m0 3h0m0 1h0m0 3h0m0 1h0m0 2h0m0 5h0m0 3h0m1-37h0m0 9h0m0 2h0m0 1h0m0 4h0m0 3h0m0 3h0m0 6h0m1-40h0m0 6h0m0 3h0m0 6h0m0 1h0m0 2h0m0 3h0m0 1h0m0 3h0m0 1h0m0 2h0m0 1h0m0 3h0m0 3h0m0 1h0m0 3h0m0 1h0m0 7h0m0 1h0m1-38h0m0 1h0m0 10h0m0 2h0m0 1h0m0 3h0m0 1h0m0 1h0m0 1h0m0 1h0m0 2h0m0 2h0m0 1h0m0 4h0m0 3h0m1-34h0m0 8h0m0 1h0m0 2h0m0 5h0m0 1h0m0 3h0m0 3h0m1-13h0m0 1h0m0 1h0m0 3h0m0 1h0m0 1h0m0 1h0m0 3h0m0 1h0m0 1h0m0 1h0m0 2h0m0 1h0m0 7h0m0 1h0m0 1h0m0 9h0m1-48h0m0 3h0m0 7h0m0 2h0m0 1h0m0 1h0m0 1h0m0 2h0m0 3h0m0 1h0m0 2h0m0 2h0m0 4h0m0 3h0m0 4h0m1-28h0m0 1h0m0 3h0m0 2h0m0 1h0m0 1h0m0 1h0m0 1h0m0 1h0m0 2h0m0 1h0m0 3h0m0 1h0m0 1h0m0 2h0m0 3h0m0 4h0m0 3h0m0 4h0m1-30h0m0 1h0m0 1h0m0 1h0m0 1h0m0 1h0m0 1h0m0 1h0m0 1h0m0 1h0m0 3h0m0 2h0m0 3h0m0 4h0m0 13h0m1-49h0m0 4h0m0 6h0m0 1h0m0 2h0m0 1h0m0 1h0m0 2h0m0 1h0m0 2h0m0 1h0m0 2h0m0 1h0m0 1h0m0 1h0m0 1h0m0 1h0m0 2h0m0 2h0m0 3h0m1-29h0m0 4h0m0 1h0m0 1h0m0 2h0m0 4h0m0 1h0m0 4h0m0 1h0m0 4h0m1-27h0m0 9h0m0 4h0m0 1h0m0 1h0m0 2h0m0 1h0m0 1h0m0 6h0m0 1h0m1-27h0m0 1h0m0 3h0m0 4h0m0 2h0m0 1h0m0 2h0m0 4h0m0 1h0m0 1h0m0 1h0m0 1h0m0 2h0m0 3h0m0 2h0m0 3h0m0 2h0m0 6h0m1-36h0m0 3h0m0 7h0m0 3h0m0 1h0m0 2h0m0 1h0m0 1h0m0 1h0m0 1h0m0 4h0m0 11h0m0 1h0m1-31h0m0 6h0m0 1h0m0 2h0m0 1h0m0 2h0m0 1h0m0 1h0m0 1h0m0 1h0m0 1h0m0 1h0m0 1h0m0 2h0m0 4h0m0 1h0m0 2h0m0 7h0m1-39h0m0 5h0m0 1h0m0 1h0m0 2h0m0 4h0m0 1h0m0 3h0m0 1h0m0 1h0m0 1h0m0 1h0m0 3h0m0 2h0m0 1h0m0 8h0m1-41h0m0 9h0m0 2h0m0 3h0m0 2h0m0 9h0m0 1h0m0 1h0m0 1h0m0 2h0m0 2h0m0 2h0m1-36h0m0 2h0m0 3h0m0 4h0m0 1h0m0 1h0m0 3h0m0 4h0m0 1h0m0 2h0m0 2h0m0 1h0m0 1h0m0 1h0m0 1h0m0 1h0m0 2h0m0 1h0m0 1h0m0 1h0m0 2h0m0 2h0m0 15h0m1-45h0m0 5h0m0 3h0m0 5h0m0 2h0m0 1h0m0 3h0m0 2h0m0 1h0m0 1h0m0 1h0m0 1h0m0 2h0m0 3h0m1-32h0m0 3h0m0 3h0m0 2h0m0 1h0m0 1h0m0 1h0m0 4h0m0 2h0m0 1h0m0 1h0m0 1h0m0 2h0m0 1h0m0 1h0m0 2h0m0 1h0m0 1h0m0 1h0m0 2h0m0 2h0m0 1h0m0 1h0m1-36h0m0 3h0m0 5h0m0 1h0m0 1h0m0 1h0m0 4h0m0 1h0m0 2h0m0 1h0m0 2h0m0 2h0m0 2h0m0 2h0m0 2h0m0 1h0m0 5h0m0 2h0m1-39h0m0 5h0m0 9h0m0 1h0m0 1h0m0 1h0m0 1h0m0 1h0m0 1h0m0 1h0m0 1h0m0 3h0m0 1h0m0 1h0m0 1h0m0 2h0m0 1h0m0 1h0m0 1h0m0 4h0m1-31h0m0 2h0m0 3h0m0 1h0m0 1h0m0 1h0m0 3h0m0 1h0m0 1h0m0 6h0m0 7h0m0 2h0m0 2h0m1-41h0m0 2h0m0 1h0m0 3h0m0 3h0m0 2h0m0 6h0m0 1h0m0 1h0m0 3h0m0 1h0m0 1h0m0 1h0m0 3h0m0 1h0m0 1h0m0 1h0m0 1h0m0 5h0m0 1h0m0 1h0m0 9h0m1-41h0m0 4h0m0 4h0m0 6h0m0 2h0m0 1h0m0 1h0m0 2h0m0 2h0m0 3h0m0 1h0m0 3h0m0 1h0m0 1h0m0 3h0m1-30h0m0 2h0m0 3h0m0 1h0m0 1h0m0 1h0m0 5h0m0 1h0m0 1h0m0 2h0m0 1h0m0 3h0m0 2h0m1-27h0m0 2h0m0 2h0m0 4h0m0 2h0m0 2h0m0 1h0m0 1h0m0 2h0m0 2h0m0 3h0m0 5h0m0 2h0m1-29h0m0 8h0m0 3h0m0 3h0m0 1h0m0 2h0m0 1h0m0 1h0m0 3h0m0 1h0m1-24h0m0 4h0m0 3h0m0 2h0m0 3h0m0 2h0m0 1h0m0 1h0m0 2h0m0 1h0m0 3h0m1-22h0m0 1h0m0 4h0m0 3h0m0 1h0m0 3h0m0 2h0m0 5h0m0 2h0m0 1h0m0 1h0m0 2h0m0 3h0m0 5h0m0 1h0m1-32h0m0 1h0m0 1h0m0 5h0m0 1h0m0 1h0m0 4h0m0 2h0m0 4h0m0 1h0m0 6h0m0 1h0m0 1h0m0 1h0m0 4h0m1-25h0m0 4h0m0 1h0m0 2h0m0 3h0m0 2h0m0 1h0m0 1h0m0 1h0m0 3h0m0 7h0m1-40h0m0 3h0m0 1h0m0 6h0m0 3h0m0 2h0m0 1h0m0 5h0m0 2h0m0 6h0m0 5h0m0 6h0m1-39h0m0 8h0m0 1h0m0 2h0m0 1h0m0 5h0m0 2h0m0 3h0m0 1h0m0 1h0m0 2h0m0 1h0m0 2h0m0 1h0m0 8h0m0 9h0m1-34h0m0 3h0m0 1h0m0 2h0m0 2h0m0 7h0m0 3h0m0 3h0m0 1h0m0 3h0m0 3h0m0 18h0m1-54h0m0 4h0m0 2h0m0 1h0m0 4h0m0 1h0m0 3h0m0 2h0m0 2h0m0 1h0m0 2h0m0 2h0m0 4h0m0 1h0m1-35h0m0 2h0m0 9h0m0 2h0m0 2h0m0 1h0m0 1h0m0 7h0m0 4h0m0 2h0m1-27h0m0 4h0m0 5h0m0 6h0m0 2h0m0 2h0m0 1h0m0 4h0m0 1h0m0 1h0m0 7h0m1-35h0m0 6h0m0 3h0m0 1h0m0 3h0m0 3h0m0 4h0m0 1h0m0 1h0m0 1h0m0 2h0m0 1h0m0 8h0m0 3h0m1-27h0m0 4h0m0 1h0m0 3h0m0 1h0m0 7h0m0 5h0m0 3h0m0 7h0m1-35h0m0 3h0m0 4h0m0 2h0m0 2h0m0 1h0m0 1h0m0 1h0m0 1h0m0 4h0m0 2h0m0 1h0m0 6h0m0 1h0m1-43h0m0 16h0m0 2h0m0 1h0m0 8h0m0 1h0m0 1h0m0 2h0m0 1h0m0 3h0m0 2h0m0 1h0m0 3h0m1-34h0m0 10h0m0 1h0m0 2h0m0 1h0m0 2h0m0 2h0m0 3h0m0 4h0m0 3h0m0 2h0m0 6h0m0 7h0m1-37h0m0 4h0m0 2h0m0 2h0m0 3h0m0 6h0m0 2h0m0 1h0m0 2h0m0 2h0m0 3h0m0 1h0m0 4h0m1-40h0m0 9h0m0 1h0m0 4h0m0 5h0m0 1h0m0 2h0m0 1h0m0 2h0m0 1h0m0 1h0m0 1h0m0 1h0m0 2h0m0 2h0m0 1h0m0 6h0m1-40h0m0 3h0m0 1h0m0 1h0m0 2h0m0 8h0m0 1h0m0 5h0m0 2h0m0 1h0m0 8h0m0 1h0m0 1h0m0 1h0m1-18h0m0 1h0m0 1h0m0 1h0m0 3h0m0 3h0m0 2h0m0 2h0m0 6h0m0 4h0m1-40h0m0 5h0m0 1h0m0 3h0m0 1h0m0 1h0m0 1h0m0 5h0m0 4h0m0 2h0m0 4h0m0 1h0m0 3h0m1-25h0m0 12h0m0 1h0m0 4h0m0 1h0m0 10h0m1-21h0m0 1h0m0 3h0m0 2h0m0 1h0m0 2h0m0 1h0m0 1h0m0 2h0m0 4h0m0 2h0m0 1h0m0 1h0m0 16h0m1-48h0m0 1h0m0 2h0m0 1h0m0 9h0m0 4h0m0 7h0m0 11h0m0 1h0m1-33h0m0 5h0m0 4h0m0 2h0m0 1h0m0 6h0m0 1h0m0 1h0m0 2h0m0 1h0m0 1h0m0 5h0m0 1h0m1-24h0m0 6h0m0 1h0m0 2h0m0 1h0m0 4h0m0 3h0m0 1h0m0 24h0m1-49h0m0 3h0m0 2h0m0 3h0m0 1h0m0 3h0m0 2h0m0 6h0m0 3h0m0 5h0m0 8h0m0 1h0m1-40h0m0 4h0m0 6h0m0 5h0m0 3h0m0 2h0m0 6h0m0 2h0m0 2h0m1-30h0m0 6h0m0 4h0m0 2h0m0 8h0m0 1h0m0 1h0m0 3h0m0 2h0m0 5h0m0 6h0m0 4h0m1-39h0m0 5h0m0 1h0m0 4h0m0 2h0m0 1h0m0 1h0m0 2h0m0 2h0m0 1h0m0 1h0m0 8h0m1-15h0m0 1h0m0 1h0m0 2h0m0 5h0m0 2h0m0 6h0m1-39h0m0 8h0m0 1h0m0 1h0m0 2h0m0 2h0m0 3h0m0 1h0m0 1h0m0 4h0m0 3h0m0 1h0m0 2h0m0 3h0m0 1h0m0 9h0m0 1h0m1-34h0m0 2h0m0 1h0m0 5h0m0 3h0m0 2h0m0 2h0m0 2h0m0 1h0m0 1h0m0 3h0m0 1h0m0 2h0m0 3h0m0 7h0m1-33h0m0 2h0m0 6h0m0 3h0m0 2h0m0 3h0m0 2h0m1-19h0m0 2h0m0 1h0m0 2h0m0 7h0m0 3h0m0 1h0m0 5h0m0 3h0m0 3h0m0 4h0m1-24h0m0 1h0m0 4h0m0 5h0m0 4h0m0 2h0m0 1h0m0 3h0m1-28h0m0 7h0m0 1h0m0 2h0m0 2h0m0 9h0m0 7h0m0 11h0m1-37h0m0 2h0m0 3h0m0 3h0m0 1h0m0 1h0m0 1h0m0 1h0m0 1h0m0 1h0m0 1h0m0 3h0m0 5h0m0 14h0m1-34h0m0 1h0m0 8h0m0 3h0m0 5h0m0 1h0m0 1h0m0 4h0m0 5h0m0 13h0m1-54h0m0 12h0m0 3h0m0 2h0m0 3h0m0 2h0m0 7h0m0 3h0m0 5h0m0 3h0m1-32h0m0 1h0m0 6h0m0 1h0m0 3h0m0 4h0m0 2h0m0 2h0m0 4h0m0 2h0m0 20h0m0 2h0m1-45h0m0 4h0m0 5h0m0 2h0m0 1h0m0 2h0m0 9h0m0 1h0m0 3h0m0 4h0m1-26h0m0 3h0m0 3h0m0 1h0m0 4h0m0 1h0m0 3h0m0 3h0m0 2h0m0 3h0m0 14h0m1-52h0m0 6h0m0 1h0m0 2h0m0 1h0m0 7h0m0 3h0m0 4h0m0 1h0m0 7h0m1-22h0m0 2h0m0 1h0m0 5h0m0 1h0m0 1h0m0 2h0m0 3h0m0 1h0m0 1h0m0 8h0m0 1h0m1-28h0m0 2h0m0 5h0m0 1h0m0 1h0m0 4h0m0 4h0m0 3h0m0 3h0m0 1h0m0 6h0m1-24h0m0 2h0m0 6h0m0 1h0m0 2h0m0 7h0m0 3h0m0 5h0m0 7h0m1-48h0m0 8h0m0 6h0m0 3h0m0 5h0m0 3h0m0 1h0m0 1h0m0 8h0m1-19h0m0 1h0m0 4h0m0 1h0m0 2h0m0 3h0m0 6h0m0 5h0m0 5h0m0 4h0m1-44h0m0 6h0m0 8h0m0 2h0m0 6h0m0 7h0m0 10h0m0 6h0m1-47h0m0 8h0m0 1h0m0 1h0m0 3h0m0 4h0m0 1h0m0 1h0m0 4h0m0 5h0m0 3h0m0 1h0m0 2h0m0 5h0m0 1h0m1-21h0m0 6h0m0 9h0m0 3h0m0 6h0m1-42h0m0 1h0m0 4h0m0 14h0m0 2h0m0 3h0m0 5h0m0 5h0m0 1h0m0 7h0m1-26h0m0 4h0m0 1h0m0 5h0m0 1h0m1-20h0m0 1h0m0 4h0m0 2h0m0 6h0m0 4h0m0 6h0m0 1h0m1-28h0m0 6h0m0 7h0m0 1h0m0 3h0m0 4h0m0 1h0m0 2h0m0 19h0m1-44h0m0 4h0m0 8h0m0 4h0m0 4h0m0 1h0m0 3h0m0 2h0m0 2h0m0 19h0m1-43h0m0 2h0m0 8h0m0 10h0m0 1h0m0 1h0m0 2h0m1-29h0m0 21h0m0 26h0m1-43h0m0 3h0m0 1h0m0 7h0m0 3h0m0 8h0m0 13h0m1-28h0m0 10h0m0 1h0m0 1h0m0 1h0m0 1h0m0 6h0m0 7h0m1-22h0m0 1h0m0 6h0m0 5h0m1-25h0m0 6h0m0 10h0m0 2h0m0 2h0m0 4h0m0 1h0m0 12h0m1-38h0m0 5h0m0 6h0m0 2h0m0 4h0m0 2h0m0 8h0m0 6h0m1-30h0m0 2h0m0 4h0m0 5h0m0 2h0m0 1h0m0 2h0m0 11h0m0 5h0m1-28h0m0 3h0m0 1h0m0 3h0m0 1h0m0 2h0m0 1h0m0 6h0m0 12h0m0 8h0m1-35h0m0 19h0m1-29h0m0 4h0m0 1h0m0 5h0m0 3h0m0 8h0m0 2h0m0 1h0m1-15h0m0 7h0m0 17h0m1-30h0m0 2h0m0 1h0m0 4h0m0 7h0m0 1h0m0 5h0m0 5h0m1-30h0m0 1h0m0 16h0m0 10h0m0 6h0m1-25h0m0 7h0m0 11h0m0 8h0m0 8h0m1-31h0m0 7h0m1-18h0m0 13h0m0 4h0m0 11h0m0 2h0m1-11h0m1-9h0m0 6h0m0 4h0m0 35h0m2-24h0m0 8h0m1-23h0m1-10h0m1 2h0m0 20h0m0 3h0m1-21h0m0 8h0m2 12h0m1-9h0m1 14h0m1-6h0" stroke="#f58b7a" stroke-width="2.6" stroke-linecap="round" fill="none"/>
<path d="M55.0 483.8L57.2 483.2L59.4 482.6L61.6 482.0L63.8 481.4L66.0 480.8L68.2 480.2L70.4 479.6L72.5 479.0L74.7 478.4L76.9 477.8L79.1 477.5L81.3 477.1L83.5 476.7L85.7 476.4L87.9 476.0L90.1 475.7L92.3 475.3L94.5 474.9L96.7 474.6L98.9 474.3L101.1 474.1L103.2 474.0L105.4 473.8L107.6 473.6L109.8 473.4L112.0 473.2L114.2 473.1L116.4 472.9L118.6 472.7" fill="none" stroke="#ef7664" stroke-width="1.8" stroke-linecap="round" opacity="0.8"/>
<path d="M33.8 506.6L35.8 504.9L37.9 503.2L39.9 501.5L42.0 499.8L44.0 498.1L46.1 496.5L48.1 494.8L50.2 493.1L52.2 491.4L54.3 489.7L56.3 488.6L58.4 488.0L60.4 487.3L62.5 486.6L64.5 485.9L66.6 485.2L68.6 484.6L70.6 483.9L72.7 483.2L74.7 482.5L76.8 481.9L78.8 481.3L80.9 480.8L82.9 480.2L85.0 479.6L87.0 479.1L89.1 478.5L91.1 477.9L93.2 477.4" fill="none" stroke="#9fb4d4" stroke-width="1.6" stroke-linecap="round" opacity="0.9"/>
<rect x="29.40" y="461.40" width="93.00" height="57.80" fill="none" stroke="#555" stroke-width="0.7" />
<text x="25.80" y="510.57" font-size="6.3" text-anchor="end">0.25</text>
<text x="25.80" y="495.95" font-size="6.3" text-anchor="end">0.50</text>
<text x="25.80" y="481.32" font-size="6.3" text-anchor="end">0.75</text>
<text x="25.80" y="466.70" font-size="6.3" text-anchor="end">1.00</text>
<path d="M33.80 519.20v2.4M55.00 519.20v2.4M76.20 519.20v2.4M97.40 519.20v2.4M118.60 519.20v2.4M27.00 508.38H29.4M27.00 493.75H29.4M27.00 479.12H29.4M27.00 464.50H29.4" fill="none" stroke="#444" stroke-width="0.6" />
<text x="75.90" y="458.70" font-size="7.6" text-anchor="middle" font-style="italic">POLY</text>
<path d="M141.7 506.7L144.5 506.4L147.2 506.1L150.0 505.8L152.7 505.5L155.5 505.2L158.3 504.9L161.0 504.6L161.0 511.3L158.3 511.6L155.5 511.9L152.7 512.2L150.0 512.5L147.2 512.8L144.5 513.1L141.7 513.4Z" fill="#cdd7e8" filter="url(#soft1)" opacity="0.75"/>
<path d="M162.9 500.4L167.1 498.8L171.3 497.3L175.5 495.8L179.7 494.2L183.9 492.7L188.1 490.5L192.3 488.2L196.5 486.0L200.7 483.8L200.7 496.2L196.5 498.2L192.3 500.1L188.1 502.1L183.9 504.0L179.7 505.3L175.5 506.5L171.3 507.8L167.1 509.0L162.9 510.2Z" fill="#f9bbb1" filter="url(#soft1)" opacity="0.75"/>
<path transform="scale(0.5) translate(.5 .5)" d="M281 1011h0m0 9h0m1-10h0m0 8h0m0 1h0m0 2h0m0 4h0m0 1h0m0 1h0m0 6h0m1-30h0m0 7h0m0 2h0m0 2h0m0 1h0m0 1h0m0 1h0m0 1h0m0 1h0m0 1h0m0 1h0m0 1h0m0 1h0m0 1h0m0 1h0m0 6h0m1-24h0m0 6h0m0 1h0m0 2h0m0 1h0m0 1h0m0 2h0m0 1h0m0 2h0m0 1h0m0 3h0m1-19h0m0 6h0m0 2h0m0 1h0m0 3h0m0 1h0m0 1h0m0 1h0m0 1h0m0 2h0m0 4h0m1-21h0m0 3h0m0 2h0m0 1h0m0 1h0m0 2h0m0 2h0m0 2h0m0 1h0m0 1h0m0 2h0m0 5h0m1-21h0m0 2h0m0 1h0m0 2h0m0 1h0m0 1h0m0 1h0m0 1h0m0 1h0m0 1h0m0 2h0m0 1h0m0 1h0m0 1h0m0 1h0m0 2h0m1-21h0m0 4h0m0 1h0m0 2h0m0 1h0m0 1h0m0 1h0m0 2h0m0 3h0m0 1h0m0 1h0m0 1h0m0 1h0m0 3h0m0 2h0m1-26h0m0 5h0m0 4h0m0 1h0m0 1h0m0 2h0m0 1h0m0 1h0m0 1h0m0 2h0m0 1h0m0 4h0m0 1h0m0 3h0m1-32h0m0 8h0m0 1h0m0 1h0m0 1h0m0 1h0m0 2h0m0 2h0m0 1h0m0 1h0m0 1h0m0 1h0m0 1h0m0 1h0m0 7h0m0 2h0m1-22h0m0 2h0m0 1h0m0 1h0m0 1h0m0 1h0m0 1h0m0 1h0m0 1h0m0 1h0m0 1h0m0 2h0m0 1h0m0 2h0m0 1h0m1-18h0m0 4h0m0 1h0m0 1h0m0 1h0m0 1h0m0 1h0m0 1h0m0 1h0m0 1h0m0 2h0m0 1h0m0 4h0m0 1h0m0 1h0m1-23h0m0 1h0m0 1h0m0 1h0m0 2h0m0 1h0m0 2h0m0 1h0m0 1h0m0 1h0m0 3h0m0 5h0m1-17h0m0 2h0m0 3h0m0 1h0m0 3h0m0 1h0m0 1h0m0 1h0m0 3h0m0 3h0m0 2h0m1-18h0m0 1h0m0 1h0m0 2h0m0 1h0m0 1h0m0 2h0m0 2h0m0 2h0m0 1h0m0 1h0m0 1h0m1-21h0m0 1h0m0 1h0m0 1h0m0 1h0m0 3h0m0 3h0m0 1h0m0 1h0m0 1h0m0 1h0m0 1h0m0 1h0m0 1h0m0 1h0m0 3h0m0 3h0m0 4h0m1-29h0m0 3h0m0 6h0m0 1h0m0 1h0m0 3h0m0 1h0m0 2h0m0 1h0m0 2h0m0 2h0m0 1h0m0 1h0m1-18h0m0 6h0m0 1h0m0 1h0m0 1h0m0 1h0m0 3h0m0 1h0m0 1h0m0 2h0m0 2h0m1-18h0m0 1h0m0 2h0m0 1h0m0 3h0m0 2h0m0 1h0m0 1h0m0 1h0m0 1h0m0 1h0m0 1h0m0 2h0m1-23h0m0 2h0m0 6h0m0 2h0m0 1h0m0 1h0m0 1h0m0 2h0m0 1h0m0 1h0m0 1h0m0 2h0m0 1h0m0 1h0m0 1h0m0 1h0m1-26h0m0 6h0m0 2h0m0 1h0m0 2h0m0 1h0m0 1h0m0 1h0m0 1h0m0 1h0m0 1h0m0 1h0m0 1h0m0 1h0m0 2h0m0 4h0m1-22h0m0 2h0m0 2h0m0 1h0m0 1h0m0 1h0m0 1h0m0 2h0m0 2h0m0 1h0m0 1h0m0 1h0m0 1h0m0 3h0m0 1h0m0 1h0m0 1h0m1-25h0m0 7h0m0 2h0m0 1h0m0 2h0m0 2h0m0 1h0m0 1h0m0 1h0m0 4h0m0 1h0m0 1h0m0 3h0m1-21h0m0 3h0m0 1h0m0 2h0m0 2h0m0 1h0m0 2h0m0 1h0m0 1h0m0 1h0m0 2h0m0 1h0m0 1h0m1-17h0m0 1h0m0 1h0m0 3h0m0 1h0m0 1h0m0 2h0m0 1h0m0 2h0m0 1h0m0 1h0m0 2h0m0 3h0m1-24h0m0 2h0m0 2h0m0 1h0m0 1h0m0 1h0m0 1h0m0 1h0m0 1h0m0 2h0m0 1h0m0 1h0m0 1h0m0 1h0m0 2h0m0 1h0m0 1h0m1-18h0m0 2h0m0 1h0m0 1h0m0 3h0m0 1h0m0 2h0m0 1h0m0 1h0m0 1h0m0 2h0m0 1h0m1-10h0m0 2h0m0 2h0m0 1h0m0 4h0m0 2h0m0 1h0m1-15h0m0 1h0m0 1h0m0 3h0m0 1h0m0 1h0m0 1h0m0 1h0m0 1h0m0 1h0m0 2h0m0 2h0m1-19h0m0 2h0m0 2h0m0 2h0m0 1h0m0 2h0m0 1h0m0 1h0m0 1h0m0 1h0m0 1h0m0 1h0m0 1h0m0 4h0m0 3h0m0 1h0m0 1h0m0 2h0m0 2h0m1-32h0m0 1h0m0 3h0m0 1h0m0 3h0m0 1h0m0 1h0m0 1h0m0 2h0m0 5h0m0 1h0m0 1h0m0 2h0m0 1h0m0 1h0m0 2h0m1-21h0m0 1h0m0 2h0m0 1h0m0 1h0m0 2h0m0 2h0m0 1h0m0 1h0m0 1h0m0 4h0m0 1h0m0 1h0m1-23h0m0 5h0m0 2h0m0 1h0m0 1h0m0 2h0m0 1h0m0 1h0m0 3h0m0 2h0m0 1h0m0 3h0m0 2h0m1-22h0m0 2h0m0 1h0m0 1h0m0 2h0m0 1h0m0 1h0m0 1h0m0 1h0m0 1h0m0 1h0m0 1h0m0 1h0m0 1h0m0 5h0m0 3h0m0 1h0m0 1h0m1-26h0m0 3h0m0 1h0m0 2h0m0 1h0m0 1h0m0 2h0m0 1h0m0 1h0m0 2h0m0 1h0m0 3h0m0 2h0m0 2h0m1-26h0m0 3h0m0 2h0m0 3h0m0 2h0m0 1h0m0 1h0m0 2h0m0 1h0m0 3h0m0 1h0m0 1h0m0 1h0m0 1h0m0 4h0m1-22h0m0 5h0m0 1h0m0 1h0m0 1h0m0 1h0m0 2h0m0 1h0m0 1h0m0 1h0m0 1h0m0 1h0m0 1h0m0 2h0m0 1h0m1-17h0m0 4h0m0 2h0m0 1h0m0 1h0m0 3h0m0 3h0m0 1h0m0 4h0m0 2h0m1-21h0m0 1h0m0 1h0m0 1h0m0 2h0m0 1h0m0 1h0m0 1h0m0 1h0m0 1h0m0 1h0m0 1h0m0 1h0m0 3h0m0 1h0m0 1h0m0 1h0m0 1h0m0 3h0m1-25h0m0 2h0m0 4h0m0 2h0m0 1h0m0 1h0m0 1h0m0 2h0m0 2h0m0 1h0m0 1h0m0 4h0m0 4h0m1-28h0m0 5h0m0 2h0m0 4h0m0 1h0m0 1h0m0 1h0m0 1h0m0 1h0m0 2h0m0 1h0m0 2h0m0 7h0m1-31h0m0 9h0m0 1h0m0 1h0m0 1h0m0 3h0m0 1h0m0 2h0m0 1h0m0 1h0m0 11h0m1-27h0m0 2h0m0 1h0m0 4h0m0 2h0m0 3h0m0 6h0m0 4h0m1-16h0m0 7h0m0 1h0m0 1h0m1-7h0m0 19h0m1-9h0m1-1h0m2-8h0m0 3h0m1-4h0m0 2h0m0 6h0m2-1h0m0 2h0m1-7h0m1-5h0m0 2h0m0 4h0m0 5h0m0 1h0m1-11h0m0 6h0m0 5h0m1-2h0m3-5h0m2-5h0m1-1h0m1 3h0m0 4h0m1-10h0m1 1h0m1 10h0m0 6h0m1-22h0m0 8h0m0 6h0m1-2h0m1 3h0m1 2h0m1-8h0m0 8h0m1-9h0m0 2h0m6 0h0m0 4h0m0 3h0m3 9h0m1-17h0m0 7h0m1 3h0m1-10h0m0 7h0m1 2h0m0 11h0m1-17h0m1-1h0m0 3h0m0 3h0m1-1h0m0 8h0m2-17h0m0 13h0m1-3h0m1 6h0m1-6h0m2 1h0m0 2h0m1-9h0m0 4h0m1-5h0m0 8h0m5-11h0m1 8h0m1-1h0m2-2h0m0 4h0m0 6h0m1-6h0m5-3h0m0 4h0m1-6h0m0 3h0m2-2h0m0 7h0m1 2h0m2-6h0m1-4h0m0 2h0m1 4h0m1 3h0m0 3h0m1-4h0m1-15h0m0 7h0" stroke="#b9c7df" stroke-width="2.6" stroke-linecap="round" fill="none"/>
<path transform="scale(0.5) translate(.5 .5)" d="M322 1007h0m1-15h0m0 6h0m0 5h0m0 5h0m0 1h0m0 1h0m0 2h0m0 4h0m0 2h0m0 2h0m0 2h0m0 3h0m0 1h0m1-29h0m0 4h0m0 2h0m0 3h0m0 2h0m0 2h0m0 1h0m0 7h0m0 2h0m1-19h0m0 1h0m0 6h0m0 1h0m0 1h0m0 1h0m0 2h0m0 3h0m0 4h0m0 3h0m0 1h0m0 10h0m1-28h0m0 5h0m0 1h0m0 2h0m0 1h0m0 2h0m0 1h0m0 2h0m0 1h0m0 1h0m0 1h0m0 1h0m1-26h0m0 3h0m0 1h0m0 5h0m0 1h0m0 2h0m0 1h0m0 1h0m0 2h0m0 1h0m0 1h0m0 1h0m0 1h0m0 2h0m0 4h0m0 1h0m0 7h0m1-31h0m0 3h0m0 6h0m0 1h0m0 2h0m0 1h0m0 2h0m0 2h0m0 1h0m0 8h0m1-32h0m0 4h0m0 4h0m0 1h0m0 1h0m0 7h0m0 1h0m0 1h0m0 1h0m0 1h0m0 1h0m0 2h0m0 13h0m1-43h0m0 4h0m0 2h0m0 1h0m0 1h0m0 5h0m0 1h0m0 3h0m0 7h0m0 2h0m0 10h0m1-32h0m0 5h0m0 4h0m0 1h0m0 2h0m0 2h0m0 1h0m0 1h0m0 2h0m0 1h0m0 1h0m0 2h0m0 1h0m0 1h0m0 2h0m0 1h0m1-26h0m0 3h0m0 1h0m0 1h0m0 1h0m0 2h0m0 4h0m0 1h0m0 1h0m0 1h0m0 2h0m0 2h0m0 2h0m0 3h0m0 2h0m0 4h0m0 1h0m1-36h0m0 13h0m0 2h0m0 4h0m0 1h0m0 4h0m0 2h0m0 1h0m0 1h0m0 6h0m1-38h0m0 7h0m0 3h0m0 2h0m0 1h0m0 1h0m0 1h0m0 2h0m0 1h0m0 3h0m0 2h0m0 2h0m0 1h0m0 5h0m0 10h0m1-34h0m0 3h0m0 2h0m0 1h0m0 4h0m0 1h0m0 1h0m0 2h0m0 1h0m0 3h0m0 1h0m0 1h0m0 1h0m0 2h0m0 1h0m0 1h0m0 3h0m0 1h0m0 1h0m0 2h0m0 7h0m1-44h0m0 5h0m0 1h0m0 4h0m0 1h0m0 1h0m0 1h0m0 3h0m0 1h0m0 2h0m0 1h0m0 1h0m0 1h0m0 3h0m0 1h0m0 1h0m0 3h0m0 3h0m0 2h0m0 4h0m1-36h0m0 3h0m0 3h0m0 2h0m0 3h0m0 1h0m0 1h0m0 2h0m0 1h0m0 3h0m0 2h0m0 1h0m0 2h0m0 1h0m0 4h0m0 2h0m0 4h0m1-44h0m0 10h0m0 1h0m0 1h0m0 1h0m0 1h0m0 1h0m0 3h0m0 3h0m0 3h0m0 2h0m0 1h0m0 1h0m0 1h0m0 1h0m0 1h0m0 1h0m0 1h0m0 3h0m0 1h0m0 1h0m0 2h0m0 3h0m0 1h0m1-36h0m0 4h0m0 4h0m0 1h0m0 4h0m0 1h0m0 1h0m0 1h0m0 1h0m0 3h0m0 1h0m0 2h0m0 2h0m0 1h0m0 3h0m0 1h0m0 10h0m1-38h0m0 1h0m0 3h0m0 2h0m0 2h0m0 1h0m0 4h0m0 1h0m0 1h0m0 2h0m0 1h0m0 5h0m0 1h0m0 2h0m0 5h0m1-43h0m0 13h0m0 1h0m0 4h0m0 2h0m0 1h0m0 1h0m0 1h0m0 2h0m0 3h0m0 1h0m0 1h0m0 3h0m0 1h0m0 1h0m0 4h0m0 4h0m0 1h0m0 1h0m1-33h0m0 6h0m0 5h0m0 4h0m0 3h0m0 1h0m0 1h0m0 1h0m0 2h0m0 2h0m0 1h0m0 2h0m0 2h0m1-27h0m0 1h0m0 3h0m0 1h0m0 4h0m0 1h0m0 1h0m0 2h0m0 2h0m0 2h0m0 3h0m0 2h0m0 1h0m0 5h0m1-25h0m0 1h0m0 1h0m0 3h0m0 1h0m0 2h0m0 2h0m0 1h0m0 1h0m0 1h0m0 1h0m0 1h0m0 1h0m0 1h0m0 2h0m0 4h0m0 2h0m1-39h0m0 3h0m0 8h0m0 2h0m0 1h0m0 5h0m0 2h0m0 2h0m0 3h0m0 2h0m0 1h0m0 1h0m0 2h0m0 1h0m0 2h0m0 6h0m1-41h0m0 1h0m0 4h0m0 2h0m0 1h0m0 2h0m0 2h0m0 3h0m0 5h0m0 2h0m0 1h0m0 1h0m0 2h0m0 6h0m0 2h0m1-39h0m0 13h0m0 3h0m0 2h0m0 4h0m0 2h0m0 4h0m0 1h0m0 1h0m0 2h0m0 2h0m0 2h0m0 2h0m0 2h0m0 3h0m1-40h0m0 5h0m0 1h0m0 7h0m0 1h0m0 3h0m0 1h0m0 2h0m0 1h0m0 2h0m0 2h0m0 1h0m0 1h0m0 2h0m1-16h0m0 2h0m0 3h0m0 1h0m0 3h0m0 1h0m0 1h0m0 1h0m0 1h0m0 5h0m0 1h0m0 3h0m0 4h0m0 2h0m1-36h0m0 2h0m0 4h0m0 1h0m0 1h0m0 1h0m0 1h0m0 2h0m0 1h0m0 3h0m0 2h0m0 1h0m0 1h0m0 1h0m0 7h0m0 7h0m1-31h0m0 3h0m0 2h0m0 5h0m0 1h0m0 1h0m0 1h0m0 1h0m0 2h0m0 1h0m0 3h0m0 1h0m0 1h0m0 2h0m0 3h0m0 2h0m1-33h0m0 1h0m0 4h0m0 1h0m0 3h0m0 2h0m0 1h0m0 1h0m0 1h0m0 1h0m0 2h0m0 2h0m0 1h0m0 1h0m0 1h0m0 1h0m0 1h0m0 2h0m0 1h0m1-33h0m0 2h0m0 1h0m0 5h0m0 6h0m0 1h0m0 1h0m0 1h0m0 3h0m0 1h0m0 2h0m0 11h0m0 5h0m1-37h0m0 8h0m0 4h0m0 1h0m0 1h0m0 1h0m0 1h0m0 1h0m0 1h0m0 2h0m0 1h0m0 1h0m0 1h0m0 2h0m0 1h0m0 1h0m0 1h0m0 2h0m0 1h0m0 1h0m0 3h0m0 1h0m1-34h0m0 6h0m0 2h0m0 4h0m0 1h0m0 4h0m0 1h0m0 1h0m0 1h0m0 1h0m0 2h0m0 1h0m0 2h0m0 1h0m0 1h0m0 1h0m0 4h0m0 1h0m0 10h0m1-37h0m0 3h0m0 1h0m0 1h0m0 1h0m0 3h0m0 1h0m0 7h0m0 2h0m0 3h0m0 1h0m1-27h0m0 4h0m0 2h0m0 2h0m0 2h0m0 1h0m0 4h0m0 5h0m0 3h0m0 2h0m0 1h0m0 6h0m1-32h0m0 2h0m0 4h0m0 1h0m0 3h0m0 1h0m0 1h0m0 1h0m0 3h0m0 1h0m0 3h0m0 3h0m0 1h0m0 1h0m1-35h0m0 4h0m0 1h0m0 1h0m0 2h0m0 4h0m0 2h0m0 1h0m0 3h0m0 2h0m0 1h0m0 1h0m0 1h0m0 1h0m0 2h0m0 2h0m0 5h0m1-35h0m0 3h0m0 1h0m0 10h0m0 5h0m0 1h0m0 4h0m0 1h0m0 3h0m0 1h0m0 1h0m0 1h0m0 1h0m0 4h0m0 16h0m1-48h0m0 3h0m0 5h0m0 2h0m0 1h0m0 1h0m0 1h0m0 4h0m0 3h0m0 1h0m0 1h0m0 1h0m0 1h0m0 1h0m0 1h0m0 1h0m0 5h0m0 2h0m0 7h0m1-51h0m0 20h0m0 2h0m0 1h0m0 2h0m0 3h0m0 1h0m0 1h0m0 1h0m0 1h0m0 1h0m0 1h0m0 1h0m0 5h0m0 2h0m0 4h0m1-37h0m0 10h0m0 1h0m0 2h0m0 1h0m0 3h0m0 1h0m0 5h0m0 3h0m0 2h0m0 1h0m0 2h0m0 1h0m0 2h0m0 4h0m1-40h0m0 5h0m0 2h0m0 2h0m0 5h0m0 4h0m0 1h0m0 1h0m0 8h0m0 1h0m0 1h0m0 2h0m0 1h0m1-28h0m0 8h0m0 2h0m0 1h0m0 1h0m0 3h0m0 2h0m0 3h0m0 1h0m0 1h0m0 1h0m0 4h0m0 2h0m0 8h0m0 7h0m1-49h0m0 8h0m0 4h0m0 1h0m0 1h0m0 2h0m0 1h0m0 3h0m0 2h0m0 2h0m0 3h0m0 2h0m0 6h0m0 1h0m0 1h0m0 3h0m1-36h0m0 1h0m0 3h0m0 5h0m0 1h0m0 4h0m0 2h0m0 1h0m0 1h0m0 1h0m0 4h0m0 3h0m0 4h0m0 11h0m1-50h0m0 1h0m0 5h0m0 3h0m0 2h0m0 1h0m0 5h0m0 3h0m0 6h0m0 3h0m0 5h0m0 2h0m0 4h0m0 3h0m0 1h0m1-35h0m0 2h0m0 1h0m0 4h0m0 4h0m0 4h0m0 1h0m0 6h0m0 1h0m0 6h0m0 2h0m1-30h0m0 3h0m0 2h0m0 4h0m0 1h0m0 5h0m0 1h0m0 1h0m0 6h0m0 1h0m0 3h0m0 2h0m0 11h0m1-52h0m0 6h0m0 2h0m0 7h0m0 2h0m0 2h0m0 1h0m0 1h0m0 1h0m0 1h0m0 3h0m0 1h0m0 1h0m0 1h0m0 1h0m0 3h0m0 1h0m0 2h0m0 11h0m1-48h0m0 1h0m0 4h0m0 5h0m0 2h0m0 6h0m0 1h0m0 5h0m0 1h0m0 13h0m0 1h0m0 3h0m1-39h0m0 7h0m0 3h0m0 1h0m0 2h0m0 1h0m0 1h0m0 3h0m0 1h0m0 3h0m0 2h0m0 2h0m0 3h0m0 3h0m0 1h0m0 2h0m0 8h0m1-35h0m0 2h0m0 1h0m0 2h0m0 2h0m0 3h0m0 3h0m0 3h0m0 2h0m0 2h0m0 1h0m0 13h0m0 1h0m0 4h0m1-46h0m0 5h0m0 4h0m0 6h0m0 2h0m0 5h0m0 1h0m0 3h0m0 1h0m0 3h0m0 2h0m1-36h0m0 9h0m0 2h0m0 2h0m0 5h0m0 2h0m0 3h0m0 1h0m0 2h0m0 3h0m0 1h0m0 1h0m0 2h0m0 2h0m0 6h0m1-34h0m0 1h0m0 1h0m0 4h0m0 2h0m0 2h0m0 2h0m0 3h0m0 4h0m0 3h0m0 10h0m1-46h0m0 6h0m0 6h0m0 1h0m0 5h0m0 4h0m0 1h0m0 1h0m0 1h0m0 3h0m0 1h0m0 3h0m0 1h0m0 1h0m0 1h0m0 1h0m0 1h0m0 1h0m0 4h0m0 1h0m0 2h0m1-35h0m0 8h0m0 1h0m0 1h0m0 3h0m0 1h0m0 1h0m0 1h0m0 1h0m0 1h0m0 1h0m0 3h0m0 9h0m0 3h0m0 5h0m1-47h0m0 4h0m0 12h0m0 1h0m0 3h0m0 3h0m0 2h0m0 3h0m0 1h0m0 5h0m0 2h0m0 1h0m0 5h0m1-35h0m0 4h0m0 8h0m0 2h0m0 4h0m0 1h0m0 1h0m0 1h0m0 1h0m0 1h0m0 1h0m0 2h0m0 3h0m0 2h0m0 1h0m0 6h0m1-43h0m0 8h0m0 1h0m0 9h0m0 3h0m0 1h0m0 2h0m0 2h0m0 4h0m0 5h0m0 15h0m1-45h0m0 5h0m0 2h0m0 4h0m0 9h0m0 2h0m0 5h0m0 2h0m0 2h0m0 1h0m1-18h0m0 3h0m0 1h0m0 4h0m0 1h0m0 3h0m0 1h0m0 1h0m0 3h0m1-24h0m0 3h0m0 3h0m0 1h0m0 2h0m0 1h0m0 2h0m0 2h0m0 2h0m0 1h0m0 3h0m0 7h0m0 8h0m1-60h0m0 16h0m0 7h0m0 3h0m0 3h0m0 1h0m0 4h0m0 2h0m0 1h0m0 4h0m0 1h0m0 3h0m0 1h0m0 5h0m1-41h0m0 10h0m0 4h0m0 6h0m0 1h0m0 2h0m0 1h0m0 8h0m0 4h0m0 2h0m1-34h0m0 1h0m0 2h0m0 7h0m0 5h0m0 1h0m0 2h0m0 5h0m0 1h0m0 1h0m1-26h0m0 4h0m0 7h0m0 1h0m0 1h0m0 3h0m0 1h0m0 6h0m0 6h0m0 1h0m0 6h0m1-43h0m0 9h0m0 6h0m0 4h0m0 3h0m0 1h0m0 2h0m0 2h0m0 4h0m0 2h0m0 3h0m0 3h0m0 5h0m0 7h0m1-34h0m0 1h0m0 2h0m0 1h0m0 6h0m0 5h0m0 1h0m0 4h0m0 4h0m0 2h0m0 7h0m1-54h0m0 22h0m0 3h0m0 2h0m0 4h0m0 1h0m0 8h0m0 1h0m0 6h0m1-42h0m0 5h0m0 5h0m0 6h0m0 3h0m0 2h0m0 3h0m0 4h0m0 1h0m0 39h0m1-69h0m0 1h0m0 8h0m0 2h0m0 5h0m0 1h0m0 2h0m0 2h0m0 1h0m0 1h0m0 1h0m0 2h0m0 5h0m0 2h0m0 1h0m0 1h0m0 5h0m0 7h0m0 1h0m1-47h0m0 15h0m0 1h0m0 1h0m0 3h0m0 2h0m0 5h0m0 2h0m0 1h0m0 1h0m0 3h0m1-35h0m0 3h0m0 11h0m0 4h0m0 3h0m0 13h0m0 20h0m1-41h0m0 1h0m0 1h0m0 3h0m0 1h0m0 5h0m0 2h0m0 10h0m0 5h0m1-31h0m0 2h0m0 1h0m0 3h0m0 1h0m0 2h0m0 2h0m0 6h0m0 1h0m0 4h0m0 1h0m0 7h0m1-36h0m0 1h0m0 5h0m0 3h0m0 3h0m0 7h0m0 1h0m0 7h0m0 1h0m0 5h0m1-37h0m0 7h0m0 3h0m0 2h0m0 2h0m0 1h0m0 2h0m0 1h0m0 5h0m0 1h0m0 1h0m0 1h0m0 4h0m0 1h0m0 2h0m0 1h0m1-43h0m0 15h0m0 8h0m0 2h0m0 2h0m0 3h0m0 1h0m0 7h0m0 7h0m1-33h0m0 9h0m0 3h0m0 1h0m0 1h0m0 4h0m0 1h0m0 1h0m0 1h0m0 3h0m0 2h0m0 2h0m0 11h0m0 4h0m1-61h0m0 11h0m0 7h0m0 9h0m0 5h0m0 3h0m0 1h0m0 2h0m0 7h0m0 3h0m0 8h0m1-40h0m0 5h0m0 2h0m0 2h0m0 1h0m0 10h0m0 1h0m0 1h0m0 2h0m0 2h0m0 1h0m0 5h0m0 5h0m1-32h0m0 6h0m0 3h0m0 3h0m0 5h0m0 1h0m0 1h0m0 1h0m0 1h0m0 1h0m0 8h0m0 2h0m1-40h0m0 3h0m0 3h0m0 4h0m0 3h0m0 6h0m0 9h0m0 2h0m0 4h0m0 1h0m0 3h0m0 2h0m1-28h0m0 2h0m0 6h0m0 2h0m0 1h0m0 18h0m1-44h0m0 14h0m0 1h0m0 8h0m0 4h0m0 2h0m0 1h0m0 2h0m0 12h0m1-46h0m0 4h0m0 7h0m0 8h0m0 3h0m0 2h0m0 5h0m0 3h0m0 11h0m0 2h0m1-40h0m0 3h0m0 13h0m0 5h0m0 3h0m0 1h0m0 12h0m1-40h0m0 2h0m0 7h0m0 5h0m0 9h0m0 2h0m0 5h0m0 13h0m1-39h0m0 5h0m0 7h0m0 3h0m0 6h0m0 2h0m0 1h0m0 2h0m0 7h0m0 2h0m0 3h0m0 2h0m1-41h0m0 9h0m0 3h0m0 2h0m0 3h0m0 1h0m0 2h0m0 1h0m0 2h0m1-23h0m0 4h0m0 1h0m0 2h0m0 4h0m0 2h0m0 3h0m0 2h0m0 2h0m0 1h0m0 4h0m0 1h0m0 1h0m0 9h0m0 3h0m1-31h0m0 8h0m0 2h0m0 17h0m1-31h0m0 3h0m0 5h0m0 2h0m0 3h0m0 4h0m0 2h0m0 4h0m0 2h0m1-32h0m0 1h0m0 10h0m0 8h0m0 7h0m0 11h0m1-48h0m0 14h0m0 3h0m0 5h0m0 1h0m0 1h0m0 2h0m0 11h0m0 1h0m0 12h0m1-42h0m0 5h0m0 1h0m0 2h0m0 6h0m0 3h0m0 7h0m1-37h0m0 15h0m0 13h0m0 5h0m0 5h0m0 9h0m0 2h0m1-29h0m0 1h0m0 6h0m0 2h0m0 1h0m0 2h0m0 2h0m0 5h0m0 2h0m0 2h0m0 10h0m1-36h0m0 11h0m0 3h0m0 1h0m0 1h0m0 4h0m0 1h0m0 3h0m1-26h0m0 2h0m0 4h0m0 1h0m0 9h0m0 2h0m0 3h0m0 1h0m0 1h0m0 9h0m0 9h0m1-44h0m0 6h0m0 4h0m0 18h0m0 11h0m0 1h0m1-26h0m0 1h0m0 8h0m0 1h0m0 6h0m0 15h0m1-32h0m0 1h0m0 18h0m0 12h0m1-48h0m0 9h0m0 11h0m0 19h0m1-22h0m0 10h0m0 9h0m0 18h0m1-46h0m0 4h0m0 9h0m0 15h0m1-37h0m0 9h0m0 6h0m0 3h0m0 10h0m1-21h0m0 25h0m1-16h0m0 4h0m0 11h0m1-32h0m0 18h0m0 5h0m1-34h0m0 18h0m0 5h0m0 15h0m0 2h0m0 9h0m1-38h0m0 26h0m0 1h0m0 3h0m1-40h0m0 12h0m0 2h0m0 1h0m0 2h0m0 7h0m0 7h0m0 36h0m1-52h0m0 2h0m0 9h0m0 2h0m0 2h0m0 3h0m0 3h0m0 6h0m1-36h0m0 16h0m0 10h0m1 9h0m0 3h0m0 1h0m1-33h0m0 14h0m0 9h0m1-33h0m0 30h0m0 3h0m1-35h0m0 22h0m0 6h0m0 19h0m1-33h0m0 15h0m0 18h0m1-27h0m0 3h0m0 4h0m1-13h0m0 14h0m0 7h0m0 1h0m1-23h0m0 19h0m0 17h0m1-39h0m0 9h0m0 2h0m0 17h0m1-13h0m1-21h0m0 2h0m0 22h0m0 13h0m1-39h0m0 15h0m0 8h0m0 10h0m1-25h0m0 9h0m0 8h0m0 1h0m1-11h0m0 8h0m0 12h0" stroke="#f58b7a" stroke-width="2.6" stroke-linecap="round" fill="none"/>
<path d="M162.5 505.4L164.7 504.7L166.9 504.0L169.1 503.3L171.3 502.5L173.5 501.8L175.7 501.1L177.9 500.4L180.0 499.6L182.2 498.9L184.4 498.1L186.6 497.0L188.8 495.9L191.0 494.8L193.2 493.7L195.4 492.6L197.6 491.5L199.8 490.4L202.0 489.4L204.2 488.3L206.4 487.1L208.6 485.9L210.7 484.7L212.9 483.5L215.1 482.3L217.3 481.0L219.5 479.8L221.7 478.6L223.9 477.4L226.1 476.2" fill="none" stroke="#ef7664" stroke-width="1.8" stroke-linecap="round" opacity="0.8"/>
<path d="M141.3 511.3L143.3 510.9L145.2 510.5L147.2 510.2L149.2 509.8L151.2 509.4L153.1 509.0L155.1 508.6L157.1 508.2L159.1 507.9L161.0 507.5L163.0 507.0L165.0 506.3L167.0 505.6L168.9 504.9L170.9 504.2L172.9 503.5L174.9 502.8L176.8 502.1L178.8 501.4L180.8 500.6L182.7 499.9L184.7 499.1L186.7 498.1L188.7 497.1L190.6 496.0L192.6 495.0L194.6 494.0L196.6 493.0L198.5 492.0" fill="none" stroke="#9fb4d4" stroke-width="1.6" stroke-linecap="round" opacity="0.9"/>
<rect x="136.90" y="461.40" width="93.00" height="57.80" fill="none" stroke="#555" stroke-width="0.7" />
<path d="M141.30 519.20v2.4M162.50 519.20v2.4M183.70 519.20v2.4M204.90 519.20v2.4M226.10 519.20v2.4" fill="none" stroke="#444" stroke-width="0.6" />
<text x="183.40" y="458.70" font-size="7.6" text-anchor="middle" font-style="italic">sfRNA1</text>
<path d="M34.2 564.7L37.0 564.3L39.7 563.9L42.5 563.5L45.2 563.1L48.0 562.7L50.8 562.4L53.5 562.0L53.5 582.2L50.8 582.6L48.0 582.9L45.2 583.3L42.5 583.7L39.7 584.1L37.0 584.5L34.2 584.8Z" fill="#cdd7e8" filter="url(#soft1)" opacity="0.75"/>
<path d="M55.4 549.8L59.6 549.8L63.8 549.8L68.0 549.7L72.2 549.7L76.4 549.7L80.6 550.6L84.8 551.5L89.0 552.4L93.2 553.3L93.2 575.2L89.0 573.8L84.8 572.4L80.6 571.0L76.4 569.5L72.2 569.0L68.0 568.5L63.8 568.0L59.6 567.6L55.4 567.1Z" fill="#f9bbb1" filter="url(#soft1)" opacity="0.75"/>
<path transform="scale(0.5) translate(.5 .5)" d="M66 1142h0m0 9h0m0 29h0m1-86h0m0 34h0m0 11h0m0 2h0m0 11h0m0 7h0m0 3h0m0 3h0m0 1h0m0 8h0m1-75h0m0 19h0m0 4h0m0 4h0m0 8h0m0 3h0m0 1h0m0 2h0m0 13h0m0 4h0m0 3h0m0 4h0m0 2h0m0 2h0m0 1h0m1-50h0m0 2h0m0 7h0m0 5h0m0 3h0m0 2h0m0 1h0m0 8h0m0 3h0m0 2h0m0 1h0m0 1h0m0 1h0m0 1h0m0 3h0m0 2h0m0 3h0m0 2h0m0 3h0m0 17h0m1-69h0m0 4h0m0 2h0m0 7h0m0 1h0m0 3h0m0 3h0m0 1h0m0 6h0m0 1h0m0 1h0m0 1h0m0 1h0m0 6h0m0 1h0m0 1h0m0 1h0m0 23h0m1-75h0m0 9h0m0 10h0m0 8h0m0 6h0m0 2h0m0 3h0m0 2h0m0 2h0m0 1h0m0 1h0m0 2h0m0 3h0m0 3h0m0 4h0m0 4h0m0 2h0m0 2h0m0 2h0m0 3h0m0 1h0m0 1h0m1-64h0m0 6h0m0 3h0m0 7h0m0 6h0m0 1h0m0 1h0m0 3h0m0 2h0m0 1h0m0 2h0m0 1h0m0 4h0m0 3h0m0 1h0m0 1h0m0 4h0m0 8h0m0 4h0m1-58h0m0 3h0m0 8h0m0 10h0m0 1h0m0 7h0m0 1h0m0 1h0m0 7h0m0 1h0m0 1h0m0 3h0m0 6h0m0 3h0m0 8h0m0 3h0m1-73h0m0 27h0m0 3h0m0 2h0m0 6h0m0 3h0m0 2h0m0 2h0m0 2h0m0 1h0m0 2h0m0 4h0m0 4h0m0 2h0m0 5h0m0 3h0m0 1h0m0 2h0m1-51h0m0 7h0m0 9h0m0 6h0m0 1h0m0 1h0m0 1h0m0 1h0m0 4h0m0 5h0m0 11h0m0 5h0m0 2h0m1-63h0m0 3h0m0 7h0m0 5h0m0 7h0m0 2h0m0 1h0m0 3h0m0 1h0m0 4h0m0 5h0m0 1h0m0 3h0m0 3h0m0 1h0m0 3h0m0 3h0m0 2h0m0 1h0m0 1h0m0 9h0m0 1h0m0 5h0m0 1h0m1-61h0m0 1h0m0 2h0m0 5h0m0 6h0m0 3h0m0 5h0m0 2h0m0 2h0m0 3h0m0 5h0m0 2h0m0 3h0m0 16h0m0 5h0m1-67h0m0 9h0m0 1h0m0 9h0m0 3h0m0 1h0m0 3h0m0 3h0m0 1h0m0 8h0m0 1h0m0 1h0m0 2h0m0 2h0m0 14h0m1-59h0m0 2h0m0 4h0m0 4h0m0 1h0m0 8h0m0 2h0m0 3h0m0 1h0m0 2h0m0 3h0m0 4h0m0 3h0m0 1h0m0 3h0m0 2h0m0 2h0m0 4h0m0 14h0m1-66h0m0 1h0m0 2h0m0 1h0m0 4h0m0 2h0m0 1h0m0 1h0m0 4h0m0 1h0m0 1h0m0 1h0m0 1h0m0 7h0m0 3h0m0 7h0m0 1h0m0 1h0m0 4h0m0 1h0m0 1h0m0 1h0m0 1h0m0 1h0m0 2h0m0 3h0m0 5h0m0 4h0m0 1h0m0 10h0m0 1h0m1-77h0m0 25h0m0 4h0m0 1h0m0 3h0m0 2h0m0 1h0m0 2h0m0 3h0m0 2h0m0 4h0m0 2h0m0 1h0m0 5h0m0 4h0m0 3h0m0 2h0m0 8h0m1-73h0m0 6h0m0 3h0m0 7h0m0 10h0m0 3h0m0 2h0m0 1h0m0 4h0m0 2h0m0 4h0m0 1h0m0 1h0m0 1h0m0 4h0m0 3h0m0 1h0m0 4h0m0 1h0m0 8h0m1-58h0m0 3h0m0 7h0m0 6h0m0 3h0m0 1h0m0 7h0m0 3h0m0 1h0m0 6h0m0 1h0m0 1h0m0 1h0m0 1h0m0 11h0m1-70h0m0 15h0m0 12h0m0 1h0m0 7h0m0 1h0m0 2h0m0 6h0m0 3h0m0 1h0m0 11h0m0 3h0m0 3h0m0 2h0m0 2h0m0 14h0m1-60h0m0 1h0m0 2h0m0 13h0m0 5h0m0 1h0m0 10h0m0 10h0m0 2h0m0 2h0m0 6h0m0 3h0m0 5h0m1-60h0m0 11h0m0 6h0m0 1h0m0 1h0m0 4h0m0 1h0m0 1h0m0 1h0m0 5h0m0 3h0m0 1h0m0 1h0m0 5h0m0 6h0m1-46h0m0 2h0m0 4h0m0 2h0m0 3h0m0 3h0m0 4h0m0 1h0m0 4h0m0 1h0m0 1h0m0 3h0m0 2h0m0 1h0m0 2h0m0 1h0m0 1h0m0 2h0m0 10h0m0 1h0m1-56h0m0 15h0m0 2h0m0 2h0m0 1h0m0 4h0m0 2h0m0 3h0m0 1h0m0 7h0m0 5h0m0 1h0m0 1h0m0 4h0m0 5h0m0 5h0m1-69h0m0 19h0m0 2h0m0 1h0m0 3h0m0 5h0m0 1h0m0 3h0m0 3h0m0 3h0m0 1h0m0 4h0m0 4h0m0 5h0m0 12h0m0 1h0m0 3h0m1-52h0m0 2h0m0 4h0m0 10h0m0 1h0m0 5h0m0 1h0m0 1h0m0 1h0m0 2h0m0 1h0m0 1h0m0 2h0m0 1h0m0 5h0m0 7h0m0 7h0m0 3h0m1-57h0m0 1h0m0 4h0m0 2h0m0 4h0m0 9h0m0 2h0m0 5h0m0 3h0m0 1h0m0 1h0m0 3h0m0 2h0m0 2h0m0 3h0m0 3h0m0 10h0m0 3h0m0 2h0m0 3h0m1-86h0m0 24h0m0 9h0m0 1h0m0 2h0m0 1h0m0 1h0m0 7h0m0 4h0m0 2h0m0 2h0m0 2h0m0 1h0m0 4h0m0 4h0m0 6h0m0 5h0m0 1h0m0 2h0m1-82h0m0 12h0m0 8h0m0 9h0m0 4h0m0 2h0m0 9h0m0 4h0m0 3h0m0 1h0m0 1h0m0 1h0m0 1h0m0 12h0m0 8h0m1-51h0m0 9h0m0 2h0m0 3h0m0 3h0m0 1h0m0 2h0m0 1h0m0 1h0m0 2h0m0 2h0m0 1h0m0 4h0m0 2h0m0 2h0m0 1h0m0 1h0m0 5h0m0 1h0m0 2h0m0 2h0m0 2h0m0 11h0m0 5h0m0 4h0m1-67h0m0 2h0m0 1h0m0 1h0m0 3h0m0 2h0m0 10h0m0 2h0m0 2h0m0 1h0m0 5h0m0 1h0m0 4h0m0 5h0m0 1h0m0 2h0m0 5h0m0 2h0m0 9h0m1-63h0m0 13h0m0 3h0m0 4h0m0 2h0m0 4h0m0 2h0m0 1h0m0 2h0m0 4h0m0 2h0m0 1h0m0 1h0m0 2h0m0 2h0m0 7h0m0 3h0m0 3h0m1-68h0m0 16h0m0 5h0m0 8h0m0 6h0m0 2h0m0 1h0m0 1h0m0 2h0m0 5h0m0 1h0m0 1h0m0 2h0m0 7h0m0 1h0m0 3h0m0 1h0m0 1h0m0 1h0m0 9h0m1-65h0m0 6h0m0 10h0m0 9h0m0 4h0m0 4h0m0 1h0m0 1h0m0 3h0m0 1h0m0 2h0m0 1h0m0 2h0m0 1h0m0 3h0m0 7h0m0 4h0m0 4h0m1-77h0m0 18h0m0 2h0m0 6h0m0 5h0m0 1h0m0 19h0m0 1h0m0 2h0m0 5h0m0 3h0m0 5h0m0 2h0m0 8h0m0 3h0m1-59h0m0 3h0m0 8h0m0 4h0m0 4h0m0 6h0m0 2h0m0 2h0m0 1h0m0 3h0m0 1h0m0 1h0m0 7h0m0 1h0m0 3h0m0 5h0m0 1h0m0 1h0m0 1h0m0 6h0m1-59h0m0 3h0m0 5h0m0 5h0m0 1h0m0 5h0m0 1h0m0 1h0m0 1h0m0 4h0m0 4h0m0 4h0m0 2h0m0 2h0m0 2h0m0 7h0m1-51h0m0 1h0m0 3h0m0 13h0m0 6h0m0 3h0m0 2h0m0 2h0m0 1h0m0 5h0m0 2h0m0 3h0m0 4h0m0 1h0m0 1h0m0 3h0m0 6h0m0 3h0m0 2h0m1-58h0m0 1h0m0 3h0m0 3h0m0 6h0m0 6h0m0 1h0m0 2h0m0 2h0m0 1h0m0 7h0m0 2h0m0 2h0m0 3h0m0 6h0m0 8h0m0 9h0m1-77h0m0 10h0m0 5h0m0 4h0m0 3h0m0 8h0m0 2h0m0 2h0m0 2h0m0 1h0m0 2h0m0 4h0m0 1h0m0 1h0m0 4h0m0 4h0m0 2h0m0 1h0m0 4h0m0 1h0m0 1h0m0 2h0m0 2h0m0 2h0m0 1h0m0 6h0m0 9h0m1-76h0m0 2h0m0 10h0m0 7h0m0 7h0m0 4h0m0 4h0m0 4h0m0 1h0m0 2h0m0 2h0m0 1h0m0 1h0m0 1h0m0 3h0m0 4h0m0 13h0m1-73h0m0 10h0m0 6h0m0 11h0m0 1h0m0 2h0m0 6h0m0 1h0m0 1h0m0 1h0m0 1h0m0 4h0m0 1h0m0 1h0m0 1h0m0 4h0m0 4h0m0 3h0m0 4h0m0 2h0m0 4h0m1-61h0m0 2h0m0 3h0m0 8h0m0 13h0m0 1h0m0 7h0m0 1h0m0 7h0m0 1h0m0 4h0m0 9h0m0 3h0m0 1h0m0 3h0m0 14h0m1-61h0m0 4h0m0 1h0m0 2h0m0 4h0m0 4h0m0 14h0m0 4h0m0 1h0m0 18h0m1-7h0m1-29h0m0 1h0m1-11h0m0 9h0m1 2h0m0 14h0m1-5h0m1-1h0m1 5h0m0 1h0m4-22h0m1-9h0m1 12h0m0 7h0m3 2h0m2-4h0m0 17h0m1-31h0m0 18h0m1 7h0m2-23h0m1 3h0m0 2h0m1-1h0m0 22h0m0 10h0m0 8h0m2-32h0m1-10h0m0 5h0m5-21h0m1-7h0m0 37h0m2 5h0m1-1h0m1-35h0m2 3h0m1 42h0m2-18h0m0 28h0m1-23h0m2-16h0m0 32h0m0 1h0m0 6h0m1-23h0m2-30h0m1 48h0m1-33h0m2 1h0m1 13h0m1-10h0m0 8h0m1 4h0m0 3h0m0 14h0m1-53h0m0 20h0m2-6h0m0 49h0m1-69h0m0 25h0m1-16h0m1 23h0m0 1h0m0 19h0m0 11h0m0 15h0m1-54h0m0 9h0m0 8h0m1 0h0m1-24h0m0 25h0m1-9h0m0 4h0m0 6h0m2-4h0m1 12h0m1-17h0m0 31h0m0 15h0m1-48h0m1-23h0m0 13h0m0 21h0m2-18h0m0 19h0m1-36h0m0 28h0m1-13h0m0 22h0m3-23h0m0 37h0m4-11h0" stroke="#b9c7df" stroke-width="2.6" stroke-linecap="round" fill="none"/>
<path transform="scale(0.5) translate(.5 .5)" d="M107 1085h0m0 37h0m1-42h0m0 8h0m0 5h0m0 3h0m0 2h0m0 5h0m0 7h0m0 5h0m0 2h0m0 1h0m0 6h0m0 4h0m0 6h0m1-47h0m0 12h0m0 3h0m0 2h0m0 3h0m0 4h0m0 6h0m0 7h0m0 4h0m0 6h0m0 10h0m1-56h0m0 6h0m0 10h0m0 5h0m0 8h0m0 3h0m0 3h0m0 1h0m0 4h0m0 1h0m0 3h0m0 8h0m1-45h0m0 8h0m0 2h0m0 4h0m0 1h0m0 1h0m0 12h0m0 4h0m0 6h0m0 1h0m0 3h0m0 1h0m0 2h0m0 10h0m1-50h0m0 3h0m0 10h0m0 2h0m0 1h0m0 1h0m0 1h0m0 1h0m0 3h0m0 5h0m0 1h0m0 3h0m0 2h0m0 3h0m1-41h0m0 9h0m0 2h0m0 3h0m0 2h0m0 2h0m0 3h0m0 1h0m0 1h0m0 2h0m0 1h0m0 3h0m0 1h0m0 1h0m0 1h0m0 1h0m0 3h0m0 4h0m0 12h0m0 1h0m1-65h0m0 6h0m0 13h0m0 7h0m0 4h0m0 2h0m0 1h0m0 1h0m0 2h0m0 2h0m0 2h0m0 1h0m0 6h0m0 2h0m0 4h0m0 2h0m0 8h0m1-64h0m0 4h0m0 15h0m0 2h0m0 2h0m0 1h0m0 2h0m0 2h0m0 2h0m0 4h0m0 1h0m0 2h0m0 5h0m0 1h0m0 8h0m0 3h0m0 1h0m0 28h0m1-75h0m0 6h0m0 1h0m0 2h0m0 2h0m0 1h0m0 1h0m0 1h0m0 2h0m0 1h0m0 3h0m0 2h0m0 1h0m0 1h0m0 4h0m0 4h0m0 1h0m0 4h0m0 3h0m0 10h0m0 1h0m0 2h0m0 7h0m1-47h0m0 1h0m0 1h0m0 1h0m0 3h0m0 1h0m0 1h0m0 6h0m0 2h0m0 4h0m0 2h0m0 2h0m0 2h0m0 2h0m0 4h0m0 1h0m0 1h0m0 5h0m1-58h0m0 9h0m0 8h0m0 2h0m0 1h0m0 3h0m0 7h0m0 3h0m0 1h0m0 1h0m0 1h0m0 1h0m1-29h0m0 3h0m0 4h0m0 2h0m0 2h0m0 2h0m0 2h0m0 1h0m0 7h0m0 1h0m0 3h0m0 1h0m0 1h0m0 3h0m0 1h0m0 1h0m0 2h0m0 4h0m0 4h0m0 1h0m0 11h0m0 12h0m1-66h0m0 1h0m0 1h0m0 4h0m0 5h0m0 1h0m0 6h0m0 3h0m0 1h0m0 1h0m0 6h0m0 1h0m0 1h0m0 5h0m0 5h0m0 1h0m0 8h0m0 2h0m1-63h0m0 4h0m0 2h0m0 4h0m0 3h0m0 7h0m0 3h0m0 1h0m0 3h0m0 1h0m0 2h0m0 1h0m0 2h0m0 1h0m0 1h0m0 1h0m0 1h0m0 11h0m0 3h0m0 4h0m1-56h0m0 5h0m0 11h0m0 2h0m0 3h0m0 4h0m0 1h0m0 1h0m0 1h0m0 10h0m0 1h0m0 1h0m0 15h0m0 1h0m0 1h0m0 11h0m1-60h0m0 1h0m0 1h0m0 1h0m0 1h0m0 4h0m0 1h0m0 5h0m0 1h0m0 2h0m0 2h0m0 4h0m0 2h0m0 11h0m0 5h0m0 4h0m0 3h0m0 1h0m0 2h0m0 4h0m0 1h0m0 8h0m1-63h0m0 12h0m0 2h0m0 3h0m0 1h0m0 1h0m0 5h0m0 1h0m0 3h0m0 6h0m0 2h0m0 2h0m0 2h0m0 3h0m0 1h0m0 3h0m0 7h0m0 9h0m0 6h0m0 2h0m1-84h0m0 17h0m0 6h0m0 5h0m0 11h0m0 1h0m0 1h0m0 2h0m0 4h0m0 2h0m0 5h0m0 5h0m0 2h0m0 3h0m0 19h0m1-75h0m0 15h0m0 4h0m0 1h0m0 1h0m0 4h0m0 1h0m0 3h0m0 1h0m0 3h0m0 1h0m0 2h0m0 6h0m0 1h0m0 4h0m0 2h0m0 1h0m0 3h0m0 8h0m0 1h0m0 2h0m0 8h0m0 4h0m1-84h0m0 3h0m0 11h0m0 4h0m0 6h0m0 2h0m0 6h0m0 2h0m0 2h0m0 2h0m0 1h0m0 1h0m0 2h0m0 1h0m0 1h0m0 1h0m0 1h0m0 4h0m0 1h0m0 6h0m0 1h0m0 3h0m1-49h0m0 2h0m0 1h0m0 5h0m0 2h0m0 7h0m0 5h0m0 1h0m0 1h0m0 3h0m0 1h0m0 1h0m0 1h0m0 4h0m0 1h0m0 4h0m0 2h0m0 1h0m0 2h0m0 2h0m0 1h0m0 4h0m0 3h0m0 6h0m0 9h0m0 2h0m1-64h0m0 1h0m0 1h0m0 3h0m0 8h0m0 2h0m0 1h0m0 6h0m0 1h0m0 2h0m0 5h0m0 3h0m0 7h0m0 21h0m1-73h0m0 4h0m0 8h0m0 1h0m0 4h0m0 11h0m0 7h0m0 2h0m0 2h0m0 1h0m0 2h0m0 6h0m0 2h0m0 3h0m0 1h0m0 17h0m1-60h0m0 1h0m0 2h0m0 7h0m0 2h0m0 2h0m0 3h0m0 5h0m0 2h0m0 1h0m0 7h0m0 1h0m0 1h0m0 6h0m0 1h0m0 3h0m0 5h0m0 3h0m0 11h0m1-78h0m0 12h0m0 6h0m0 3h0m0 1h0m0 1h0m0 1h0m0 1h0m0 1h0m0 7h0m0 1h0m0 1h0m0 3h0m0 1h0m0 1h0m0 1h0m0 4h0m0 4h0m0 3h0m0 2h0m1-50h0m0 1h0m0 8h0m0 1h0m0 2h0m0 3h0m0 2h0m0 11h0m0 6h0m0 4h0m0 1h0m0 3h0m0 7h0m0 10h0m1-57h0m0 7h0m0 3h0m0 2h0m0 1h0m0 1h0m0 7h0m0 4h0m0 3h0m0 3h0m0 1h0m0 3h0m0 2h0m0 2h0m0 1h0m0 4h0m0 27h0m1-61h0m0 2h0m0 11h0m0 8h0m0 1h0m0 2h0m0 6h0m0 1h0m0 1h0m0 3h0m0 1h0m0 5h0m0 6h0m0 22h0m1-80h0m0 14h0m0 2h0m0 1h0m0 1h0m0 3h0m0 2h0m0 2h0m0 7h0m0 1h0m0 2h0m0 1h0m0 6h0m0 1h0m0 3h0m0 3h0m0 3h0m0 3h0m0 16h0m1-70h0m0 5h0m0 3h0m0 2h0m0 1h0m0 1h0m0 1h0m0 2h0m0 3h0m0 1h0m0 2h0m0 8h0m0 1h0m0 2h0m0 4h0m0 1h0m0 2h0m0 6h0m0 6h0m0 5h0m0 1h0m0 3h0m1-55h0m0 8h0m0 5h0m0 1h0m0 1h0m0 1h0m0 2h0m0 5h0m0 2h0m0 1h0m0 1h0m0 2h0m0 1h0m0 1h0m0 7h0m0 1h0m0 1h0m0 1h0m0 3h0m0 4h0m0 1h0m0 5h0m0 5h0m1-70h0m0 15h0m0 5h0m0 3h0m0 3h0m0 6h0m0 2h0m0 2h0m0 1h0m0 7h0m0 1h0m0 1h0m0 1h0m0 11h0m0 12h0m1-62h0m0 3h0m0 5h0m0 5h0m0 4h0m0 2h0m0 3h0m0 2h0m0 4h0m0 10h0m0 3h0m0 1h0m0 2h0m0 2h0m0 7h0m0 2h0m0 5h0m1-50h0m0 4h0m0 4h0m0 1h0m0 1h0m0 2h0m0 2h0m0 1h0m0 1h0m0 1h0m0 2h0m0 4h0m0 5h0m0 3h0m0 14h0m0 18h0m1-78h0m0 15h0m0 4h0m0 6h0m0 1h0m0 1h0m0 6h0m0 7h0m0 2h0m0 3h0m0 2h0m0 5h0m0 2h0m0 1h0m0 1h0m0 1h0m0 24h0m1-85h0m0 12h0m0 7h0m0 2h0m0 5h0m0 1h0m0 13h0m0 3h0m0 1h0m0 1h0m0 2h0m0 2h0m0 5h0m0 1h0m0 1h0m0 1h0m0 2h0m0 4h0m0 6h0m1-64h0m0 8h0m0 2h0m0 17h0m0 1h0m0 3h0m0 1h0m0 5h0m0 2h0m0 2h0m0 1h0m0 3h0m0 1h0m0 3h0m0 19h0m0 1h0m0 4h0m0 10h0m1-78h0m0 15h0m0 6h0m0 1h0m0 2h0m0 1h0m0 3h0m0 4h0m0 1h0m0 7h0m0 2h0m0 1h0m0 13h0m0 3h0m0 1h0m0 2h0m0 11h0m1-64h0m0 1h0m0 1h0m0 3h0m0 4h0m0 4h0m0 2h0m0 1h0m0 3h0m0 5h0m0 1h0m0 5h0m0 17h0m1-49h0m0 6h0m0 6h0m0 6h0m0 1h0m0 2h0m0 2h0m0 2h0m0 7h0m0 3h0m0 3h0m0 2h0m0 19h0m0 3h0m1-76h0m0 2h0m0 4h0m0 3h0m0 3h0m0 3h0m0 1h0m0 5h0m0 5h0m0 3h0m0 8h0m0 1h0m0 1h0m0 1h0m0 1h0m0 3h0m0 7h0m0 3h0m0 4h0m0 2h0m0 9h0m1-56h0m0 6h0m0 2h0m0 2h0m0 3h0m0 3h0m0 3h0m0 1h0m0 5h0m0 1h0m0 1h0m0 2h0m0 1h0m0 4h0m0 8h0m0 10h0m0 3h0m1-52h0m0 3h0m0 8h0m0 10h0m0 1h0m0 4h0m0 7h0m0 2h0m0 11h0m0 3h0m0 3h0m1-59h0m0 8h0m0 5h0m0 3h0m0 3h0m0 1h0m0 1h0m0 13h0m0 2h0m0 4h0m0 7h0m0 1h0m0 1h0m0 1h0m0 3h0m1-53h0m0 4h0m0 6h0m0 2h0m0 2h0m0 3h0m0 2h0m0 12h0m0 1h0m0 2h0m0 13h0m0 7h0m0 4h0m0 5h0m1-73h0m0 13h0m0 10h0m0 9h0m0 6h0m0 5h0m0 1h0m0 2h0m0 2h0m0 1h0m0 1h0m0 1h0m0 2h0m0 3h0m0 18h0m1-61h0m0 5h0m0 11h0m0 1h0m0 1h0m0 10h0m0 1h0m0 4h0m0 3h0m0 20h0m0 6h0m1-77h0m0 24h0m0 3h0m0 4h0m0 3h0m0 1h0m0 5h0m0 3h0m0 3h0m0 3h0m0 4h0m0 20h0m0 3h0m0 10h0m1-80h0m0 2h0m0 16h0m0 8h0m0 2h0m0 2h0m0 6h0m0 1h0m0 8h0m0 1h0m0 5h0m0 8h0m1-62h0m0 15h0m0 13h0m0 1h0m0 2h0m0 2h0m0 2h0m0 1h0m0 24h0m0 1h0m0 11h0m0 9h0m1-77h0m0 3h0m0 8h0m0 9h0m0 9h0m0 1h0m0 3h0m0 4h0m0 5h0m0 6h0m0 10h0m0 11h0m1-61h0m0 9h0m0 5h0m0 1h0m0 2h0m0 5h0m0 3h0m0 3h0m0 3h0m0 1h0m0 1h0m0 2h0m0 11h0m0 15h0m1-70h0m0 29h0m0 1h0m0 1h0m0 3h0m0 3h0m0 6h0m0 5h0m0 2h0m0 5h0m0 5h0m0 16h0m1-63h0m0 1h0m0 1h0m0 4h0m0 1h0m0 8h0m0 2h0m0 1h0m0 4h0m0 1h0m0 2h0m0 9h0m0 2h0m0 1h0m0 11h0m0 17h0m0 4h0m1-79h0m0 7h0m0 11h0m0 3h0m0 14h0m0 7h0m0 7h0m0 2h0m0 4h0m0 1h0m0 2h0m0 2h0m0 7h0m0 9h0m1-77h0m0 1h0m0 17h0m0 1h0m0 3h0m0 3h0m0 1h0m0 1h0m0 5h0m0 4h0m0 4h0m0 12h0m0 8h0m0 5h0m0 3h0m1-63h0m0 1h0m0 5h0m0 2h0m0 16h0m0 1h0m0 1h0m0 4h0m0 2h0m0 1h0m0 3h0m0 4h0m0 4h0m0 1h0m0 11h0m0 10h0m1-68h0m0 5h0m0 7h0m0 1h0m0 18h0m0 2h0m0 2h0m0 3h0m0 2h0m0 4h0m0 10h0m0 3h0m1-54h0m0 10h0m0 1h0m0 2h0m0 2h0m0 2h0m0 7h0m0 4h0m0 1h0m0 3h0m0 1h0m0 3h0m0 1h0m0 12h0m0 5h0m1-63h0m0 6h0m0 9h0m0 9h0m0 3h0m0 3h0m0 8h0m0 3h0m0 5h0m0 1h0m0 12h0m0 6h0m0 1h0m0 2h0m1-75h0m0 15h0m0 2h0m0 1h0m0 4h0m0 6h0m0 1h0m0 8h0m0 4h0m0 1h0m0 2h0m0 11h0m0 2h0m0 1h0m0 9h0m0 6h0m0 8h0m0 15h0m1-97h0m0 19h0m0 2h0m0 5h0m0 2h0m0 8h0m0 3h0m0 1h0m0 15h0m0 1h0m0 9h0m0 2h0m0 20h0m1-65h0m0 4h0m0 2h0m0 4h0m0 2h0m0 2h0m0 1h0m0 2h0m0 5h0m0 7h0m0 1h0m0 2h0m0 5h0m0 8h0m1-48h0m0 5h0m0 4h0m0 6h0m0 3h0m0 11h0m0 2h0m0 1h0m0 3h0m0 6h0m0 1h0m0 7h0m0 6h0m0 1h0m0 20h0m1-71h0m0 4h0m0 1h0m0 2h0m0 4h0m0 8h0m0 4h0m0 1h0m0 1h0m0 1h0m0 1h0m0 2h0m0 11h0m0 4h0m1-53h0m0 17h0m0 4h0m0 4h0m0 1h0m0 2h0m0 1h0m0 6h0m0 8h0m0 1h0m0 1h0m0 6h0m0 6h0m0 10h0m1-67h0m0 3h0m0 6h0m0 4h0m0 11h0m0 3h0m0 6h0m0 12h0m0 6h0m0 3h0m0 12h0m0 18h0m1-90h0m0 23h0m0 8h0m0 1h0m0 1h0m0 1h0m0 4h0m0 8h0m0 3h0m0 1h0m0 2h0m0 1h0m0 7h0m0 4h0m0 15h0m1-71h0m0 3h0m0 3h0m0 7h0m0 4h0m0 1h0m0 5h0m0 3h0m0 5h0m0 6h0m0 2h0m0 1h0m0 5h0m0 2h0m0 1h0m0 9h0m0 1h0m1-54h0m0 3h0m0 11h0m0 3h0m0 3h0m0 1h0m0 4h0m0 1h0m0 2h0m0 4h0m0 1h0m0 2h0m0 1h0m0 1h0m0 1h0m0 6h0m0 7h0m0 1h0m0 8h0m0 8h0m1-60h0m0 4h0m0 2h0m0 4h0m0 2h0m0 7h0m0 1h0m0 2h0m0 9h0m0 2h0m0 2h0m0 13h0m0 4h0m0 1h0m0 6h0m1-74h0m0 3h0m0 1h0m0 5h0m0 3h0m0 7h0m0 6h0m0 1h0m0 8h0m0 5h0m0 2h0m0 4h0m0 6h0m0 6h0m0 2h0m0 17h0m1-67h0m0 13h0m0 4h0m0 3h0m0 1h0m0 1h0m0 2h0m0 5h0m0 4h0m0 4h0m0 1h0m0 1h0m0 1h0m0 5h0m1-47h0m0 1h0m0 7h0m0 11h0m0 3h0m0 2h0m0 1h0m0 7h0m0 4h0m0 11h0m0 13h0m1-77h0m0 29h0m0 10h0m0 2h0m0 2h0m0 1h0m0 5h0m0 2h0m0 1h0m0 2h0m0 1h0m0 1h0m0 4h0m0 10h0m1-62h0m0 11h0m0 3h0m0 1h0m0 4h0m0 6h0m0 11h0m0 2h0m0 4h0m0 1h0m0 2h0m0 6h0m0 4h0m0 4h0m1-64h0m0 1h0m0 2h0m0 8h0m0 4h0m0 14h0m0 5h0m0 5h0m0 2h0m0 8h0m0 3h0m0 2h0m0 6h0m0 3h0m0 6h0m0 12h0m0 4h0m0 3h0m1-72h0m0 3h0m0 9h0m0 2h0m0 1h0m0 4h0m0 3h0m0 6h0m0 4h0m0 10h0m0 1h0m0 3h0m0 3h0m0 2h0m0 14h0m0 17h0m1-93h0m0 3h0m0 33h0m0 2h0m0 11h0m0 12h0m1-55h0m0 2h0m0 1h0m0 1h0m0 7h0m0 13h0m0 9h0m0 22h0m0 5h0m0 7h0m0 2h0m1-72h0m0 10h0m0 4h0m0 2h0m0 2h0m0 3h0m0 2h0m0 16h0m0 2h0m0 5h0m0 5h0m0 4h0m0 4h0m0 3h0m0 15h0m1-74h0m0 6h0m0 9h0m0 4h0m0 2h0m0 2h0m0 1h0m0 5h0m0 6h0m0 2h0m0 1h0m0 5h0m0 8h0m0 8h0m0 2h0m0 1h0m0 4h0m0 6h0m1-72h0m0 1h0m0 1h0m0 16h0m0 2h0m0 3h0m0 3h0m0 5h0m0 1h0m0 8h0m0 2h0m0 3h0m0 21h0m1-51h0m0 3h0m0 6h0m0 3h0m0 6h0m0 8h0m0 1h0m0 1h0m1-38h0m0 5h0m0 3h0m0 4h0m0 17h0m0 19h0m0 1h0m0 12h0m1-61h0m0 1h0m0 16h0m0 4h0m0 5h0m0 2h0m0 3h0m0 2h0m0 2h0m0 3h0m0 7h0m0 11h0m0 14h0m1-73h0m0 4h0m0 4h0m0 2h0m0 1h0m0 3h0m0 2h0m0 2h0m0 7h0m0 1h0m0 1h0m0 22h0m0 5h0m0 29h0m1-74h0m0 18h0m0 2h0m0 3h0m0 5h0m0 37h0m0 1h0m0 12h0m1-76h0m0 1h0m0 13h0m0 6h0m0 6h0m0 11h0m0 13h0m1-51h0m0 1h0m0 5h0m0 2h0m0 2h0m0 10h0m0 6h0m0 2h0m0 12h0m0 9h0m1-54h0m0 17h0m0 8h0m0 2h0m0 2h0m0 5h0m0 10h0m0 6h0m0 14h0m0 1h0m1-68h0m0 6h0m0 29h0m0 2h0m0 2h0m0 12h0m0 7h0m1-46h0m0 7h0m0 8h0m0 9h0m0 7h0m0 1h0m1-40h0m0 16h0m0 5h0m0 13h0m0 1h0m0 1h0m0 8h0m0 3h0m0 4h0m0 14h0m1-65h0m0 9h0m0 1h0m0 12h0m0 5h0m0 3h0m0 8h0m0 12h0m1-40h0m0 2h0m0 2h0m0 3h0m0 4h0m0 12h0m0 11h0m0 5h0m1-32h0m0 12h0m0 4h0m0 13h0m0 1h0m1-45h0m0 11h0m0 6h0m0 9h0m0 3h0m0 4h0m0 6h0m0 6h0m0 4h0m0 3h0m1-59h0m0 15h0m0 5h0m0 2h0m0 20h0m0 24h0m1-60h0m0 5h0m0 8h0m0 5h0m0 10h0m0 12h0m0 3h0m0 3h0m1-56h0m0 16h0m0 16h0m0 1h0m0 8h0m0 1h0m0 3h0m0 6h0m0 13h0m0 1h0m0 3h0m1-52h0m0 18h0m0 54h0m0 3h0m1-78h0m0 9h0m0 1h0m0 1h0m0 4h0m0 4h0m0 18h0m0 16h0m1-58h0m0 12h0m0 16h0m0 1h0m0 13h0m0 3h0m0 5h0m0 8h0m0 17h0m1-53h0m0 38h0m1-66h0m0 13h0m0 18h0m0 1h0m0 15h0m0 7h0m0 9h0m0 12h0m1-47h0m0 4h0m0 2h0m0 5h0m0 4h0m0 8h0m1-54h0m0 14h0m0 6h0m0 6h0m0 17h0m0 9h0m0 11h0m0 6h0m0 11h0m1-14h0m1-48h0m0 14h0m0 6h0m0 2h0m2-52h0m0 24h0m0 25h0m0 2h0m0 8h0m1-23h0m0 13h0m0 9h0m0 16h0m0 14h0m1-75h0m0 2h0m0 36h0m0 1h0m0 7h0m0 5h0m0 6h0m0 6h0m0 5h0m1-43h0m0 2h0m0 7h0m0 6h0m0 37h0m1-27h0m0 18h0m0 11h0m1-87h0m0 56h0m0 13h0m1-49h0m0 38h0m0 6h0m0 4h0m0 4h0m0 1h0m1-25h0m0 6h0m1-41h0m0 17h0m0 23h0m0 2h0m0 9h0m0 4h0m1-51h0m0 5h0m0 51h0m0 1h0m1-41h0m1-25h0m0 57h0m1-20h0m0 17h0m2-22h0m0 32h0m1-36h0m1 15h0m1-28h0" stroke="#f58b7a" stroke-width="2.6" stroke-linecap="round" fill="none"/>
<path d="M55.0 558.4L57.2 558.5L59.4 558.7L61.6 558.8L63.8 558.9L66.0 559.0L68.2 559.1L70.4 559.3L72.5 559.4L74.7 559.5L76.9 559.8L79.1 560.4L81.3 561.0L83.5 561.6L85.7 562.2L87.9 562.8L90.1 563.4L92.3 564.0L94.5 564.6L96.7 565.2L98.9 565.9L101.1 566.5L103.2 567.2L105.4 567.9L107.6 568.5L109.8 569.2L112.0 569.9L114.2 570.5L116.4 571.2L118.6 571.9" fill="none" stroke="#ef7664" stroke-width="1.8" stroke-linecap="round" opacity="0.8"/>
<path d="M33.8 575.4L35.8 575.1L37.9 574.8L39.9 574.5L42.0 574.3L44.0 574.0L46.1 573.7L48.1 573.4L50.2 573.1L52.2 572.8L54.3 572.6L56.3 572.3L58.4 572.0L60.4 571.7L62.5 571.4L64.5 571.1L66.6 570.9L68.6 570.6L70.6 570.3L72.7 570.0L74.7 569.7L76.8 569.5L78.8 569.4L80.9 569.4L82.9 569.3L85.0 569.2L87.0 569.2L89.1 569.1L91.1 569.0L93.2 569.0" fill="none" stroke="#9fb4d4" stroke-width="1.6" stroke-linecap="round" opacity="0.9"/>
<rect x="29.40" y="536.60" width="93.00" height="57.80" fill="none" stroke="#555" stroke-width="0.7" />
<text x="25.80" y="585.78" font-size="6.3" text-anchor="end">0.25</text>
<text x="25.80" y="571.15" font-size="6.3" text-anchor="end">0.50</text>
<text x="25.80" y="556.53" font-size="6.3" text-anchor="end">0.75</text>
<text x="25.80" y="541.90" font-size="6.3" text-anchor="end">1.00</text>
<path d="M33.80 594.40v2.4M55.00 594.40v2.4M76.20 594.40v2.4M97.40 594.40v2.4M118.60 594.40v2.4M27.00 583.58H29.4M27.00 568.95H29.4M27.00 554.33H29.4M27.00 539.70H29.4" fill="none" stroke="#444" stroke-width="0.6" />
<text x="75.90" y="533.90" font-size="7.6" text-anchor="middle" font-style="italic">EIF1</text>
<path d="M141.7 558.2L144.5 558.2L147.2 558.2L150.0 558.2L152.7 558.2L155.5 558.2L158.3 558.2L161.0 558.2L161.0 579.7L158.3 579.7L155.5 579.7L152.7 579.7L150.0 579.7L147.2 579.7L144.5 579.7L141.7 579.7Z" fill="#cdd7e8" filter="url(#soft1)" opacity="0.75"/>
<path d="M162.9 566.9L167.1 567.4L171.3 568.0L175.5 568.6L179.7 569.2L183.9 569.7L188.1 569.8L192.3 569.9L196.5 570.0L200.7 570.2L200.7 590.4L196.5 589.9L192.3 589.3L188.1 588.7L183.9 588.1L179.7 587.1L175.5 586.0L171.3 585.0L167.1 583.9L162.9 582.9Z" fill="#f9bbb1" filter="url(#soft1)" opacity="0.75"/>
<path transform="scale(0.5) translate(.5 .5)" d="M281 1169h0m1-64h0m0 6h0m0 1h0m0 10h0m0 2h0m0 9h0m0 1h0m0 1h0m0 1h0m0 2h0m0 1h0m0 7h0m0 3h0m0 1h0m0 3h0m0 7h0m0 5h0m1-65h0m0 6h0m0 2h0m0 6h0m0 7h0m0 1h0m0 12h0m0 5h0m0 2h0m0 1h0m0 2h0m0 1h0m0 3h0m0 3h0m0 4h0m0 2h0m0 1h0m0 7h0m0 13h0m1-88h0m0 16h0m0 10h0m0 1h0m0 12h0m0 2h0m0 4h0m0 8h0m0 3h0m0 4h0m0 1h0m0 4h0m0 3h0m0 12h0m0 3h0m1-74h0m0 3h0m0 6h0m0 19h0m0 8h0m0 1h0m0 7h0m0 3h0m0 1h0m0 3h0m0 12h0m1-51h0m0 3h0m0 8h0m0 2h0m0 3h0m0 3h0m0 1h0m0 3h0m0 1h0m0 3h0m0 1h0m0 5h0m0 1h0m0 3h0m0 4h0m0 1h0m0 10h0m0 4h0m0 7h0m1-83h0m0 16h0m0 7h0m0 3h0m0 3h0m0 4h0m0 1h0m0 3h0m0 1h0m0 9h0m0 1h0m0 1h0m0 1h0m0 1h0m0 1h0m0 9h0m0 1h0m0 2h0m0 3h0m0 9h0m0 1h0m0 1h0m1-75h0m0 6h0m0 2h0m0 5h0m0 10h0m0 1h0m0 1h0m0 2h0m0 3h0m0 1h0m0 1h0m0 2h0m0 1h0m0 2h0m0 1h0m0 1h0m0 3h0m0 1h0m0 1h0m0 5h0m0 1h0m0 1h0m0 5h0m0 7h0m0 8h0m0 1h0m0 1h0m0 3h0m0 6h0m1-67h0m0 4h0m0 7h0m0 6h0m0 1h0m0 3h0m0 1h0m0 1h0m0 5h0m0 1h0m0 4h0m0 4h0m0 3h0m0 4h0m0 1h0m0 2h0m0 1h0m0 1h0m0 1h0m0 5h0m1-52h0m0 2h0m0 4h0m0 1h0m0 5h0m0 5h0m0 4h0m0 2h0m0 1h0m0 4h0m0 8h0m0 13h0m0 18h0m1-92h0m0 6h0m0 7h0m0 11h0m0 6h0m0 2h0m0 2h0m0 1h0m0 8h0m0 2h0m0 4h0m0 3h0m0 1h0m0 3h0m0 1h0m0 1h0m0 1h0m0 2h0m0 11h0m1-62h0m0 19h0m0 1h0m0 2h0m0 2h0m0 1h0m0 5h0m0 2h0m0 3h0m0 2h0m0 1h0m0 5h0m0 1h0m0 2h0m0 1h0m0 5h0m0 3h0m0 12h0m0 1h0m0 6h0m1-63h0m0 7h0m0 2h0m0 9h0m0 2h0m0 2h0m0 4h0m0 3h0m0 9h0m0 3h0m0 2h0m0 5h0m0 6h0m0 1h0m0 14h0m0 2h0m1-74h0m0 5h0m0 12h0m0 1h0m0 2h0m0 1h0m0 1h0m0 2h0m0 1h0m0 1h0m0 2h0m0 6h0m0 1h0m0 8h0m0 1h0m0 3h0m0 7h0m0 2h0m1-56h0m0 13h0m0 1h0m0 2h0m0 1h0m0 4h0m0 4h0m0 1h0m0 7h0m0 1h0m0 2h0m0 2h0m0 6h0m0 1h0m0 3h0m0 1h0m0 2h0m0 7h0m0 5h0m0 4h0m1-74h0m0 3h0m0 1h0m0 2h0m0 9h0m0 7h0m0 6h0m0 2h0m0 4h0m0 1h0m0 8h0m0 3h0m0 3h0m0 4h0m0 3h0m0 2h0m0 12h0m0 2h0m0 3h0m0 3h0m0 8h0m1-97h0m0 2h0m0 11h0m0 4h0m0 17h0m0 6h0m0 3h0m0 2h0m0 5h0m0 1h0m0 1h0m0 1h0m0 1h0m0 1h0m0 5h0m0 6h0m0 1h0m0 2h0m0 1h0m0 13h0m1-60h0m0 7h0m0 5h0m0 7h0m0 3h0m0 2h0m0 8h0m0 2h0m0 1h0m0 1h0m0 1h0m0 2h0m0 8h0m0 7h0m0 1h0m1-55h0m0 4h0m0 2h0m0 3h0m0 7h0m0 1h0m0 2h0m0 1h0m0 1h0m0 1h0m0 1h0m0 3h0m0 1h0m0 4h0m0 1h0m0 1h0m0 2h0m0 2h0m0 3h0m0 1h0m0 2h0m0 11h0m0 4h0m0 7h0m1-63h0m0 8h0m0 1h0m0 1h0m0 3h0m0 3h0m0 1h0m0 2h0m0 6h0m0 3h0m0 1h0m0 3h0m0 8h0m0 3h0m0 1h0m0 3h0m0 3h0m0 4h0m1-48h0m0 1h0m0 3h0m0 1h0m0 1h0m0 7h0m0 4h0m0 1h0m0 4h0m0 2h0m0 1h0m0 1h0m0 1h0m0 3h0m0 8h0m0 25h0m0 2h0m1-71h0m0 5h0m0 1h0m0 2h0m0 3h0m0 2h0m0 2h0m0 3h0m0 5h0m0 2h0m0 1h0m0 3h0m0 1h0m0 2h0m0 6h0m0 1h0m0 1h0m0 1h0m0 2h0m0 6h0m0 9h0m0 4h0m1-61h0m0 16h0m0 2h0m0 3h0m0 1h0m0 4h0m0 1h0m0 1h0m0 2h0m0 2h0m0 2h0m0 4h0m1-53h0m0 13h0m0 6h0m0 4h0m0 3h0m0 3h0m0 3h0m0 4h0m0 2h0m0 1h0m0 1h0m0 2h0m0 1h0m0 4h0m0 1h0m0 7h0m0 7h0m0 1h0m0 6h0m1-46h0m0 2h0m0 3h0m0 1h0m0 7h0m0 7h0m0 1h0m0 3h0m0 3h0m0 1h0m0 2h0m0 2h0m0 4h0m0 1h0m0 4h0m1-60h0m0 8h0m0 9h0m0 10h0m0 2h0m0 2h0m0 1h0m0 2h0m0 2h0m0 1h0m0 1h0m0 1h0m0 3h0m0 1h0m0 2h0m0 3h0m0 2h0m0 15h0m1-64h0m0 2h0m0 7h0m0 10h0m0 5h0m0 1h0m0 6h0m0 5h0m0 5h0m0 2h0m0 4h0m0 19h0m0 14h0m1-74h0m0 2h0m0 2h0m0 3h0m0 4h0m0 3h0m0 2h0m0 1h0m0 5h0m0 2h0m0 4h0m0 2h0m0 3h0m0 2h0m0 2h0m0 2h0m0 2h0m0 1h0m0 3h0m0 11h0m1-68h0m0 1h0m0 14h0m0 2h0m0 1h0m0 3h0m0 2h0m0 3h0m0 11h0m0 2h0m0 2h0m0 2h0m0 3h0m0 10h0m0 15h0m0 2h0m1-66h0m0 4h0m0 1h0m0 1h0m0 1h0m0 1h0m0 2h0m0 7h0m0 1h0m0 1h0m0 2h0m0 1h0m0 3h0m0 3h0m0 3h0m0 3h0m0 1h0m0 1h0m0 2h0m0 1h0m0 6h0m0 1h0m0 4h0m0 4h0m0 1h0m0 1h0m0 5h0m1-62h0m0 4h0m0 6h0m0 2h0m0 7h0m0 3h0m0 1h0m0 6h0m0 1h0m0 2h0m0 1h0m0 2h0m0 2h0m0 4h0m0 6h0m0 2h0m0 3h0m0 2h0m1-32h0m0 1h0m0 2h0m0 5h0m0 6h0m0 4h0m0 2h0m0 2h0m0 6h0m0 2h0m0 1h0m0 13h0m1-71h0m0 24h0m0 4h0m0 1h0m0 6h0m0 4h0m0 4h0m0 5h0m0 3h0m0 7h0m0 2h0m0 7h0m0 1h0m1-77h0m0 1h0m0 8h0m0 12h0m0 1h0m0 2h0m0 1h0m0 8h0m0 3h0m0 1h0m0 4h0m0 2h0m0 1h0m0 6h0m0 1h0m0 1h0m0 1h0m0 1h0m0 1h0m0 2h0m0 1h0m0 1h0m0 5h0m0 2h0m0 14h0m1-75h0m0 13h0m0 4h0m0 8h0m0 9h0m0 2h0m0 3h0m0 1h0m0 2h0m0 1h0m0 1h0m0 2h0m0 1h0m0 5h0m0 1h0m0 3h0m0 1h0m0 3h0m0 1h0m0 1h0m0 5h0m0 3h0m0 12h0m1-81h0m0 16h0m0 5h0m0 4h0m0 2h0m0 2h0m0 2h0m0 9h0m0 2h0m0 2h0m0 2h0m0 1h0m0 1h0m0 1h0m0 2h0m0 11h0m0 5h0m0 1h0m0 3h0m1-65h0m0 4h0m0 1h0m0 1h0m0 3h0m0 2h0m0 3h0m0 4h0m0 3h0m0 2h0m0 2h0m0 6h0m0 1h0m0 1h0m0 4h0m0 2h0m0 2h0m0 4h0m0 1h0m0 2h0m0 4h0m0 2h0m0 20h0m1-72h0m0 18h0m0 4h0m0 2h0m0 4h0m0 2h0m0 2h0m0 2h0m0 1h0m0 2h0m0 3h0m0 5h0m0 4h0m0 4h0m0 7h0m0 1h0m0 2h0m1-56h0m0 4h0m0 2h0m0 1h0m0 3h0m0 4h0m0 4h0m0 2h0m0 1h0m0 6h0m0 1h0m0 1h0m0 1h0m0 1h0m0 3h0m0 2h0m0 2h0m0 1h0m0 1h0m0 1h0m0 4h0m0 5h0m0 1h0m0 7h0m0 2h0m0 7h0m1-99h0m0 30h0m0 7h0m0 8h0m0 5h0m0 2h0m0 5h0m0 4h0m0 1h0m0 3h0m0 3h0m0 9h0m0 4h0m0 2h0m1-56h0m0 9h0m0 4h0m0 1h0m0 3h0m0 3h0m0 1h0m0 3h0m0 7h0m0 1h0m0 1h0m0 3h0m0 5h0m0 3h0m0 5h0m0 3h0m0 1h0m0 2h0m0 5h0m0 3h0m0 2h0m0 3h0m0 7h0m1-83h0m0 10h0m0 23h0m0 2h0m0 3h0m0 1h0m0 4h0m0 5h0m0 4h0m0 1h0m0 2h0m0 16h0m1-64h0m0 4h0m0 17h0m0 19h0m0 1h0m0 1h0m1 1h0m2 9h0m3-13h0m0 29h0m1-40h0m1-4h0m0 4h0m0 9h0m0 27h0m1-26h0m0 22h0m2-12h0m1-59h0m0 29h0m0 19h0m0 1h0m2-38h0m0 41h0m2-15h0m2-6h0m0 44h0m0 1h0m2-31h0m1-10h0m0 20h0m1-8h0m0 7h0m0 15h0m0 13h0m1-45h0m0 11h0m1-23h0m0 22h0m1 17h0m2 7h0m3-26h0m0 11h0m0 4h0m1-2h0m0 25h0m2-83h0m3 3h0m0 24h0m1 30h0m1-18h0m1-20h0m0 41h0m1 8h0m2-41h0m0 19h0m1-16h0m0 19h0m1-15h0m1 15h0m2-11h0m2 34h0m1-58h0m0 41h0m0 3h0m0 2h0m1-42h0m1 42h0m2-18h0m0 14h0m0 1h0m1-15h0m1 16h0m1-17h0m0 20h0m1 7h0m2-31h0m0 27h0m1-42h0m3 21h0m2-7h0m1 0h0m0 15h0m0 8h0m1-28h0m1 24h0m0 8h0m0 5h0m1-42h0m0 3h0m1 62h0m1-64h0m1 35h0m1 4h0m1-34h0m1 24h0m2-8h0m1-16h0m1 38h0m1-49h0m0 3h0" stroke="#b9c7df" stroke-width="2.6" stroke-linecap="round" fill="none"/>
<path transform="scale(0.5) translate(.5 .5)" d="M322 1143h0m1-16h0m0 1h0m0 7h0m0 9h0m0 3h0m0 1h0m0 1h0m0 7h0m0 11h0m0 4h0m1-59h0m0 19h0m0 7h0m0 1h0m0 1h0m0 2h0m0 3h0m0 1h0m0 1h0m0 6h0m0 1h0m0 1h0m0 1h0m0 10h0m0 8h0m1-38h0m0 1h0m0 1h0m0 1h0m0 3h0m0 5h0m0 1h0m0 6h0m0 2h0m0 1h0m0 1h0m0 3h0m0 3h0m0 10h0m0 5h0m1-58h0m0 6h0m0 6h0m0 3h0m0 2h0m0 1h0m0 2h0m0 2h0m0 2h0m0 1h0m0 1h0m0 3h0m0 1h0m0 1h0m0 3h0m0 2h0m0 5h0m0 5h0m0 2h0m1-43h0m0 5h0m0 8h0m0 1h0m0 1h0m0 1h0m0 2h0m0 3h0m0 2h0m0 1h0m0 4h0m0 1h0m0 2h0m0 3h0m0 2h0m0 3h0m0 1h0m0 4h0m0 2h0m0 2h0m1-57h0m0 6h0m0 1h0m0 2h0m0 4h0m0 5h0m0 3h0m0 2h0m0 1h0m0 1h0m0 6h0m0 1h0m0 1h0m0 5h0m0 5h0m0 1h0m0 2h0m0 1h0m0 5h0m0 2h0m0 1h0m0 10h0m1-49h0m0 2h0m0 6h0m0 3h0m0 1h0m0 4h0m0 2h0m0 1h0m0 1h0m0 1h0m0 5h0m0 2h0m0 1h0m0 1h0m0 1h0m0 5h0m0 6h0m1-57h0m0 10h0m0 1h0m0 3h0m0 4h0m0 1h0m0 1h0m0 4h0m0 1h0m0 2h0m0 1h0m0 2h0m0 1h0m0 4h0m0 1h0m0 1h0m0 3h0m0 1h0m0 2h0m0 3h0m0 16h0m1-56h0m0 18h0m0 2h0m0 8h0m0 3h0m0 3h0m0 4h0m0 3h0m0 3h0m0 9h0m1-56h0m0 7h0m0 3h0m0 2h0m0 2h0m0 1h0m0 1h0m0 2h0m0 4h0m0 2h0m0 1h0m0 3h0m0 3h0m0 6h0m0 2h0m0 2h0m0 4h0m0 6h0m0 2h0m0 5h0m1-55h0m0 15h0m0 5h0m0 1h0m0 4h0m0 1h0m0 4h0m0 9h0m0 5h0m0 3h0m0 11h0m0 4h0m1-60h0m0 1h0m0 4h0m0 2h0m0 6h0m0 5h0m0 1h0m0 1h0m0 2h0m0 2h0m0 6h0m0 1h0m0 1h0m0 1h0m0 2h0m0 8h0m0 6h0m1-56h0m0 5h0m0 3h0m0 1h0m0 5h0m0 10h0m0 3h0m0 1h0m0 3h0m0 1h0m0 5h0m0 1h0m0 4h0m0 1h0m0 2h0m0 1h0m0 5h0m0 11h0m1-39h0m0 7h0m0 2h0m0 1h0m0 3h0m0 1h0m0 5h0m0 2h0m0 2h0m0 1h0m0 5h0m0 10h0m1-52h0m0 1h0m0 2h0m0 2h0m0 2h0m0 3h0m0 4h0m0 5h0m0 3h0m0 2h0m0 2h0m0 5h0m0 4h0m0 2h0m0 7h0m1-60h0m0 8h0m0 8h0m0 4h0m0 5h0m0 3h0m0 1h0m0 1h0m0 3h0m0 2h0m0 5h0m0 1h0m0 2h0m0 8h0m0 1h0m0 4h0m0 3h0m0 13h0m0 1h0m1-58h0m0 2h0m0 6h0m0 5h0m0 2h0m0 1h0m0 3h0m0 5h0m0 1h0m0 1h0m0 2h0m0 1h0m0 1h0m0 1h0m0 2h0m0 4h0m0 2h0m0 1h0m0 8h0m0 1h0m1-58h0m0 10h0m0 3h0m0 6h0m0 2h0m0 2h0m0 3h0m0 3h0m0 1h0m0 8h0m0 3h0m0 1h0m0 4h0m0 1h0m0 3h0m0 9h0m1-42h0m0 4h0m0 2h0m0 1h0m0 1h0m0 2h0m0 1h0m0 1h0m0 3h0m0 1h0m0 1h0m0 3h0m0 1h0m0 1h0m0 1h0m0 4h0m0 6h0m0 12h0m1-62h0m0 12h0m0 3h0m0 3h0m0 4h0m0 3h0m0 2h0m0 2h0m0 2h0m0 1h0m0 1h0m0 2h0m0 1h0m0 2h0m0 5h0m0 9h0m0 3h0m0 1h0m0 1h0m1-58h0m0 11h0m0 4h0m0 1h0m0 2h0m0 3h0m0 2h0m0 2h0m0 3h0m0 1h0m0 1h0m0 7h0m0 2h0m0 1h0m0 9h0m0 4h0m0 2h0m0 2h0m0 7h0m1-52h0m0 1h0m0 6h0m0 1h0m0 1h0m0 9h0m0 1h0m0 3h0m0 4h0m0 1h0m0 3h0m0 1h0m0 3h0m0 3h0m0 1h0m0 18h0m1-65h0m0 6h0m0 6h0m0 1h0m0 2h0m0 8h0m0 1h0m0 1h0m0 7h0m0 1h0m0 6h0m0 5h0m0 2h0m0 1h0m0 3h0m0 1h0m1-65h0m0 16h0m0 9h0m0 7h0m0 1h0m0 4h0m0 4h0m0 2h0m0 1h0m0 4h0m0 1h0m0 1h0m0 1h0m0 1h0m0 2h0m0 4h0m0 4h0m0 1h0m0 13h0m1-72h0m0 20h0m0 6h0m0 1h0m0 5h0m0 2h0m0 3h0m0 3h0m0 1h0m0 2h0m0 4h0m0 1h0m0 1h0m0 2h0m0 2h0m0 1h0m0 2h0m0 7h0m1-54h0m0 10h0m0 1h0m0 9h0m0 4h0m0 3h0m0 2h0m0 1h0m0 4h0m0 4h0m0 3h0m0 1h0m0 2h0m0 4h0m0 4h0m0 1h0m0 1h0m0 10h0m1-73h0m0 19h0m0 2h0m0 4h0m0 3h0m0 2h0m0 3h0m0 6h0m0 3h0m0 2h0m0 3h0m0 4h0m0 4h0m0 2h0m0 5h0m0 3h0m0 3h0m1-52h0m0 4h0m0 4h0m0 4h0m0 3h0m0 3h0m0 2h0m0 3h0m0 3h0m0 4h0m0 4h0m0 3h0m0 1h0m0 4h0m0 3h0m0 2h0m0 4h0m0 5h0m1-66h0m0 8h0m0 4h0m0 3h0m0 4h0m0 5h0m0 1h0m0 2h0m0 3h0m0 1h0m0 1h0m0 1h0m0 1h0m0 3h0m0 3h0m0 1h0m0 3h0m0 3h0m0 2h0m0 1h0m0 1h0m0 1h0m0 1h0m0 2h0m1-66h0m0 32h0m0 3h0m0 10h0m0 1h0m0 2h0m0 3h0m0 1h0m0 1h0m0 1h0m0 1h0m0 9h0m0 8h0m0 5h0m1-63h0m0 13h0m0 7h0m0 2h0m0 1h0m0 4h0m0 4h0m0 1h0m0 2h0m0 1h0m0 3h0m0 8h0m0 10h0m0 2h0m0 6h0m1-67h0m0 6h0m0 6h0m0 7h0m0 2h0m0 3h0m0 3h0m0 1h0m0 2h0m0 1h0m0 2h0m0 2h0m0 3h0m0 1h0m0 3h0m0 2h0m0 1h0m0 1h0m0 4h0m0 1h0m0 2h0m0 5h0m1-59h0m0 6h0m0 2h0m0 3h0m0 10h0m0 2h0m0 10h0m0 1h0m0 3h0m0 2h0m0 1h0m0 1h0m0 1h0m0 5h0m0 1h0m0 4h0m0 6h0m0 1h0m0 10h0m1-67h0m0 15h0m0 8h0m0 9h0m0 2h0m0 3h0m0 1h0m0 3h0m0 2h0m0 1h0m0 1h0m0 4h0m0 13h0m1-64h0m0 19h0m0 2h0m0 5h0m0 7h0m0 2h0m0 5h0m0 1h0m0 1h0m0 1h0m0 2h0m0 2h0m0 2h0m0 11h0m1-64h0m0 16h0m0 8h0m0 1h0m0 1h0m0 2h0m0 5h0m0 3h0m0 2h0m0 1h0m0 2h0m0 4h0m0 1h0m0 3h0m0 2h0m0 1h0m0 11h0m0 2h0m1-60h0m0 17h0m0 1h0m0 3h0m0 2h0m0 5h0m0 1h0m0 4h0m0 1h0m0 5h0m0 1h0m0 3h0m0 3h0m0 6h0m0 2h0m0 5h0m1-50h0m0 8h0m0 13h0m0 5h0m0 1h0m0 3h0m0 2h0m0 1h0m0 1h0m0 5h0m0 6h0m0 10h0m0 5h0m1-58h0m0 6h0m0 8h0m0 4h0m0 1h0m0 1h0m0 4h0m0 1h0m0 1h0m0 1h0m0 2h0m0 2h0m0 3h0m0 1h0m0 1h0m0 3h0m0 4h0m0 3h0m0 3h0m0 4h0m0 1h0m1-58h0m0 13h0m0 4h0m0 1h0m0 9h0m0 2h0m0 11h0m0 1h0m0 1h0m0 1h0m0 1h0m0 4h0m0 3h0m0 5h0m0 4h0m1-66h0m0 3h0m0 6h0m0 3h0m0 1h0m0 14h0m0 11h0m0 1h0m0 3h0m0 1h0m0 1h0m0 1h0m0 1h0m0 3h0m0 3h0m0 4h0m0 1h0m0 10h0m1-57h0m0 5h0m0 5h0m0 5h0m0 2h0m0 1h0m0 2h0m0 8h0m0 3h0m0 1h0m0 4h0m0 9h0m0 4h0m1-38h0m0 1h0m0 4h0m0 3h0m0 4h0m0 1h0m0 5h0m0 1h0m0 1h0m0 2h0m0 5h0m0 3h0m0 2h0m0 12h0m1-45h0m0 1h0m0 3h0m0 5h0m0 8h0m0 2h0m0 1h0m0 6h0m0 2h0m0 2h0m0 1h0m0 2h0m0 5h0m0 2h0m0 4h0m1-59h0m0 6h0m0 6h0m0 6h0m0 1h0m0 1h0m0 3h0m0 7h0m0 1h0m0 1h0m0 3h0m0 1h0m0 3h0m0 1h0m0 4h0m0 2h0m0 5h0m0 3h0m0 1h0m1-31h0m0 1h0m0 9h0m0 1h0m0 3h0m0 2h0m0 1h0m0 3h0m0 15h0m1-62h0m0 16h0m0 6h0m0 3h0m0 1h0m0 2h0m0 1h0m0 1h0m0 2h0m0 2h0m0 3h0m0 3h0m0 1h0m0 2h0m0 5h0m0 3h0m0 4h0m0 9h0m0 2h0m1-54h0m0 1h0m0 5h0m0 6h0m0 1h0m0 3h0m0 1h0m0 3h0m0 3h0m0 6h0m0 1h0m0 1h0m0 5h0m0 1h0m0 6h0m0 2h0m0 2h0m1-39h0m0 11h0m0 4h0m0 10h0m0 1h0m0 2h0m0 8h0m0 4h0m1-56h0m0 2h0m0 3h0m0 4h0m0 7h0m0 2h0m0 1h0m0 5h0m0 10h0m0 2h0m0 1h0m0 3h0m0 1h0m0 1h0m0 7h0m0 1h0m0 5h0m0 1h0m0 2h0m0 2h0m0 1h0m1-47h0m0 6h0m0 1h0m0 3h0m0 1h0m0 4h0m0 3h0m0 2h0m0 2h0m0 2h0m0 1h0m0 1h0m0 1h0m0 6h0m0 2h0m0 1h0m0 1h0m1-37h0m0 4h0m0 2h0m0 12h0m0 2h0m0 2h0m0 5h0m0 3h0m0 4h0m0 4h0m1-49h0m0 3h0m0 9h0m0 2h0m0 1h0m0 5h0m0 3h0m0 2h0m0 5h0m0 2h0m0 1h0m0 2h0m0 1h0m0 1h0m0 4h0m0 1h0m0 5h0m0 5h0m0 4h0m1-53h0m0 5h0m0 4h0m0 1h0m0 1h0m0 7h0m0 3h0m0 1h0m0 1h0m0 5h0m0 7h0m0 4h0m0 3h0m0 1h0m0 1h0m1-61h0m0 6h0m0 10h0m0 5h0m0 2h0m0 5h0m0 10h0m0 6h0m0 3h0m0 4h0m0 1h0m0 4h0m0 9h0m1-49h0m0 3h0m0 12h0m0 1h0m0 6h0m0 8h0m0 4h0m0 5h0m1-42h0m0 3h0m0 11h0m0 10h0m0 2h0m0 2h0m0 1h0m0 3h0m0 1h0m0 1h0m0 1h0m0 2h0m0 8h0m0 4h0m0 2h0m0 7h0m1-85h0m0 29h0m0 11h0m0 3h0m0 3h0m0 2h0m0 11h0m0 2h0m0 8h0m0 1h0m0 4h0m0 1h0m0 1h0m1-51h0m0 2h0m0 5h0m0 6h0m0 2h0m0 1h0m0 2h0m0 2h0m0 2h0m0 1h0m0 2h0m0 2h0m0 2h0m0 9h0m0 5h0m0 5h0m0 1h0m0 7h0m0 1h0m1-59h0m0 10h0m0 4h0m0 7h0m0 1h0m0 2h0m0 8h0m0 6h0m0 1h0m0 2h0m0 3h0m0 1h0m0 1h0m0 1h0m0 5h0m0 1h0m0 2h0m0 1h0m0 7h0m1-58h0m0 4h0m0 22h0m0 4h0m0 2h0m0 4h0m0 2h0m0 3h0m0 7h0m1-39h0m0 4h0m0 3h0m0 2h0m0 11h0m0 3h0m0 1h0m0 2h0m0 3h0m0 2h0m0 1h0m0 6h0m0 6h0m1-66h0m0 7h0m0 11h0m0 2h0m0 2h0m0 2h0m0 3h0m0 2h0m0 2h0m0 4h0m0 2h0m0 2h0m0 1h0m0 2h0m0 1h0m0 8h0m0 9h0m0 3h0m0 4h0m1-58h0m0 3h0m0 6h0m0 2h0m0 2h0m0 3h0m0 1h0m0 7h0m0 9h0m0 1h0m0 7h0m0 2h0m0 2h0m0 1h0m0 2h0m0 4h0m0 2h0m0 3h0m0 1h0m0 1h0m1-48h0m0 8h0m0 4h0m0 3h0m0 2h0m0 3h0m0 6h0m0 7h0m0 2h0m0 5h0m0 1h0m0 9h0m1-64h0m0 11h0m0 11h0m0 9h0m0 12h0m0 2h0m0 12h0m0 4h0m1-49h0m0 2h0m0 6h0m0 3h0m0 5h0m0 1h0m0 1h0m0 4h0m0 1h0m0 2h0m0 4h0m0 2h0m0 2h0m0 1h0m0 2h0m0 2h0m0 2h0m0 2h0m0 6h0m0 4h0m1-54h0m0 4h0m0 4h0m0 5h0m0 1h0m0 9h0m0 8h0m0 2h0m0 3h0m0 3h0m0 1h0m0 13h0m1-49h0m0 4h0m0 9h0m0 2h0m0 1h0m0 2h0m0 2h0m0 6h0m0 2h0m0 1h0m0 2h0m0 1h0m0 1h0m0 6h0m0 4h0m0 3h0m0 3h0m0 2h0m1-52h0m0 7h0m0 6h0m0 2h0m0 4h0m0 3h0m0 1h0m0 1h0m0 1h0m0 3h0m0 1h0m0 6h0m0 1h0m0 5h0m0 6h0m0 1h0m0 2h0m1-55h0m0 20h0m0 10h0m0 1h0m0 6h0m0 4h0m0 1h0m0 8h0m0 1h0m0 1h0m0 3h0m1-49h0m0 8h0m0 3h0m0 3h0m0 2h0m0 10h0m0 7h0m0 12h0m0 3h0m1-52h0m0 13h0m0 14h0m0 1h0m0 1h0m0 1h0m0 9h0m0 3h0m0 2h0m0 2h0m0 2h0m0 1h0m1-65h0m0 21h0m0 4h0m0 13h0m0 1h0m0 4h0m0 3h0m0 3h0m0 1h0m0 2h0m0 4h0m0 5h0m1-26h0m0 4h0m0 5h0m0 1h0m0 3h0m0 3h0m0 2h0m0 7h0m0 2h0m0 5h0m1-56h0m0 12h0m0 6h0m0 5h0m0 1h0m0 2h0m0 1h0m0 5h0m0 16h0m0 4h0m0 4h0m0 3h0m1-39h0m0 3h0m0 2h0m0 2h0m0 5h0m0 3h0m0 2h0m0 3h0m0 1h0m0 5h0m0 3h0m0 2h0m1-49h0m0 13h0m0 1h0m0 3h0m0 3h0m0 3h0m0 2h0m0 3h0m0 4h0m0 9h0m0 2h0m0 1h0m0 1h0m0 2h0m0 2h0m1-52h0m0 4h0m0 1h0m0 15h0m0 2h0m0 3h0m0 2h0m0 2h0m0 7h0m0 2h0m0 5h0m0 3h0m0 5h0m0 6h0m1-59h0m0 3h0m0 11h0m0 5h0m0 5h0m0 10h0m0 5h0m0 1h0m0 3h0m0 1h0m0 18h0m0 2h0m1-41h0m0 2h0m0 5h0m0 2h0m0 3h0m0 9h0m0 1h0m0 10h0m0 2h0m0 3h0m0 3h0m1-70h0m0 32h0m0 24h0m0 4h0m0 4h0m1-42h0m0 13h0m0 2h0m0 4h0m0 6h0m0 4h0m0 16h0m0 3h0m1-39h0m0 4h0m0 1h0m0 1h0m0 4h0m0 2h0m0 1h0m0 5h0m0 2h0m0 1h0m0 3h0m0 5h0m1-59h0m0 33h0m0 1h0m0 8h0m0 3h0m1-37h0m0 12h0m0 13h0m0 2h0m0 4h0m0 7h0m0 1h0m0 11h0m0 9h0m0 1h0m1-46h0m0 3h0m0 11h0m0 1h0m0 8h0m0 8h0m0 3h0m0 13h0m1-47h0m0 17h0m0 1h0m0 4h0m0 1h0m0 11h0m0 3h0m1-43h0m0 2h0m0 3h0m0 6h0m0 9h0m0 5h0m0 3h0m0 1h0m0 8h0m0 3h0m0 1h0m0 3h0m1-57h0m0 10h0m0 10h0m0 1h0m0 9h0m0 7h0m0 3h0m0 15h0m1-35h0m0 1h0m0 5h0m0 17h0m0 11h0m0 1h0m1-43h0m0 10h0m0 3h0m0 4h0m0 2h0m0 7h0m0 3h0m0 8h0m0 4h0m0 8h0m1-46h0m0 10h0m0 3h0m0 3h0m0 5h0m0 2h0m0 4h0m0 2h0m0 7h0m0 16h0m1-53h0m0 10h0m0 2h0m0 7h0m0 6h0m0 6h0m0 4h0m0 1h0m0 4h0m0 3h0m0 1h0m1-39h0m0 2h0m0 11h0m0 10h0m0 12h0m1-36h0m0 7h0m0 12h0m0 5h0m0 3h0m0 8h0m0 2h0m0 1h0m0 10h0m1-64h0m0 13h0m0 14h0m0 13h0m0 2h0m0 3h0m0 5h0m1-34h0m0 14h0m0 12h0m1-23h0m0 21h0m0 13h0m1-13h0m0 2h0m1-36h0m0 17h0m0 9h0m0 9h0m1-19h0m0 2h0m0 7h0m0 14h0m1-33h0m0 1h0m0 3h0m0 18h0m0 2h0m0 5h0m1-40h0m0 38h0m0 10h0m1-50h0m0 24h0m0 7h0m0 9h0m0 6h0m0 11h0m0 8h0m1-47h0m0 3h0m0 11h0m0 20h0m1-42h0m0 8h0m0 13h0m0 6h0m0 4h0m0 9h0m0 7h0m1-54h0m0 4h0m0 9h0m0 14h0m0 11h0m0 3h0m0 4h0m0 1h0m0 8h0m1-51h0m0 12h0m0 19h0m0 21h0m1-39h0m0 10h0m0 19h0m0 3h0m1 11h0m1-47h0m0 24h0m1-41h0m0 9h0m0 8h0m0 17h0m1 9h0m0 17h0m1-53h0m0 27h0m0 3h0m0 12h0m0 8h0m1-27h0m0 7h0m0 1h0m0 13h0m0 8h0m0 4h0m1-48h0m0 35h0m0 13h0m1-42h0m0 2h0m0 4h0m0 5h0m0 18h0m0 11h0m1-39h0m0 34h0m2-29h0m1 6h0m0 21h0m1-46h0m0 21h0m0 22h0m1-37h0m0 2h0m0 31h0m0 9h0m1-89h0m0 64h0m1-8h0m0 29h0m0 3h0m2-21h0m0 7h0m0 11h0m1-39h0m0 22h0m0 17h0m1-31h0m1-21h0m3 36h0" stroke="#f58b7a" stroke-width="2.6" stroke-linecap="round" fill="none"/>
<path d="M162.5 574.8L164.7 575.2L166.9 575.6L169.1 576.1L171.3 576.5L173.5 576.9L175.7 577.3L177.9 577.8L180.0 578.2L182.2 578.6L184.4 579.0L186.6 579.1L188.8 579.3L191.0 579.5L193.2 579.7L195.4 579.9L197.6 580.0L199.8 580.2L202.0 580.4L204.2 580.6L206.4 580.2L208.6 579.6L210.7 579.0L212.9 578.4L215.1 577.8L217.3 577.2L219.5 576.6L221.7 576.0L223.9 575.4L226.1 574.8" fill="none" stroke="#ef7664" stroke-width="1.8" stroke-linecap="round" opacity="0.8"/>
<path d="M141.3 569.5L143.3 569.5L145.4 569.4L147.4 569.4L149.5 569.3L151.5 569.3L153.6 569.2L155.6 569.1L157.7 569.1L159.7 569.0L161.8 569.0L163.8 569.0L165.9 569.0L167.9 569.0L170.0 569.0L172.0 569.0L174.1 569.0L176.1 569.0L178.1 569.0L180.2 569.0L182.2 569.0L184.3 569.0L186.3 569.0L188.4 569.0L190.4 569.0L192.5 569.0L194.5 569.0L196.6 569.0L198.6 569.0L200.7 569.0" fill="none" stroke="#9fb4d4" stroke-width="1.6" stroke-linecap="round" opacity="0.9"/>
<rect x="136.90" y="536.60" width="93.00" height="57.80" fill="none" stroke="#555" stroke-width="0.7" />
<path d="M141.30 594.40v2.4M162.50 594.40v2.4M183.70 594.40v2.4M204.90 594.40v2.4M226.10 594.40v2.4" fill="none" stroke="#444" stroke-width="0.6" />
<text x="183.40" y="533.90" font-size="7.6" text-anchor="middle" font-style="italic">AFP</text>
<path d="M34.2 641.4L37.0 640.8L39.7 640.3L42.5 639.8L45.2 639.2L48.0 638.7L50.8 638.2L53.5 637.6L53.5 656.5L50.8 657.0L48.0 657.5L45.2 658.1L42.5 658.6L39.7 659.1L37.0 659.7L34.2 660.2Z" fill="#cdd7e8" filter="url(#soft1)" opacity="0.75"/>
<path d="M55.4 629.1L59.6 628.8L63.8 628.5L68.0 628.3L72.2 628.0L76.4 627.8L80.6 628.1L84.8 628.4L89.0 628.7L93.2 629.0L93.2 651.7L89.0 650.8L84.8 650.0L80.6 649.1L76.4 648.3L72.2 648.0L68.0 647.7L63.8 647.5L59.6 647.2L55.4 646.9Z" fill="#f9bbb1" filter="url(#soft1)" opacity="0.75"/>
<path transform="scale(0.5) translate(.5 .5)" d="M66 1318h0m1-39h0m0 4h0m0 1h0m0 3h0m0 3h0m0 8h0m0 2h0m0 9h0m1-31h0m0 1h0m0 7h0m0 6h0m0 3h0m0 1h0m0 1h0m0 1h0m0 1h0m0 1h0m0 1h0m0 3h0m0 6h0m0 2h0m0 12h0m0 2h0m1-54h0m0 5h0m0 8h0m0 2h0m0 3h0m0 2h0m0 6h0m0 3h0m0 4h0m0 2h0m0 1h0m0 4h0m0 3h0m0 2h0m0 4h0m0 1h0m0 9h0m1-69h0m0 5h0m0 19h0m0 1h0m0 1h0m0 1h0m0 1h0m0 1h0m0 5h0m0 1h0m0 6h0m0 1h0m0 4h0m0 1h0m0 2h0m0 1h0m0 2h0m0 6h0m0 6h0m0 1h0m0 2h0m0 6h0m1-63h0m0 1h0m0 4h0m0 3h0m0 2h0m0 13h0m0 1h0m0 3h0m0 3h0m0 1h0m0 1h0m0 4h0m0 4h0m0 12h0m1-47h0m0 1h0m0 5h0m0 2h0m0 3h0m0 1h0m0 1h0m0 4h0m0 4h0m0 2h0m0 1h0m0 1h0m0 1h0m0 1h0m0 1h0m0 1h0m0 6h0m0 4h0m1-46h0m0 9h0m0 3h0m0 1h0m0 1h0m0 5h0m0 2h0m0 3h0m0 1h0m0 3h0m0 4h0m0 1h0m0 5h0m0 2h0m0 1h0m0 6h0m0 4h0m0 8h0m1-61h0m0 16h0m0 3h0m0 1h0m0 2h0m0 2h0m0 1h0m0 3h0m0 5h0m0 3h0m0 1h0m0 5h0m0 2h0m0 3h0m0 7h0m0 2h0m1-56h0m0 12h0m0 2h0m0 2h0m0 2h0m0 3h0m0 4h0m0 4h0m0 1h0m0 2h0m0 1h0m0 2h0m0 3h0m0 1h0m0 3h0m0 1h0m0 1h0m0 2h0m0 6h0m0 5h0m0 3h0m1-62h0m0 3h0m0 2h0m0 7h0m0 2h0m0 7h0m0 1h0m0 2h0m0 2h0m0 1h0m0 3h0m0 1h0m0 2h0m0 3h0m0 4h0m0 2h0m0 1h0m0 5h0m0 4h0m0 1h0m0 3h0m0 1h0m0 9h0m1-70h0m0 11h0m0 2h0m0 2h0m0 9h0m0 1h0m0 4h0m0 1h0m0 1h0m0 1h0m0 2h0m0 1h0m0 2h0m0 1h0m0 14h0m0 1h0m0 2h0m0 14h0m1-64h0m0 2h0m0 5h0m0 4h0m0 2h0m0 3h0m0 1h0m0 3h0m0 3h0m0 1h0m0 3h0m0 3h0m0 2h0m0 2h0m0 1h0m0 2h0m0 1h0m0 1h0m0 3h0m0 1h0m0 2h0m0 3h0m0 9h0m0 8h0m1-58h0m0 8h0m0 6h0m0 1h0m0 2h0m0 2h0m0 1h0m0 2h0m0 6h0m0 4h0m0 1h0m0 5h0m0 14h0m1-50h0m0 9h0m0 1h0m0 1h0m0 4h0m0 1h0m0 2h0m0 4h0m0 1h0m0 3h0m0 3h0m0 4h0m0 4h0m0 2h0m0 1h0m0 1h0m0 2h0m0 8h0m1-73h0m0 32h0m0 4h0m0 2h0m0 2h0m0 1h0m0 1h0m0 3h0m0 4h0m0 1h0m0 1h0m0 4h0m0 1h0m0 1h0m0 1h0m0 3h0m0 3h0m0 9h0m0 1h0m1-55h0m0 6h0m0 1h0m0 3h0m0 6h0m0 3h0m0 1h0m0 1h0m0 6h0m0 1h0m0 2h0m0 1h0m0 5h0m0 2h0m0 1h0m0 3h0m0 3h0m0 1h0m0 1h0m0 9h0m1-61h0m0 6h0m0 4h0m0 1h0m0 3h0m0 5h0m0 3h0m0 3h0m0 2h0m0 4h0m0 2h0m0 2h0m0 1h0m0 1h0m0 3h0m0 2h0m0 3h0m0 2h0m0 3h0m0 1h0m0 2h0m0 3h0m0 2h0m0 6h0m0 1h0m1-70h0m0 12h0m0 2h0m0 2h0m0 5h0m0 1h0m0 2h0m0 2h0m0 2h0m0 1h0m0 2h0m0 4h0m0 1h0m0 1h0m0 2h0m0 6h0m0 1h0m0 3h0m0 3h0m0 3h0m0 2h0m0 4h0m1-46h0m0 8h0m0 1h0m0 2h0m0 1h0m0 1h0m0 2h0m0 2h0m0 4h0m0 6h0m0 1h0m0 1h0m0 1h0m0 1h0m0 2h0m0 4h0m0 5h0m0 11h0m1-76h0m0 16h0m0 3h0m0 5h0m0 1h0m0 1h0m0 4h0m0 1h0m0 7h0m0 5h0m0 1h0m0 3h0m0 1h0m0 11h0m0 6h0m0 14h0m1-68h0m0 12h0m0 3h0m0 10h0m0 2h0m0 6h0m0 1h0m0 4h0m0 2h0m0 1h0m0 1h0m0 1h0m0 10h0m1-43h0m0 2h0m0 4h0m0 1h0m0 1h0m0 2h0m0 2h0m0 1h0m0 4h0m0 1h0m0 4h0m0 1h0m0 1h0m0 2h0m0 1h0m0 1h0m0 5h0m0 2h0m0 2h0m0 1h0m0 11h0m1-59h0m0 3h0m0 7h0m0 5h0m0 2h0m0 3h0m0 3h0m0 1h0m0 4h0m0 3h0m0 1h0m0 1h0m0 4h0m0 1h0m0 1h0m0 1h0m0 20h0m1-66h0m0 17h0m0 2h0m0 2h0m0 1h0m0 2h0m0 5h0m0 4h0m0 1h0m0 1h0m0 1h0m0 2h0m0 3h0m0 9h0m0 5h0m0 3h0m0 7h0m0 6h0m1-50h0m0 1h0m0 6h0m0 5h0m0 1h0m0 1h0m0 1h0m0 2h0m0 1h0m0 2h0m0 2h0m0 5h0m0 2h0m0 15h0m1-55h0m0 9h0m0 2h0m0 3h0m0 6h0m0 1h0m0 1h0m0 5h0m0 1h0m0 1h0m0 3h0m0 2h0m0 3h0m0 7h0m0 1h0m1-34h0m0 1h0m0 1h0m0 4h0m0 4h0m0 1h0m0 1h0m0 4h0m0 6h0m0 3h0m0 4h0m0 1h0m0 1h0m0 9h0m0 2h0m1-65h0m0 8h0m0 3h0m0 8h0m0 5h0m0 5h0m0 6h0m0 3h0m0 1h0m0 1h0m0 2h0m0 1h0m0 1h0m0 1h0m0 1h0m0 1h0m0 1h0m0 4h0m0 5h0m0 4h0m0 6h0m1-55h0m0 9h0m0 1h0m0 1h0m0 5h0m0 2h0m0 5h0m0 1h0m0 3h0m0 4h0m0 1h0m0 4h0m0 3h0m0 1h0m0 7h0m1-65h0m0 8h0m0 11h0m0 4h0m0 2h0m0 4h0m0 5h0m0 1h0m0 5h0m0 1h0m0 3h0m0 1h0m0 4h0m0 5h0m0 3h0m0 2h0m0 5h0m0 3h0m0 6h0m1-65h0m0 6h0m0 10h0m0 3h0m0 8h0m0 1h0m0 1h0m0 1h0m0 1h0m0 3h0m0 1h0m0 4h0m0 1h0m0 5h0m0 1h0m0 2h0m0 1h0m0 9h0m0 1h0m0 6h0m0 4h0m1-54h0m0 3h0m0 1h0m0 6h0m0 2h0m0 2h0m0 1h0m0 3h0m0 1h0m0 2h0m0 5h0m0 3h0m0 1h0m0 1h0m0 1h0m0 1h0m0 3h0m0 5h0m0 4h0m0 2h0m1-48h0m0 1h0m0 12h0m0 2h0m0 4h0m0 4h0m0 1h0m0 3h0m0 1h0m0 1h0m0 1h0m0 5h0m0 4h0m0 3h0m0 1h0m0 4h0m1-46h0m0 6h0m0 2h0m0 2h0m0 2h0m0 4h0m0 2h0m0 3h0m0 2h0m0 2h0m0 2h0m0 4h0m0 2h0m0 6h0m0 3h0m0 5h0m0 6h0m1-88h0m0 22h0m0 11h0m0 6h0m0 1h0m0 2h0m0 5h0m0 2h0m0 6h0m0 1h0m0 5h0m0 1h0m0 3h0m0 1h0m0 2h0m0 1h0m0 2h0m0 5h0m1-53h0m0 6h0m0 1h0m0 11h0m0 4h0m0 1h0m0 2h0m0 3h0m0 1h0m0 1h0m0 3h0m0 1h0m0 1h0m0 3h0m0 2h0m0 8h0m0 1h0m0 9h0m1-55h0m0 7h0m0 4h0m0 1h0m0 9h0m0 2h0m0 4h0m0 2h0m0 4h0m0 1h0m0 3h0m0 3h0m0 2h0m0 1h0m0 4h0m0 2h0m0 1h0m0 5h0m0 2h0m0 7h0m1-80h0m0 26h0m0 2h0m0 1h0m0 2h0m0 1h0m0 2h0m0 2h0m0 1h0m0 1h0m0 1h0m0 1h0m0 2h0m0 1h0m0 1h0m0 1h0m0 5h0m0 1h0m0 1h0m0 4h0m0 4h0m0 10h0m1-69h0m0 18h0m0 1h0m0 8h0m0 13h0m0 4h0m0 3h0m0 2h0m0 1h0m0 3h0m0 3h0m0 1h0m0 23h0m1-62h0m0 5h0m0 7h0m0 3h0m0 3h0m0 1h0m0 1h0m0 1h0m0 2h0m0 2h0m0 1h0m0 2h0m0 1h0m0 1h0m0 1h0m0 7h0m0 5h0m0 5h0m0 2h0m0 2h0m1-66h0m0 6h0m0 13h0m0 3h0m0 3h0m0 1h0m0 1h0m0 13h0m0 1h0m0 2h0m0 3h0m0 1h0m0 10h0m0 9h0m1-38h0m0 5h0m0 3h0m0 3h0m0 3h0m0 5h0m0 2h0m0 8h0m1-38h0m0 15h0m0 3h0m0 4h0m0 3h0m0 1h0m1-20h0m0 27h0m0 3h0m1-18h0m0 8h0m0 3h0m1 19h0m2-27h0m1-14h0m2-12h0m0 6h0m0 17h0m2-6h0m0 8h0m1-20h0m0 13h0m1-12h0m0 8h0m0 8h0m1 4h0m0 26h0m4-60h0m0 24h0m0 16h0m2-24h0m4-10h0m0 38h0m1-21h0m1 44h0m2-29h0m1 0h0m1-9h0m1-36h0m0 30h0m0 26h0m1-14h0m0 7h0m1 4h0m1-7h0m2-4h0m0 8h0m2-30h0m3 40h0m1-29h0m2 6h0m2-31h0m0 16h0m0 28h0m1-31h0m0 16h0m1-4h0m0 1h0m0 42h0m1-21h0m0 15h0m2-46h0m0 12h0m1 6h0m0 9h0m1-20h0m1-19h0m1 16h0m0 5h0m2 11h0m2-14h0m0 7h0m1-26h0m0 28h0m2 20h0m1-21h0m1 1h0m0 2h0m0 31h0m1-23h0m1-5h0m2 10h0m1-29h0m1 9h0m0 3h0m0 5h0m0 2h0m4 8h0m0 13h0m1-21h0m1-7h0m0 9h0m1 5h0m1 10h0m1-46h0m0 15h0m1 28h0m2-29h0m0 24h0m1-17h0" stroke="#b9c7df" stroke-width="2.6" stroke-linecap="round" fill="none"/>
<path transform="scale(0.5) translate(.5 .5)" d="M107 1250h0m1 13h0m0 2h0m0 2h0m0 7h0m0 4h0m0 1h0m0 2h0m0 4h0m0 2h0m0 2h0m0 4h0m0 4h0m0 13h0m1-68h0m0 4h0m0 9h0m0 7h0m0 2h0m0 1h0m0 3h0m0 2h0m0 5h0m0 3h0m0 5h0m0 5h0m0 2h0m0 4h0m1-51h0m0 1h0m0 10h0m0 5h0m0 1h0m0 1h0m0 1h0m0 3h0m0 3h0m0 1h0m0 2h0m0 1h0m0 1h0m0 4h0m0 7h0m0 2h0m0 2h0m0 3h0m1-66h0m0 21h0m0 4h0m0 2h0m0 1h0m0 4h0m0 4h0m0 1h0m0 4h0m0 2h0m0 3h0m0 1h0m0 2h0m0 1h0m0 1h0m0 5h0m0 1h0m0 9h0m0 10h0m0 2h0m0 2h0m1-56h0m0 2h0m0 3h0m0 6h0m0 9h0m0 2h0m0 6h0m0 1h0m0 1h0m0 1h0m0 4h0m0 7h0m0 18h0m1-48h0m0 1h0m0 3h0m0 1h0m0 5h0m0 3h0m0 2h0m0 2h0m0 1h0m0 14h0m0 1h0m0 1h0m0 8h0m0 1h0m1-71h0m0 11h0m0 9h0m0 10h0m0 2h0m0 7h0m0 1h0m0 6h0m0 1h0m0 2h0m0 4h0m0 2h0m0 1h0m0 2h0m0 1h0m0 3h0m0 6h0m0 11h0m0 13h0m1-67h0m0 2h0m0 9h0m0 2h0m0 8h0m0 1h0m0 7h0m0 6h0m0 12h0m1-64h0m0 8h0m0 10h0m0 2h0m0 9h0m0 1h0m0 1h0m0 3h0m0 1h0m0 2h0m0 3h0m0 5h0m0 12h0m0 3h0m0 13h0m1-68h0m0 4h0m0 4h0m0 2h0m0 8h0m0 1h0m0 3h0m0 1h0m0 1h0m0 2h0m0 1h0m0 2h0m0 1h0m0 2h0m0 1h0m0 4h0m0 2h0m0 1h0m0 4h0m0 1h0m0 4h0m0 1h0m0 3h0m0 2h0m0 6h0m1-71h0m0 3h0m0 2h0m0 14h0m0 5h0m0 3h0m0 7h0m0 1h0m0 5h0m0 4h0m0 3h0m0 1h0m0 2h0m0 4h0m0 7h0m0 17h0m1-68h0m0 15h0m0 5h0m0 2h0m0 1h0m0 7h0m0 2h0m0 2h0m0 3h0m0 2h0m0 3h0m0 2h0m0 3h0m1-51h0m0 8h0m0 5h0m0 3h0m0 3h0m0 2h0m0 3h0m0 4h0m0 1h0m0 2h0m0 9h0m0 8h0m0 4h0m0 6h0m0 2h0m0 5h0m0 2h0m1-77h0m0 24h0m0 3h0m0 2h0m0 2h0m0 4h0m0 2h0m0 7h0m0 3h0m0 4h0m0 2h0m0 2h0m0 3h0m0 8h0m0 1h0m0 4h0m0 2h0m0 4h0m1-59h0m0 1h0m0 2h0m0 2h0m0 3h0m0 1h0m0 2h0m0 1h0m0 10h0m0 1h0m0 4h0m0 1h0m0 3h0m0 5h0m0 2h0m0 8h0m0 5h0m0 3h0m0 4h0m1-62h0m0 1h0m0 5h0m0 3h0m0 6h0m0 1h0m0 2h0m0 5h0m0 12h0m0 1h0m0 1h0m0 2h0m0 1h0m0 3h0m0 4h0m0 3h0m0 1h0m0 1h0m1-52h0m0 6h0m0 2h0m0 3h0m0 6h0m0 1h0m0 3h0m0 2h0m0 3h0m0 2h0m0 3h0m0 2h0m0 1h0m0 2h0m0 2h0m0 6h0m0 7h0m0 3h0m0 1h0m0 3h0m0 21h0m1-98h0m0 9h0m0 1h0m0 6h0m0 15h0m0 2h0m0 3h0m0 8h0m0 1h0m0 4h0m0 3h0m0 1h0m0 3h0m0 4h0m0 10h0m1-45h0m0 9h0m0 2h0m0 1h0m0 1h0m0 4h0m0 7h0m0 1h0m0 1h0m0 1h0m0 2h0m0 3h0m0 1h0m0 4h0m0 1h0m0 3h0m0 1h0m0 14h0m1-64h0m0 7h0m0 7h0m0 8h0m0 1h0m0 2h0m0 2h0m0 3h0m0 1h0m0 3h0m0 1h0m0 2h0m0 2h0m0 3h0m0 1h0m0 2h0m0 1h0m0 1h0m0 1h0m0 2h0m0 19h0m0 5h0m0 8h0m1-95h0m0 8h0m0 30h0m0 4h0m0 1h0m0 1h0m0 1h0m0 4h0m0 3h0m0 9h0m0 3h0m0 1h0m0 4h0m0 1h0m0 4h0m0 6h0m0 2h0m1-69h0m0 8h0m0 1h0m0 8h0m0 1h0m0 4h0m0 2h0m0 4h0m0 1h0m0 1h0m0 5h0m0 1h0m0 2h0m0 1h0m0 3h0m0 7h0m0 2h0m0 4h0m1-56h0m0 6h0m0 3h0m0 5h0m0 1h0m0 1h0m0 1h0m0 5h0m0 6h0m0 1h0m0 2h0m0 1h0m0 10h0m0 1h0m0 1h0m0 5h0m0 6h0m0 3h0m0 3h0m0 5h0m1-78h0m0 23h0m0 4h0m0 2h0m0 9h0m0 1h0m0 3h0m0 2h0m0 2h0m0 6h0m0 1h0m0 2h0m0 1h0m0 1h0m0 15h0m0 9h0m1-61h0m0 1h0m0 4h0m0 3h0m0 3h0m0 1h0m0 3h0m0 4h0m0 1h0m0 7h0m0 1h0m0 1h0m0 4h0m0 6h0m0 3h0m0 1h0m0 2h0m0 4h0m0 5h0m1-65h0m0 9h0m0 5h0m0 2h0m0 3h0m0 2h0m0 5h0m0 4h0m0 5h0m0 1h0m0 3h0m0 3h0m0 2h0m0 2h0m0 2h0m0 2h0m0 1h0m0 6h0m0 1h0m0 13h0m0 4h0m1-74h0m0 8h0m0 13h0m0 2h0m0 1h0m0 1h0m0 3h0m0 1h0m0 3h0m0 2h0m0 3h0m0 4h0m0 2h0m0 5h0m0 7h0m0 8h0m0 7h0m0 4h0m1-68h0m0 2h0m0 7h0m0 3h0m0 2h0m0 2h0m0 7h0m0 5h0m0 11h0m0 4h0m0 6h0m0 1h0m0 2h0m0 3h0m0 2h0m0 5h0m1-60h0m0 1h0m0 3h0m0 3h0m0 2h0m0 2h0m0 1h0m0 2h0m0 2h0m0 1h0m0 1h0m0 2h0m0 1h0m0 1h0m0 2h0m0 1h0m0 2h0m0 2h0m0 36h0m0 4h0m1-72h0m0 6h0m0 1h0m0 8h0m0 6h0m0 2h0m0 1h0m0 1h0m0 1h0m0 5h0m0 2h0m0 2h0m0 1h0m0 6h0m0 4h0m0 1h0m0 6h0m0 5h0m1-60h0m0 1h0m0 6h0m0 1h0m0 7h0m0 7h0m0 2h0m0 14h0m0 5h0m0 4h0m0 2h0m0 10h0m0 16h0m1-91h0m0 8h0m0 32h0m0 3h0m0 2h0m0 4h0m0 3h0m0 3h0m0 2h0m0 4h0m0 2h0m0 3h0m0 2h0m0 4h0m0 5h0m0 21h0m1-86h0m0 2h0m0 15h0m0 2h0m0 1h0m0 4h0m0 2h0m0 5h0m0 1h0m0 6h0m0 1h0m0 2h0m0 2h0m0 4h0m0 2h0m0 7h0m0 4h0m0 2h0m0 15h0m0 13h0m1-91h0m0 6h0m0 4h0m0 2h0m0 3h0m0 2h0m0 5h0m0 11h0m0 1h0m0 2h0m0 5h0m0 1h0m0 3h0m0 3h0m0 3h0m0 6h0m0 3h0m1-64h0m0 15h0m0 8h0m0 3h0m0 5h0m0 5h0m0 1h0m0 2h0m0 2h0m0 1h0m0 2h0m0 6h0m0 3h0m0 4h0m0 3h0m0 1h0m0 1h0m0 1h0m0 11h0m0 2h0m0 3h0m1-70h0m0 10h0m0 1h0m0 2h0m0 7h0m0 6h0m0 1h0m0 1h0m0 1h0m0 2h0m0 1h0m0 2h0m0 3h0m0 3h0m0 7h0m0 1h0m0 4h0m1-66h0m0 2h0m0 18h0m0 5h0m0 1h0m0 1h0m0 1h0m0 2h0m0 14h0m0 1h0m0 1h0m0 1h0m0 5h0m0 1h0m0 3h0m0 3h0m0 3h0m0 1h0m0 3h0m0 3h0m1-64h0m0 8h0m0 2h0m0 7h0m0 1h0m0 10h0m0 4h0m0 10h0m0 4h0m0 3h0m0 10h0m0 1h0m0 1h0m0 22h0m1-85h0m0 3h0m0 12h0m0 2h0m0 2h0m0 1h0m0 4h0m0 2h0m0 4h0m0 1h0m0 2h0m0 5h0m0 1h0m0 4h0m0 3h0m0 1h0m0 2h0m0 2h0m0 3h0m0 1h0m0 1h0m0 7h0m1-43h0m0 2h0m0 2h0m0 1h0m0 6h0m0 2h0m0 1h0m0 3h0m0 2h0m0 1h0m0 3h0m0 1h0m0 7h0m0 1h0m0 4h0m0 3h0m1-58h0m0 3h0m0 10h0m0 1h0m0 11h0m0 1h0m0 5h0m0 1h0m0 4h0m0 1h0m0 4h0m0 6h0m0 1h0m0 9h0m0 3h0m0 2h0m0 3h0m0 1h0m0 1h0m0 1h0m1-44h0m0 6h0m0 5h0m0 1h0m0 4h0m0 2h0m0 5h0m0 1h0m0 10h0m0 1h0m0 5h0m0 4h0m0 11h0m1-87h0m0 7h0m0 4h0m0 6h0m0 3h0m0 11h0m0 2h0m0 2h0m0 5h0m0 3h0m0 2h0m0 6h0m0 5h0m0 4h0m0 1h0m0 3h0m0 13h0m0 3h0m1-73h0m0 12h0m0 5h0m0 1h0m0 4h0m0 10h0m0 1h0m0 1h0m0 1h0m0 1h0m0 4h0m0 1h0m0 2h0m0 2h0m0 3h0m0 2h0m0 5h0m0 1h0m0 3h0m1-46h0m0 16h0m0 1h0m0 2h0m0 7h0m0 1h0m0 3h0m0 1h0m0 1h0m0 1h0m0 5h0m0 8h0m0 7h0m0 2h0m0 1h0m1-65h0m0 2h0m0 1h0m0 7h0m0 2h0m0 3h0m0 2h0m0 1h0m0 1h0m0 10h0m0 5h0m0 2h0m0 5h0m0 2h0m0 1h0m0 2h0m0 13h0m0 21h0m1-82h0m0 3h0m0 4h0m0 2h0m0 2h0m0 1h0m0 6h0m0 5h0m0 3h0m0 3h0m0 1h0m0 3h0m0 1h0m0 7h0m0 1h0m0 4h0m0 3h0m0 3h0m0 3h0m0 10h0m0 2h0m1-66h0m0 5h0m0 4h0m0 2h0m0 9h0m0 3h0m0 1h0m0 2h0m0 2h0m0 4h0m0 1h0m0 3h0m0 5h0m0 3h0m0 4h0m0 7h0m0 7h0m0 1h0m0 7h0m0 5h0m1-64h0m0 1h0m0 7h0m0 17h0m0 1h0m0 2h0m0 1h0m0 1h0m0 4h0m0 1h0m0 7h0m0 7h0m0 2h0m0 6h0m0 28h0m1-77h0m0 4h0m0 12h0m0 1h0m0 2h0m0 1h0m0 6h0m0 2h0m0 3h0m0 4h0m0 1h0m0 1h0m0 16h0m1-72h0m0 14h0m0 1h0m0 7h0m0 3h0m0 6h0m0 1h0m0 4h0m0 2h0m0 1h0m0 6h0m0 1h0m0 1h0m0 1h0m0 1h0m0 8h0m0 6h0m0 11h0m1-70h0m0 22h0m0 6h0m0 3h0m0 4h0m0 3h0m0 3h0m0 3h0m0 16h0m0 10h0m0 2h0m1-76h0m0 9h0m0 8h0m0 1h0m0 2h0m0 11h0m0 2h0m0 7h0m0 5h0m0 1h0m0 5h0m0 10h0m0 1h0m0 11h0m0 10h0m1-77h0m0 1h0m0 4h0m0 9h0m0 2h0m0 1h0m0 2h0m0 6h0m0 1h0m0 4h0m0 1h0m0 1h0m0 3h0m0 1h0m0 3h0m0 4h0m0 12h0m1-42h0m0 10h0m0 2h0m0 4h0m0 3h0m0 4h0m0 2h0m0 1h0m0 5h0m0 3h0m0 6h0m0 9h0m0 3h0m1-53h0m0 1h0m0 4h0m0 3h0m0 6h0m0 2h0m0 1h0m0 1h0m0 7h0m0 3h0m0 2h0m0 18h0m0 1h0m0 4h0m0 3h0m0 7h0m1-76h0m0 11h0m0 4h0m0 4h0m0 3h0m0 4h0m0 7h0m0 1h0m0 5h0m0 3h0m0 4h0m0 1h0m0 1h0m0 1h0m0 3h0m0 3h0m0 2h0m0 3h0m0 2h0m1-53h0m0 3h0m0 12h0m0 1h0m0 9h0m0 2h0m0 9h0m0 10h0m0 5h0m1-56h0m0 1h0m0 17h0m0 4h0m0 3h0m0 2h0m0 1h0m0 3h0m0 3h0m0 6h0m0 2h0m0 1h0m0 2h0m0 7h0m0 3h0m0 4h0m0 1h0m0 16h0m1-78h0m0 15h0m0 10h0m0 1h0m0 3h0m0 11h0m0 8h0m0 3h0m0 2h0m0 5h0m0 2h0m0 8h0m0 2h0m1-72h0m0 20h0m0 2h0m0 2h0m0 3h0m0 12h0m0 1h0m0 9h0m0 2h0m0 5h0m0 2h0m0 3h0m0 4h0m0 1h0m0 2h0m1-71h0m0 13h0m0 15h0m0 1h0m0 1h0m0 1h0m0 2h0m0 2h0m0 19h0m0 4h0m0 4h0m0 11h0m1-64h0m0 13h0m0 4h0m0 1h0m0 2h0m0 1h0m0 5h0m0 3h0m0 1h0m0 3h0m0 4h0m0 1h0m0 1h0m0 13h0m0 1h0m0 2h0m0 1h0m0 9h0m1-74h0m0 13h0m0 10h0m0 4h0m0 2h0m0 1h0m0 5h0m0 6h0m0 2h0m0 3h0m0 2h0m0 5h0m0 1h0m0 2h0m0 11h0m1-71h0m0 11h0m0 12h0m0 21h0m0 1h0m0 1h0m0 3h0m0 2h0m0 4h0m0 2h0m0 7h0m0 1h0m1-59h0m0 9h0m0 27h0m0 9h0m0 7h0m0 14h0m1-81h0m0 14h0m0 7h0m0 13h0m0 9h0m0 3h0m0 8h0m0 10h0m0 1h0m0 7h0m0 4h0m0 34h0m1-79h0m0 5h0m0 3h0m0 11h0m0 1h0m0 7h0m0 1h0m0 3h0m0 6h0m0 3h0m0 3h0m0 3h0m0 2h0m1-61h0m0 7h0m0 1h0m0 19h0m0 3h0m0 11h0m0 5h0m0 1h0m0 1h0m0 2h0m0 4h0m0 5h0m0 7h0m0 8h0m1-91h0m0 37h0m0 3h0m0 1h0m0 4h0m0 2h0m0 4h0m0 3h0m0 6h0m0 5h0m0 1h0m0 27h0m1-46h0m0 2h0m0 3h0m0 2h0m0 1h0m0 4h0m0 1h0m0 3h0m0 2h0m0 13h0m0 11h0m1-80h0m0 5h0m0 1h0m0 15h0m0 2h0m0 4h0m0 1h0m0 2h0m0 6h0m0 4h0m0 11h0m0 4h0m0 2h0m0 4h0m0 8h0m1-53h0m0 1h0m0 1h0m0 2h0m0 7h0m0 12h0m0 3h0m0 2h0m0 1h0m0 6h0m0 7h0m0 1h0m0 3h0m0 22h0m1-60h0m0 9h0m0 2h0m0 4h0m0 2h0m0 5h0m0 6h0m0 2h0m0 1h0m0 3h0m0 2h0m0 7h0m0 2h0m0 9h0m1-77h0m0 7h0m0 5h0m0 3h0m0 8h0m0 10h0m0 3h0m0 2h0m0 2h0m0 17h0m0 18h0m0 7h0m0 7h0m0 3h0m1-85h0m0 2h0m0 1h0m0 2h0m0 1h0m0 7h0m0 6h0m0 2h0m0 6h0m0 5h0m0 2h0m0 5h0m0 3h0m0 6h0m0 6h0m0 1h0m0 5h0m0 3h0m1-81h0m0 29h0m0 17h0m0 1h0m0 3h0m0 3h0m0 4h0m0 2h0m0 2h0m0 4h0m0 2h0m0 2h0m0 7h0m1-66h0m0 6h0m0 3h0m0 16h0m0 10h0m0 17h0m0 5h0m0 5h0m0 3h0m0 1h0m0 1h0m0 2h0m0 1h0m1-52h0m0 5h0m0 16h0m0 8h0m0 6h0m0 2h0m0 6h0m0 3h0m0 2h0m0 5h0m0 4h0m0 8h0m0 1h0m1-73h0m0 6h0m0 20h0m0 4h0m0 12h0m0 1h0m0 1h0m0 24h0m0 16h0m1-66h0m0 8h0m0 2h0m0 1h0m0 3h0m0 6h0m0 1h0m0 1h0m0 1h0m0 10h0m0 7h0m0 26h0m1-85h0m0 14h0m0 11h0m0 11h0m0 1h0m0 1h0m0 7h0m0 19h0m1-58h0m0 9h0m0 3h0m0 1h0m0 18h0m0 1h0m0 6h0m0 1h0m0 1h0m0 5h0m0 7h0m0 9h0m1-72h0m0 9h0m0 1h0m0 11h0m0 5h0m0 3h0m0 6h0m0 8h0m0 10h0m0 3h0m0 4h0m0 13h0m1-72h0m0 15h0m0 9h0m0 2h0m0 15h0m0 24h0m0 4h0m0 9h0m1-68h0m0 9h0m0 5h0m0 3h0m0 8h0m0 3h0m0 5h0m0 26h0m1-51h0m0 6h0m0 3h0m0 2h0m0 1h0m0 11h0m0 6h0m0 17h0m0 8h0m1-42h0m0 2h0m0 11h0m0 1h0m0 6h0m0 3h0m0 3h0m0 5h0m0 4h0m0 2h0m0 3h0m0 3h0m1-60h0m0 11h0m0 7h0m0 17h0m0 11h0m1-54h0m0 12h0m0 23h0m0 8h0m0 1h0m0 4h0m0 4h0m1-39h0m0 21h0m0 4h0m0 1h0m0 6h0m0 24h0m1-63h0m0 13h0m0 1h0m0 3h0m0 3h0m0 1h0m0 3h0m0 2h0m0 9h0m0 5h0m1-48h0m0 22h0m0 7h0m0 4h0m0 1h0m0 1h0m0 8h0m0 4h0m0 9h0m0 1h0m0 6h0m0 1h0m0 13h0m1-59h0m0 4h0m0 4h0m0 6h0m0 37h0m1-61h0m0 14h0m0 5h0m0 6h0m0 1h0m0 2h0m0 1h0m0 2h0m0 3h0m0 4h0m0 30h0m0 10h0m1-65h0m0 7h0m0 8h0m0 3h0m0 9h0m0 3h0m0 31h0m1-75h0m0 13h0m0 8h0m0 1h0m0 1h0m0 1h0m0 3h0m0 6h0m0 2h0m0 3h0m0 3h0m0 6h0m0 13h0m1-38h0m0 9h0m0 6h0m0 5h0m0 9h0m0 3h0m0 5h0m0 16h0m1-57h0m0 13h0m0 17h0m0 3h0m1-47h0m0 14h0m0 3h0m0 10h0m0 2h0m0 20h0m1-47h0m0 5h0m0 12h0m0 1h0m0 3h0m0 6h0m0 3h0m0 4h0m0 2h0m0 6h0m0 9h0m0 3h0m1-58h0m0 20h0m0 16h0m0 13h0m0 1h0m1-76h0m0 28h0m0 2h0m0 5h0m0 7h0m0 15h0m0 6h0m0 6h0m1-55h0m0 25h0m0 2h0m0 4h0m0 20h0m0 5h0m0 4h0m0 15h0m1-77h0m0 7h0m0 21h0m0 6h0m0 13h0m0 10h0m1-35h0m0 19h0m0 2h0m0 11h0m0 2h0m0 3h0m1-60h0m0 42h0m0 2h0m0 1h0m0 2h0m0 2h0m0 6h0m0 12h0m0 6h0m1-38h0m0 1h0m0 15h0m0 20h0m1-44h0m0 1h0m0 8h0m0 3h0m0 32h0m1-32h0m0 14h0m0 21h0m0 7h0m0 9h0m0 1h0m1-66h0m0 8h0m0 10h0m0 20h0m0 5h0m0 15h0m1-71h0m0 29h0m0 14h0m0 5h0m0 2h0m1-53h0m0 32h0m0 15h0m0 28h0m1-65h0m0 13h0m0 17h0m0 37h0m1-86h0m0 21h0m0 15h0m0 2h0m0 2h0m0 5h0m0 23h0m1-36h0m0 28h0m0 38h0m1-46h0m0 11h0m1 15h0m1-46h0m0 48h0m1-47h0m0 19h0m0 12h0m0 20h0m1-44h0m0 12h0m0 9h0m1-24h0m0 6h0m0 2h0m0 20h0m1 0h0m0 4h0m1-14h0m1-19h0m0 9h0m0 21h0m0 10h0m1 18h0m3-74h0m3 17h0m0 7h0m0 1h0" stroke="#f58b7a" stroke-width="2.6" stroke-linecap="round" fill="none"/>
<path d="M55.0 638.0L57.2 638.0L59.4 638.0L61.6 638.0L63.8 638.0L66.0 638.0L68.2 638.0L70.4 638.0L72.5 638.0L74.7 638.0L76.9 638.1L79.1 638.4L81.3 638.7L83.5 639.0L85.7 639.3L87.9 639.6L90.1 639.9L92.3 640.2L94.5 640.5L96.7 640.8L98.9 641.2L101.1 641.7L103.2 642.2L105.4 642.7L107.6 643.2L109.8 643.7L112.0 644.2L114.2 644.6L116.4 645.1L118.6 645.6" fill="none" stroke="#ef7664" stroke-width="1.8" stroke-linecap="round" opacity="0.8"/>
<path d="M33.8 651.5L35.8 651.2L37.9 650.9L39.9 650.6L42.0 650.3L44.0 650.0L46.1 649.8L48.1 649.5L50.2 649.2L52.2 648.9L54.3 648.6L56.3 648.3L58.4 648.1L60.4 647.8L62.5 647.5L64.5 647.2L66.6 646.9L68.6 646.7L70.6 646.4L72.7 646.1L74.7 645.8L76.8 645.5L78.8 645.3L80.9 645.1L82.9 644.9L85.0 644.7L87.0 644.5L89.1 644.3L91.1 644.1L93.2 643.9" fill="none" stroke="#9fb4d4" stroke-width="1.6" stroke-linecap="round" opacity="0.9"/>
<rect x="29.40" y="611.50" width="93.00" height="57.80" fill="none" stroke="#555" stroke-width="0.7" />
<text x="25.80" y="660.68" font-size="6.3" text-anchor="end">0.25</text>
<text x="25.80" y="646.05" font-size="6.3" text-anchor="end">0.50</text>
<text x="25.80" y="631.43" font-size="6.3" text-anchor="end">0.75</text>
<text x="25.80" y="616.80" font-size="6.3" text-anchor="end">1.00</text>
<path d="M33.80 669.30v2.4M55.00 669.30v2.4M76.20 669.30v2.4M97.40 669.30v2.4M118.60 669.30v2.4M27.00 658.48H29.4M27.00 643.85H29.4M27.00 629.23H29.4M27.00 614.60H29.4" fill="none" stroke="#444" stroke-width="0.6" />
<text x="75.90" y="608.80" font-size="7.6" text-anchor="middle" font-style="italic">S100P</text>
<path d="M141.7 634.9L144.5 634.6L147.2 634.3L150.0 634.0L152.7 633.7L155.5 633.4L158.3 633.1L161.0 632.8L161.0 652.9L158.3 653.2L155.5 653.5L152.7 653.8L150.0 654.2L147.2 654.5L144.5 654.8L141.7 655.1Z" fill="#cdd7e8" filter="url(#soft1)" opacity="0.75"/>
<path d="M162.9 641.7L167.1 641.5L171.3 641.2L175.5 641.0L179.7 640.7L183.9 640.5L188.1 640.1L192.3 639.8L196.5 639.4L200.7 639.1L200.7 659.4L196.5 659.3L192.3 659.1L188.1 659.0L183.9 658.9L179.7 658.7L175.5 658.4L171.3 658.2L167.1 657.9L162.9 657.7Z" fill="#f9bbb1" filter="url(#soft1)" opacity="0.75"/>
<path transform="scale(0.5) translate(.5 .5)" d="M281 1292h0m0 6h0m0 2h0m0 1h0m0 5h0m1-50h0m0 3h0m0 2h0m0 9h0m0 8h0m0 9h0m0 1h0m0 3h0m0 6h0m0 1h0m0 10h0m1-52h0m0 15h0m0 10h0m0 1h0m0 2h0m0 2h0m0 7h0m0 1h0m0 10h0m0 2h0m0 1h0m1-40h0m0 1h0m0 1h0m0 4h0m0 8h0m0 6h0m0 2h0m0 4h0m0 2h0m0 1h0m0 1h0m0 3h0m0 1h0m0 2h0m0 4h0m0 1h0m0 16h0m1-83h0m0 18h0m0 10h0m0 2h0m0 1h0m0 2h0m0 1h0m0 1h0m0 1h0m0 1h0m0 3h0m0 1h0m0 2h0m0 2h0m0 5h0m0 1h0m0 1h0m0 1h0m0 3h0m0 2h0m0 2h0m0 2h0m0 5h0m0 4h0m0 2h0m0 8h0m1-51h0m0 6h0m0 1h0m0 6h0m0 1h0m0 1h0m0 3h0m0 1h0m0 11h0m0 10h0m0 16h0m1-63h0m0 19h0m0 4h0m0 2h0m0 7h0m0 1h0m0 2h0m0 3h0m0 1h0m0 4h0m0 2h0m0 5h0m1-76h0m0 11h0m0 10h0m0 10h0m0 5h0m0 1h0m0 4h0m0 5h0m0 1h0m0 6h0m0 3h0m0 3h0m0 4h0m0 3h0m0 1h0m0 1h0m0 8h0m0 9h0m0 2h0m0 10h0m1-65h0m0 1h0m0 4h0m0 4h0m0 6h0m0 3h0m0 3h0m0 1h0m0 3h0m0 2h0m0 3h0m0 3h0m0 5h0m0 2h0m0 2h0m1-64h0m0 27h0m0 2h0m0 3h0m0 1h0m0 1h0m0 2h0m0 1h0m0 2h0m0 6h0m0 1h0m0 1h0m0 1h0m0 3h0m0 1h0m0 5h0m0 2h0m0 5h0m0 5h0m0 5h0m0 5h0m1-79h0m0 3h0m0 18h0m0 8h0m0 5h0m0 1h0m0 8h0m0 2h0m0 1h0m0 6h0m0 1h0m0 6h0m0 1h0m0 19h0m1-72h0m0 14h0m0 5h0m0 1h0m0 6h0m0 5h0m0 1h0m0 1h0m0 3h0m0 1h0m0 4h0m0 2h0m0 3h0m0 1h0m0 4h0m0 10h0m1-74h0m0 24h0m0 4h0m0 4h0m0 3h0m0 1h0m0 2h0m0 1h0m0 5h0m0 1h0m0 2h0m0 1h0m0 2h0m0 1h0m0 1h0m0 4h0m0 1h0m0 2h0m0 3h0m0 1h0m0 6h0m0 6h0m0 4h0m1-57h0m0 3h0m0 1h0m0 4h0m0 4h0m0 4h0m0 1h0m0 1h0m0 1h0m0 2h0m0 7h0m0 4h0m0 5h0m0 3h0m0 2h0m0 4h0m0 2h0m0 6h0m0 3h0m0 6h0m1-68h0m0 7h0m0 2h0m0 6h0m0 1h0m0 4h0m0 1h0m0 6h0m0 1h0m0 1h0m0 4h0m0 1h0m0 2h0m0 4h0m0 6h0m0 1h0m0 4h0m0 4h0m1-58h0m0 14h0m0 1h0m0 3h0m0 3h0m0 1h0m0 6h0m0 1h0m0 1h0m0 1h0m0 1h0m0 6h0m0 4h0m0 8h0m0 2h0m0 2h0m0 3h0m0 5h0m0 3h0m0 3h0m1-61h0m0 5h0m0 6h0m0 2h0m0 1h0m0 2h0m0 1h0m0 1h0m0 1h0m0 2h0m0 1h0m0 2h0m0 7h0m0 1h0m0 1h0m0 5h0m0 1h0m0 9h0m0 6h0m0 12h0m1-71h0m0 3h0m0 2h0m0 1h0m0 3h0m0 6h0m0 1h0m0 2h0m0 1h0m0 3h0m0 4h0m0 1h0m0 1h0m0 2h0m0 1h0m0 1h0m0 1h0m0 2h0m0 1h0m0 8h0m0 4h0m0 2h0m0 1h0m0 1h0m0 1h0m0 3h0m1-65h0m0 19h0m0 1h0m0 1h0m0 1h0m0 3h0m0 2h0m0 1h0m0 5h0m0 7h0m0 2h0m0 1h0m0 1h0m0 1h0m0 2h0m0 1h0m0 8h0m0 3h0m0 5h0m0 10h0m1-76h0m0 3h0m0 12h0m0 6h0m0 1h0m0 4h0m0 6h0m0 10h0m0 3h0m0 2h0m0 4h0m0 7h0m0 2h0m0 28h0m1-73h0m0 2h0m0 5h0m0 4h0m0 4h0m0 3h0m0 4h0m0 1h0m0 1h0m0 3h0m0 2h0m0 2h0m0 1h0m0 1h0m0 2h0m0 3h0m0 3h0m0 3h0m0 1h0m0 2h0m0 4h0m0 2h0m0 3h0m0 4h0m0 1h0m1-76h0m0 11h0m0 1h0m0 3h0m0 1h0m0 13h0m0 4h0m0 1h0m0 1h0m0 1h0m0 1h0m0 1h0m0 1h0m0 3h0m0 5h0m0 2h0m0 3h0m0 4h0m0 1h0m0 3h0m0 4h0m0 3h0m0 5h0m1-82h0m0 11h0m0 24h0m0 3h0m0 2h0m0 2h0m0 1h0m0 3h0m0 1h0m0 2h0m0 1h0m0 7h0m0 5h0m0 4h0m0 2h0m0 2h0m0 8h0m0 1h0m1-63h0m0 13h0m0 3h0m0 7h0m0 2h0m0 3h0m0 1h0m0 4h0m0 3h0m0 1h0m0 1h0m0 6h0m0 3h0m0 3h0m0 1h0m0 1h0m0 16h0m1-61h0m0 2h0m0 3h0m0 9h0m0 1h0m0 3h0m0 2h0m0 2h0m0 1h0m0 4h0m0 1h0m0 6h0m0 1h0m0 3h0m0 3h0m0 2h0m0 4h0m0 1h0m0 1h0m1-54h0m0 13h0m0 9h0m0 1h0m0 1h0m0 1h0m0 4h0m0 1h0m0 7h0m0 3h0m0 2h0m0 2h0m0 6h0m0 2h0m0 1h0m0 3h0m0 1h0m0 3h0m1-48h0m0 6h0m0 4h0m0 1h0m0 2h0m0 1h0m0 1h0m0 2h0m0 1h0m0 6h0m0 9h0m0 1h0m0 3h0m0 2h0m0 3h0m0 2h0m0 1h0m0 11h0m0 5h0m1-75h0m0 7h0m0 4h0m0 3h0m0 3h0m0 1h0m0 1h0m0 1h0m0 6h0m0 1h0m0 6h0m0 1h0m0 1h0m0 4h0m0 4h0m0 1h0m0 3h0m0 11h0m0 6h0m1-74h0m0 16h0m0 6h0m0 7h0m0 3h0m0 2h0m0 3h0m0 1h0m0 1h0m0 4h0m0 6h0m0 2h0m0 1h0m0 12h0m0 9h0m1-65h0m0 14h0m0 2h0m0 1h0m0 2h0m0 1h0m0 3h0m0 1h0m0 3h0m0 1h0m0 1h0m0 1h0m0 2h0m0 2h0m0 3h0m0 2h0m0 1h0m0 2h0m0 2h0m0 2h0m0 5h0m0 4h0m0 10h0m0 7h0m1-79h0m0 14h0m0 6h0m0 4h0m0 2h0m0 1h0m0 2h0m0 2h0m0 4h0m0 1h0m0 6h0m0 1h0m0 1h0m0 3h0m0 4h0m0 2h0m0 4h0m0 6h0m0 3h0m0 8h0m0 2h0m1-61h0m0 6h0m0 2h0m0 1h0m0 6h0m0 2h0m0 2h0m0 2h0m0 1h0m0 4h0m0 1h0m0 4h0m0 3h0m0 2h0m0 1h0m0 2h0m0 4h0m0 4h0m0 1h0m0 13h0m1-72h0m0 5h0m0 3h0m0 4h0m0 7h0m0 5h0m0 4h0m0 1h0m0 3h0m0 1h0m0 1h0m0 2h0m0 1h0m0 2h0m0 1h0m0 1h0m0 2h0m0 1h0m0 1h0m0 11h0m0 1h0m0 2h0m0 6h0m1-48h0m0 10h0m0 5h0m0 1h0m0 2h0m0 2h0m0 20h0m0 2h0m0 1h0m1-43h0m0 5h0m0 1h0m0 3h0m0 4h0m0 3h0m0 1h0m0 1h0m0 1h0m0 4h0m0 1h0m0 1h0m0 4h0m0 2h0m0 4h0m0 1h0m0 3h0m0 3h0m0 1h0m1-70h0m0 19h0m0 7h0m0 2h0m0 2h0m0 5h0m0 1h0m0 2h0m0 2h0m0 1h0m0 9h0m0 2h0m0 1h0m0 3h0m0 8h0m0 1h0m1-65h0m0 5h0m0 20h0m0 13h0m0 2h0m0 2h0m0 1h0m0 4h0m0 2h0m0 1h0m0 3h0m0 9h0m0 6h0m0 1h0m0 17h0m0 2h0m1-68h0m0 3h0m0 4h0m0 3h0m0 3h0m0 6h0m0 3h0m0 1h0m0 5h0m0 1h0m0 1h0m0 2h0m0 3h0m0 1h0m0 1h0m0 1h0m0 1h0m0 1h0m0 7h0m0 3h0m0 15h0m1-63h0m0 5h0m0 1h0m0 3h0m0 2h0m0 4h0m0 2h0m0 2h0m0 4h0m0 7h0m0 11h0m0 2h0m0 2h0m0 2h0m0 1h0m0 1h0m0 1h0m0 2h0m1-51h0m0 4h0m0 3h0m0 7h0m0 4h0m0 6h0m0 1h0m0 1h0m0 1h0m0 2h0m0 2h0m0 1h0m0 4h0m0 3h0m0 1h0m0 5h0m1-59h0m0 7h0m0 4h0m0 3h0m0 4h0m0 4h0m0 4h0m0 2h0m0 3h0m0 3h0m0 3h0m0 1h0m0 1h0m0 2h0m0 1h0m0 1h0m0 2h0m0 4h0m0 1h0m0 3h0m0 2h0m0 2h0m0 7h0m0 6h0m1-65h0m0 1h0m0 3h0m0 5h0m0 12h0m0 14h0m0 1h0m0 5h0m0 1h0m0 1h0m0 2h0m0 1h0m0 1h0m0 7h0m0 3h0m0 6h0m0 7h0m1-61h0m0 1h0m0 6h0m0 31h0m1-24h0m0 13h0m1-19h0m3-11h0m0 6h0m0 23h0m1-23h0m0 16h0m0 22h0m1-30h0m0 43h0m1-39h0m1 10h0m1-20h0m0 23h0m1 0h0m2 1h0m0 15h0m4-8h0m5-28h0m3 13h0m1-8h0m0 16h0m0 6h0m0 1h0m0 4h0m1-74h0m0 21h0m0 28h0m0 15h0m3 24h0m2-34h0m1 3h0m0 4h0m0 27h0m1-40h0m1 1h0m2 14h0m0 5h0m1 2h0m1-19h0m0 9h0m0 23h0m1-60h0m0 13h0m1 44h0m1-37h0m0 23h0m0 6h0m1-32h0m1-5h0m1 9h0m1 21h0m0 1h0m1 12h0m1-50h0m3 58h0m1-42h0m0 2h0m0 35h0m2 9h0m1-46h0m0 6h0m1 48h0m1-33h0m2 9h0m0 10h0m1-43h0m0 5h0m0 30h0m1 10h0m1-20h0m1-32h0m0 13h0m0 32h0m1-31h0m0 14h0m2-7h0m1 6h0m0 3h0m1-20h0m0 35h0m1-13h0m1-45h0m1 19h0m0 4h0m1 7h0m3-21h0m1 0h0m0 10h0m0 6h0m1 36h0m1-40h0m1 1h0m0 11h0m0 28h0m2-34h0" stroke="#b9c7df" stroke-width="2.6" stroke-linecap="round" fill="none"/>
<path transform="scale(0.5) translate(.5 .5)" d="M322 1274h0m0 26h0m0 11h0m1-44h0m0 11h0m0 7h0m0 1h0m0 4h0m0 3h0m0 12h0m0 2h0m0 4h0m0 5h0m1-32h0m0 1h0m0 3h0m0 4h0m0 2h0m0 2h0m0 8h0m0 2h0m0 2h0m0 2h0m0 1h0m0 1h0m0 2h0m0 2h0m0 3h0m0 1h0m0 3h0m1-54h0m0 2h0m0 10h0m0 9h0m0 1h0m0 5h0m0 2h0m0 5h0m0 2h0m0 1h0m0 3h0m0 1h0m0 2h0m0 18h0m1-56h0m0 2h0m0 6h0m0 6h0m0 3h0m0 2h0m0 2h0m0 5h0m0 4h0m0 1h0m0 3h0m0 1h0m0 7h0m0 4h0m0 3h0m1-50h0m0 7h0m0 1h0m0 1h0m0 2h0m0 7h0m0 4h0m0 6h0m0 1h0m0 2h0m0 2h0m0 6h0m0 3h0m0 3h0m0 9h0m1-49h0m0 3h0m0 2h0m0 1h0m0 7h0m0 5h0m0 1h0m0 8h0m0 2h0m0 2h0m0 6h0m0 11h0m1-53h0m0 6h0m0 3h0m0 5h0m0 1h0m0 1h0m0 8h0m0 5h0m0 2h0m0 1h0m0 1h0m0 12h0m0 5h0m1-48h0m0 6h0m0 2h0m0 6h0m0 2h0m0 1h0m0 6h0m0 1h0m0 3h0m0 1h0m0 1h0m0 1h0m0 2h0m0 1h0m0 7h0m1-36h0m0 6h0m0 1h0m0 1h0m0 8h0m0 3h0m0 1h0m0 1h0m0 1h0m0 1h0m0 2h0m0 2h0m0 1h0m0 1h0m0 3h0m0 1h0m0 10h0m0 7h0m0 6h0m1-75h0m0 7h0m0 3h0m0 6h0m0 4h0m0 1h0m0 4h0m0 1h0m0 1h0m0 4h0m0 1h0m0 10h0m0 7h0m0 1h0m0 2h0m0 1h0m0 2h0m0 6h0m0 3h0m1-60h0m0 6h0m0 2h0m0 11h0m0 7h0m0 2h0m0 1h0m0 1h0m0 1h0m0 3h0m0 3h0m0 1h0m0 1h0m0 1h0m0 1h0m0 3h0m0 1h0m0 1h0m0 1h0m0 1h0m0 1h0m0 1h0m0 1h0m0 6h0m0 9h0m1-62h0m0 3h0m0 11h0m0 3h0m0 1h0m0 3h0m0 2h0m0 3h0m0 1h0m0 5h0m0 3h0m0 1h0m0 1h0m0 4h0m0 2h0m0 8h0m0 2h0m1-51h0m0 3h0m0 1h0m0 4h0m0 3h0m0 3h0m0 2h0m0 1h0m0 3h0m0 1h0m0 1h0m0 2h0m0 2h0m0 1h0m0 6h0m0 2h0m0 1h0m0 1h0m0 2h0m0 5h0m0 13h0m0 2h0m1-64h0m0 4h0m0 1h0m0 8h0m0 4h0m0 2h0m0 5h0m0 1h0m0 8h0m0 4h0m0 6h0m0 3h0m0 5h0m0 8h0m0 8h0m1-67h0m0 13h0m0 5h0m0 4h0m0 1h0m0 5h0m0 3h0m0 5h0m0 1h0m0 1h0m0 6h0m0 1h0m0 1h0m0 4h0m0 1h0m0 5h0m0 1h0m0 8h0m1-63h0m0 3h0m0 21h0m0 4h0m0 1h0m0 5h0m0 2h0m0 3h0m0 1h0m0 2h0m0 1h0m0 14h0m1-55h0m0 7h0m0 4h0m0 5h0m0 8h0m0 2h0m0 1h0m0 1h0m0 1h0m0 1h0m0 1h0m0 2h0m0 1h0m0 2h0m0 14h0m0 12h0m1-69h0m0 5h0m0 16h0m0 2h0m0 1h0m0 1h0m0 1h0m0 4h0m0 1h0m0 2h0m0 1h0m0 1h0m0 1h0m0 5h0m0 3h0m0 1h0m0 2h0m0 4h0m0 2h0m0 9h0m1-51h0m0 6h0m0 2h0m0 2h0m0 5h0m0 1h0m0 1h0m0 4h0m0 1h0m0 3h0m0 5h0m0 1h0m0 2h0m0 6h0m0 1h0m0 1h0m0 2h0m0 3h0m0 4h0m0 1h0m0 11h0m1-72h0m0 14h0m0 2h0m0 13h0m0 2h0m0 7h0m0 1h0m0 6h0m0 2h0m0 4h0m0 1h0m0 2h0m0 5h0m0 6h0m0 3h0m0 3h0m1-57h0m0 11h0m0 2h0m0 5h0m0 2h0m0 2h0m0 5h0m0 1h0m0 1h0m0 3h0m0 3h0m0 1h0m0 7h0m0 4h0m1-49h0m0 2h0m0 4h0m0 3h0m0 1h0m0 5h0m0 9h0m0 1h0m0 1h0m0 1h0m0 1h0m0 2h0m0 5h0m0 1h0m0 4h0m0 6h0m0 9h0m1-66h0m0 4h0m0 2h0m0 5h0m0 13h0m0 2h0m0 1h0m0 1h0m0 3h0m0 1h0m0 1h0m0 2h0m0 6h0m0 1h0m0 1h0m0 1h0m0 1h0m0 2h0m0 1h0m0 1h0m0 22h0m1-91h0m0 13h0m0 6h0m0 14h0m0 3h0m0 2h0m0 2h0m0 5h0m0 7h0m0 1h0m0 2h0m0 3h0m0 2h0m0 5h0m0 4h0m0 13h0m0 5h0m1-59h0m0 2h0m0 10h0m0 1h0m0 17h0m0 2h0m0 6h0m1-40h0m0 3h0m0 9h0m0 5h0m0 2h0m0 5h0m0 2h0m0 1h0m0 1h0m0 4h0m0 1h0m0 5h0m0 2h0m0 2h0m0 9h0m0 10h0m1-42h0m0 1h0m0 3h0m0 2h0m0 4h0m0 3h0m0 1h0m0 1h0m0 2h0m0 2h0m1-31h0m0 2h0m0 7h0m0 4h0m0 3h0m0 3h0m0 1h0m0 1h0m0 9h0m0 2h0m0 1h0m0 5h0m1-36h0m0 6h0m0 3h0m0 3h0m0 1h0m0 5h0m0 2h0m0 2h0m0 2h0m0 2h0m0 1h0m0 3h0m0 8h0m0 4h0m0 1h0m0 6h0m0 2h0m1-54h0m0 1h0m0 1h0m0 1h0m0 2h0m0 11h0m0 1h0m0 1h0m0 1h0m0 1h0m0 1h0m0 1h0m0 1h0m0 1h0m0 5h0m0 2h0m0 3h0m0 1h0m0 1h0m0 8h0m0 1h0m0 2h0m1-50h0m0 7h0m0 1h0m0 6h0m0 1h0m0 3h0m0 1h0m0 9h0m0 1h0m0 4h0m0 2h0m0 2h0m0 4h0m0 1h0m0 9h0m0 1h0m0 2h0m0 1h0m1-48h0m0 6h0m0 1h0m0 1h0m0 4h0m0 3h0m0 1h0m0 7h0m0 3h0m0 1h0m0 1h0m0 2h0m0 3h0m0 3h0m1-37h0m0 7h0m0 1h0m0 1h0m0 2h0m0 6h0m0 1h0m0 2h0m0 3h0m0 1h0m0 1h0m0 2h0m0 3h0m0 1h0m0 1h0m0 1h0m0 7h0m0 3h0m0 8h0m1-59h0m0 1h0m0 2h0m0 2h0m0 7h0m0 4h0m0 1h0m0 1h0m0 1h0m0 3h0m0 2h0m0 1h0m0 1h0m0 3h0m0 5h0m0 1h0m0 1h0m0 5h0m0 5h0m1-62h0m0 5h0m0 6h0m0 7h0m0 7h0m0 4h0m0 3h0m0 3h0m0 1h0m0 1h0m0 9h0m0 1h0m0 4h0m0 4h0m0 3h0m1-57h0m0 14h0m0 2h0m0 7h0m0 3h0m0 3h0m0 1h0m0 1h0m0 5h0m0 2h0m0 1h0m0 5h0m0 3h0m0 2h0m0 2h0m0 4h0m0 3h0m0 1h0m0 5h0m0 2h0m0 2h0m0 11h0m1-69h0m0 7h0m0 2h0m0 4h0m0 1h0m0 1h0m0 2h0m0 1h0m0 4h0m0 1h0m0 1h0m0 2h0m0 9h0m0 1h0m0 1h0m0 1h0m0 4h0m0 1h0m0 3h0m0 17h0m0 6h0m1-88h0m0 21h0m0 1h0m0 3h0m0 4h0m0 2h0m0 1h0m0 2h0m0 2h0m0 2h0m0 2h0m0 5h0m0 2h0m0 9h0m0 1h0m0 1h0m0 3h0m0 1h0m0 4h0m0 2h0m0 6h0m1-49h0m0 4h0m0 10h0m0 3h0m0 1h0m0 1h0m0 3h0m0 1h0m0 1h0m0 1h0m0 2h0m0 3h0m0 3h0m0 6h0m0 4h0m0 3h0m0 3h0m0 10h0m1-52h0m0 2h0m0 4h0m0 9h0m0 3h0m0 8h0m0 3h0m0 4h0m0 4h0m1-40h0m0 2h0m0 7h0m0 2h0m0 4h0m0 5h0m0 4h0m0 4h0m0 2h0m0 2h0m0 1h0m0 1h0m0 2h0m0 1h0m1-50h0m0 2h0m0 20h0m0 4h0m0 11h0m0 1h0m0 3h0m0 1h0m0 1h0m0 1h0m0 1h0m0 6h0m0 1h0m0 1h0m0 7h0m0 8h0m1-57h0m0 5h0m0 2h0m0 2h0m0 5h0m0 5h0m0 4h0m0 3h0m0 1h0m0 3h0m0 4h0m0 2h0m0 3h0m0 2h0m0 3h0m0 2h0m1-68h0m0 25h0m0 2h0m0 6h0m0 5h0m0 1h0m0 2h0m0 2h0m0 2h0m0 2h0m0 5h0m0 2h0m0 5h0m0 1h0m0 5h0m0 4h0m0 7h0m0 2h0m0 2h0m1-71h0m0 4h0m0 10h0m0 3h0m0 2h0m0 3h0m0 6h0m0 4h0m0 3h0m0 8h0m0 2h0m0 2h0m0 3h0m0 15h0m0 4h0m0 1h0m1-69h0m0 3h0m0 7h0m0 2h0m0 22h0m0 9h0m0 2h0m0 5h0m1-35h0m0 6h0m0 5h0m0 2h0m0 4h0m0 2h0m0 1h0m0 3h0m0 6h0m0 1h0m0 7h0m0 8h0m0 4h0m1-49h0m0 3h0m0 4h0m0 4h0m0 3h0m0 2h0m0 2h0m0 2h0m0 10h0m0 4h0m0 3h0m0 7h0m0 4h0m0 6h0m1-78h0m0 22h0m0 3h0m0 13h0m0 3h0m0 1h0m0 5h0m0 3h0m0 1h0m0 1h0m0 1h0m0 4h0m0 1h0m0 1h0m0 11h0m0 11h0m0 1h0m1-61h0m0 5h0m0 1h0m0 4h0m0 2h0m0 2h0m0 1h0m0 3h0m0 1h0m0 4h0m0 3h0m0 3h0m0 10h0m0 2h0m0 11h0m1-57h0m0 1h0m0 1h0m0 6h0m0 5h0m0 3h0m0 1h0m0 1h0m0 2h0m0 1h0m0 2h0m0 3h0m0 1h0m0 3h0m0 1h0m0 3h0m0 5h0m0 2h0m0 3h0m1-49h0m0 19h0m0 2h0m0 14h0m0 7h0m0 1h0m0 1h0m0 1h0m0 3h0m0 1h0m0 16h0m1-64h0m0 6h0m0 5h0m0 7h0m0 1h0m0 2h0m0 3h0m0 3h0m0 3h0m0 1h0m0 3h0m0 2h0m0 4h0m0 6h0m0 5h0m0 8h0m1-65h0m0 11h0m0 21h0m0 4h0m0 2h0m0 1h0m0 12h0m0 5h0m0 3h0m0 4h0m0 2h0m0 4h0m0 1h0m1-86h0m0 21h0m0 4h0m0 11h0m0 1h0m0 10h0m0 11h0m0 2h0m0 1h0m0 8h0m0 12h0m1-59h0m0 12h0m0 3h0m0 1h0m0 1h0m0 18h0m0 2h0m0 1h0m0 1h0m0 7h0m0 5h0m0 1h0m0 2h0m0 11h0m1-52h0m0 1h0m0 1h0m0 2h0m0 5h0m0 9h0m0 18h0m0 5h0m0 7h0m0 2h0m1-68h0m0 7h0m0 8h0m0 2h0m0 7h0m0 2h0m0 7h0m0 5h0m0 2h0m0 4h0m0 1h0m0 2h0m0 4h0m0 2h0m0 4h0m0 9h0m0 1h0m0 6h0m1-68h0m0 3h0m0 1h0m0 4h0m0 8h0m0 1h0m0 1h0m0 1h0m0 3h0m0 5h0m0 1h0m0 2h0m0 4h0m0 2h0m0 2h0m0 9h0m0 5h0m0 8h0m0 9h0m1-60h0m0 1h0m0 4h0m0 1h0m0 2h0m0 1h0m0 2h0m0 8h0m0 1h0m0 1h0m0 2h0m0 13h0m0 3h0m0 9h0m0 2h0m1-43h0m0 2h0m0 7h0m0 1h0m0 2h0m0 2h0m0 2h0m0 7h0m0 6h0m0 3h0m0 3h0m0 13h0m0 1h0m1-58h0m0 1h0m0 12h0m0 9h0m0 1h0m0 1h0m0 1h0m0 2h0m0 1h0m0 2h0m0 6h0m0 2h0m0 6h0m0 3h0m0 2h0m1-73h0m0 24h0m0 1h0m0 2h0m0 2h0m0 10h0m0 8h0m0 2h0m0 2h0m0 2h0m0 4h0m0 11h0m0 7h0m0 4h0m1-71h0m0 23h0m0 3h0m0 2h0m0 1h0m0 1h0m0 2h0m0 4h0m0 8h0m0 2h0m0 3h0m0 3h0m0 3h0m0 4h0m0 3h0m0 1h0m0 11h0m1-58h0m0 6h0m0 2h0m0 4h0m0 5h0m0 10h0m0 1h0m0 7h0m0 7h0m0 1h0m0 4h0m0 4h0m0 2h0m1-41h0m0 6h0m0 4h0m0 3h0m0 4h0m0 2h0m0 1h0m0 1h0m0 2h0m0 6h0m0 1h0m0 3h0m0 11h0m0 2h0m0 3h0m1-72h0m0 1h0m0 10h0m0 13h0m0 6h0m0 8h0m0 2h0m0 1h0m0 2h0m0 2h0m0 9h0m0 1h0m0 8h0m0 1h0m0 2h0m1-66h0m0 3h0m0 7h0m0 3h0m0 7h0m0 1h0m0 6h0m0 4h0m0 1h0m0 8h0m0 1h0m0 1h0m0 3h0m0 2h0m0 1h0m0 9h0m1-47h0m0 3h0m0 6h0m0 4h0m0 1h0m0 4h0m0 5h0m0 7h0m0 4h0m0 1h0m0 1h0m0 13h0m0 15h0m1-71h0m0 1h0m0 5h0m0 8h0m0 5h0m0 5h0m0 2h0m0 1h0m0 1h0m0 2h0m0 4h0m0 1h0m0 8h0m0 3h0m0 1h0m0 5h0m0 12h0m1-50h0m0 2h0m0 4h0m0 14h0m0 7h0m0 6h0m0 7h0m0 16h0m1-72h0m0 20h0m0 5h0m0 4h0m0 2h0m0 1h0m0 4h0m0 3h0m0 3h0m0 3h0m0 4h0m0 7h0m1-51h0m0 6h0m0 7h0m0 1h0m0 5h0m0 3h0m0 1h0m0 1h0m0 1h0m0 6h0m0 2h0m0 2h0m0 8h0m0 4h0m0 1h0m0 13h0m1-62h0m0 5h0m0 8h0m0 2h0m0 1h0m0 5h0m0 2h0m0 3h0m0 1h0m0 3h0m0 1h0m0 2h0m0 3h0m0 18h0m1-71h0m0 13h0m0 5h0m0 9h0m0 4h0m0 1h0m0 4h0m0 1h0m0 1h0m0 9h0m0 5h0m0 1h0m0 5h0m0 1h0m0 15h0m0 1h0m1-68h0m0 5h0m0 12h0m0 6h0m0 1h0m0 1h0m0 1h0m0 9h0m0 8h0m0 1h0m0 1h0m0 1h0m0 4h0m0 1h0m0 13h0m1-57h0m0 11h0m0 13h0m0 2h0m0 2h0m0 14h0m0 16h0m0 1h0m1-62h0m0 21h0m0 10h0m0 8h0m0 6h0m0 1h0m0 4h0m0 2h0m0 7h0m0 5h0m0 1h0m1-57h0m0 14h0m0 3h0m0 5h0m0 6h0m0 1h0m0 2h0m0 1h0m0 1h0m0 2h0m0 5h0m0 2h0m0 1h0m0 7h0m0 9h0m1-38h0m0 4h0m0 3h0m0 2h0m0 1h0m0 4h0m0 1h0m0 1h0m0 4h0m0 7h0m1-47h0m0 8h0m0 2h0m0 7h0m0 4h0m0 6h0m0 9h0m0 2h0m0 3h0m0 1h0m0 12h0m0 4h0m0 3h0m1-62h0m0 10h0m0 3h0m0 4h0m0 24h0m1-46h0m0 9h0m0 17h0m0 5h0m0 13h0m0 7h0m0 7h0m0 14h0m1-84h0m0 25h0m0 3h0m0 3h0m0 1h0m0 6h0m0 3h0m0 6h0m0 3h0m0 3h0m0 2h0m0 5h0m0 14h0m0 4h0m1-62h0m0 1h0m0 20h0m0 13h0m0 4h0m0 1h0m0 12h0m1-50h0m0 13h0m0 1h0m0 4h0m0 7h0m0 9h0m0 6h0m0 1h0m0 7h0m0 4h0m0 5h0m1-52h0m0 2h0m0 21h0m0 3h0m0 9h0m0 2h0m0 3h0m0 1h0m0 13h0m0 9h0m1-83h0m0 16h0m0 15h0m0 4h0m0 1h0m0 9h0m0 1h0m0 3h0m0 6h0m0 3h0m0 17h0m1-71h0m0 15h0m0 11h0m0 4h0m0 3h0m0 4h0m0 4h0m0 14h0m0 8h0m0 9h0m1-74h0m0 10h0m0 3h0m0 14h0m0 7h0m0 1h0m0 1h0m0 3h0m0 2h0m0 2h0m0 1h0m0 2h0m0 6h0m0 2h0m0 20h0m1-46h0m0 1h0m0 2h0m0 7h0m0 11h0m0 1h0m0 3h0m0 2h0m0 3h0m1-37h0m0 24h0m0 36h0m1-82h0m0 12h0m0 5h0m0 8h0m0 2h0m0 3h0m0 1h0m0 12h0m0 8h0m0 12h0m0 9h0m1-53h0m0 12h0m0 15h0m0 4h0m0 2h0m0 1h0m0 20h0m1-61h0m0 8h0m0 5h0m0 3h0m0 1h0m0 2h0m0 5h0m0 8h0m0 1h0m0 6h0m0 12h0m0 15h0m1-62h0m0 32h0m0 6h0m1-31h0m0 2h0m0 4h0m0 3h0m0 11h0m0 5h0m0 12h0m0 1h0m0 2h0m0 14h0m1-66h0m0 26h0m0 3h0m0 2h0m0 3h0m0 3h0m0 3h0m0 9h0m0 16h0m1-78h0m0 8h0m0 5h0m0 23h0m0 1h0m0 8h0m0 12h0m0 7h0m0 9h0m1-73h0m0 6h0m0 11h0m0 12h0m0 7h0m0 1h0m0 6h0m0 7h0m0 8h0m0 4h0m1-27h0m0 6h0m0 5h0m0 1h0m0 4h0m0 7h0m1-38h0m0 2h0m0 12h0m0 14h0m0 4h0m0 21h0m1-36h0m0 12h0m0 3h0m0 5h0m0 2h0m1-46h0m0 32h0m0 11h0m0 3h0m0 23h0m1-73h0m0 6h0m0 11h0m0 9h0m0 3h0m0 1h0m0 4h0m1-32h0m0 13h0m0 1h0m0 2h0m0 10h0m0 6h0m0 3h0m0 5h0m0 8h0m0 7h0m1-27h0m0 15h0m0 4h0m0 3h0m1-35h0m0 18h0m0 6h0m0 5h0m1-59h0m0 5h0m0 28h0m0 5h0m0 17h0m0 1h0m0 17h0m1-48h0m0 1h0m0 1h0m0 5h0m0 13h0m0 23h0m0 2h0m0 5h0m1-55h0m0 14h0m0 4h0m0 14h0m0 10h0m1-37h0m0 8h0m0 5h0m1 5h0m0 7h0m0 5h0m1-36h0m0 12h0m0 10h0m0 3h0m0 31h0m1-47h0m0 10h0m0 7h0m0 12h0m1-25h0m0 29h0m0 2h0m0 15h0m1-73h0m0 17h0m0 2h0m0 29h0m0 2h0m0 6h0m0 11h0m1-35h0m1-40h0m0 28h0m0 12h0m0 14h0m0 12h0m0 1h0m0 3h0m1-48h0m0 2h0m0 11h0m0 7h0m0 1h0m0 3h0m0 8h0m0 13h0m1-34h0m0 14h0m0 12h0m0 4h0m0 2h0m1-35h0m0 26h0m0 1h0m0 7h0m1-15h0m0 20h0m2-31h0m0 1h0m0 21h0m0 2h0m1-1h0m1 10h0m1-59h0m1 37h0m0 14h0m1-7h0m0 21h0m1-30h0m0 3h0" stroke="#f58b7a" stroke-width="2.6" stroke-linecap="round" fill="none"/>
<path d="M162.5 649.7L164.7 649.7L166.9 649.7L169.1 649.7L171.3 649.7L173.5 649.7L175.7 649.7L177.9 649.7L180.0 649.7L182.2 649.7L184.4 649.7L186.6 649.6L188.8 649.6L191.0 649.5L193.2 649.4L195.4 649.4L197.6 649.3L199.8 649.3L202.0 649.2L204.2 649.1L206.4 649.0L208.6 648.7L210.7 648.5L212.9 648.2L215.1 648.0L217.3 647.7L219.5 647.5L221.7 647.3L223.9 647.0L226.1 646.8" fill="none" stroke="#ef7664" stroke-width="1.8" stroke-linecap="round" opacity="0.8"/>
<path d="M141.3 648.5L143.3 648.0L145.4 647.5L147.4 647.0L149.5 646.5L151.5 646.0L153.6 645.5L155.6 645.0L157.7 644.5L159.7 644.0L161.8 643.4L163.8 643.0L165.9 642.7L167.9 642.4L170.0 642.0L172.0 641.7L174.1 641.4L176.1 641.0L178.1 640.7L180.2 640.3L182.2 640.0L184.3 639.6L186.3 639.2L188.4 638.8L190.4 638.4L192.5 637.9L194.5 637.5L196.6 637.1L198.6 636.7L200.7 636.2" fill="none" stroke="#9fb4d4" stroke-width="1.6" stroke-linecap="round" opacity="0.9"/>
<rect x="136.90" y="611.50" width="93.00" height="57.80" fill="none" stroke="#555" stroke-width="0.7" />
<path d="M141.30 669.30v2.4M162.50 669.30v2.4M183.70 669.30v2.4M204.90 669.30v2.4M226.10 669.30v2.4" fill="none" stroke="#444" stroke-width="0.6" />
<text x="183.40" y="608.80" font-size="7.6" text-anchor="middle" font-style="italic">MAVS</text>
<path d="M34.2 720.1L37.0 719.7L39.7 719.3L42.5 719.0L45.2 718.6L48.0 718.2L50.8 717.8L53.5 717.4L53.5 734.9L50.8 735.3L48.0 735.7L45.2 736.1L42.5 736.4L39.7 736.8L37.0 737.2L34.2 737.6Z" fill="#cdd7e8" filter="url(#soft1)" opacity="0.75"/>
<path d="M55.4 706.5L59.6 706.1L63.8 705.7L68.0 705.4L72.2 705.0L76.4 704.6L80.6 704.5L84.8 704.3L89.0 704.2L93.2 704.0L93.2 726.6L89.0 726.3L84.8 725.9L80.6 725.5L76.4 725.1L72.2 725.0L68.0 724.8L63.8 724.7L59.6 724.5L55.4 724.4Z" fill="#f9bbb1" filter="url(#soft1)" opacity="0.75"/>
<path transform="scale(0.5) translate(.5 .5)" d="M66 1450h0m0 7h0m0 3h0m1-24h0m0 5h0m0 5h0m0 2h0m0 2h0m0 3h0m0 7h0m0 1h0m0 8h0m0 1h0m0 2h0m1-55h0m0 8h0m0 11h0m0 2h0m0 2h0m0 6h0m0 2h0m0 3h0m0 2h0m0 3h0m0 1h0m0 5h0m0 1h0m0 1h0m0 3h0m0 5h0m0 2h0m0 7h0m0 5h0m1-52h0m0 3h0m0 1h0m0 6h0m0 1h0m0 1h0m0 5h0m0 1h0m0 1h0m0 4h0m0 3h0m0 4h0m0 1h0m0 2h0m1-41h0m0 4h0m0 8h0m0 1h0m0 2h0m0 1h0m0 12h0m0 1h0m0 1h0m0 1h0m0 2h0m0 1h0m0 2h0m0 1h0m0 1h0m0 3h0m0 3h0m0 1h0m0 6h0m0 4h0m0 2h0m1-49h0m0 3h0m0 1h0m0 2h0m0 2h0m0 3h0m0 5h0m0 1h0m0 6h0m0 5h0m0 1h0m0 1h0m0 1h0m0 2h0m0 1h0m0 1h0m0 3h0m0 2h0m1-49h0m0 17h0m0 4h0m0 3h0m0 1h0m0 2h0m0 2h0m0 2h0m0 2h0m0 2h0m0 5h0m0 4h0m0 4h0m0 3h0m0 7h0m1-45h0m0 1h0m0 1h0m0 6h0m0 1h0m0 1h0m0 1h0m0 4h0m0 1h0m0 5h0m0 3h0m0 2h0m0 6h0m0 5h0m0 1h0m0 1h0m0 4h0m0 2h0m0 2h0m1-48h0m0 3h0m0 1h0m0 2h0m0 6h0m0 1h0m0 2h0m0 1h0m0 1h0m0 1h0m0 1h0m0 4h0m0 2h0m0 5h0m0 17h0m1-64h0m0 3h0m0 3h0m0 5h0m0 3h0m0 4h0m0 1h0m0 3h0m0 2h0m0 1h0m0 2h0m0 2h0m0 6h0m0 1h0m0 5h0m0 1h0m0 2h0m0 1h0m0 1h0m0 1h0m0 2h0m0 5h0m0 3h0m0 1h0m0 8h0m1-57h0m0 13h0m0 1h0m0 2h0m0 2h0m0 1h0m0 2h0m0 1h0m0 6h0m0 3h0m0 1h0m0 1h0m0 1h0m0 5h0m0 5h0m0 6h0m0 5h0m1-68h0m0 14h0m0 5h0m0 2h0m0 5h0m0 1h0m0 3h0m0 2h0m0 2h0m0 2h0m0 3h0m0 1h0m0 1h0m0 1h0m0 5h0m0 2h0m0 1h0m0 7h0m0 3h0m0 7h0m1-59h0m0 6h0m0 1h0m0 9h0m0 2h0m0 7h0m0 1h0m0 1h0m0 3h0m0 1h0m0 4h0m0 1h0m0 2h0m0 1h0m0 1h0m0 1h0m0 1h0m0 2h0m0 3h0m0 1h0m0 2h0m0 2h0m0 2h0m0 2h0m0 6h0m1-67h0m0 1h0m0 7h0m0 7h0m0 2h0m0 3h0m0 6h0m0 5h0m0 5h0m0 4h0m0 1h0m0 2h0m0 4h0m0 2h0m0 15h0m1-46h0m0 4h0m0 1h0m0 1h0m0 1h0m0 2h0m0 1h0m0 1h0m0 1h0m0 1h0m0 1h0m0 1h0m0 3h0m0 2h0m0 1h0m0 2h0m0 4h0m0 1h0m0 1h0m0 1h0m0 1h0m0 3h0m1-45h0m0 6h0m0 7h0m0 1h0m0 2h0m0 1h0m0 1h0m0 5h0m0 5h0m0 3h0m0 1h0m0 1h0m0 2h0m0 7h0m0 4h0m0 5h0m0 1h0m0 3h0m1-63h0m0 7h0m0 2h0m0 1h0m0 3h0m0 6h0m0 4h0m0 3h0m0 5h0m0 3h0m0 1h0m0 1h0m0 1h0m0 7h0m0 1h0m0 1h0m0 8h0m0 1h0m0 1h0m0 6h0m1-57h0m0 2h0m0 10h0m0 2h0m0 3h0m0 1h0m0 3h0m0 1h0m0 7h0m0 5h0m0 2h0m0 1h0m0 2h0m0 1h0m0 1h0m0 1h0m0 13h0m0 3h0m0 4h0m1-69h0m0 2h0m0 12h0m0 8h0m0 1h0m0 1h0m0 2h0m0 1h0m0 1h0m0 2h0m0 1h0m0 3h0m0 2h0m0 3h0m0 5h0m0 2h0m0 2h0m0 2h0m0 1h0m0 2h0m0 1h0m0 1h0m0 5h0m0 3h0m1-53h0m0 6h0m0 2h0m0 7h0m0 1h0m0 7h0m0 1h0m0 1h0m0 1h0m0 1h0m0 2h0m0 3h0m0 2h0m0 1h0m0 4h0m0 1h0m0 4h0m0 3h0m0 5h0m0 8h0m1-51h0m0 1h0m0 5h0m0 4h0m0 3h0m0 2h0m0 2h0m0 3h0m0 1h0m0 4h0m0 1h0m0 15h0m0 8h0m1-60h0m0 11h0m0 2h0m0 1h0m0 8h0m0 1h0m0 3h0m0 2h0m0 4h0m0 2h0m0 2h0m0 2h0m0 1h0m0 1h0m0 2h0m0 1h0m0 2h0m0 2h0m0 1h0m0 4h0m1-46h0m0 3h0m0 4h0m0 4h0m0 1h0m0 4h0m0 1h0m0 6h0m0 3h0m0 1h0m0 1h0m0 2h0m0 1h0m0 9h0m0 4h0m0 1h0m0 2h0m0 1h0m0 1h0m1-56h0m0 1h0m0 14h0m0 2h0m0 2h0m0 2h0m0 5h0m0 3h0m0 4h0m0 1h0m0 1h0m0 1h0m0 1h0m0 1h0m0 5h0m0 2h0m0 1h0m1-41h0m0 2h0m0 5h0m0 5h0m0 2h0m0 4h0m0 4h0m0 2h0m0 1h0m0 1h0m0 4h0m0 1h0m0 3h0m0 1h0m0 1h0m0 5h0m0 3h0m0 1h0m0 5h0m0 4h0m1-50h0m0 2h0m0 2h0m0 5h0m0 2h0m0 2h0m0 1h0m0 1h0m0 2h0m0 5h0m0 7h0m0 7h0m0 5h0m0 2h0m1-46h0m0 5h0m0 4h0m0 6h0m0 2h0m0 9h0m0 2h0m0 2h0m0 1h0m0 1h0m0 1h0m0 2h0m0 5h0m1-50h0m0 2h0m0 9h0m0 5h0m0 3h0m0 2h0m0 4h0m0 2h0m0 10h0m0 2h0m0 4h0m0 2h0m0 3h0m0 11h0m0 7h0m1-72h0m0 9h0m0 5h0m0 6h0m0 8h0m0 1h0m0 1h0m0 6h0m0 2h0m0 5h0m0 1h0m0 1h0m0 1h0m0 2h0m0 3h0m0 4h0m0 1h0m0 14h0m1-53h0m0 1h0m0 1h0m0 2h0m0 2h0m0 1h0m0 2h0m0 6h0m0 2h0m0 2h0m0 1h0m0 2h0m0 1h0m0 1h0m0 3h0m0 1h0m0 4h0m0 1h0m0 1h0m0 2h0m0 1h0m0 7h0m0 1h0m1-44h0m0 7h0m0 3h0m0 2h0m0 2h0m0 2h0m0 1h0m0 2h0m0 3h0m0 1h0m0 8h0m0 2h0m0 3h0m0 3h0m0 3h0m0 6h0m0 3h0m1-56h0m0 12h0m0 2h0m0 3h0m0 1h0m0 4h0m0 2h0m0 3h0m0 2h0m0 4h0m0 1h0m0 1h0m0 1h0m0 2h0m0 4h0m0 2h0m0 2h0m0 1h0m0 1h0m0 7h0m1-65h0m0 1h0m0 26h0m0 1h0m0 4h0m0 1h0m0 1h0m0 1h0m0 1h0m0 2h0m0 1h0m0 3h0m0 2h0m0 5h0m0 2h0m0 1h0m0 6h0m0 2h0m0 4h0m1-56h0m0 10h0m0 1h0m0 1h0m0 2h0m0 1h0m0 3h0m0 1h0m0 2h0m0 1h0m0 7h0m0 2h0m0 1h0m0 2h0m0 5h0m0 2h0m0 1h0m0 4h0m0 8h0m0 6h0m0 2h0m1-60h0m0 8h0m0 4h0m0 5h0m0 1h0m0 1h0m0 6h0m0 1h0m0 1h0m0 2h0m0 1h0m0 1h0m0 1h0m0 3h0m0 2h0m0 7h0m0 1h0m0 5h0m1-64h0m0 7h0m0 11h0m0 1h0m0 18h0m0 2h0m0 4h0m0 1h0m0 2h0m0 1h0m0 1h0m0 1h0m0 1h0m0 1h0m0 3h0m0 1h0m0 2h0m1-49h0m0 2h0m0 7h0m0 11h0m0 1h0m0 5h0m0 1h0m0 1h0m0 1h0m0 1h0m0 1h0m0 2h0m0 1h0m0 2h0m0 2h0m0 1h0m0 1h0m0 8h0m0 1h0m0 2h0m0 7h0m0 4h0m1-38h0m0 2h0m0 3h0m0 3h0m0 2h0m0 1h0m0 2h0m0 1h0m0 8h0m0 12h0m0 2h0m1-56h0m0 7h0m0 3h0m0 2h0m0 8h0m0 3h0m0 4h0m0 3h0m0 1h0m0 1h0m0 2h0m0 1h0m0 2h0m0 4h0m0 2h0m0 7h0m0 5h0m1-57h0m0 4h0m0 4h0m0 1h0m0 1h0m0 3h0m0 5h0m0 1h0m0 2h0m0 1h0m0 4h0m0 3h0m0 2h0m0 1h0m0 2h0m0 1h0m0 3h0m0 4h0m0 2h0m0 1h0m0 1h0m0 2h0m0 3h0m0 2h0m0 3h0m1-62h0m0 21h0m0 4h0m0 7h0m0 5h0m0 2h0m0 1h0m0 1h0m0 4h0m0 1h0m0 2h0m1-26h0m0 4h0m0 2h0m0 9h0m0 2h0m0 6h0m0 1h0m0 1h0m0 2h0m0 1h0m0 7h0m1-68h0m0 41h0m0 2h0m0 1h0m0 4h0m0 1h0m0 10h0m0 1h0m0 2h0m1-21h0m0 8h0m0 6h0m0 2h0m2-21h0m1-2h0m0 6h0m1-10h0m0 5h0m0 20h0m1 10h0m2-40h0m1-4h0m0 26h0m1 6h0m0 6h0m1-31h0m0 38h0m1-18h0m1 2h0m1 12h0m2-17h0m0 17h0m1-31h0m2 17h0m2-15h0m0 7h0m0 9h0m1-8h0m2 10h0m0 6h0m1-17h0m0 8h0m1 8h0m1-26h0m0 18h0m0 25h0m1-24h0m1-9h0m0 9h0m1 14h0m1-32h0m0 3h0m0 5h0m1 9h0m1-9h0m0 9h0m1-3h0m1-5h0m0 3h0m1-5h0m1 0h0m1 5h0m2-25h0m0 41h0m1-10h0m0 5h0m1-11h0m0 7h0m2 14h0m1-36h0m0 14h0m1 0h0m2-18h0m0 34h0m5-6h0m0 15h0m3-24h0m0 14h0m1-12h0m0 32h0m2-24h0m1-18h0m0 6h0m2 9h0m1 8h0m0 11h0m2-42h0m1 9h0m1 21h0m1-6h0m2-14h0m0 1h0m3 2h0m1-15h0m0 11h0m0 13h0m3-24h0m0 37h0m1-24h0m1-5h0m1-2h0m0 41h0m1-7h0m1-8h0" stroke="#b9c7df" stroke-width="2.6" stroke-linecap="round" fill="none"/>
<path transform="scale(0.5) translate(.5 .5)" d="M107 1423h0m0 17h0m1-55h0m0 20h0m0 5h0m0 3h0m0 8h0m0 1h0m0 1h0m0 3h0m0 2h0m0 2h0m0 1h0m0 4h0m0 2h0m0 3h0m0 4h0m0 1h0m0 13h0m0 8h0m1-67h0m0 3h0m0 2h0m0 19h0m0 3h0m0 8h0m0 3h0m0 1h0m0 8h0m0 11h0m0 2h0m0 15h0m1-77h0m0 20h0m0 2h0m0 5h0m0 1h0m0 2h0m0 1h0m0 5h0m0 3h0m0 8h0m0 7h0m0 1h0m0 2h0m0 1h0m1-52h0m0 7h0m0 1h0m0 2h0m0 4h0m0 6h0m0 2h0m0 4h0m0 1h0m0 3h0m0 3h0m0 1h0m0 6h0m0 1h0m0 4h0m0 10h0m0 14h0m1-63h0m0 6h0m0 4h0m0 2h0m0 2h0m0 3h0m0 3h0m0 1h0m0 2h0m0 4h0m0 4h0m0 2h0m0 1h0m0 13h0m0 3h0m1-65h0m0 12h0m0 9h0m0 1h0m0 6h0m0 3h0m0 1h0m0 3h0m0 1h0m0 1h0m0 2h0m0 3h0m0 2h0m0 1h0m0 1h0m0 5h0m0 4h0m0 1h0m0 3h0m0 3h0m0 1h0m1-60h0m0 11h0m0 4h0m0 1h0m0 4h0m0 1h0m0 2h0m0 1h0m0 11h0m0 3h0m0 4h0m0 3h0m0 2h0m0 7h0m1-45h0m0 12h0m0 5h0m0 1h0m0 4h0m0 1h0m0 3h0m0 2h0m0 3h0m0 2h0m0 10h0m0 1h0m0 1h0m1-34h0m0 5h0m0 4h0m0 1h0m0 9h0m0 3h0m0 5h0m0 12h0m0 12h0m1-69h0m0 9h0m0 2h0m0 2h0m0 6h0m0 1h0m0 1h0m0 1h0m0 1h0m0 2h0m0 1h0m0 2h0m0 6h0m0 2h0m0 5h0m0 5h0m1-56h0m0 2h0m0 12h0m0 4h0m0 5h0m0 6h0m0 1h0m0 3h0m0 14h0m0 6h0m0 6h0m0 2h0m0 2h0m0 24h0m0 6h0m1-83h0m0 2h0m0 5h0m0 8h0m0 3h0m0 7h0m0 1h0m0 1h0m0 4h0m0 1h0m0 1h0m0 3h0m0 3h0m0 1h0m0 6h0m0 1h0m0 2h0m0 10h0m0 6h0m1-65h0m0 3h0m0 12h0m0 6h0m0 4h0m0 3h0m0 2h0m0 1h0m0 2h0m0 1h0m0 1h0m0 2h0m0 1h0m0 1h0m0 3h0m0 6h0m0 2h0m0 10h0m0 11h0m0 12h0m1-85h0m0 5h0m0 4h0m0 3h0m0 2h0m0 3h0m0 2h0m0 2h0m0 1h0m0 2h0m0 3h0m0 8h0m0 1h0m0 1h0m0 2h0m0 3h0m0 10h0m0 3h0m0 6h0m1-73h0m0 18h0m0 7h0m0 10h0m0 2h0m0 8h0m0 3h0m0 1h0m0 2h0m0 2h0m0 3h0m0 1h0m0 4h0m0 1h0m0 5h0m0 3h0m1-71h0m0 14h0m0 5h0m0 6h0m0 1h0m0 6h0m0 4h0m0 2h0m0 2h0m0 3h0m0 1h0m0 9h0m0 4h0m0 1h0m0 1h0m0 1h0m0 5h0m0 10h0m0 1h0m1-52h0m0 6h0m0 3h0m0 1h0m0 1h0m0 8h0m0 2h0m0 2h0m0 2h0m0 2h0m0 1h0m0 2h0m0 1h0m0 1h0m0 2h0m0 5h0m0 1h0m0 2h0m0 2h0m0 2h0m0 5h0m1-52h0m0 4h0m0 4h0m0 3h0m0 1h0m0 10h0m0 2h0m0 4h0m0 2h0m0 1h0m0 3h0m0 2h0m0 5h0m0 3h0m0 4h0m1-60h0m0 11h0m0 4h0m0 10h0m0 4h0m0 3h0m0 8h0m0 2h0m0 1h0m0 2h0m0 1h0m0 1h0m0 1h0m0 8h0m0 12h0m1-61h0m0 10h0m0 4h0m0 6h0m0 1h0m0 2h0m0 1h0m0 4h0m0 3h0m0 4h0m0 1h0m0 5h0m0 2h0m0 1h0m0 20h0m0 17h0m1-89h0m0 11h0m0 5h0m0 5h0m0 1h0m0 1h0m0 6h0m0 1h0m0 3h0m0 1h0m0 1h0m0 1h0m0 1h0m0 3h0m0 6h0m0 1h0m0 1h0m0 10h0m0 4h0m0 1h0m1-50h0m0 1h0m0 5h0m0 7h0m0 2h0m0 2h0m0 1h0m0 6h0m0 3h0m0 1h0m0 1h0m0 2h0m0 3h0m0 2h0m0 4h0m0 4h0m0 1h0m0 1h0m0 5h0m1-73h0m0 17h0m0 4h0m0 11h0m0 1h0m0 9h0m0 1h0m0 3h0m0 2h0m0 1h0m0 1h0m0 1h0m0 2h0m0 7h0m0 3h0m0 2h0m0 1h0m0 4h0m0 1h0m1-51h0m0 2h0m0 5h0m0 9h0m0 1h0m0 1h0m0 3h0m0 4h0m0 2h0m0 1h0m0 1h0m0 1h0m0 1h0m0 1h0m0 3h0m0 1h0m0 1h0m0 1h0m0 2h0m0 1h0m0 3h0m0 14h0m0 5h0m1-68h0m0 9h0m0 2h0m0 2h0m0 1h0m0 1h0m0 2h0m0 4h0m0 13h0m0 23h0m0 8h0m1-71h0m0 3h0m0 2h0m0 3h0m0 5h0m0 2h0m0 3h0m0 2h0m0 2h0m0 1h0m0 7h0m0 3h0m0 1h0m0 1h0m0 3h0m0 7h0m0 13h0m0 17h0m1-64h0m0 9h0m0 3h0m0 1h0m0 4h0m0 2h0m0 1h0m0 2h0m0 4h0m0 2h0m0 1h0m0 6h0m0 4h0m0 3h0m0 5h0m1-58h0m0 6h0m0 6h0m0 1h0m0 1h0m0 5h0m0 1h0m0 2h0m0 6h0m0 2h0m0 1h0m0 3h0m0 2h0m0 5h0m0 1h0m0 1h0m0 6h0m0 1h0m0 2h0m0 18h0m0 5h0m0 8h0m1-86h0m0 4h0m0 6h0m0 8h0m0 2h0m0 5h0m0 2h0m0 1h0m0 1h0m0 5h0m0 2h0m0 2h0m0 1h0m0 1h0m0 1h0m0 4h0m0 7h0m0 1h0m0 1h0m0 2h0m0 1h0m0 1h0m0 1h0m0 4h0m0 10h0m0 1h0m1-75h0m0 7h0m0 11h0m0 2h0m0 5h0m0 3h0m0 1h0m0 1h0m0 6h0m0 3h0m0 1h0m0 1h0m0 2h0m0 2h0m0 5h0m0 5h0m0 1h0m0 1h0m0 1h0m0 9h0m0 5h0m1-74h0m0 7h0m0 13h0m0 1h0m0 1h0m0 2h0m0 10h0m0 3h0m0 2h0m0 6h0m0 2h0m0 2h0m0 1h0m0 6h0m0 6h0m0 3h0m0 10h0m0 3h0m1-64h0m0 11h0m0 3h0m0 2h0m0 6h0m0 2h0m0 9h0m0 1h0m0 3h0m0 1h0m0 4h0m0 4h0m0 2h0m0 4h0m0 6h0m0 4h0m1-66h0m0 17h0m0 2h0m0 3h0m0 3h0m0 5h0m0 1h0m0 6h0m0 3h0m0 2h0m0 10h0m1-54h0m0 4h0m0 4h0m0 9h0m0 9h0m0 5h0m0 4h0m0 1h0m0 3h0m0 2h0m0 3h0m0 1h0m0 3h0m0 11h0m0 3h0m0 1h0m1-72h0m0 15h0m0 1h0m0 10h0m0 4h0m0 2h0m0 2h0m0 3h0m0 1h0m0 2h0m0 6h0m0 1h0m0 1h0m0 1h0m0 1h0m0 7h0m0 33h0m1-75h0m0 1h0m0 10h0m0 1h0m0 1h0m0 1h0m0 4h0m0 3h0m0 1h0m0 1h0m0 1h0m0 7h0m0 5h0m0 7h0m0 1h0m0 10h0m0 9h0m0 8h0m0 3h0m1-81h0m0 9h0m0 1h0m0 5h0m0 2h0m0 2h0m0 2h0m0 4h0m0 6h0m0 1h0m0 4h0m0 6h0m0 1h0m0 1h0m0 3h0m0 2h0m0 2h0m0 3h0m0 5h0m0 1h0m0 2h0m0 14h0m1-84h0m0 13h0m0 8h0m0 2h0m0 1h0m0 4h0m0 4h0m0 2h0m0 4h0m0 5h0m0 1h0m0 11h0m0 17h0m0 3h0m1-78h0m0 6h0m0 15h0m0 2h0m0 6h0m0 11h0m0 3h0m0 1h0m0 4h0m0 1h0m0 11h0m0 1h0m1-63h0m0 13h0m0 8h0m0 6h0m0 1h0m0 1h0m0 2h0m0 1h0m0 2h0m0 2h0m0 5h0m0 3h0m0 4h0m0 2h0m0 4h0m0 2h0m0 7h0m0 1h0m0 14h0m1-72h0m0 8h0m0 14h0m0 7h0m0 5h0m0 9h0m0 2h0m0 1h0m0 3h0m0 10h0m0 3h0m0 4h0m0 10h0m1-85h0m0 30h0m0 3h0m0 4h0m0 1h0m0 3h0m0 10h0m0 1h0m0 4h0m0 8h0m0 4h0m0 22h0m0 11h0m1-80h0m0 6h0m0 6h0m0 2h0m0 4h0m0 1h0m0 1h0m0 2h0m0 1h0m0 4h0m0 2h0m0 4h0m0 4h0m0 12h0m0 2h0m0 2h0m0 3h0m0 2h0m1-69h0m0 6h0m0 6h0m0 8h0m0 1h0m0 2h0m0 5h0m0 1h0m0 3h0m0 6h0m0 3h0m0 1h0m0 3h0m0 2h0m0 11h0m0 3h0m0 3h0m0 9h0m0 1h0m1-71h0m0 11h0m0 2h0m0 3h0m0 4h0m0 4h0m0 1h0m0 2h0m0 3h0m0 7h0m0 5h0m0 6h0m0 3h0m0 2h0m0 3h0m0 4h0m0 2h0m0 5h0m1-52h0m0 9h0m0 6h0m0 2h0m0 3h0m0 2h0m0 2h0m0 2h0m0 2h0m0 2h0m0 9h0m0 3h0m0 1h0m0 1h0m0 25h0m1-63h0m0 3h0m0 7h0m0 1h0m0 1h0m0 5h0m0 1h0m0 1h0m0 2h0m0 3h0m0 7h0m0 6h0m0 3h0m0 26h0m1-78h0m0 2h0m0 2h0m0 3h0m0 1h0m0 8h0m0 2h0m0 7h0m0 8h0m0 1h0m0 1h0m0 8h0m0 3h0m0 3h0m0 8h0m0 15h0m0 4h0m1-95h0m0 8h0m0 27h0m0 1h0m0 1h0m0 1h0m0 1h0m0 2h0m0 6h0m0 1h0m0 5h0m0 2h0m0 4h0m0 2h0m0 1h0m0 3h0m0 14h0m1-63h0m0 10h0m0 1h0m0 2h0m0 2h0m0 10h0m0 3h0m0 2h0m0 7h0m0 5h0m0 4h0m0 1h0m0 1h0m0 3h0m0 2h0m0 7h0m0 17h0m1-90h0m0 12h0m0 8h0m0 5h0m0 1h0m0 3h0m0 5h0m0 2h0m0 4h0m0 5h0m0 1h0m0 1h0m0 4h0m0 1h0m0 4h0m0 1h0m0 1h0m0 3h0m0 1h0m0 1h0m0 4h0m0 1h0m0 1h0m0 1h0m0 3h0m0 2h0m0 2h0m0 3h0m1-59h0m0 2h0m0 3h0m0 4h0m0 1h0m0 9h0m0 4h0m0 6h0m0 1h0m0 11h0m0 9h0m0 3h0m0 3h0m1-71h0m0 2h0m0 5h0m0 4h0m0 1h0m0 6h0m0 5h0m0 3h0m0 1h0m0 3h0m0 3h0m0 5h0m0 2h0m0 3h0m0 1h0m0 5h0m0 3h0m0 2h0m0 5h0m1-55h0m0 1h0m0 6h0m0 20h0m0 6h0m0 2h0m0 3h0m0 2h0m0 3h0m0 1h0m0 4h0m0 3h0m0 6h0m0 1h0m0 19h0m1-75h0m0 5h0m0 10h0m0 5h0m0 1h0m0 1h0m0 1h0m0 1h0m0 3h0m0 4h0m0 1h0m0 4h0m0 1h0m0 1h0m0 10h0m0 1h0m0 1h0m0 11h0m0 10h0m0 4h0m1-76h0m0 12h0m0 3h0m0 2h0m0 9h0m0 1h0m0 2h0m0 5h0m0 1h0m0 14h0m0 1h0m0 4h0m0 10h0m0 6h0m1-74h0m0 11h0m0 18h0m0 2h0m0 4h0m0 1h0m0 1h0m0 5h0m0 8h0m0 1h0m0 1h0m0 2h0m0 19h0m0 1h0m1-74h0m0 9h0m0 9h0m0 3h0m0 2h0m0 1h0m0 8h0m0 2h0m0 5h0m0 2h0m0 1h0m0 1h0m0 6h0m0 4h0m0 3h0m0 2h0m0 10h0m0 3h0m0 5h0m1-69h0m0 14h0m0 1h0m0 7h0m0 4h0m0 6h0m0 6h0m0 1h0m0 5h0m0 3h0m0 7h0m0 1h0m0 5h0m0 8h0m0 1h0m1-73h0m0 11h0m0 3h0m0 10h0m0 15h0m0 4h0m0 3h0m0 3h0m0 2h0m0 1h0m0 1h0m1-67h0m0 16h0m0 3h0m0 3h0m0 8h0m0 6h0m0 4h0m0 4h0m0 6h0m0 3h0m0 2h0m0 4h0m0 1h0m0 6h0m0 5h0m0 11h0m1-61h0m0 5h0m0 3h0m0 1h0m0 2h0m0 6h0m0 2h0m0 6h0m0 2h0m0 2h0m0 2h0m0 1h0m0 4h0m1-46h0m0 25h0m0 1h0m0 10h0m0 3h0m0 6h0m0 16h0m1-65h0m0 21h0m0 12h0m0 4h0m0 4h0m0 3h0m0 2h0m0 1h0m0 5h0m0 2h0m0 4h0m0 18h0m1-55h0m0 2h0m0 3h0m0 3h0m0 7h0m0 1h0m0 1h0m0 1h0m0 7h0m0 22h0m1-72h0m0 1h0m0 2h0m0 21h0m0 4h0m0 4h0m0 2h0m0 5h0m0 11h0m0 5h0m0 2h0m0 9h0m0 1h0m0 1h0m0 3h0m0 2h0m0 2h0m0 18h0m1-85h0m0 16h0m0 11h0m0 3h0m0 3h0m0 5h0m0 9h0m0 16h0m0 2h0m0 9h0m0 1h0m0 6h0m1-77h0m0 6h0m0 4h0m0 8h0m0 8h0m0 3h0m0 4h0m0 16h0m0 3h0m0 2h0m0 2h0m0 1h0m0 7h0m1-61h0m0 9h0m0 3h0m0 1h0m0 5h0m0 2h0m0 2h0m0 4h0m0 15h0m0 11h0m0 4h0m0 31h0m1-102h0m0 9h0m0 13h0m0 7h0m0 1h0m0 2h0m0 9h0m0 3h0m0 5h0m0 3h0m0 13h0m0 6h0m0 9h0m1-63h0m0 6h0m0 1h0m0 13h0m0 3h0m0 2h0m0 9h0m0 5h0m0 3h0m0 3h0m0 5h0m0 2h0m0 9h0m1-79h0m0 18h0m0 3h0m0 3h0m0 6h0m0 3h0m0 1h0m0 3h0m0 9h0m0 1h0m0 1h0m0 13h0m0 3h0m0 3h0m0 4h0m0 5h0m0 5h0m0 4h0m0 6h0m1-83h0m0 15h0m0 3h0m0 2h0m0 7h0m0 8h0m0 3h0m0 1h0m0 19h0m0 4h0m0 1h0m0 5h0m0 2h0m1-56h0m0 6h0m0 15h0m0 1h0m0 5h0m0 9h0m0 7h0m1-38h0m0 1h0m0 3h0m0 2h0m0 9h0m0 1h0m0 7h0m0 4h0m0 6h0m0 8h0m0 6h0m0 12h0m0 4h0m1-71h0m0 4h0m0 1h0m0 5h0m0 7h0m0 5h0m0 10h0m0 19h0m1-56h0m0 9h0m0 2h0m0 5h0m0 4h0m0 2h0m0 13h0m0 3h0m0 11h0m0 1h0m0 1h0m0 4h0m0 15h0m1-67h0m0 10h0m0 6h0m0 8h0m0 3h0m0 8h0m0 12h0m0 5h0m0 9h0m0 1h0m0 6h0m1-86h0m0 10h0m0 13h0m0 11h0m0 4h0m0 2h0m0 4h0m0 4h0m0 1h0m0 3h0m0 4h0m0 4h0m0 2h0m0 3h0m0 5h0m0 2h0m0 5h0m1-55h0m0 2h0m0 9h0m0 2h0m0 4h0m0 3h0m0 15h0m0 2h0m0 11h0m0 2h0m0 2h0m0 8h0m1-56h0m0 2h0m0 7h0m0 3h0m0 3h0m0 5h0m0 2h0m0 18h0m0 10h0m0 11h0m1-70h0m0 3h0m0 14h0m0 6h0m0 2h0m0 4h0m0 7h0m0 4h0m0 3h0m0 1h0m0 12h0m0 5h0m1-84h0m0 8h0m0 8h0m0 24h0m0 7h0m0 1h0m0 7h0m0 5h0m0 11h0m0 1h0m0 9h0m0 21h0m1-70h0m0 7h0m0 5h0m0 1h0m0 2h0m0 4h0m0 3h0m0 2h0m0 5h0m0 8h0m0 7h0m0 2h0m0 3h0m1-73h0m0 12h0m0 7h0m0 2h0m0 11h0m0 7h0m0 4h0m0 3h0m0 1h0m0 5h0m0 2h0m0 1h0m0 5h0m0 7h0m0 1h0m0 4h0m0 4h0m1-56h0m0 9h0m0 20h0m0 2h0m0 3h0m0 1h0m0 12h0m1-44h0m0 17h0m0 5h0m0 2h0m0 1h0m0 3h0m0 4h0m0 8h0m0 1h0m0 1h0m0 3h0m0 10h0m1-76h0m0 20h0m0 13h0m0 9h0m0 4h0m0 1h0m0 2h0m0 3h0m0 6h0m0 3h0m0 13h0m1-48h0m0 2h0m0 12h0m0 1h0m0 1h0m0 3h0m0 18h0m0 3h0m1-47h0m0 16h0m0 3h0m0 7h0m0 18h0m0 15h0m1-40h0m0 9h0m0 4h0m1-46h0m0 19h0m0 1h0m0 12h0m0 2h0m0 7h0m0 1h0m0 3h0m0 12h0m1-51h0m0 2h0m0 6h0m0 2h0m0 4h0m0 5h0m0 2h0m0 9h0m0 2h0m0 2h0m0 9h0m0 8h0m0 6h0m1-48h0m0 12h0m0 2h0m0 2h0m0 20h0m0 23h0m1-55h0m0 16h0m0 14h0m0 5h0m0 1h0m0 6h0m0 8h0m0 5h0m0 3h0m1-73h0m0 25h0m0 1h0m0 4h0m0 1h0m0 7h0m0 8h0m0 4h0m0 16h0m1-73h0m0 2h0m0 12h0m0 15h0m0 5h0m0 5h0m0 10h0m0 14h0m1-63h0m0 5h0m0 6h0m0 4h0m0 5h0m0 1h0m0 6h0m0 4h0m0 8h0m0 3h0m0 1h0m0 4h0m0 4h0m1-37h0m0 4h0m0 16h0m0 16h0m0 4h0m0 3h0m0 32h0m1-77h0m0 3h0m0 1h0m0 3h0m0 8h0m0 2h0m0 40h0m0 4h0m1-67h0m0 3h0m0 5h0m0 9h0m0 1h0m0 2h0m0 1h0m0 2h0m0 7h0m0 17h0m0 19h0m0 6h0m1-78h0m0 18h0m0 5h0m0 24h0m0 2h0m0 8h0m0 25h0m0 9h0m1-89h0m0 16h0m0 6h0m0 10h0m0 11h0m0 8h0m0 6h0m0 8h0m1-38h0m0 7h0m0 17h0m0 40h0m1-64h0m0 28h0m0 6h0m0 22h0m1-64h0m0 9h0m0 2h0m0 2h0m0 17h0m0 2h0m0 4h0m0 12h0m1-70h0m0 51h0m1-40h0m0 18h0m1-2h0m0 29h0m1-46h0m0 10h0m0 2h0m0 7h0m0 6h0m0 1h0m0 9h0m0 1h0m0 6h0m0 9h0m0 16h0m1-16h0m1-55h0m0 15h0m0 9h0m0 3h0m0 3h0m0 12h0m0 2h0m1-31h0m0 10h0m0 6h0m0 14h0m0 21h0m1-65h0m0 24h0m0 7h0m0 4h0m0 7h0m0 11h0m0 3h0m0 19h0m1-45h0m0 4h0m0 5h0m1-42h0m0 9h0m0 10h0m0 29h0m0 1h0m0 3h0m0 2h0m1-1h0m0 9h0m0 3h0m1-56h0m0 37h0m0 5h0m0 2h0m0 10h0m0 4h0m1-79h0m0 58h0m0 33h0m1-31h0m0 1h0m0 12h0m1-34h0m1 48h0m1-61h0m0 37h0m1-58h0m0 26h0m0 22h0m0 1h0m0 4h0m0 2h0m1-29h0m0 8h0m0 15h0m1-10h0m1-2h0m0 14h0m0 5h0m2 0h0m1-3h0m1 14h0m1 13h0" stroke="#f58b7a" stroke-width="2.6" stroke-linecap="round" fill="none"/>
<path d="M55.0 715.4L57.2 715.4L59.4 715.3L61.6 715.3L63.8 715.2L66.0 715.1L68.2 715.1L70.4 715.0L72.5 715.0L74.7 714.9L76.9 714.9L79.1 714.9L81.3 715.0L83.5 715.1L85.7 715.1L87.9 715.2L90.1 715.2L92.3 715.3L94.5 715.4L96.7 715.4L98.9 715.4L101.1 715.3L103.2 715.3L105.4 715.2L107.6 715.2L109.8 715.1L112.0 715.0L114.2 715.0L116.4 714.9L118.6 714.9" fill="none" stroke="#ef7664" stroke-width="1.8" stroke-linecap="round" opacity="0.8"/>
<path d="M33.8 729.5L35.8 729.2L37.9 728.9L39.9 728.6L42.0 728.4L44.0 728.1L46.1 727.8L48.1 727.5L50.2 727.2L52.2 726.9L54.3 726.7L56.3 726.3L58.4 725.8L60.4 725.4L62.5 724.9L64.5 724.5L66.6 724.0L68.6 723.6L70.6 723.1L72.7 722.6L74.7 722.2L76.8 721.8L78.8 721.4L80.9 721.1L82.9 720.7L85.0 720.4L87.0 720.0L89.1 719.7L91.1 719.3L93.2 719.0" fill="none" stroke="#9fb4d4" stroke-width="1.6" stroke-linecap="round" opacity="0.9"/>
<rect x="29.40" y="686.60" width="93.00" height="57.80" fill="none" stroke="#555" stroke-width="0.7" />
<text x="25.80" y="735.78" font-size="6.3" text-anchor="end">0.25</text>
<text x="25.80" y="721.15" font-size="6.3" text-anchor="end">0.50</text>
<text x="25.80" y="706.53" font-size="6.3" text-anchor="end">0.75</text>
<text x="25.80" y="691.90" font-size="6.3" text-anchor="end">1.00</text>
<path d="M33.80 744.40v2.4M55.00 744.40v2.4M76.20 744.40v2.4M97.40 744.40v2.4M118.60 744.40v2.4M27.00 733.58H29.4M27.00 718.95H29.4M27.00 704.33H29.4M27.00 689.70H29.4" fill="none" stroke="#444" stroke-width="0.6" />
<text x="75.90" y="683.90" font-size="7.6" text-anchor="middle" font-style="italic">SELENOS</text>
<text x="33.80" y="754.30" font-size="6.8" text-anchor="middle">0</text>
<text x="55.00" y="754.30" font-size="6.8" text-anchor="middle">1</text>
<text x="76.20" y="754.30" font-size="6.8" text-anchor="middle">2</text>
<text x="97.40" y="754.30" font-size="6.8" text-anchor="middle">3</text>
<text x="118.60" y="754.30" font-size="6.8" text-anchor="middle">4</text>
<path d="M141.7 712.3L144.5 712.2L147.2 712.0L150.0 711.9L152.7 711.7L155.5 711.6L158.3 711.4L161.0 711.3L161.0 731.5L158.3 731.6L155.5 731.8L152.7 731.9L150.0 732.1L147.2 732.2L144.5 732.4L141.7 732.5Z" fill="#cdd7e8" filter="url(#soft1)" opacity="0.75"/>
<path d="M162.9 718.6L167.1 718.6L171.3 718.6L175.5 718.6L179.7 718.5L183.9 718.5L188.1 718.4L192.3 718.3L196.5 718.2L200.7 718.1L200.7 738.3L196.5 738.0L192.3 737.6L188.1 737.3L183.9 736.9L179.7 736.5L175.5 736.0L171.3 735.5L167.1 735.1L162.9 734.6Z" fill="#f9bbb1" filter="url(#soft1)" opacity="0.75"/>
<path transform="scale(0.5) translate(.5 .5)" d="M281 1433h0m0 4h0m0 31h0m1-54h0m0 5h0m0 22h0m0 6h0m0 1h0m0 9h0m1-38h0m0 8h0m0 2h0m0 3h0m0 5h0m0 3h0m0 2h0m0 1h0m0 5h0m0 2h0m0 4h0m0 7h0m0 2h0m0 7h0m0 4h0m0 6h0m1-60h0m0 2h0m0 6h0m0 1h0m0 5h0m0 1h0m0 5h0m0 4h0m0 1h0m0 4h0m0 4h0m0 1h0m0 1h0m0 1h0m0 1h0m0 1h0m0 1h0m0 1h0m0 2h0m0 4h0m0 3h0m0 7h0m0 2h0m0 8h0m1-65h0m0 7h0m0 4h0m0 5h0m0 4h0m0 1h0m0 2h0m0 1h0m0 3h0m0 1h0m0 1h0m0 9h0m0 5h0m0 6h0m0 11h0m1-67h0m0 7h0m0 9h0m0 1h0m0 1h0m0 3h0m0 3h0m0 5h0m0 1h0m0 1h0m0 1h0m0 1h0m0 4h0m0 3h0m0 1h0m0 1h0m0 2h0m0 4h0m1-79h0m0 26h0m0 5h0m0 1h0m0 6h0m0 2h0m0 2h0m0 2h0m0 2h0m0 4h0m0 4h0m0 5h0m0 4h0m0 1h0m0 5h0m0 6h0m0 1h0m0 3h0m0 1h0m0 1h0m0 1h0m0 6h0m0 1h0m1-65h0m0 4h0m0 2h0m0 7h0m0 3h0m0 1h0m0 8h0m0 3h0m0 1h0m0 1h0m0 7h0m0 9h0m0 6h0m0 4h0m0 17h0m1-59h0m0 4h0m0 1h0m0 5h0m0 7h0m0 1h0m0 2h0m0 1h0m0 3h0m0 5h0m0 2h0m0 2h0m0 2h0m0 6h0m0 4h0m0 1h0m0 14h0m1-77h0m0 26h0m0 6h0m0 4h0m0 3h0m0 1h0m0 4h0m0 6h0m0 4h0m0 3h0m0 4h0m0 4h0m1-58h0m0 3h0m0 7h0m0 7h0m0 2h0m0 2h0m0 1h0m0 3h0m0 2h0m0 1h0m0 4h0m0 4h0m0 4h0m0 1h0m0 4h0m0 2h0m0 2h0m0 1h0m0 2h0m0 8h0m0 3h0m0 3h0m1-59h0m0 9h0m0 5h0m0 2h0m0 1h0m0 8h0m0 5h0m0 7h0m0 1h0m0 1h0m0 4h0m0 2h0m0 11h0m1-63h0m0 9h0m0 4h0m0 1h0m0 6h0m0 2h0m0 3h0m0 4h0m0 1h0m0 1h0m0 7h0m0 2h0m0 1h0m0 10h0m0 7h0m0 2h0m1-52h0m0 2h0m0 5h0m0 1h0m0 1h0m0 1h0m0 3h0m0 1h0m0 3h0m0 1h0m0 3h0m0 1h0m0 1h0m0 1h0m0 1h0m0 1h0m0 1h0m0 5h0m0 3h0m0 2h0m0 4h0m0 5h0m0 5h0m1-42h0m0 2h0m0 2h0m0 1h0m0 1h0m0 2h0m0 3h0m0 2h0m0 2h0m0 1h0m0 3h0m0 1h0m0 5h0m0 2h0m0 5h0m0 2h0m0 6h0m0 6h0m0 4h0m0 2h0m1-73h0m0 8h0m0 4h0m0 1h0m0 1h0m0 7h0m0 1h0m0 2h0m0 1h0m0 1h0m0 2h0m0 8h0m0 1h0m0 4h0m0 2h0m0 1h0m0 1h0m0 3h0m0 1h0m0 3h0m0 1h0m0 2h0m0 7h0m0 5h0m1-64h0m0 12h0m0 4h0m0 2h0m0 2h0m0 1h0m0 2h0m0 1h0m0 6h0m0 3h0m0 1h0m0 5h0m0 1h0m0 2h0m0 9h0m0 2h0m0 5h0m0 5h0m0 9h0m1-78h0m0 8h0m0 7h0m0 3h0m0 2h0m0 5h0m0 2h0m0 1h0m0 8h0m0 3h0m0 1h0m0 9h0m0 1h0m0 2h0m0 1h0m0 1h0m0 1h0m0 14h0m0 3h0m1-52h0m0 5h0m0 4h0m0 2h0m0 1h0m0 1h0m0 1h0m0 2h0m0 1h0m0 2h0m0 5h0m0 2h0m0 1h0m0 2h0m0 3h0m0 1h0m0 2h0m0 5h0m0 2h0m0 10h0m1-58h0m0 5h0m0 4h0m0 4h0m0 1h0m0 1h0m0 2h0m0 3h0m0 7h0m0 4h0m0 2h0m0 5h0m0 1h0m0 3h0m0 2h0m0 2h0m0 1h0m0 14h0m1-66h0m0 8h0m0 9h0m0 1h0m0 3h0m0 1h0m0 12h0m0 1h0m0 3h0m0 2h0m0 4h0m0 5h0m0 7h0m0 1h0m0 2h0m0 3h0m0 2h0m1-63h0m0 2h0m0 6h0m0 4h0m0 4h0m0 3h0m0 1h0m0 2h0m0 1h0m0 2h0m0 1h0m0 1h0m0 1h0m0 8h0m0 4h0m0 2h0m0 4h0m0 12h0m1-68h0m0 8h0m0 9h0m0 1h0m0 1h0m0 1h0m0 1h0m0 1h0m0 1h0m0 2h0m0 6h0m0 3h0m0 1h0m0 3h0m0 1h0m0 1h0m0 5h0m0 3h0m0 6h0m0 2h0m0 8h0m0 14h0m1-84h0m0 11h0m0 7h0m0 1h0m0 1h0m0 4h0m0 3h0m0 4h0m0 2h0m0 2h0m0 1h0m0 2h0m0 1h0m0 1h0m0 2h0m0 3h0m0 5h0m0 4h0m0 2h0m0 1h0m0 1h0m0 2h0m0 3h0m0 1h0m1-46h0m0 12h0m0 3h0m0 1h0m0 2h0m0 2h0m0 2h0m0 2h0m0 2h0m0 1h0m0 10h0m0 1h0m0 1h0m0 2h0m0 8h0m0 1h0m0 5h0m1-55h0m0 3h0m0 3h0m0 3h0m0 4h0m0 3h0m0 8h0m0 1h0m0 2h0m0 2h0m0 2h0m0 2h0m0 2h0m0 1h0m0 5h0m0 1h0m0 14h0m0 4h0m0 3h0m1-67h0m0 4h0m0 8h0m0 3h0m0 9h0m0 3h0m0 2h0m0 1h0m0 8h0m0 2h0m0 3h0m0 5h0m0 1h0m0 2h0m0 6h0m0 16h0m1-74h0m0 8h0m0 5h0m0 2h0m0 7h0m0 12h0m0 8h0m0 2h0m0 2h0m0 4h0m0 11h0m1-57h0m0 4h0m0 14h0m0 2h0m0 7h0m0 1h0m0 3h0m0 1h0m0 3h0m0 4h0m0 1h0m0 2h0m0 3h0m0 1h0m0 1h0m0 1h0m0 2h0m0 4h0m1-43h0m0 1h0m0 6h0m0 1h0m0 1h0m0 2h0m0 1h0m0 5h0m0 3h0m0 6h0m0 4h0m0 5h0m0 1h0m0 10h0m0 4h0m1-70h0m0 8h0m0 2h0m0 5h0m0 5h0m0 3h0m0 5h0m0 2h0m0 1h0m0 1h0m0 2h0m0 1h0m0 1h0m0 2h0m0 6h0m0 1h0m0 3h0m0 5h0m0 1h0m0 2h0m0 5h0m0 12h0m0 6h0m1-82h0m0 10h0m0 10h0m0 4h0m0 1h0m0 1h0m0 6h0m0 6h0m0 1h0m0 1h0m0 2h0m0 5h0m0 10h0m0 1h0m0 1h0m0 3h0m0 3h0m0 7h0m1-63h0m0 2h0m0 5h0m0 2h0m0 6h0m0 10h0m0 2h0m0 2h0m0 1h0m0 2h0m0 6h0m0 14h0m0 5h0m0 2h0m0 1h0m1-66h0m0 21h0m0 2h0m0 4h0m0 2h0m0 2h0m0 1h0m0 1h0m0 2h0m0 4h0m0 1h0m0 1h0m0 2h0m0 3h0m0 1h0m0 1h0m0 3h0m0 3h0m0 1h0m0 3h0m0 3h0m0 3h0m0 6h0m1-85h0m0 23h0m0 6h0m0 1h0m0 3h0m0 2h0m0 3h0m0 7h0m0 4h0m0 2h0m0 1h0m0 2h0m0 12h0m0 1h0m0 6h0m0 6h0m1-58h0m0 4h0m0 8h0m0 1h0m0 1h0m0 4h0m0 2h0m0 3h0m0 2h0m0 4h0m0 1h0m0 1h0m0 1h0m0 1h0m0 1h0m0 7h0m0 6h0m0 4h0m0 7h0m0 1h0m1-77h0m0 2h0m0 8h0m0 13h0m0 11h0m0 1h0m0 3h0m0 1h0m0 4h0m0 2h0m0 1h0m0 2h0m0 5h0m0 2h0m0 7h0m0 1h0m0 4h0m0 1h0m0 1h0m0 3h0m0 1h0m0 3h0m1-64h0m0 15h0m0 2h0m0 4h0m0 4h0m0 3h0m0 3h0m0 1h0m0 4h0m0 3h0m0 1h0m0 3h0m0 6h0m0 2h0m0 5h0m0 2h0m1-52h0m0 12h0m0 5h0m0 7h0m0 6h0m0 2h0m0 1h0m0 1h0m0 1h0m0 5h0m0 3h0m0 3h0m0 3h0m1-55h0m0 7h0m0 6h0m0 2h0m0 2h0m0 7h0m0 3h0m0 3h0m0 3h0m0 1h0m0 2h0m0 2h0m0 3h0m0 3h0m0 5h0m0 4h0m0 3h0m0 1h0m0 6h0m0 2h0m0 9h0m1-58h0m0 1h0m0 3h0m0 2h0m0 3h0m0 1h0m0 6h0m0 2h0m0 1h0m0 1h0m0 1h0m0 1h0m0 1h0m0 2h0m0 3h0m0 3h0m0 1h0m0 1h0m0 7h0m1-45h0m0 6h0m0 3h0m0 4h0m0 1h0m0 1h0m0 1h0m0 5h0m0 6h0m0 2h0m0 2h0m0 3h0m0 1h0m0 1h0m0 2h0m0 1h0m0 22h0m1-81h0m0 24h0m0 8h0m0 2h0m0 15h0m0 3h0m0 6h0m1-5h0m0 3h0m1-32h0m3-2h0m0 14h0m0 14h0m1 6h0m1-33h0m0 34h0m0 6h0m1-22h0m0 28h0m1-37h0m0 9h0m1-15h0m1-7h0m1 20h0m0 27h0m1-61h0m2 53h0m1-6h0m3-7h0m3-24h0m1 2h0m0 13h0m0 17h0m2-34h0m1 19h0m2-26h0m0 32h0m0 1h0m1-8h0m1-21h0m0 38h0m2-18h0m0 13h0m1-45h0m0 24h0m0 27h0m0 16h0m1-8h0m1-25h0m2-1h0m1-4h0m1-18h0m1 37h0m1-30h0m1 23h0m2-11h0m0 10h0m0 1h0m3-2h0m1-23h0m2 30h0m1-7h0m0 14h0m1 17h0m1-52h0m1 31h0m0 13h0m5-40h0m0 5h0m1-2h0m0 30h0m1-16h0m1-8h0m0 48h0m1-43h0m0 6h0m0 36h0m1-52h0m1-9h0m2 19h0m0 13h0m0 10h0m1 23h0m1-31h0m1-1h0m1-1h0m3-16h0m0 12h0m0 5h0m0 13h0m1-46h0m0 23h0m0 17h0m2-35h0m0 38h0m2-24h0m0 11h0m2-10h0" stroke="#b9c7df" stroke-width="2.6" stroke-linecap="round" fill="none"/>
<path transform="scale(0.5) translate(.5 .5)" d="M322 1441h0m0 34h0m1-50h0m0 1h0m0 2h0m0 14h0m0 12h0m0 1h0m0 7h0m0 1h0m0 6h0m0 9h0m1-50h0m0 3h0m0 3h0m0 9h0m0 1h0m0 1h0m0 1h0m0 3h0m0 1h0m0 1h0m0 2h0m0 1h0m0 2h0m0 18h0m1-45h0m0 8h0m0 7h0m0 1h0m0 2h0m0 4h0m0 1h0m0 7h0m0 1h0m0 7h0m0 3h0m0 10h0m0 1h0m1-57h0m0 2h0m0 7h0m0 11h0m0 7h0m0 5h0m0 3h0m0 1h0m0 2h0m0 1h0m0 3h0m0 3h0m0 2h0m0 5h0m1-53h0m0 5h0m0 4h0m0 3h0m0 10h0m0 1h0m0 1h0m0 1h0m0 2h0m0 4h0m0 1h0m0 1h0m0 1h0m0 19h0m1-42h0m0 3h0m0 3h0m0 1h0m0 1h0m0 1h0m0 1h0m0 1h0m0 2h0m0 3h0m0 1h0m0 2h0m0 2h0m0 2h0m0 1h0m0 3h0m0 2h0m0 5h0m0 1h0m0 3h0m0 9h0m1-55h0m0 11h0m0 1h0m0 1h0m0 4h0m0 3h0m0 2h0m0 1h0m0 3h0m0 4h0m0 1h0m0 6h0m0 1h0m0 3h0m0 4h0m1-41h0m0 9h0m0 1h0m0 1h0m0 1h0m0 1h0m0 2h0m0 2h0m0 5h0m0 1h0m0 1h0m0 1h0m0 1h0m0 7h0m0 2h0m0 1h0m0 3h0m0 4h0m0 5h0m0 2h0m1-66h0m0 12h0m0 11h0m0 2h0m0 3h0m0 2h0m0 7h0m0 3h0m0 2h0m0 2h0m0 6h0m0 3h0m0 1h0m0 5h0m0 5h0m1-45h0m0 2h0m0 9h0m0 1h0m0 6h0m0 4h0m0 3h0m0 1h0m0 3h0m0 8h0m0 11h0m0 3h0m0 1h0m1-60h0m0 5h0m0 5h0m0 2h0m0 4h0m0 1h0m0 1h0m0 9h0m0 3h0m0 5h0m0 15h0m0 1h0m0 3h0m0 5h0m1-55h0m0 4h0m0 6h0m0 1h0m0 4h0m0 3h0m0 6h0m0 3h0m0 1h0m0 2h0m0 1h0m0 2h0m0 1h0m0 4h0m0 3h0m0 3h0m1-54h0m0 3h0m0 6h0m0 1h0m0 3h0m0 9h0m0 2h0m0 2h0m0 6h0m0 2h0m0 1h0m0 3h0m0 4h0m0 1h0m0 2h0m0 2h0m0 1h0m0 1h0m0 2h0m0 9h0m1-44h0m0 1h0m0 7h0m0 5h0m0 2h0m0 2h0m0 1h0m0 1h0m0 1h0m0 1h0m0 2h0m0 3h0m0 2h0m0 7h0m1-52h0m0 1h0m0 4h0m0 11h0m0 5h0m0 9h0m0 1h0m0 5h0m0 3h0m0 5h0m0 8h0m0 6h0m1-46h0m0 9h0m0 2h0m0 3h0m0 1h0m0 1h0m0 1h0m0 1h0m0 1h0m0 4h0m0 2h0m0 2h0m0 1h0m0 1h0m0 1h0m0 1h0m0 1h0m0 2h0m0 2h0m0 6h0m0 13h0m1-62h0m0 6h0m0 11h0m0 1h0m0 1h0m0 5h0m0 2h0m0 4h0m0 3h0m0 1h0m0 2h0m0 2h0m0 11h0m0 3h0m0 2h0m0 6h0m0 1h0m1-57h0m0 1h0m0 6h0m0 2h0m0 4h0m0 4h0m0 1h0m0 1h0m0 4h0m0 6h0m0 1h0m0 12h0m0 2h0m1-60h0m0 10h0m0 9h0m0 6h0m0 3h0m0 2h0m0 1h0m0 4h0m0 2h0m0 1h0m0 1h0m0 4h0m0 8h0m0 1h0m0 1h0m0 4h0m0 9h0m1-61h0m0 17h0m0 1h0m0 5h0m0 6h0m0 3h0m0 1h0m0 3h0m0 3h0m0 4h0m0 7h0m0 3h0m1-64h0m0 27h0m0 2h0m0 2h0m0 4h0m0 2h0m0 1h0m0 2h0m0 1h0m0 6h0m0 2h0m0 6h0m0 3h0m0 3h0m0 1h0m0 1h0m0 3h0m0 8h0m0 6h0m1-64h0m0 13h0m0 2h0m0 2h0m0 2h0m0 2h0m0 1h0m0 2h0m0 3h0m0 4h0m0 7h0m0 1h0m0 2h0m0 3h0m0 3h0m0 1h0m0 1h0m0 1h0m0 4h0m0 4h0m1-61h0m0 3h0m0 8h0m0 10h0m0 6h0m0 1h0m0 1h0m0 3h0m0 1h0m0 2h0m0 2h0m0 1h0m0 1h0m0 3h0m0 7h0m0 3h0m0 2h0m0 4h0m1-53h0m0 1h0m0 2h0m0 13h0m0 2h0m0 1h0m0 2h0m0 3h0m0 3h0m0 1h0m0 3h0m0 2h0m0 1h0m0 7h0m0 1h0m0 1h0m0 7h0m1-53h0m0 10h0m0 1h0m0 1h0m0 6h0m0 2h0m0 2h0m0 3h0m0 1h0m0 1h0m0 5h0m0 3h0m0 15h0m0 3h0m0 3h0m1-50h0m0 5h0m0 2h0m0 1h0m0 3h0m0 3h0m0 8h0m0 3h0m0 1h0m0 2h0m0 2h0m0 1h0m0 1h0m0 1h0m0 1h0m0 3h0m0 4h0m0 3h0m0 1h0m0 1h0m0 1h0m1-39h0m0 4h0m0 1h0m0 3h0m0 6h0m0 4h0m0 2h0m0 3h0m0 1h0m0 2h0m0 2h0m0 2h0m0 7h0m0 2h0m0 1h0m0 4h0m0 4h0m1-58h0m0 14h0m0 2h0m0 1h0m0 1h0m0 1h0m0 5h0m0 1h0m0 2h0m0 1h0m0 1h0m0 2h0m0 4h0m0 2h0m0 1h0m0 3h0m0 3h0m0 5h0m0 1h0m0 2h0m1-42h0m0 5h0m0 2h0m0 2h0m0 2h0m0 1h0m0 8h0m0 4h0m0 3h0m0 5h0m0 1h0m0 1h0m0 4h0m0 1h0m0 5h0m0 3h0m1-64h0m0 22h0m0 4h0m0 1h0m0 1h0m0 5h0m0 2h0m0 1h0m0 2h0m0 1h0m0 1h0m0 1h0m0 4h0m0 7h0m0 5h0m0 5h0m0 1h0m0 5h0m1-75h0m0 26h0m0 3h0m0 1h0m0 3h0m0 1h0m0 1h0m0 2h0m0 3h0m0 2h0m0 4h0m0 7h0m0 6h0m0 2h0m0 4h0m0 2h0m0 1h0m0 1h0m1-42h0m0 8h0m0 2h0m0 2h0m0 3h0m0 1h0m0 11h0m0 2h0m0 6h0m0 7h0m0 7h0m1-66h0m0 9h0m0 7h0m0 6h0m0 1h0m0 1h0m0 1h0m0 3h0m0 1h0m0 1h0m0 5h0m0 1h0m0 1h0m0 4h0m0 1h0m0 2h0m0 5h0m0 1h0m0 2h0m0 6h0m0 3h0m1-50h0m0 3h0m0 1h0m0 1h0m0 3h0m0 1h0m0 3h0m0 9h0m0 4h0m0 9h0m0 2h0m0 1h0m0 5h0m1-32h0m0 4h0m0 2h0m0 2h0m0 2h0m0 2h0m0 8h0m0 2h0m0 7h0m1-41h0m0 6h0m0 1h0m0 5h0m0 4h0m0 1h0m0 3h0m0 1h0m0 5h0m0 6h0m0 4h0m0 1h0m0 3h0m0 1h0m0 15h0m1-61h0m0 3h0m0 7h0m0 2h0m0 1h0m0 2h0m0 4h0m0 2h0m0 1h0m0 8h0m0 4h0m0 3h0m0 1h0m0 2h0m0 3h0m0 1h0m1-34h0m0 1h0m0 4h0m0 1h0m0 1h0m0 4h0m0 5h0m0 1h0m0 1h0m0 14h0m0 4h0m0 2h0m0 11h0m1-61h0m0 8h0m0 1h0m0 2h0m0 11h0m0 1h0m0 1h0m0 1h0m0 2h0m0 2h0m0 3h0m0 1h0m0 1h0m0 2h0m0 3h0m0 2h0m0 1h0m0 2h0m0 8h0m0 2h0m1-44h0m0 3h0m0 6h0m0 2h0m0 1h0m0 1h0m0 4h0m0 2h0m0 3h0m0 3h0m0 3h0m0 5h0m0 3h0m0 3h0m0 4h0m0 1h0m0 3h0m0 5h0m1-58h0m0 8h0m0 6h0m0 3h0m0 1h0m0 12h0m0 1h0m0 9h0m0 2h0m0 4h0m0 3h0m0 1h0m0 3h0m0 2h0m1-61h0m0 11h0m0 2h0m0 7h0m0 1h0m0 4h0m0 3h0m0 3h0m0 1h0m0 4h0m0 9h0m0 1h0m0 3h0m0 4h0m0 6h0m1-84h0m0 27h0m0 11h0m0 4h0m0 1h0m0 11h0m0 3h0m0 2h0m0 6h0m0 1h0m0 3h0m0 5h0m0 2h0m0 1h0m0 1h0m0 3h0m0 4h0m0 1h0m1-76h0m0 25h0m0 9h0m0 9h0m0 5h0m0 1h0m0 1h0m0 2h0m0 6h0m0 2h0m0 3h0m0 2h0m0 3h0m0 8h0m0 2h0m1-47h0m0 5h0m0 6h0m0 2h0m0 3h0m0 3h0m0 8h0m0 6h0m0 2h0m0 7h0m0 1h0m0 5h0m1-58h0m0 1h0m0 7h0m0 2h0m0 4h0m0 3h0m0 1h0m0 3h0m0 3h0m0 8h0m0 1h0m0 2h0m0 2h0m0 2h0m0 3h0m0 2h0m0 5h0m0 4h0m0 2h0m1-63h0m0 5h0m0 8h0m0 4h0m0 10h0m0 8h0m0 1h0m0 2h0m0 1h0m0 4h0m0 6h0m0 2h0m0 2h0m0 3h0m0 2h0m0 2h0m0 2h0m0 1h0m1-52h0m0 1h0m0 4h0m0 3h0m0 7h0m0 3h0m0 2h0m0 7h0m0 2h0m0 1h0m0 3h0m0 1h0m0 5h0m0 1h0m0 2h0m0 1h0m0 7h0m1-40h0m0 5h0m0 2h0m0 2h0m0 5h0m0 1h0m0 2h0m0 1h0m0 3h0m0 3h0m0 1h0m0 3h0m0 1h0m0 5h0m0 2h0m0 10h0m1-57h0m0 5h0m0 6h0m0 2h0m0 1h0m0 6h0m0 2h0m0 1h0m0 1h0m0 2h0m0 3h0m0 1h0m0 2h0m0 1h0m0 1h0m0 9h0m0 1h0m0 6h0m1-52h0m0 10h0m0 5h0m0 2h0m0 8h0m0 3h0m0 2h0m0 2h0m0 1h0m0 1h0m0 2h0m0 2h0m0 1h0m0 6h0m0 9h0m0 3h0m1-56h0m0 13h0m0 8h0m0 1h0m0 1h0m0 1h0m0 1h0m0 2h0m0 4h0m0 4h0m0 2h0m0 1h0m0 9h0m0 5h0m0 2h0m0 3h0m1-76h0m0 8h0m0 10h0m0 10h0m0 7h0m0 3h0m0 1h0m0 3h0m0 3h0m0 5h0m0 1h0m0 6h0m0 2h0m0 5h0m1-54h0m0 14h0m0 2h0m0 4h0m0 1h0m0 1h0m0 2h0m0 7h0m0 3h0m0 2h0m0 5h0m0 1h0m0 1h0m0 1h0m1-41h0m0 7h0m0 1h0m0 2h0m0 1h0m0 9h0m0 5h0m0 1h0m0 1h0m0 2h0m0 1h0m0 2h0m0 3h0m0 1h0m0 2h0m0 1h0m0 3h0m0 7h0m0 3h0m0 7h0m0 1h0m1-54h0m0 1h0m0 5h0m0 5h0m0 5h0m0 1h0m0 2h0m0 2h0m0 3h0m0 3h0m0 1h0m0 7h0m0 7h0m0 5h0m0 5h0m0 3h0m0 3h0m1-53h0m0 13h0m0 8h0m0 4h0m0 8h0m0 3h0m0 2h0m0 1h0m0 10h0m0 2h0m1-51h0m0 1h0m0 2h0m0 2h0m0 3h0m0 2h0m0 2h0m0 3h0m0 4h0m0 1h0m0 7h0m0 3h0m0 1h0m0 14h0m1-69h0m0 28h0m0 7h0m0 5h0m0 5h0m0 3h0m0 11h0m0 2h0m0 3h0m0 2h0m0 3h0m0 2h0m0 6h0m1-65h0m0 3h0m0 8h0m0 4h0m0 16h0m0 1h0m0 3h0m0 3h0m0 1h0m0 1h0m0 4h0m0 5h0m0 1h0m0 1h0m0 4h0m0 3h0m0 6h0m1-61h0m0 1h0m0 2h0m0 2h0m0 1h0m0 14h0m0 3h0m0 1h0m0 4h0m0 1h0m0 3h0m0 6h0m0 1h0m0 2h0m0 1h0m0 2h0m0 5h0m0 14h0m1-45h0m0 7h0m0 1h0m0 10h0m0 7h0m0 16h0m0 2h0m1-46h0m0 2h0m0 7h0m0 1h0m0 4h0m0 6h0m0 7h0m0 1h0m0 1h0m0 2h0m0 3h0m0 3h0m0 2h0m0 1h0m0 3h0m0 1h0m1-48h0m0 13h0m0 5h0m0 3h0m0 2h0m0 1h0m0 3h0m0 2h0m0 1h0m0 1h0m0 1h0m0 3h0m0 6h0m0 4h0m0 4h0m1-50h0m0 11h0m0 4h0m0 1h0m0 4h0m0 1h0m0 2h0m0 4h0m0 2h0m0 9h0m0 7h0m0 3h0m1-38h0m0 2h0m0 1h0m0 3h0m0 1h0m0 1h0m0 4h0m0 7h0m0 1h0m0 6h0m0 4h0m0 1h0m0 4h0m0 7h0m1-58h0m0 5h0m0 6h0m0 2h0m0 1h0m0 8h0m0 3h0m0 2h0m0 1h0m0 5h0m0 4h0m0 2h0m0 2h0m0 8h0m0 1h0m0 1h0m0 1h0m0 3h0m1-44h0m0 3h0m0 3h0m0 2h0m0 4h0m0 4h0m0 5h0m0 2h0m0 5h0m0 7h0m0 2h0m0 2h0m0 4h0m1-55h0m0 9h0m0 6h0m0 1h0m0 9h0m0 2h0m0 2h0m0 4h0m0 2h0m0 4h0m0 2h0m0 3h0m0 1h0m0 2h0m1-54h0m0 2h0m0 25h0m0 1h0m0 2h0m0 1h0m0 10h0m0 1h0m0 4h0m0 1h0m0 4h0m0 7h0m1-63h0m0 10h0m0 9h0m0 17h0m0 1h0m0 5h0m0 3h0m0 3h0m0 5h0m0 9h0m0 1h0m0 3h0m1-49h0m0 14h0m0 3h0m0 1h0m0 1h0m0 3h0m0 12h0m0 4h0m0 12h0m1-78h0m0 18h0m0 12h0m0 2h0m0 8h0m0 4h0m0 3h0m0 7h0m0 2h0m0 10h0m0 1h0m0 1h0m0 5h0m1-37h0m0 6h0m0 1h0m0 29h0m0 3h0m0 6h0m1-48h0m0 1h0m0 5h0m0 9h0m0 5h0m0 27h0m1-69h0m0 27h0m0 8h0m0 2h0m0 1h0m0 3h0m0 3h0m0 2h0m0 3h0m0 2h0m0 4h0m0 5h0m0 7h0m0 2h0m0 2h0m1-55h0m0 18h0m0 1h0m0 1h0m0 3h0m0 12h0m0 1h0m0 2h0m0 8h0m1-56h0m0 6h0m0 2h0m0 6h0m0 5h0m0 7h0m0 7h0m0 1h0m0 1h0m0 1h0m0 2h0m0 4h0m0 13h0m0 2h0m0 1h0m0 2h0m1-28h0m0 3h0m0 5h0m0 1h0m0 1h0m0 1h0m0 16h0m0 3h0m1-62h0m0 12h0m0 9h0m0 1h0m0 2h0m0 1h0m0 1h0m0 4h0m0 6h0m0 3h0m0 5h0m0 1h0m0 1h0m0 7h0m0 5h0m1-53h0m0 15h0m0 1h0m0 4h0m0 8h0m0 5h0m0 4h0m0 1h0m0 5h0m0 1h0m0 7h0m0 2h0m0 3h0m0 3h0m1-55h0m0 4h0m0 18h0m0 5h0m0 3h0m0 6h0m0 1h0m0 1h0m0 16h0m1-42h0m0 1h0m0 5h0m0 4h0m0 2h0m0 3h0m0 2h0m0 8h0m0 1h0m0 3h0m0 7h0m0 1h0m0 5h0m1-63h0m0 22h0m0 1h0m0 1h0m0 1h0m0 5h0m0 1h0m0 2h0m0 1h0m0 1h0m0 2h0m0 6h0m0 9h0m0 3h0m0 1h0m0 3h0m1-39h0m0 9h0m0 4h0m0 2h0m0 3h0m0 4h0m0 6h0m0 4h0m0 2h0m0 3h0m1-80h0m0 31h0m0 11h0m0 5h0m0 5h0m0 1h0m0 1h0m0 5h0m0 3h0m0 4h0m0 2h0m0 6h0m1-58h0m0 12h0m0 3h0m0 10h0m0 6h0m0 4h0m0 10h0m0 2h0m0 1h0m0 5h0m0 4h0m1-48h0m0 6h0m0 2h0m0 2h0m0 18h0m0 4h0m0 8h0m0 21h0m1-60h0m0 3h0m0 3h0m0 1h0m0 2h0m0 5h0m0 5h0m0 1h0m0 1h0m0 1h0m0 11h0m0 5h0m0 5h0m0 6h0m0 1h0m0 3h0m0 2h0m0 1h0m0 5h0m1-53h0m0 4h0m0 3h0m0 3h0m0 3h0m0 1h0m0 5h0m0 7h0m0 2h0m0 16h0m1-43h0m0 8h0m0 2h0m0 6h0m0 12h0m0 11h0m1-52h0m0 3h0m0 13h0m0 6h0m0 5h0m0 12h0m0 4h0m0 4h0m0 4h0m0 13h0m1-43h0m0 1h0m0 3h0m0 1h0m0 6h0m0 1h0m0 4h0m0 12h0m0 8h0m0 1h0m1-27h0m0 5h0m0 2h0m0 3h0m0 8h0m1-42h0m0 10h0m0 9h0m0 5h0m0 2h0m0 8h0m1-44h0m0 14h0m0 4h0m0 6h0m0 12h0m0 1h0m0 2h0m0 6h0m0 15h0m1-55h0m0 17h0m0 25h0m0 13h0m0 6h0m1-48h0m0 2h0m0 4h0m0 2h0m0 9h0m0 1h0m0 4h0m0 7h0m0 6h0m1-66h0m0 27h0m0 7h0m0 2h0m0 5h0m0 2h0m0 10h0m0 17h0m1-53h0m0 13h0m0 1h0m0 11h0m0 4h0m0 1h0m0 1h0m0 11h0m0 8h0m1-56h0m0 12h0m0 4h0m0 7h0m0 1h0m0 16h0m1-36h0m0 6h0m0 8h0m0 7h0m0 5h0m0 38h0m1-53h0m0 3h0m0 17h0m0 13h0m0 4h0m0 12h0m1-81h0m0 48h0m0 4h0m0 13h0m0 2h0m1-56h0m0 38h0m0 12h0m0 7h0m0 10h0m1-39h0m0 4h0m0 17h0m0 22h0m0 1h0m1-57h0m0 6h0m0 3h0m0 11h0m0 1h0m0 17h0m0 7h0m0 2h0m1-40h0m0 11h0m0 5h0m0 7h0m0 2h0m0 5h0m0 3h0m1-48h0m0 19h0m0 4h0m0 4h0m0 7h0m0 6h0m0 17h0m1-62h0m0 14h0m0 26h0m0 4h0m0 2h0m0 20h0m1-63h0m0 26h0m0 9h0m0 5h0m0 3h0m0 18h0m0 2h0m1-34h0m0 5h0m0 8h0m0 2h0m1-22h0m0 4h0m0 6h0m1 2h0m0 8h0m0 10h0m1-29h0m0 10h0m0 8h0m0 1h0m1-34h0m0 1h0m0 22h0m1-25h0m0 18h0m0 22h0m1-71h0m0 19h0m0 1h0m0 38h0m0 3h0m0 3h0m0 5h0m1-21h0m0 13h0m0 2h0m0 8h0m0 25h0m1-36h0m0 12h0m0 11h0m0 7h0m1-72h0m0 29h0m0 34h0m1-83h0m1 41h0m0 14h0m1-27h0m0 64h0m1-28h0m0 1h0m1-16h0m1 32h0m1-50h0m0 11h0m1 10h0m0 15h0m2-2h0" stroke="#f58b7a" stroke-width="2.6" stroke-linecap="round" fill="none"/>
<path d="M162.5 726.6L164.7 726.7L166.9 726.8L169.1 726.9L171.3 727.0L173.5 727.2L175.7 727.3L177.9 727.4L180.0 727.5L182.2 727.6L184.4 727.7L186.6 727.8L188.8 727.9L191.0 727.9L193.2 728.0L195.4 728.0L197.6 728.1L199.8 728.2L202.0 728.2L204.2 728.3L206.4 727.7L208.6 726.9L210.7 726.1L212.9 725.2L215.1 724.4L217.3 723.5L219.5 722.7L221.7 721.8L223.9 721.0L226.1 720.1" fill="none" stroke="#ef7664" stroke-width="1.8" stroke-linecap="round" opacity="0.8"/>
<path d="M141.3 723.0L143.3 722.9L145.2 722.7L147.2 722.6L149.2 722.4L151.2 722.2L153.1 722.1L155.1 721.9L157.1 721.7L159.1 721.6L161.0 721.4L163.0 721.2L165.0 721.0L167.0 720.8L168.9 720.6L170.9 720.4L172.9 720.1L174.9 719.9L176.8 719.7L178.8 719.5L180.8 719.3L182.7 719.1L184.7 718.8L186.7 718.6L188.7 718.4L190.6 718.1L192.6 717.9L194.6 717.7L196.6 717.4L198.5 717.2" fill="none" stroke="#9fb4d4" stroke-width="1.6" stroke-linecap="round" opacity="0.9"/>
<rect x="136.90" y="686.60" width="93.00" height="57.80" fill="none" stroke="#555" stroke-width="0.7" />
<path d="M141.30 744.40v2.4M162.50 744.40v2.4M183.70 744.40v2.4M204.90 744.40v2.4M226.10 744.40v2.4" fill="none" stroke="#444" stroke-width="0.6" />
<text x="183.40" y="683.90" font-size="7.6" text-anchor="middle" font-style="italic">APOB</text>
<text x="141.30" y="754.30" font-size="6.8" text-anchor="middle">0</text>
<text x="162.50" y="754.30" font-size="6.8" text-anchor="middle">1</text>
<text x="183.70" y="754.30" font-size="6.8" text-anchor="middle">2</text>
<text x="204.90" y="754.30" font-size="6.8" text-anchor="middle">3</text>
<text x="226.10" y="754.30" font-size="6.8" text-anchor="middle">4</text>
<text x="130.30" y="764.40" font-size="7.6" text-anchor="middle">Viral load</text>
<text x="6.60" y="603.40" font-size="7.7" text-anchor="middle" transform="rotate(-90 6.60 603.40)">Normalized expression</text>
<text x="251.50" y="445.80" font-size="12.8" fill="#000" font-weight="bold" stroke="#000" stroke-width="0.3">h</text>
<rect x="338.0" y="493.0" width="32.8" height="21.2" fill="url(#hbg)" filter="url(#soft3)"/>
<path transform="scale(0.5) translate(.5 .5)" d="M656 1016h0m1-27h0m0 38h0m0 1h0m1-14h0m2-18h0m0 25h0m1-28h0m0 10h0m1-12h0m0 21h0m0 1h0m0 8h0m1-5h0m0 7h0m1-34h0m0 10h0m0 19h0m1-1h0m0 8h0m0 1h0m1-37h0m0 21h0m0 15h0m0 3h0m1-36h0m0 27h0m1-15h0m0 4h0m1-15h0m0 7h0m0 2h0m0 11h0m0 4h0m1-1h0m0 4h0m1-27h0m0 10h0m0 8h0m1-22h0m0 39h0m1-41h0m0 2h0m0 11h0m0 10h0m1-23h0m1 7h0m1-7h0m0 2h0m0 1h0m1 4h0m0 12h0m1-17h0m0 11h0m0 8h0m2-17h0m0 4h0m0 13h0m0 16h0m0 1h0m1-17h0m1-18h0m0 7h0m0 28h0m1-32h0m0 4h0m0 5h0m0 11h0m0 5h0m0 2h0m1-24h0m0 2h0m0 13h0m1-26h0m0 6h0m0 1h0m0 17h0m0 5h0m0 3h0m0 6h0m0 4h0m1-41h0m0 2h0m0 6h0m0 17h0m1 13h0m0 4h0m2-43h0m0 1h0m0 1h0m0 1h0m0 1h0m0 1h0m0 2h0m0 1h0m0 7h0m0 4h0m0 3h0m0 1h0m0 8h0m0 5h0m0 2h0m0 1h0m0 2h0m1-40h0m0 1h0m0 10h0m0 1h0m0 2h0m0 5h0m0 4h0m0 6h0m0 1h0m0 3h0m1-34h0m0 3h0m0 2h0m0 2h0m0 1h0m0 1h0m0 5h0m0 1h0m0 6h0m0 1h0m0 1h0m0 4h0m0 2h0m0 1h0m0 2h0m0 3h0m0 1h0m0 2h0m0 1h0m0 3h0m1-37h0m0 2h0m0 7h0m0 1h0m0 4h0m0 2h0m0 1h0m0 7h0m0 2h0m0 1h0m0 1h0m0 2h0m0 2h0m0 3h0m1-37h0m0 2h0m0 2h0m0 4h0m0 2h0m0 2h0m0 5h0m0 1h0m0 4h0m0 2h0m0 2h0m0 1h0m0 6h0m0 6h0m0 1h0m1-42h0m0 4h0m0 8h0m0 6h0m0 1h0m0 1h0m0 6h0m0 2h0m0 1h0m0 3h0m0 1h0m0 2h0m0 1h0m0 4h0m1-37h0m0 3h0m0 6h0m0 4h0m0 1h0m0 1h0m0 13h0m0 2h0m0 1h0m0 3h0m0 1h0m0 2h0m1-40h0m0 1h0m0 2h0m0 1h0m0 1h0m0 4h0m0 1h0m0 2h0m0 1h0m0 13h0m0 6h0m0 1h0m0 1h0m0 2h0m0 1h0m0 2h0m1-39h0m0 9h0m0 3h0m0 1h0m0 1h0m0 2h0m0 1h0m0 2h0m0 2h0m0 1h0m0 1h0m0 1h0m0 1h0m0 5h0m0 1h0m0 1h0m0 5h0m0 1h0m1-37h0m0 3h0m0 3h0m0 2h0m0 4h0m0 2h0m0 4h0m0 5h0m0 6h0m0 4h0m0 2h0m1-33h0m0 1h0m0 5h0m0 5h0m0 1h0m0 2h0m0 3h0m0 1h0m0 1h0m0 3h0m0 2h0m0 1h0m0 4h0m0 1h0m0 2h0m0 2h0m0 1h0m0 2h0m0 1h0m1-39h0m0 2h0m0 3h0m0 3h0m0 1h0m0 1h0m0 4h0m0 1h0m0 2h0m0 6h0m0 1h0m0 2h0m0 1h0m0 3h0m0 1h0m0 1h0m0 4h0m0 2h0m0 1h0m1-41h0m0 1h0m0 1h0m0 1h0m0 1h0m0 1h0m0 1h0m0 3h0m0 1h0m0 7h0m0 1h0m0 2h0m0 2h0m0 11h0m0 3h0m0 6h0m1-41h0m0 1h0m0 5h0m0 3h0m0 4h0m0 1h0m0 2h0m0 3h0m0 3h0m0 1h0m0 1h0m0 3h0m0 1h0m0 3h0m0 1h0m0 2h0m0 4h0m0 1h0m1-37h0m0 2h0m0 7h0m0 1h0m0 1h0m0 2h0m0 6h0m0 3h0m0 2h0m0 1h0m0 2h0m0 1h0m0 4h0m0 2h0m0 1h0m1-37h0m0 1h0m0 2h0m0 6h0m0 5h0m0 8h0m0 3h0m0 3h0m0 1h0m0 4h0m0 4h0m0 3h0m0 1h0m1-40h0m0 4h0m0 2h0m0 9h0m0 6h0m0 1h0m0 1h0m0 4h0m0 2h0m0 4h0m0 3h0m0 2h0m0 2h0m1-42h0m0 3h0m0 1h0m0 1h0m0 4h0m0 2h0m0 4h0m0 3h0m0 2h0m0 3h0m0 1h0m0 6h0m0 2h0m0 2h0m0 2h0m0 6h0m1-41h0m0 4h0m0 2h0m0 4h0m0 7h0m0 4h0m0 3h0m0 1h0m0 1h0m0 6h0m0 1h0m1-35h0m0 2h0m0 1h0m0 1h0m0 1h0m0 5h0m0 3h0m0 6h0m0 1h0m0 1h0m0 3h0m0 2h0m0 1h0m0 3h0m0 2h0m0 1h0m0 2h0m0 3h0m0 3h0m0 1h0m1-37h0m0 1h0m0 1h0m0 3h0m0 1h0m0 1h0m0 4h0m0 1h0m0 2h0m0 1h0m0 5h0m0 2h0m0 1h0m0 2h0m0 2h0m0 4h0m0 2h0m0 1h0m0 3h0m1-37h0m0 1h0m0 1h0m0 4h0m0 1h0m0 1h0m0 2h0m0 2h0m0 1h0m0 3h0m0 8h0m0 7h0m0 2h0m0 2h0m1-34h0m0 1h0m0 3h0m0 3h0m0 1h0m0 5h0m0 2h0m0 1h0m0 5h0m0 3h0m0 4h0m0 1h0m0 3h0m0 1h0m0 1h0m0 2h0m1-35h0m0 1h0m0 1h0m0 1h0m0 2h0m0 3h0m0 4h0m0 5h0m0 1h0m0 7h0m0 3h0m0 3h0m0 1h0m0 2h0m1-37h0m0 2h0m0 1h0m0 2h0m0 8h0m0 1h0m0 1h0m0 6h0m0 1h0m0 1h0m0 1h0m0 4h0m0 1h0m0 1h0m0 4h0m0 1h0m0 3h0m1-41h0m0 1h0m0 2h0m0 6h0m0 3h0m0 3h0m0 2h0m0 3h0m0 1h0m0 4h0m0 2h0m0 10h0m1-37h0m0 2h0m0 1h0m0 1h0m0 1h0m0 3h0m0 1h0m0 3h0m0 5h0m0 4h0m0 2h0m0 1h0m0 1h0m0 3h0m0 8h0m1-36h0m0 9h0m0 2h0m0 2h0m0 2h0m0 2h0m0 4h0m0 1h0m0 3h0m0 6h0m0 1h0m0 6h0m0 2h0m0 2h0m1-34h0m0 2h0m0 2h0m0 2h0m0 1h0m0 1h0m0 1h0m0 1h0m0 11h0m0 4h0m0 1h0m0 2h0m0 1h0m0 2h0m0 2h0m1-39h0m0 9h0m0 1h0m0 3h0m0 1h0m0 3h0m0 3h0m0 2h0m0 3h0m0 3h0m0 6h0m1-35h0m0 1h0m0 6h0m0 2h0m0 1h0m0 2h0m0 4h0m0 1h0m0 1h0m0 1h0m0 4h0m0 8h0m0 3h0m0 2h0m0 2h0m1-37h0m0 3h0m0 1h0m0 5h0m0 2h0m0 5h0m0 1h0m0 1h0m0 2h0m0 2h0m0 3h0m0 4h0m0 4h0m0 7h0m1-43h0m0 2h0m0 2h0m0 6h0m0 1h0m0 1h0m0 1h0m0 1h0m0 1h0m0 2h0m0 4h0m0 2h0m0 2h0m0 12h0m1-34h0m0 3h0m0 2h0m0 8h0m0 2h0m0 4h0m0 10h0m0 1h0m0 1h0m0 8h0m0 1h0m1-41h0m0 3h0m0 2h0m0 2h0m0 6h0m0 2h0m0 2h0m0 1h0m0 1h0m0 1h0m0 1h0m0 4h0m0 12h0m1-38h0m0 1h0m0 8h0m0 1h0m0 6h0m0 3h0m0 1h0m0 2h0m0 7h0m0 2h0m0 5h0m0 1h0m0 1h0m0 3h0m1-37h0m0 1h0m0 3h0m0 4h0m0 3h0m0 6h0m0 1h0m0 4h0m0 1h0m0 7h0m0 8h0m1-41h0m0 2h0m0 2h0m0 2h0m0 4h0m0 4h0m0 5h0m0 6h0m0 5h0m0 1h0m0 1h0m0 3h0m0 1h0m1-38h0m0 3h0m0 1h0m0 1h0m0 1h0m0 1h0m0 2h0m0 4h0m0 3h0m0 1h0m0 3h0m0 6h0m0 1h0m0 6h0m0 6h0m0 4h0m1-37h0m0 1h0m0 2h0m0 1h0m0 8h0m0 4h0m0 5h0m0 2h0m0 1h0m0 1h0m0 1h0m0 1h0m0 4h0m0 1h0m0 1h0m0 1h0m0 1h0m1-37h0m0 2h0m0 5h0m0 2h0m0 1h0m0 1h0m0 1h0m0 5h0m0 1h0m0 2h0m0 1h0m0 5h0m0 3h0m1-27h0m0 2h0m0 3h0m0 4h0m0 5h0m0 1h0m0 1h0m0 2h0m0 1h0m0 1h0m0 1h0m0 2h0m0 2h0m0 5h0m0 1h0m0 1h0m0 1h0m0 3h0m1-42h0m0 6h0m0 4h0m0 2h0m0 1h0m0 2h0m0 5h0m0 3h0m0 2h0m0 2h0m0 3h0m0 1h0m0 4h0m0 4h0m0 1h0m0 3h0m1-40h0m0 3h0m0 4h0m0 6h0m0 1h0m0 1h0m0 9h0m0 2h0m0 1h0m0 1h0m0 1h0m0 1h0m0 2h0m0 7h0m1-41h0m0 5h0m0 1h0m0 3h0m0 1h0m0 2h0m0 2h0m0 4h0m0 2h0m0 5h0m0 2h0m0 4h0m0 6h0m0 4h0m1-38h0m0 2h0m0 3h0m0 2h0m0 2h0m0 2h0m0 1h0m0 1h0m0 5h0m0 1h0m0 9h0m0 1h0m1-31h0m0 5h0m0 1h0m0 1h0m0 3h0m0 2h0m0 2h0m0 1h0m0 2h0m0 2h0m0 3h0m0 2h0m0 2h0m0 2h0m0 2h0m0 1h0m0 1h0m0 2h0m0 1h0m0 6h0m1-41h0m0 1h0m0 2h0m0 1h0m0 4h0m0 2h0m0 4h0m0 1h0m0 3h0m0 3h0m0 1h0m0 2h0m0 4h0m0 2h0m0 1h0m0 2h0m0 1h0m0 1h0m0 1h0m0 1h0m0 2h0m1-39h0m0 1h0m0 1h0m0 1h0m0 5h0m0 2h0m0 1h0m0 5h0m0 1h0m0 2h0m0 3h0m0 7h0m0 4h0m0 1h0m0 5h0m0 2h0m1-42h0m0 4h0m0 2h0m0 1h0m0 1h0m0 2h0m0 1h0m0 4h0m0 4h0m0 5h0m0 7h0m0 3h0m0 3h0m0 3h0m0 1h0m0 1h0m1-42h0m0 2h0m0 4h0m0 2h0m0 4h0m0 5h0m0 1h0m0 1h0m0 1h0m0 2h0m0 5h0m0 2h0m0 2h0m0 3h0m0 5h0m0 1h0m1-41h0m0 2h0m0 2h0m0 1h0m0 1h0m0 3h0m0 2h0m0 1h0m0 3h0m0 3h0m0 1h0m0 1h0m0 4h0m0 5h0m0 2h0m0 1h0m0 1h0m0 1h0m0 5h0m0 2h0m0 1h0m0 1h0m1-40h0m0 1h0m0 1h0m0 6h0m0 4h0m0 1h0m0 4h0m0 1h0m0 4h0m0 9h0m0 1h0m0 2h0m0 1h0m0 4h0m1-35h0m0 1h0m0 14h0m0 7h0m0 1h0m0 1h0m0 1h0m0 3h0m0 1h0m0 6h0m1-36h0m0 7h0m0 5h0m0 1h0m0 5h0m0 15h0m1-39h0m0 1h0m0 19h0m0 1h0m0 2h0m0 5h0m0 3h0m0 9h0m0 1h0m1-36h0m0 15h0m0 1h0m0 1h0m0 1h0m0 2h0m0 2h0m0 1h0m1-26h0m0 7h0m0 10h0m0 8h0m0 2h0m0 6h0m0 2h0m1-37h0m0 12h0m0 5h0m0 3h0m0 7h0m0 3h0m0 3h0m0 5h0m1-36h0m0 3h0m0 21h0m0 5h0m0 4h0m0 5h0m0 1h0m0 1h0m1-32h0m0 1h0m0 2h0m0 4h0m0 7h0m0 8h0m0 4h0m0 6h0m0 1h0m1-39h0m0 2h0m0 1h0m0 6h0m0 3h0m0 5h0m0 1h0m0 1h0m0 4h0m0 1h0m0 1h0m0 4h0m0 10h0m1-35h0m0 1h0m0 4h0m0 11h0m0 2h0m0 7h0m0 5h0m0 5h0m1-41h0m0 5h0m0 8h0m0 1h0m0 1h0m0 1h0m0 2h0m0 5h0m0 1h0m0 5h0m0 2h0m0 2h0m0 2h0m0 1h0m1-38h0m0 19h0m0 2h0m0 7h0m0 4h0m0 2h0m0 2h0m0 7h0m1-38h0m0 1h0m0 3h0m0 4h0m0 4h0m0 6h0m0 1h0m0 1h0m0 5h0m0 2h0m1-27h0m0 1h0m0 7h0m0 4h0m0 1h0m0 12h0m0 5h0m1-22h0m0 4h0m1-10h0m0 5h0m0 14h0m0 10h0m1-22h0m0 5h0m0 1h0m0 6h0m0 1h0m0 4h0m0 3h0m1-24h0m0 23h0m1-31h0m0 1h0m0 4h0m0 1h0m0 26h0m0 2h0m0 6h0m1-29h0m0 2h0m0 4h0m1-18h0m0 1h0m0 6h0m0 3h0m0 10h0m0 3h0m0 2h0m0 1h0m0 3h0m0 8h0m0 2h0m1-39h0m0 17h0m0 3h0m0 17h0m0 3h0m1-24h0m0 8h0m0 5h0m0 7h0m0 2h0m0 3h0m1-38h0m0 5h0m0 5h0m0 5h0m0 1h0m0 3h0m0 2h0m0 1h0m0 6h0m1-26h0m0 14h0m1-15h0m0 13h0m0 1h0m0 4h0m0 1h0m0 19h0m1-31h0m0 4h0m0 9h0m0 16h0m1-31h0m0 10h0m0 4h0m0 5h0m0 5h0m0 1h0m0 3h0m0 5h0m1-27h0m0 1h0m0 4h0m0 1h0m0 4h0m0 14h0m1-35h0m0 2h0m0 4h0m0 9h0m0 4h0m0 5h0m0 1h0m0 1h0m1-31h0m0 3h0m0 14h0m0 14h0m0 8h0m0 2h0m1-33h0m0 10h0m0 24h0m1-37h0m0 1h0m0 20h0m0 4h0m0 8h0m1-34h0m0 11h0m0 2h0m0 5h0m1-12h0m0 20h0m0 1h0m1-17h0m0 2h0m0 10h0m0 16h0m1-42h0m0 5h0m0 6h0m0 16h0m0 2h0m0 7h0m0 1h0m1-35h0m0 11h0m0 26h0m1-32h0m0 3h0m0 5h0m0 8h0m0 6h0m1-4h0m0 16h0m1-19h0m0 2h0m1-22h0m0 2h0m0 11h0m0 16h0m1-14h0m0 3h0m0 7h0m0 13h0m0 1h0m1-41h0m0 7h0m0 9h0m0 18h0m0 5h0m0 2h0m1-26h0m0 4h0m0 6h0m0 1h0m0 9h0m0 4h0m1-34h0m0 4h0m0 4h0m0 18h0m0 4h0m0 5h0m1-34h0m0 10h0m1-15h0m0 15h0m0 20h0m0 3h0m1-9h0m0 7h0m1-20h0m0 16h0m0 10h0m1-42h0m0 8h0m0 3h0m0 15h0m0 10h0m0 1h0m0 1h0m2-25h0m0 13h0m0 6h0m0 2h0m0 2h0m1-20h0m0 1h0m1 19h0m1-9h0m1-28h0m0 3h0m0 6h0m0 27h0m2-22h0m0 8h0m0 4h0m1-17h0m0 7h0m0 1h0m0 1h0m0 4h0m0 19h0m1-11h0m1-9h0m0 16h0m1-32h0m0 8h0m0 26h0m1-13h0m1-18h0m0 16h0m1-23h0m0 8h0m0 26h0m2-17h0m1-9h0m0 14h0m2 9h0m2-29h0m0 11h0m0 7h0m0 3h0m1-4h0m0 6h0m1-22h0m0 7h0m0 28h0m1-27h0m1-11h0m0 19h0m1-15h0m0 18h0m1-12h0m1 29h0m1-30h0m0 23h0m2-22h0m1 19h0m1-28h0m1 30h0m0 2h0m1-22h0m0 14h0m1 13h0m0 4h0m1-39h0m1 26h0m1-21h0m0 12h0m0 15h0m1-32h0m0 4h0m1-8h0m3 24h0m2-14h0m0 21h0m3-19h0m1 10h0m0 13h0m2-25h0m0 12h0m0 3h0m2 2h0m2 9h0m9-23h0m7 10h0m2 14h0m1-28h0m1 22h0m1-19h0m2 17h0m1-4h0m0 8h0m4-13h0m1-18h0m1 39h0m8-2h0m6 2h0m7-11h0m10-26h0m1 34h0m2-28h0m2 18h0m12-15h0m13-2h0m5 28h0m25 3h0" stroke="#afc0dc" stroke-width="2.2" stroke-linecap="round" fill="none"/>
<rect x="372.2" y="527.6" width="54.1" height="20.0" fill="#f9c0b6" filter="url(#soft3)" opacity="0.8"/>
<path transform="scale(0.5) translate(.5 .5)" d="M661 1091h0m1-8h0m7-24h0m0 4h0m1 6h0m3 10h0m0 12h0m2 1h0m3-17h0m0 18h0m2-7h0m4 8h0m1-21h0m6-8h0m0 17h0m3 7h0m1-15h0m1 3h0m2-9h0m1 4h0m5-9h0m2 20h0m1-7h0m2-5h0m5 16h0m2-29h0m0 16h0m0 2h0m3-12h0m6-5h0m0 5h0m2-8h0m0 27h0m3-28h0m0 25h0m0 6h0m2-32h0m1 41h0m2-41h0m2 4h0m1 23h0m1-25h0m0 4h0m0 2h0m0 3h0m0 8h0m0 15h0m1-34h0m0 9h0m0 3h0m0 1h0m0 1h0m0 4h0m0 5h0m0 5h0m0 8h0m0 3h0m1-39h0m0 22h0m0 6h0m0 2h0m0 1h0m0 5h0m0 1h0m0 5h0m1-41h0m0 1h0m0 6h0m0 1h0m0 1h0m0 3h0m0 3h0m0 5h0m0 1h0m0 9h0m0 8h0m1-40h0m0 1h0m0 3h0m0 19h0m0 9h0m0 6h0m1-38h0m0 3h0m0 2h0m0 6h0m0 1h0m0 5h0m0 4h0m0 2h0m0 2h0m0 11h0m0 1h0m0 2h0m1-39h0m0 2h0m0 9h0m0 10h0m0 8h0m0 3h0m0 2h0m0 7h0m1-38h0m0 2h0m0 3h0m0 26h0m1-34h0m0 2h0m0 5h0m0 16h0m0 3h0m0 12h0m1-34h0m0 12h0m0 1h0m0 7h0m0 5h0m0 13h0m0 1h0m1-29h0m0 1h0m0 6h0m0 11h0m0 1h0m0 9h0m0 1h0m1-39h0m0 6h0m0 10h0m0 1h0m0 3h0m0 2h0m0 1h0m0 11h0m1-33h0m0 4h0m0 7h0m0 10h0m0 1h0m0 7h0m0 3h0m0 3h0m1-39h0m0 4h0m0 5h0m0 6h0m0 1h0m0 4h0m0 4h0m0 3h0m0 10h0m0 2h0m0 3h0m1-36h0m0 5h0m0 8h0m0 3h0m0 5h0m0 1h0m0 2h0m0 9h0m0 3h0m1-43h0m0 2h0m0 8h0m0 5h0m0 1h0m0 1h0m0 1h0m0 9h0m0 2h0m0 5h0m1-30h0m0 2h0m0 4h0m0 1h0m0 1h0m0 4h0m0 1h0m0 9h0m0 2h0m0 4h0m0 3h0m0 4h0m0 1h0m1-40h0m0 4h0m0 1h0m0 3h0m0 5h0m0 14h0m0 1h0m0 11h0m1-32h0m0 3h0m0 1h0m0 4h0m0 12h0m0 9h0m0 3h0m1-36h0m0 2h0m0 17h0m0 7h0m0 1h0m0 4h0m1-30h0m0 2h0m0 2h0m0 11h0m0 5h0m0 6h0m0 2h0m0 8h0m0 1h0m0 2h0m1-40h0m0 1h0m0 8h0m0 8h0m0 7h0m0 1h0m0 3h0m0 5h0m0 1h0m0 5h0m1-39h0m0 7h0m0 1h0m0 1h0m0 2h0m0 8h0m0 2h0m0 1h0m0 2h0m0 3h0m1-28h0m0 1h0m0 2h0m0 2h0m0 2h0m0 11h0m0 3h0m0 10h0m0 4h0m0 1h0m0 5h0m1-41h0m0 6h0m0 32h0m1-38h0m0 14h0m0 5h0m0 1h0m0 11h0m0 6h0m0 2h0m1-37h0m0 14h0m0 5h0m0 3h0m0 6h0m0 5h0m0 5h0m1-37h0m0 2h0m0 6h0m0 4h0m0 2h0m0 4h0m0 4h0m0 11h0m0 4h0m1-41h0m0 12h0m0 6h0m0 4h0m0 2h0m0 3h0m0 2h0m1-21h0m0 9h0m0 3h0m0 6h0m0 3h0m0 5h0m0 2h0m1-36h0m0 2h0m0 8h0m0 1h0m0 1h0m0 1h0m0 5h0m0 8h0m0 2h0m0 3h0m0 1h0m0 8h0m1-33h0m0 7h0m0 7h0m0 2h0m0 15h0m1-35h0m0 2h0m0 1h0m0 4h0m0 2h0m0 9h0m0 4h0m0 4h0m0 6h0m0 4h0m0 3h0m1-38h0m0 2h0m0 12h0m0 3h0m0 2h0m0 6h0m0 2h0m0 7h0m0 3h0m1-35h0m0 8h0m0 3h0m0 3h0m0 9h0m0 3h0m0 2h0m0 3h0m0 1h0m0 2h0m1-30h0m0 2h0m0 15h0m0 10h0m1-31h0m0 6h0m0 7h0m0 5h0m0 1h0m0 3h0m0 4h0m1-27h0m0 1h0m0 3h0m0 4h0m0 4h0m0 4h0m0 7h0m0 8h0m0 5h0m1-41h0m0 9h0m0 2h0m0 4h0m0 12h0m0 3h0m0 7h0m0 4h0m1-37h0m0 5h0m0 3h0m0 2h0m0 1h0m0 3h0m0 3h0m0 2h0m0 2h0m0 1h0m0 7h0m1-34h0m0 2h0m0 6h0m0 3h0m0 3h0m0 1h0m0 1h0m0 1h0m0 1h0m0 3h0m0 5h0m0 6h0m1-31h0m0 3h0m0 1h0m0 3h0m0 10h0m0 5h0m0 2h0m0 2h0m0 2h0m0 4h0m0 1h0m0 2h0m0 3h0m0 1h0m0 1h0m1-29h0m0 1h0m0 8h0m0 6h0m0 5h0m0 6h0m1-37h0m0 1h0m0 3h0m0 4h0m0 1h0m0 5h0m0 2h0m0 1h0m0 13h0m0 4h0m0 1h0m1-34h0m0 5h0m0 11h0m0 1h0m0 4h0m0 2h0m0 6h0m0 5h0m0 1h0m0 3h0m0 1h0m1-37h0m0 4h0m0 1h0m0 3h0m0 3h0m0 2h0m0 17h0m0 4h0m0 4h0m1-36h0m0 1h0m0 1h0m0 5h0m0 3h0m0 16h0m0 4h0m0 3h0m1-37h0m0 3h0m0 4h0m0 9h0m0 4h0m0 15h0m0 5h0m0 1h0m1-38h0m0 3h0m0 10h0m0 9h0m0 5h0m0 3h0m0 6h0m0 1h0m1-24h0m0 13h0m1-30h0m0 7h0m0 16h0m0 3h0m0 3h0m0 4h0m0 1h0m0 1h0m1-33h0m0 3h0m0 6h0m0 1h0m0 2h0m0 13h0m0 7h0m0 2h0m0 2h0m0 2h0m1-39h0m0 3h0m0 1h0m0 3h0m0 1h0m0 17h0m0 3h0m0 2h0m0 4h0m0 1h0m0 2h0m0 2h0m1-38h0m0 13h0m0 4h0m0 17h0m0 1h0m1-38h0m0 1h0m0 5h0m0 3h0m0 7h0m0 3h0m0 1h0m0 4h0m0 7h0m0 3h0m0 2h0m0 2h0m1-34h0m0 5h0m0 2h0m0 10h0m0 3h0m0 5h0m0 1h0m0 7h0m0 1h0m1-38h0m0 7h0m0 9h0m0 3h0m0 7h0m0 1h0m0 7h0m0 3h0m0 1h0m0 5h0m1-41h0m0 5h0m0 1h0m0 2h0m0 1h0m0 7h0m0 5h0m0 1h0m0 5h0m0 3h0m0 4h0m0 4h0m0 3h0m1-34h0m0 7h0m0 6h0m0 2h0m0 11h0m0 5h0m1-40h0m0 2h0m0 1h0m0 9h0m0 3h0m0 7h0m0 5h0m0 1h0m0 1h0m0 6h0m0 4h0m0 3h0m1-42h0m0 1h0m0 14h0m0 2h0m0 4h0m0 6h0m0 5h0m0 8h0m1-40h0m0 11h0m0 13h0m0 2h0m0 3h0m0 2h0m0 2h0m0 1h0m0 5h0m0 4h0m1-41h0m0 2h0m0 2h0m0 3h0m0 1h0m0 3h0m0 5h0m0 3h0m0 3h0m0 4h0m0 4h0m0 6h0m0 3h0m0 1h0m1-32h0m0 3h0m0 5h0m0 1h0m0 1h0m0 3h0m0 9h0m0 4h0m0 5h0m0 1h0m1-41h0m0 1h0m0 6h0m0 7h0m0 4h0m0 5h0m0 5h0m0 8h0m1-31h0m0 4h0m0 3h0m0 1h0m0 12h0m0 3h0m0 5h0m0 4h0m1-36h0m0 2h0m0 2h0m0 2h0m0 1h0m0 3h0m0 1h0m0 6h0m0 5h0m0 3h0m0 4h0m0 3h0m0 8h0m1-37h0m0 2h0m0 5h0m0 1h0m0 2h0m0 4h0m0 1h0m0 1h0m0 6h0m0 2h0m0 2h0m0 1h0m0 7h0m0 2h0m1-37h0m0 3h0m0 4h0m0 6h0m0 4h0m0 2h0m0 4h0m0 2h0m0 2h0m0 10h0m0 1h0m1-37h0m0 1h0m0 3h0m0 21h0m0 1h0m0 1h0m0 1h0m0 2h0m0 1h0m1-33h0m0 3h0m0 10h0m0 1h0m0 12h0m0 5h0m0 3h0m0 2h0m1-36h0m0 3h0m0 2h0m0 8h0m0 11h0m0 2h0m1-28h0m0 1h0m0 2h0m0 2h0m0 6h0m0 5h0m0 2h0m0 2h0m0 1h0m0 1h0m0 18h0m1-41h0m0 5h0m0 8h0m0 4h0m0 3h0m0 6h0m0 7h0m0 9h0m1-36h0m0 1h0m0 2h0m0 2h0m0 9h0m0 7h0m0 1h0m0 8h0m0 1h0m0 3h0m1-35h0m0 1h0m0 1h0m0 4h0m0 3h0m0 2h0m0 2h0m0 1h0m0 3h0m0 6h0m1-21h0m0 2h0m0 4h0m0 5h0m0 3h0m0 7h0m0 2h0m0 2h0m1-30h0m0 5h0m0 2h0m0 1h0m0 18h0m0 1h0m0 10h0m1-30h0m0 1h0m0 4h0m0 1h0m0 4h0m0 2h0m0 6h0m0 8h0m0 2h0m1-35h0m0 11h0m0 21h0m0 6h0m0 2h0m1-37h0m0 3h0m0 6h0m0 1h0m0 6h0m0 4h0m0 1h0m0 5h0m0 4h0m1-34h0m0 3h0m0 3h0m0 3h0m0 8h0m0 1h0m0 5h0m0 2h0m0 8h0m1-24h0m0 9h0m0 5h0m0 1h0m0 3h0m0 4h0m0 1h0m0 7h0m1-38h0m0 10h0m0 1h0m0 7h0m0 1h0m0 1h0m0 2h0m0 4h0m0 3h0m0 8h0m1-34h0m0 1h0m0 8h0m0 11h0m0 11h0m0 3h0m1-31h0m0 5h0m0 5h0m0 11h0m0 2h0m0 4h0m1-24h0m0 10h0m0 13h0m0 6h0m1-37h0m0 1h0m0 2h0m0 6h0m0 16h0m0 3h0m0 2h0m0 1h0m0 3h0m0 2h0m1-39h0m0 3h0m0 3h0m0 2h0m0 5h0m0 2h0m0 2h0m0 5h0m0 1h0m0 4h0m0 5h0m0 1h0m0 2h0m0 2h0m0 1h0m1-29h0m0 1h0m0 1h0m0 3h0m0 4h0m0 5h0m0 5h0m0 4h0m0 1h0m0 1h0m0 5h0m0 3h0m1-40h0m0 3h0m0 2h0m0 4h0m0 7h0m0 1h0m0 1h0m0 4h0m0 6h0m0 1h0m0 1h0m0 1h0m0 1h0m0 1h0m0 4h0m1-35h0m0 2h0m0 4h0m0 2h0m0 10h0m0 2h0m0 4h0m0 2h0m0 5h0m0 5h0m0 2h0m1-42h0m0 1h0m0 3h0m0 1h0m0 1h0m0 6h0m0 1h0m0 4h0m0 1h0m0 1h0m0 3h0m0 1h0m0 1h0m0 4h0m0 2h0m0 4h0m0 3h0m0 1h0m0 3h0m1-41h0m0 1h0m0 1h0m0 2h0m0 3h0m0 5h0m0 2h0m0 10h0m0 3h0m0 1h0m0 1h0m0 2h0m0 1h0m0 2h0m0 8h0m1-41h0m0 2h0m0 1h0m0 1h0m0 7h0m0 2h0m0 2h0m0 3h0m0 1h0m0 1h0m0 1h0m0 2h0m0 3h0m0 3h0m0 1h0m0 6h0m0 4h0m1-39h0m0 1h0m0 5h0m0 6h0m0 4h0m0 3h0m0 1h0m0 5h0m0 14h0m1-41h0m0 2h0m0 10h0m0 3h0m0 2h0m0 6h0m0 5h0m0 1h0m0 8h0m0 1h0m0 2h0m1-31h0m0 3h0m0 5h0m0 3h0m0 3h0m0 7h0m0 1h0m0 4h0m0 1h0m0 2h0m1-32h0m0 3h0m0 1h0m0 1h0m0 5h0m0 2h0m0 1h0m0 2h0m0 7h0m0 10h0m1-37h0m0 1h0m0 2h0m0 2h0m0 4h0m0 4h0m0 8h0m0 3h0m0 5h0m0 4h0m0 3h0m0 1h0m0 2h0m0 2h0m1-41h0m0 3h0m0 2h0m0 2h0m0 5h0m0 4h0m0 3h0m0 3h0m0 5h0m0 3h0m0 6h0m0 1h0m0 1h0m0 2h0m1-37h0m0 3h0m0 1h0m0 6h0m0 1h0m0 8h0m0 2h0m0 2h0m0 8h0m0 2h0m0 1h0m0 4h0m1-41h0m0 8h0m0 8h0m0 6h0m0 7h0m0 5h0m0 2h0m1-37h0m0 1h0m0 1h0m0 2h0m0 6h0m0 2h0m0 1h0m0 1h0m0 3h0m0 2h0m0 6h0m0 3h0m0 1h0m0 4h0m0 3h0m0 2h0m0 1h0m1-36h0m0 5h0m0 1h0m0 8h0m0 5h0m0 2h0m0 1h0m0 1h0m0 3h0m0 4h0m0 3h0m0 5h0m0 1h0m1-37h0m0 6h0m0 1h0m0 4h0m0 9h0m0 2h0m0 5h0m0 1h0m0 1h0m0 2h0m0 1h0m0 3h0m1-33h0m0 1h0m0 2h0m0 6h0m0 1h0m0 1h0m0 5h0m0 1h0m0 5h0m0 11h0m1-40h0m0 3h0m0 5h0m0 6h0m0 1h0m0 5h0m0 1h0m0 2h0m0 2h0m0 3h0m0 6h0m0 1h0m0 7h0m1-42h0m0 4h0m0 3h0m0 3h0m0 1h0m0 1h0m0 3h0m0 4h0m0 3h0m0 1h0m0 2h0m0 11h0m0 2h0m0 2h0m0 2h0m1-41h0m0 2h0m0 5h0m0 5h0m0 6h0m0 4h0m0 4h0m0 2h0m0 7h0m0 1h0m0 1h0m0 2h0m1-39h0m0 5h0m0 1h0m0 3h0m0 6h0m0 1h0m0 7h0m0 4h0m0 2h0m0 2h0m0 7h0m1-35h0m0 9h0m0 7h0m0 3h0m0 3h0m0 8h0m0 1h0m0 5h0m1-31h0m0 2h0m0 2h0m0 3h0m0 2h0m0 2h0m0 3h0m0 5h0m0 1h0m0 11h0m1-36h0m0 2h0m0 2h0m0 5h0m0 3h0m0 3h0m0 3h0m0 2h0m0 1h0m0 1h0m0 6h0m0 3h0m0 2h0m1-36h0m0 1h0m0 2h0m0 8h0m0 1h0m0 3h0m0 1h0m0 8h0m0 2h0m0 2h0m0 4h0m0 2h0m0 2h0m0 5h0m1-39h0m0 2h0m0 15h0m0 4h0m0 8h0m0 7h0m0 3h0m1-36h0m0 2h0m0 3h0m0 1h0m0 10h0m0 12h0m0 5h0m0 3h0m1-33h0m0 6h0m0 20h0m1-32h0m0 8h0m0 6h0m0 1h0m0 4h0m0 3h0m0 5h0m0 1h0m0 5h0m0 3h0m1-38h0m0 6h0m0 8h0m0 15h0m0 2h0m0 1h0m1-31h0m0 4h0m0 7h0m0 22h0m0 3h0m1-38h0m0 1h0m0 14h0m0 11h0m1-22h0m0 8h0m0 2h0m0 2h0m0 21h0m1-32h0m0 16h0m0 13h0m0 1h0m0 7h0m1-38h0m0 2h0m0 7h0m0 1h0m0 10h0m1-23h0m0 5h0m0 2h0m0 10h0m0 19h0m0 5h0m1-41h0m1 6h0m0 30h0m1-26h0m0 4h0m0 15h0m0 1h0m0 1h0m0 1h0m0 8h0m1-35h0m0 13h0m0 1h0m1 2h0m0 8h0m1-5h0m0 10h0m1-23h0m0 3h0m0 7h0m0 9h0m1 11h0m1-37h0m0 16h0m0 22h0m1-39h0m0 7h0m0 5h0m0 4h0m0 2h0m0 17h0m1-38h0m0 7h0m0 2h0m0 2h0m0 13h0m0 16h0m1-37h0m0 3h0m0 20h0m0 3h0m0 3h0m1-32h0m0 12h0m0 21h0m1-30h0m0 7h0m0 5h0m0 14h0m0 3h0m1-23h0m0 29h0m1-26h0m0 14h0m0 15h0m1-35h0m0 3h0m0 18h0m1-23h0m0 1h0m0 5h0m0 2h0m0 20h0m0 4h0m0 2h0m1-33h0m0 1h0m0 8h0m0 4h0m0 4h0m1-11h0m0 4h0m0 12h0m0 8h0m1-1h0m1-23h0m0 1h0m0 16h0m1-9h0m0 14h0m0 7h0m1-18h0m2-10h0m0 9h0m1-11h0m0 22h0m1 8h0m1-37h0m0 7h0m0 6h0m0 5h0m0 1h0m0 4h0m1-25h0m0 6h0m0 9h0m0 20h0m1-31h0m0 22h0m1 10h0m1-12h0m0 11h0m0 3h0m1-35h0m0 35h0m1-36h0m1 12h0m1-10h0m0 4h0m0 33h0m1-28h0m1-1h0m0 7h0m0 15h0m2-19h0m0 6h0m0 4h0m1-13h0m0 26h0m1-37h0m0 6h0m0 5h0m1-6h0m1 4h0m0 4h0m0 4h0m0 5h0m1 7h0m0 11h0m1-39h0m0 16h0m0 4h0m1-21h0m0 10h0m0 24h0m1-30h0m1 9h0m2-1h0m1 3h0m1-15h0m0 1h0m0 33h0m1-29h0m1 4h0m0 8h0m0 3h0m1-22h0m0 15h0m1 6h0m0 3h0m0 7h0m0 4h0m2-33h0m1-1h0m0 18h0m1-15h0m0 13h0m0 23h0m1-25h0m1-14h0m0 33h0m1-33h0m0 38h0m1-37h0m0 4h0m0 8h0m0 6h0m0 18h0m1-37h0m0 22h0m0 5h0m2-8h0m1-8h0m0 8h0m1 7h0m1 12h0m2-14h0m1 8h0m2-26h0m2-8h0m1 6h0m2 23h0m2-7h0m0 7h0m1-18h0m1-9h0m0 15h0m2-2h0m0 14h0m0 1h0m1-26h0m0 9h0m1-7h0m1 18h0m1 14h0m1-8h0m1-7h0m3-11h0m2-5h0m2-2h0m0 18h0m1-14h0m1 13h0m0 15h0m1-10h0m3-22h0m2 29h0m2-30h0m1 2h0m1 23h0m3-5h0m0 8h0m4 0h0m1-20h0m0 18h0m2-30h0m3 24h0m1-4h0m0 18h0m4-15h0m2-17h0m4 26h0m1-15h0" stroke="#f2877a" stroke-width="2.2" stroke-linecap="round" fill="none"/>
<line x1="371.00" y1="486.30" x2="371.00" y2="553.60" stroke="#8fa8cf" stroke-width="0.8" stroke-dasharray="2.2 1.6"/>
<line x1="428.30" y1="486.30" x2="428.30" y2="553.60" stroke="#f07d6c" stroke-width="0.8" stroke-dasharray="2.2 1.6"/>
<rect x="326.80" y="486.30" width="177.70" height="67.30" fill="none" stroke="#444" stroke-width="0.7" />
<rect x="371.6" y="489.7" width="115.5" height="25.9" rx="12.9" fill="none" stroke="#55778f" stroke-width="1.1"/>
<text x="348.00" y="563.60" font-size="6.8" text-anchor="middle">0</text>
<text x="376.50" y="563.60" font-size="6.8" text-anchor="middle">1</text>
<text x="405.00" y="563.60" font-size="6.8" text-anchor="middle">2</text>
<text x="433.50" y="563.60" font-size="6.8" text-anchor="middle">3</text>
<text x="462.00" y="563.60" font-size="6.8" text-anchor="middle">4</text>
<text x="490.50" y="563.60" font-size="6.8" text-anchor="middle">5</text>
<path d="M348.00 553.6v2.3M376.50 553.6v2.3M405.00 553.6v2.3M433.50 553.6v2.3M462.00 553.6v2.3M490.50 553.6v2.3M324.5 503.3H326.8M324.5 536.6H326.8" fill="none" stroke="#444" stroke-width="0.6" />
<text x="415.40" y="573.60" font-size="7.6" text-anchor="middle">Viral load</text>
<text x="320.60" y="506.00" font-size="7.6" text-anchor="end">Quiescent response</text>
<text x="320.60" y="539.30" font-size="7.6" text-anchor="end">Active response</text>
<text x="339.90" y="479.20" font-size="7.2" text-anchor="middle">Quiescent_lowVL</text>
<text x="409.30" y="479.20" font-size="7.2" text-anchor="middle">Quiescent_highVL</text>
<text x="402.30" y="448.70" font-size="7.2" text-anchor="middle">Active_lowVL</text>
<text x="466.60" y="448.70" font-size="7.2" text-anchor="middle">Active_highVL</text>
<line x1="370.20" y1="469.10" x2="337.50" y2="469.10" stroke="#a9bcd9" stroke-width="0.9" />
<path d="M335.0 469.1L338.6 467.5L338.6 470.70000000000005Z" fill="#a9bcd9" />
<line x1="372.80" y1="469.10" x2="405.80" y2="469.10" stroke="#58809b" stroke-width="0.9" />
<path d="M408.3 469.1L404.7 467.5L404.7 470.70000000000005Z" fill="#58809b" />
<line x1="429.20" y1="454.20" x2="396.10" y2="454.20" stroke="#f08272" stroke-width="0.9" />
<path d="M393.6 454.2L397.20000000000005 452.59999999999997L397.20000000000005 455.8Z" fill="#f08272" />
<line x1="432.20" y1="454.20" x2="464.80" y2="454.20" stroke="#c23b4a" stroke-width="0.9" />
<path d="M467.3 454.2L463.7 452.59999999999997L463.7 455.8Z" fill="#c23b4a" />
<path d="M372.0 501.7L373.3 503.1L286.4 582.4Z" fill="url(#cg2)" />
<path d="M486.2 500.4L487.6 500.1L512.4 582.6Z" fill="url(#cg2)" />
<text x="539.50" y="445.80" font-size="12.8" fill="#000" font-weight="bold" stroke="#000" stroke-width="0.3">i</text>
<path d="M567.3 471.9V530.2H674.8" fill="none" stroke="#444" stroke-width="0.7" />
<text x="563.90" y="528.25" font-size="6.6" text-anchor="end">−0.5</text>
<text x="563.90" y="515.60" font-size="6.6" text-anchor="end">0</text>
<text x="563.90" y="502.95" font-size="6.6" text-anchor="end">0.5</text>
<text x="563.90" y="490.30" font-size="6.6" text-anchor="end">1.0</text>
<text x="563.90" y="477.65" font-size="6.6" text-anchor="end">1.5</text>
<path d="M565.1 525.95H567.3M565.1 513.30H567.3M565.1 500.65H567.3M565.1 488.00H567.3M565.1 475.35H567.3M581.6 530.20v2.3M608.5 530.20v2.3M635.2 530.20v2.3M662.4 530.20v2.3" fill="none" stroke="#444" stroke-width="0.6" />
<path d="M581.64 481.60L581.83 482.18L582.07 482.77L582.15 483.35L582.15 483.94L582.15 484.52L582.15 485.11L582.15 485.69L582.15 486.28L582.15 486.86L582.15 487.45L582.15 488.03L582.16 488.62L582.27 489.20L582.40 489.79L582.54 490.37L582.71 490.96L582.90 491.54L583.12 492.13L583.36 492.71L583.62 493.30L583.92 493.88L584.24 494.47L584.58 495.05L584.95 495.64L585.35 496.22L585.77 496.81L586.20 497.39L586.66 497.97L587.12 498.56L587.60 499.14L588.07 499.73L588.54 500.31L589.00 500.90L589.45 501.48L589.87 502.07L590.27 502.65L590.63 503.24L590.95 503.82L591.23 504.41L591.45 504.99L591.62 505.58L591.74 506.16L591.79 506.75L591.79 507.33L591.70 507.92L591.54 508.50L591.31 509.09L591.01 509.67L590.65 510.26L590.24 510.84L589.78 511.43L589.28 512.01L588.76 512.59L588.23 513.18L587.69 513.76L587.14 514.35L586.61 514.93L586.10 515.52L585.60 516.10L585.14 516.69L584.70 517.27L584.30 517.86L583.93 518.44L583.59 519.03L583.29 519.61L583.03 520.20L582.80 520.78L582.59 521.37L582.42 521.95L582.27 522.54L582.15 523.12L582.15 523.71L582.15 524.29L582.15 524.88L582.15 525.46L582.15 526.05L582.07 526.63L581.83 527.22L581.68 527.80L581.52 527.80L581.37 527.22L581.13 526.63L581.05 526.05L581.05 525.46L581.05 524.88L581.05 524.29L581.05 523.71L581.05 523.12L580.93 522.54L580.78 521.95L580.61 521.37L580.40 520.78L580.17 520.20L579.91 519.61L579.61 519.03L579.27 518.44L578.90 517.86L578.50 517.27L578.06 516.69L577.60 516.10L577.10 515.52L576.59 514.93L576.06 514.35L575.51 513.76L574.97 513.18L574.44 512.59L573.92 512.01L573.42 511.43L572.96 510.84L572.55 510.26L572.19 509.67L571.89 509.09L571.66 508.50L571.50 507.92L571.41 507.33L571.41 506.75L571.46 506.16L571.58 505.58L571.75 504.99L571.97 504.41L572.25 503.82L572.57 503.24L572.93 502.65L573.33 502.07L573.75 501.48L574.20 500.90L574.66 500.31L575.13 499.73L575.60 499.14L576.08 498.56L576.54 497.97L577.00 497.39L577.43 496.81L577.85 496.22L578.25 495.64L578.62 495.05L578.96 494.47L579.28 493.88L579.58 493.30L579.84 492.71L580.08 492.13L580.30 491.54L580.49 490.96L580.66 490.37L580.80 489.79L580.93 489.20L581.04 488.62L581.05 488.03L581.05 487.45L581.05 486.86L581.05 486.28L581.05 485.69L581.05 485.11L581.05 484.52L581.05 483.94L581.05 483.35L581.13 482.77L581.37 482.18L581.56 481.60Z" fill="#a9bcd9" stroke="#333" stroke-width="0.6" />
<circle cx="581.6" cy="507.00" r="1.15" fill="#fff"/>
<path d="M608.54 477.00L608.75 477.63L609.01 478.26L609.05 478.89L609.05 479.53L609.05 480.16L609.05 480.79L609.05 481.42L609.05 482.05L609.05 482.68L609.05 483.32L609.05 483.95L609.12 484.58L609.25 485.21L609.40 485.84L609.57 486.47L609.76 487.11L609.98 487.74L610.23 488.37L610.51 489.00L610.82 489.63L611.15 490.26L611.52 490.90L611.91 491.53L612.33 492.16L612.78 492.79L613.25 493.42L613.73 494.05L614.23 494.69L614.74 495.32L615.25 495.95L615.76 496.58L616.25 497.21L616.73 497.84L617.18 498.48L617.60 499.11L617.98 499.74L618.31 500.37L618.59 501.00L618.81 501.63L618.97 502.27L619.07 502.90L619.10 503.53L619.06 504.16L618.94 504.79L618.76 505.42L618.50 506.06L618.18 506.69L617.81 507.32L617.38 507.95L616.92 508.58L616.42 509.21L615.90 509.85L615.37 510.48L614.83 511.11L614.29 511.74L613.75 512.37L613.24 513.00L612.74 513.64L612.27 514.27L611.83 514.90L611.42 515.53L611.04 516.16L610.69 516.79L610.38 517.43L610.10 518.06L609.85 518.69L609.64 519.32L609.45 519.95L609.29 520.58L609.15 521.22L609.05 521.85L609.05 522.48L609.05 523.11L609.05 523.74L609.05 524.37L609.05 525.01L609.01 525.64L608.75 526.27L608.58 526.90L608.42 526.90L608.25 526.27L607.99 525.64L607.95 525.01L607.95 524.37L607.95 523.74L607.95 523.11L607.95 522.48L607.95 521.85L607.85 521.22L607.71 520.58L607.55 519.95L607.36 519.32L607.15 518.69L606.90 518.06L606.62 517.43L606.31 516.79L605.96 516.16L605.58 515.53L605.17 514.90L604.73 514.27L604.26 513.64L603.76 513.00L603.25 512.37L602.71 511.74L602.17 511.11L601.63 510.48L601.10 509.85L600.58 509.21L600.08 508.58L599.62 507.95L599.19 507.32L598.82 506.69L598.50 506.06L598.24 505.42L598.06 504.79L597.94 504.16L597.90 503.53L597.93 502.90L598.03 502.27L598.19 501.63L598.41 501.00L598.69 500.37L599.02 499.74L599.40 499.11L599.82 498.48L600.27 497.84L600.75 497.21L601.24 496.58L601.75 495.95L602.26 495.32L602.77 494.69L603.27 494.05L603.75 493.42L604.22 492.79L604.67 492.16L605.09 491.53L605.48 490.90L605.85 490.26L606.18 489.63L606.49 489.00L606.77 488.37L607.02 487.74L607.24 487.11L607.43 486.47L607.60 485.84L607.75 485.21L607.88 484.58L607.95 483.95L607.95 483.32L607.95 482.68L607.95 482.05L607.95 481.42L607.95 480.79L607.95 480.16L607.95 479.53L607.95 478.89L607.99 478.26L608.25 477.63L608.46 477.00Z" fill="#5b8199" stroke="#333" stroke-width="0.6" />
<circle cx="608.5" cy="503.50" r="1.15" fill="#fff"/>
<path d="M635.24 474.10L635.46 474.74L635.71 475.38L635.75 476.02L635.75 476.66L635.75 477.30L635.75 477.94L635.75 478.57L635.75 479.21L635.76 479.85L635.91 480.49L636.09 481.13L636.30 481.77L636.56 482.41L636.86 483.05L637.20 483.69L637.59 484.33L638.03 484.97L638.51 485.61L639.04 486.25L639.62 486.88L640.22 487.52L640.86 488.16L641.51 488.80L642.17 489.44L642.83 490.08L643.46 490.72L644.06 491.36L644.61 492.00L645.10 492.64L645.51 493.28L645.83 493.92L646.06 494.56L646.18 495.19L646.20 495.83L646.15 496.47L646.05 497.11L645.91 497.75L645.71 498.39L645.47 499.03L645.19 499.67L644.87 500.31L644.52 500.95L644.13 501.59L643.72 502.23L643.30 502.87L642.85 503.51L642.40 504.14L641.94 504.78L641.48 505.42L641.03 506.06L640.58 506.70L640.14 507.34L639.72 507.98L639.31 508.62L638.92 509.26L638.56 509.90L638.21 510.54L637.89 511.18L637.59 511.82L637.31 512.45L637.06 513.09L636.83 513.73L636.62 514.37L636.43 515.01L636.27 515.65L636.12 516.29L635.98 516.93L635.87 517.57L635.77 518.21L635.75 518.85L635.75 519.49L635.75 520.13L635.75 520.76L635.75 521.40L635.75 522.04L635.75 522.68L635.71 523.32L635.46 523.96L635.28 524.60L635.12 524.60L634.94 523.96L634.69 523.32L634.65 522.68L634.65 522.04L634.65 521.40L634.65 520.76L634.65 520.13L634.65 519.49L634.65 518.85L634.63 518.21L634.53 517.57L634.42 516.93L634.28 516.29L634.13 515.65L633.97 515.01L633.78 514.37L633.57 513.73L633.34 513.09L633.09 512.45L632.81 511.82L632.51 511.18L632.19 510.54L631.84 509.90L631.48 509.26L631.09 508.62L630.68 507.98L630.26 507.34L629.82 506.70L629.37 506.06L628.92 505.42L628.46 504.78L628.00 504.14L627.55 503.51L627.10 502.87L626.68 502.23L626.27 501.59L625.88 500.95L625.53 500.31L625.21 499.67L624.93 499.03L624.69 498.39L624.49 497.75L624.35 497.11L624.25 496.47L624.20 495.83L624.22 495.19L624.34 494.56L624.57 493.92L624.89 493.28L625.30 492.64L625.79 492.00L626.34 491.36L626.94 490.72L627.57 490.08L628.23 489.44L628.89 488.80L629.54 488.16L630.18 487.52L630.78 486.88L631.36 486.25L631.89 485.61L632.37 484.97L632.81 484.33L633.20 483.69L633.54 483.05L633.84 482.41L634.10 481.77L634.31 481.13L634.49 480.49L634.64 479.85L634.65 479.21L634.65 478.57L634.65 477.94L634.65 477.30L634.65 476.66L634.65 476.02L634.69 475.38L634.94 474.74L635.16 474.10Z" fill="#ef8a7c" stroke="#333" stroke-width="0.6" />
<circle cx="635.2" cy="495.60" r="1.15" fill="#fff"/>
<path d="M662.44 474.10L662.64 474.70L662.88 475.30L662.95 475.90L662.95 476.51L662.95 477.11L662.95 477.71L662.95 478.31L662.95 478.91L662.95 479.51L663.02 480.11L663.17 480.71L663.35 481.32L663.56 481.92L663.80 482.52L664.08 483.12L664.41 483.72L664.77 484.32L665.18 484.92L665.63 485.52L666.12 486.13L666.65 486.73L667.21 487.33L667.81 487.93L668.43 488.53L669.06 489.13L669.70 489.73L670.33 490.33L670.94 490.94L671.53 491.54L672.08 492.14L672.57 492.74L673.00 493.34L673.35 493.94L673.62 494.54L673.80 495.14L673.89 495.75L673.89 496.35L673.81 496.95L673.65 497.55L673.42 498.15L673.13 498.75L672.77 499.35L672.36 499.95L671.90 500.56L671.40 501.16L670.88 501.76L670.33 502.36L669.76 502.96L669.20 503.56L668.63 504.16L668.07 504.76L667.53 505.37L667.01 505.97L666.52 506.57L666.05 507.17L665.62 507.77L665.21 508.37L664.85 508.97L664.51 509.57L664.21 510.18L663.94 510.78L663.71 511.38L663.50 511.98L663.32 512.58L663.16 513.18L663.03 513.78L662.95 514.38L662.95 514.99L662.95 515.59L662.95 516.19L662.95 516.79L662.95 517.39L662.95 517.99L662.95 518.59L662.95 519.19L662.95 519.80L662.88 520.40L662.64 521.00L662.43 521.60L662.37 521.60L662.16 521.00L661.92 520.40L661.85 519.80L661.85 519.19L661.85 518.59L661.85 517.99L661.85 517.39L661.85 516.79L661.85 516.19L661.85 515.59L661.85 514.99L661.85 514.38L661.77 513.78L661.64 513.18L661.48 512.58L661.30 511.98L661.09 511.38L660.86 510.78L660.59 510.18L660.29 509.57L659.95 508.97L659.59 508.37L659.18 507.77L658.75 507.17L658.28 506.57L657.79 505.97L657.27 505.37L656.73 504.76L656.17 504.16L655.60 503.56L655.04 502.96L654.47 502.36L653.92 501.76L653.40 501.16L652.90 500.56L652.44 499.95L652.03 499.35L651.67 498.75L651.38 498.15L651.15 497.55L650.99 496.95L650.91 496.35L650.91 495.75L651.00 495.14L651.18 494.54L651.45 493.94L651.80 493.34L652.23 492.74L652.72 492.14L653.27 491.54L653.86 490.94L654.47 490.33L655.10 489.73L655.74 489.13L656.37 488.53L656.99 487.93L657.59 487.33L658.15 486.73L658.68 486.13L659.17 485.52L659.62 484.92L660.03 484.32L660.39 483.72L660.72 483.12L661.00 482.52L661.24 481.92L661.45 481.32L661.63 480.71L661.78 480.11L661.85 479.51L661.85 478.91L661.85 478.31L661.85 477.71L661.85 477.11L661.85 476.51L661.85 475.90L661.92 475.30L662.16 474.70L662.36 474.10Z" fill="#b73a4b" stroke="#333" stroke-width="0.6" />
<circle cx="662.4" cy="496.00" r="1.15" fill="#fff"/>
<path d="M581.6 470.30V468.50H608.5V470.30" fill="none" stroke="#555" stroke-width="0.6" />
<path d="M590.85 461.85L591.29 462.99L592.51 463.06L591.56 463.83L591.88 465.02L590.85 464.35L589.82 465.02L590.14 463.83L589.19 463.06L590.41 462.99ZM595.05 461.85L595.49 462.99L596.71 463.06L595.76 463.83L596.08 465.02L595.05 464.35L594.02 465.02L594.34 463.83L593.39 463.06L594.61 462.99ZM599.25 461.85L599.69 462.99L600.91 463.06L599.96 463.83L600.28 465.02L599.25 464.35L598.22 465.02L598.54 463.83L597.59 463.06L598.81 462.99Z" fill="#222" />
<path d="M608.5 463.50V461.70H635.2V463.50" fill="none" stroke="#555" stroke-width="0.6" />
<path d="M617.65 455.05L618.09 456.19L619.31 456.26L618.36 457.03L618.68 458.22L617.65 457.55L616.62 458.22L616.94 457.03L615.99 456.26L617.21 456.19ZM621.85 455.05L622.29 456.19L623.51 456.26L622.56 457.03L622.88 458.22L621.85 457.55L620.82 458.22L621.14 457.03L620.19 456.26L621.41 456.19ZM626.05 455.05L626.49 456.19L627.71 456.26L626.76 457.03L627.08 458.22L626.05 457.55L625.02 458.22L625.34 457.03L624.39 456.26L625.61 456.19Z" fill="#222" />
<path d="M635.2 456.20V454.40H662.4V456.20" fill="none" stroke="#555" stroke-width="0.6" />
<text x="648.80" y="452.60" font-size="7.2" text-anchor="middle">NS</text>
<text x="546.20" y="501.05" font-size="7.6" text-anchor="middle" transform="rotate(-90 546.20 501.05)">UPR core score</text>
<path d="M567.3 563.8V621.9H674.8" fill="none" stroke="#444" stroke-width="0.7" />
<text x="563.90" y="621.50" font-size="6.6" text-anchor="end">−0.5</text>
<text x="563.90" y="609.50" font-size="6.6" text-anchor="end">0</text>
<text x="563.90" y="597.50" font-size="6.6" text-anchor="end">0.5</text>
<text x="563.90" y="585.50" font-size="6.6" text-anchor="end">1.0</text>
<text x="563.90" y="573.50" font-size="6.6" text-anchor="end">1.5</text>
<path d="M565.1 619.20H567.3M565.1 607.20H567.3M565.1 595.20H567.3M565.1 583.20H567.3M565.1 571.20H567.3M581.6 621.90v2.3M608.5 621.90v2.3M635.2 621.90v2.3M662.4 621.90v2.3" fill="none" stroke="#444" stroke-width="0.6" />
<path d="M581.64 573.50L581.83 574.08L582.07 574.67L582.15 575.25L582.15 575.84L582.15 576.42L582.15 577.01L582.15 577.59L582.15 578.18L582.15 578.76L582.15 579.35L582.15 579.93L582.15 580.52L582.15 581.10L582.25 581.69L582.36 582.27L582.49 582.86L582.63 583.44L582.80 584.03L582.98 584.61L583.18 585.20L583.41 585.78L583.65 586.37L583.92 586.95L584.21 587.54L584.52 588.12L584.86 588.71L585.22 589.29L585.59 589.87L585.98 590.46L586.39 591.04L586.82 591.63L587.25 592.21L587.69 592.80L588.13 593.38L588.57 593.97L589.00 594.55L589.43 595.14L589.83 595.72L590.22 596.31L590.58 596.89L590.92 597.48L591.21 598.06L591.48 598.65L591.69 599.23L591.87 599.82L591.99 600.40L592.07 600.99L592.10 601.57L592.05 602.16L591.90 602.74L591.64 603.33L591.30 603.91L590.87 604.49L590.37 605.08L589.81 605.66L589.21 606.25L588.58 606.83L587.94 607.42L587.30 608.00L586.67 608.59L586.07 609.17L585.49 609.76L584.96 610.34L584.47 610.93L584.03 611.51L583.63 612.10L583.28 612.68L582.98 613.27L582.72 613.85L582.50 614.44L582.32 615.02L582.16 615.61L582.15 616.19L582.15 616.78L582.15 617.36L582.15 617.95L582.07 618.53L581.83 619.12L581.68 619.70L581.52 619.70L581.37 619.12L581.13 618.53L581.05 617.95L581.05 617.36L581.05 616.78L581.05 616.19L581.04 615.61L580.88 615.02L580.70 614.44L580.48 613.85L580.22 613.27L579.92 612.68L579.57 612.10L579.17 611.51L578.73 610.93L578.24 610.34L577.71 609.76L577.13 609.17L576.53 608.59L575.90 608.00L575.26 607.42L574.62 606.83L573.99 606.25L573.39 605.66L572.83 605.08L572.33 604.49L571.90 603.91L571.56 603.33L571.30 602.74L571.15 602.16L571.10 601.57L571.13 600.99L571.21 600.40L571.33 599.82L571.51 599.23L571.72 598.65L571.99 598.06L572.28 597.48L572.62 596.89L572.98 596.31L573.37 595.72L573.77 595.14L574.20 594.55L574.63 593.97L575.07 593.38L575.51 592.80L575.95 592.21L576.38 591.63L576.81 591.04L577.22 590.46L577.61 589.87L577.98 589.29L578.34 588.71L578.68 588.12L578.99 587.54L579.28 586.95L579.55 586.37L579.79 585.78L580.02 585.20L580.22 584.61L580.40 584.03L580.57 583.44L580.71 582.86L580.84 582.27L580.95 581.69L581.05 581.10L581.05 580.52L581.05 579.93L581.05 579.35L581.05 578.76L581.05 578.18L581.05 577.59L581.05 577.01L581.05 576.42L581.05 575.84L581.05 575.25L581.13 574.67L581.37 574.08L581.56 573.50Z" fill="#a9bcd9" stroke="#333" stroke-width="0.6" />
<circle cx="581.6" cy="601.60" r="1.15" fill="#fff"/>
<path d="M608.54 569.90L608.75 570.52L609.00 571.14L609.05 571.76L609.05 572.38L609.05 572.99L609.05 573.61L609.05 574.23L609.05 574.85L609.05 575.47L609.05 576.09L609.05 576.71L609.05 577.33L609.14 577.95L609.26 578.57L609.39 579.18L609.55 579.80L609.73 580.42L609.93 581.04L610.15 581.66L610.40 582.28L610.67 582.90L610.97 583.52L611.30 584.14L611.65 584.76L612.02 585.37L612.42 585.99L612.84 586.61L613.28 587.23L613.73 587.85L614.19 588.47L614.66 589.09L615.13 589.71L615.60 590.33L616.06 590.95L616.51 591.56L616.94 592.18L617.34 592.80L617.71 593.42L618.04 594.04L618.32 594.66L618.57 595.28L618.76 595.90L618.89 596.52L618.98 597.14L619.00 597.75L618.95 598.37L618.81 598.99L618.59 599.61L618.29 600.23L617.92 600.85L617.49 601.47L617.00 602.09L616.48 602.71L615.92 603.33L615.35 603.94L614.76 604.56L614.18 605.18L613.61 605.80L613.06 606.42L612.53 607.04L612.04 607.66L611.58 608.28L611.16 608.90L610.77 609.52L610.43 610.13L610.12 610.75L609.85 611.37L609.62 611.99L609.42 612.61L609.25 613.23L609.10 613.85L609.05 614.47L609.05 615.09L609.05 615.71L609.05 616.32L609.05 616.94L609.00 617.56L608.75 618.18L608.58 618.80L608.42 618.80L608.25 618.18L608.00 617.56L607.95 616.94L607.95 616.32L607.95 615.71L607.95 615.09L607.95 614.47L607.90 613.85L607.75 613.23L607.58 612.61L607.38 611.99L607.15 611.37L606.88 610.75L606.57 610.13L606.23 609.52L605.84 608.90L605.42 608.28L604.96 607.66L604.47 607.04L603.94 606.42L603.39 605.80L602.82 605.18L602.24 604.56L601.65 603.94L601.08 603.33L600.52 602.71L600.00 602.09L599.51 601.47L599.08 600.85L598.71 600.23L598.41 599.61L598.19 598.99L598.05 598.37L598.00 597.75L598.02 597.14L598.11 596.52L598.24 595.90L598.43 595.28L598.68 594.66L598.96 594.04L599.29 593.42L599.66 592.80L600.06 592.18L600.49 591.56L600.94 590.95L601.40 590.33L601.87 589.71L602.34 589.09L602.81 588.47L603.27 587.85L603.72 587.23L604.16 586.61L604.58 585.99L604.98 585.37L605.35 584.76L605.70 584.14L606.03 583.52L606.33 582.90L606.60 582.28L606.85 581.66L607.07 581.04L607.27 580.42L607.45 579.80L607.61 579.18L607.74 578.57L607.86 577.95L607.95 577.33L607.95 576.71L607.95 576.09L607.95 575.47L607.95 574.85L607.95 574.23L607.95 573.61L607.95 572.99L607.95 572.38L607.95 571.76L608.00 571.14L608.25 570.52L608.46 569.90Z" fill="#5b8199" stroke="#333" stroke-width="0.6" />
<circle cx="608.5" cy="597.70" r="1.15" fill="#fff"/>
<path d="M635.24 568.30L635.44 568.90L635.68 569.50L635.75 570.10L635.75 570.71L635.75 571.31L635.75 571.91L635.75 572.51L635.75 573.11L635.75 573.71L635.85 574.31L636.01 574.91L636.20 575.52L636.43 576.12L636.70 576.72L637.00 577.32L637.35 577.92L637.75 578.52L638.18 579.12L638.66 579.72L639.19 580.33L639.75 580.93L640.34 581.53L640.96 582.13L641.59 582.73L642.22 583.33L642.85 583.93L643.46 584.53L644.04 585.14L644.57 585.74L645.05 586.34L645.45 586.94L645.78 587.54L646.02 588.14L646.16 588.74L646.20 589.34L646.17 589.95L646.08 590.55L645.94 591.15L645.75 591.75L645.51 592.35L645.23 592.95L644.90 593.55L644.54 594.15L644.14 594.76L643.72 595.36L643.28 595.96L642.83 596.56L642.36 597.16L641.89 597.76L641.41 598.36L640.95 598.96L640.49 599.57L640.04 600.17L639.61 600.77L639.19 601.37L638.80 601.97L638.43 602.57L638.09 603.17L637.76 603.77L637.46 604.38L637.19 604.98L636.94 605.58L636.72 606.18L636.51 606.78L636.33 607.38L636.17 607.98L636.03 608.58L635.90 609.19L635.79 609.79L635.75 610.39L635.75 610.99L635.75 611.59L635.75 612.19L635.75 612.79L635.75 613.39L635.75 614.00L635.68 614.60L635.44 615.20L635.28 615.80L635.12 615.80L634.96 615.20L634.72 614.60L634.65 614.00L634.65 613.39L634.65 612.79L634.65 612.19L634.65 611.59L634.65 610.99L634.65 610.39L634.61 609.79L634.50 609.19L634.37 608.58L634.23 607.98L634.07 607.38L633.89 606.78L633.68 606.18L633.46 605.58L633.21 604.98L632.94 604.38L632.64 603.77L632.31 603.17L631.97 602.57L631.60 601.97L631.21 601.37L630.79 600.77L630.36 600.17L629.91 599.57L629.45 598.96L628.99 598.36L628.51 597.76L628.04 597.16L627.57 596.56L627.12 595.96L626.68 595.36L626.26 594.76L625.86 594.15L625.50 593.55L625.17 592.95L624.89 592.35L624.65 591.75L624.46 591.15L624.32 590.55L624.23 589.95L624.20 589.34L624.24 588.74L624.38 588.14L624.62 587.54L624.95 586.94L625.35 586.34L625.83 585.74L626.36 585.14L626.94 584.53L627.55 583.93L628.18 583.33L628.81 582.73L629.44 582.13L630.06 581.53L630.65 580.93L631.21 580.33L631.74 579.72L632.22 579.12L632.65 578.52L633.05 577.92L633.40 577.32L633.70 576.72L633.97 576.12L634.20 575.52L634.39 574.91L634.55 574.31L634.65 573.71L634.65 573.11L634.65 572.51L634.65 571.91L634.65 571.31L634.65 570.71L634.65 570.10L634.72 569.50L634.96 568.90L635.16 568.30Z" fill="#ef8a7c" stroke="#333" stroke-width="0.6" />
<circle cx="635.2" cy="589.30" r="1.15" fill="#fff"/>
<path d="M662.44 566.00L662.65 566.62L662.89 567.23L662.95 567.85L662.95 568.47L662.95 569.08L662.95 569.70L662.95 570.32L662.95 570.93L662.95 571.55L662.95 572.16L663.07 572.78L663.22 573.40L663.40 574.01L663.60 574.63L663.84 575.25L664.11 575.86L664.42 576.48L664.76 577.10L665.14 577.71L665.56 578.33L666.02 578.95L666.51 579.56L667.04 580.18L667.59 580.79L668.17 581.41L668.76 582.03L669.36 582.64L669.96 583.26L670.55 583.88L671.12 584.49L671.67 585.11L672.17 585.73L672.63 586.34L673.03 586.96L673.36 587.58L673.61 588.19L673.79 588.81L673.88 589.43L673.89 590.04L673.82 590.66L673.66 591.27L673.42 591.89L673.11 592.51L672.73 593.12L672.29 593.74L671.80 594.36L671.27 594.97L670.70 595.59L670.12 596.21L669.52 596.82L668.92 597.44L668.33 598.06L667.75 598.67L667.19 599.29L666.66 599.91L666.16 600.52L665.70 601.14L665.27 601.75L664.87 602.37L664.52 602.99L664.20 603.60L663.92 604.22L663.68 604.84L663.46 605.45L663.28 606.07L663.12 606.69L662.99 607.30L662.95 607.92L662.95 608.54L662.95 609.15L662.95 609.77L662.95 610.38L662.95 611.00L662.95 611.62L662.95 612.23L662.95 612.85L662.89 613.47L662.65 614.08L662.43 614.70L662.37 614.70L662.15 614.08L661.91 613.47L661.85 612.85L661.85 612.23L661.85 611.62L661.85 611.00L661.85 610.38L661.85 609.77L661.85 609.15L661.85 608.54L661.85 607.92L661.81 607.30L661.68 606.69L661.52 606.07L661.34 605.45L661.12 604.84L660.88 604.22L660.60 603.60L660.28 602.99L659.93 602.37L659.53 601.75L659.10 601.14L658.64 600.52L658.14 599.91L657.61 599.29L657.05 598.67L656.47 598.06L655.88 597.44L655.28 596.82L654.68 596.21L654.10 595.59L653.53 594.97L653.00 594.36L652.51 593.74L652.07 593.12L651.69 592.51L651.38 591.89L651.14 591.27L650.98 590.66L650.91 590.04L650.92 589.43L651.01 588.81L651.19 588.19L651.44 587.58L651.77 586.96L652.17 586.34L652.63 585.73L653.13 585.11L653.68 584.49L654.25 583.88L654.84 583.26L655.44 582.64L656.04 582.03L656.63 581.41L657.21 580.79L657.76 580.18L658.29 579.56L658.78 578.95L659.24 578.33L659.66 577.71L660.04 577.10L660.38 576.48L660.69 575.86L660.96 575.25L661.20 574.63L661.40 574.01L661.58 573.40L661.73 572.78L661.85 572.16L661.85 571.55L661.85 570.93L661.85 570.32L661.85 569.70L661.85 569.08L661.85 568.47L661.85 567.85L661.91 567.23L662.15 566.62L662.36 566.00Z" fill="#b73a4b" stroke="#333" stroke-width="0.6" />
<circle cx="662.4" cy="589.80" r="1.15" fill="#fff"/>
<path d="M581.6 562.60V560.80H608.5V562.60" fill="none" stroke="#555" stroke-width="0.6" />
<path d="M590.85 554.15L591.29 555.29L592.51 555.36L591.56 556.13L591.88 557.32L590.85 556.65L589.82 557.32L590.14 556.13L589.19 555.36L590.41 555.29ZM595.05 554.15L595.49 555.29L596.71 555.36L595.76 556.13L596.08 557.32L595.05 556.65L594.02 557.32L594.34 556.13L593.39 555.36L594.61 555.29ZM599.25 554.15L599.69 555.29L600.91 555.36L599.96 556.13L600.28 557.32L599.25 556.65L598.22 557.32L598.54 556.13L597.59 555.36L598.81 555.29Z" fill="#222" />
<path d="M608.5 555.40V553.60H635.2V555.40" fill="none" stroke="#555" stroke-width="0.6" />
<path d="M617.65 546.95L618.09 548.09L619.31 548.16L618.36 548.93L618.68 550.12L617.65 549.45L616.62 550.12L616.94 548.93L615.99 548.16L617.21 548.09ZM621.85 546.95L622.29 548.09L623.51 548.16L622.56 548.93L622.88 550.12L621.85 549.45L620.82 550.12L621.14 548.93L620.19 548.16L621.41 548.09ZM626.05 546.95L626.49 548.09L627.71 548.16L626.76 548.93L627.08 550.12L626.05 549.45L625.02 550.12L625.34 548.93L624.39 548.16L625.61 548.09Z" fill="#222" />
<path d="M635.2 548.60V546.80H662.4V548.60" fill="none" stroke="#555" stroke-width="0.6" />
<text x="648.80" y="545.00" font-size="7.2" text-anchor="middle">NS</text>
<text x="546.20" y="592.85" font-size="7.6" text-anchor="middle" transform="rotate(-90 546.20 592.85)">ER stress score</text>
<path d="M567.3 662.6V720.3H674.8" fill="none" stroke="#444" stroke-width="0.7" />
<text x="563.90" y="718.60" font-size="6.6" text-anchor="end">−0.5</text>
<text x="563.90" y="706.80" font-size="6.6" text-anchor="end">0</text>
<text x="563.90" y="695.00" font-size="6.6" text-anchor="end">0.5</text>
<text x="563.90" y="683.20" font-size="6.6" text-anchor="end">1.0</text>
<text x="563.90" y="671.40" font-size="6.6" text-anchor="end">1.5</text>
<path d="M565.1 716.30H567.3M565.1 704.50H567.3M565.1 692.70H567.3M565.1 680.90H567.3M565.1 669.10H567.3M581.6 720.30v2.3M608.5 720.30v2.3M635.2 720.30v2.3M662.4 720.30v2.3" fill="none" stroke="#444" stroke-width="0.6" />
<path d="M581.60 673.50L581.83 674.06L582.05 674.63L582.15 675.19L582.15 675.75L582.15 676.32L582.15 676.88L582.15 677.44L582.15 678.01L582.15 678.57L582.15 679.13L582.15 679.70L582.15 680.26L582.15 680.82L582.15 681.39L582.15 681.95L582.15 682.51L582.15 683.08L582.15 683.64L582.15 684.20L582.15 684.77L582.15 685.33L582.15 685.89L582.15 686.46L582.21 687.02L582.34 687.58L582.50 688.15L582.68 688.71L582.89 689.27L583.14 689.84L583.41 690.40L583.72 690.96L584.06 691.53L584.44 692.09L584.85 692.65L585.30 693.22L585.77 693.78L586.28 694.34L586.80 694.91L587.35 695.47L587.90 696.03L588.46 696.59L589.01 697.16L589.55 697.72L590.07 698.28L590.55 698.85L591.00 699.41L591.39 699.97L591.73 700.54L592.01 701.10L592.21 701.66L592.34 702.23L592.40 702.79L592.38 703.35L592.30 703.92L592.16 704.48L591.97 705.04L591.72 705.61L591.42 706.17L591.07 706.73L590.69 707.30L590.27 707.86L589.83 708.42L589.36 708.99L588.88 709.55L588.39 710.11L587.90 710.68L587.41 711.24L586.93 711.80L586.46 712.37L586.01 712.93L585.57 713.49L585.16 714.06L584.77 714.62L584.41 715.18L584.08 715.75L583.77 716.31L583.49 716.87L583.24 717.44L583.02 718.00L580.18 718.00L579.96 717.44L579.71 716.87L579.43 716.31L579.12 715.75L578.79 715.18L578.43 714.62L578.04 714.06L577.63 713.49L577.19 712.93L576.74 712.37L576.27 711.80L575.79 711.24L575.30 710.68L574.81 710.11L574.32 709.55L573.84 708.99L573.37 708.42L572.93 707.86L572.51 707.30L572.13 706.73L571.78 706.17L571.48 705.61L571.23 705.04L571.04 704.48L570.90 703.92L570.82 703.35L570.80 702.79L570.86 702.23L570.99 701.66L571.19 701.10L571.47 700.54L571.81 699.97L572.20 699.41L572.65 698.85L573.13 698.28L573.65 697.72L574.19 697.16L574.74 696.59L575.30 696.03L575.85 695.47L576.40 694.91L576.92 694.34L577.43 693.78L577.90 693.22L578.35 692.65L578.76 692.09L579.14 691.53L579.48 690.96L579.79 690.40L580.06 689.84L580.31 689.27L580.52 688.71L580.70 688.15L580.86 687.58L580.99 687.02L581.05 686.46L581.05 685.89L581.05 685.33L581.05 684.77L581.05 684.20L581.05 683.64L581.05 683.08L581.05 682.51L581.05 681.95L581.05 681.39L581.05 680.82L581.05 680.26L581.05 679.70L581.05 679.13L581.05 678.57L581.05 678.01L581.05 677.44L581.05 676.88L581.05 676.32L581.05 675.75L581.05 675.19L581.15 674.63L581.37 674.06L581.60 673.50Z" fill="#a9bcd9" stroke="#333" stroke-width="0.6" />
<circle cx="581.6" cy="702.90" r="1.15" fill="#fff"/>
<path d="M608.50 664.40L608.77 665.08L609.04 665.76L609.05 666.44L609.05 667.11L609.05 667.79L609.05 668.47L609.05 669.15L609.05 669.83L609.05 670.51L609.05 671.18L609.05 671.86L609.05 672.54L609.05 673.22L609.05 673.90L609.05 674.58L609.05 675.26L609.05 675.93L609.05 676.61L609.05 677.29L609.05 677.97L609.05 678.65L609.05 679.33L609.05 680.01L609.05 680.68L609.05 681.36L609.05 682.04L609.05 682.72L609.05 683.40L609.05 684.08L609.05 684.75L609.05 685.43L609.05 686.11L609.05 686.79L609.05 687.47L609.05 688.15L609.05 688.83L609.23 689.50L609.46 690.18L609.73 690.86L610.06 691.54L610.45 692.22L610.91 692.90L611.43 693.57L612.02 694.25L612.67 694.93L613.37 695.61L614.11 696.29L614.87 696.97L615.64 697.65L616.39 698.32L617.10 699.00L617.75 699.68L618.30 700.36L618.75 701.04L619.08 701.72L619.26 702.39L619.30 703.07L619.23 703.75L619.08 704.43L618.84 705.11L618.53 705.79L618.14 706.47L617.70 707.14L617.20 707.82L616.67 708.50L616.10 709.18L615.51 709.86L614.92 710.54L614.33 711.22L613.75 711.89L613.19 712.57L612.66 713.25L612.15 713.93L611.68 714.61L611.25 715.29L610.86 715.96L610.51 716.64L610.19 717.32L609.92 718.00L607.08 718.00L606.81 717.32L606.49 716.64L606.14 715.96L605.75 715.29L605.32 714.61L604.85 713.93L604.34 713.25L603.81 712.57L603.25 711.89L602.67 711.22L602.08 710.54L601.49 709.86L600.90 709.18L600.33 708.50L599.80 707.82L599.30 707.14L598.86 706.47L598.47 705.79L598.16 705.11L597.92 704.43L597.77 703.75L597.70 703.07L597.74 702.39L597.92 701.72L598.25 701.04L598.70 700.36L599.25 699.68L599.90 699.00L600.61 698.32L601.36 697.65L602.13 696.97L602.89 696.29L603.63 695.61L604.33 694.93L604.98 694.25L605.57 693.57L606.09 692.90L606.55 692.22L606.94 691.54L607.27 690.86L607.54 690.18L607.77 689.50L607.95 688.83L607.95 688.15L607.95 687.47L607.95 686.79L607.95 686.11L607.95 685.43L607.95 684.75L607.95 684.08L607.95 683.40L607.95 682.72L607.95 682.04L607.95 681.36L607.95 680.68L607.95 680.01L607.95 679.33L607.95 678.65L607.95 677.97L607.95 677.29L607.95 676.61L607.95 675.93L607.95 675.26L607.95 674.58L607.95 673.90L607.95 673.22L607.95 672.54L607.95 671.86L607.95 671.18L607.95 670.51L607.95 669.83L607.95 669.15L607.95 668.47L607.95 667.79L607.95 667.11L607.95 666.44L607.96 665.76L608.23 665.08L608.50 664.40Z" fill="#5b8199" stroke="#333" stroke-width="0.6" />
<circle cx="608.5" cy="702.90" r="1.15" fill="#fff"/>
<path d="M635.20 683.00L635.37 683.43L635.54 683.86L635.72 684.29L635.75 684.72L635.75 685.15L635.75 685.58L635.75 686.01L635.75 686.44L635.75 686.87L635.75 687.30L635.75 687.73L635.75 688.16L635.75 688.59L635.75 689.03L635.75 689.46L635.75 689.89L635.75 690.32L635.75 690.75L635.75 691.18L635.75 691.61L635.75 692.04L635.75 692.47L635.75 692.90L635.75 693.33L635.77 693.76L635.89 694.19L636.03 694.62L636.19 695.05L636.38 695.48L636.59 695.91L636.83 696.34L637.11 696.77L637.41 697.20L637.74 697.63L638.11 698.06L638.50 698.49L638.93 698.92L639.38 699.35L639.86 699.78L640.36 700.22L640.88 700.65L641.41 701.08L641.95 701.51L642.48 701.94L643.01 702.37L643.52 702.80L644.01 703.23L644.46 703.66L644.88 704.09L645.25 704.52L645.56 704.95L645.82 705.38L646.01 705.81L646.14 706.24L646.20 706.67L646.18 707.10L646.10 707.53L645.96 707.96L645.76 708.39L645.49 708.82L645.18 709.25L644.81 709.68L644.40 710.11L643.96 710.54L643.49 710.97L643.00 711.41L642.49 711.84L641.97 712.27L641.45 712.70L640.94 713.13L640.44 713.56L639.95 713.99L639.49 714.42L639.04 714.85L638.62 715.28L638.23 715.71L637.87 716.14L637.53 716.57L637.23 717.00L633.17 717.00L632.87 716.57L632.53 716.14L632.17 715.71L631.78 715.28L631.36 714.85L630.91 714.42L630.45 713.99L629.96 713.56L629.46 713.13L628.95 712.70L628.43 712.27L627.91 711.84L627.40 711.41L626.91 710.97L626.44 710.54L626.00 710.11L625.59 709.68L625.22 709.25L624.91 708.82L624.64 708.39L624.44 707.96L624.30 707.53L624.22 707.10L624.20 706.67L624.26 706.24L624.39 705.81L624.58 705.38L624.84 704.95L625.15 704.52L625.52 704.09L625.94 703.66L626.39 703.23L626.88 702.80L627.39 702.37L627.92 701.94L628.45 701.51L628.99 701.08L629.52 700.65L630.04 700.22L630.54 699.78L631.02 699.35L631.47 698.92L631.90 698.49L632.29 698.06L632.66 697.63L632.99 697.20L633.29 696.77L633.57 696.34L633.81 695.91L634.02 695.48L634.21 695.05L634.37 694.62L634.51 694.19L634.63 693.76L634.65 693.33L634.65 692.90L634.65 692.47L634.65 692.04L634.65 691.61L634.65 691.18L634.65 690.75L634.65 690.32L634.65 689.89L634.65 689.46L634.65 689.03L634.65 688.59L634.65 688.16L634.65 687.73L634.65 687.30L634.65 686.87L634.65 686.44L634.65 686.01L634.65 685.58L634.65 685.15L634.65 684.72L634.68 684.29L634.86 683.86L635.03 683.43L635.20 683.00Z" fill="#ef8a7c" stroke="#333" stroke-width="0.6" />
<circle cx="635.2" cy="706.80" r="1.15" fill="#fff"/>
<path d="M662.40 680.30L662.59 680.77L662.78 681.24L662.95 681.72L662.95 682.19L662.95 682.66L662.95 683.13L662.95 683.61L662.95 684.08L662.95 684.55L662.95 685.02L662.95 685.49L662.95 685.97L662.95 686.44L662.95 686.91L662.95 687.38L662.95 687.85L662.95 688.33L662.95 688.80L662.95 689.27L662.95 689.74L662.95 690.22L662.95 690.69L662.95 691.16L662.95 691.63L662.96 692.10L663.10 692.58L663.27 693.05L663.47 693.52L663.70 693.99L663.97 694.46L664.27 694.94L664.62 695.41L665.01 695.88L665.44 696.35L665.92 696.83L666.43 697.30L666.98 697.77L667.55 698.24L668.15 698.71L668.77 699.19L669.39 699.66L670.00 700.13L670.60 700.60L671.16 701.07L671.69 701.55L672.16 702.02L672.57 702.49L672.91 702.96L673.16 703.44L673.33 703.91L673.40 704.38L673.38 704.85L673.32 705.32L673.20 705.80L673.02 706.27L672.80 706.74L672.54 707.21L672.23 707.68L671.88 708.16L671.50 708.63L671.09 709.10L670.66 709.57L670.22 710.05L669.76 710.52L669.29 710.99L668.82 711.46L668.35 711.93L667.89 712.41L667.44 712.88L667.01 713.35L666.59 713.82L666.19 714.29L665.81 714.77L665.45 715.24L665.12 715.71L664.81 716.18L664.53 716.66L664.27 717.13L664.03 717.60L660.77 717.60L660.53 717.13L660.27 716.66L659.99 716.18L659.68 715.71L659.35 715.24L658.99 714.77L658.61 714.29L658.21 713.82L657.79 713.35L657.36 712.88L656.91 712.41L656.45 711.93L655.98 711.46L655.51 710.99L655.04 710.52L654.58 710.05L654.14 709.57L653.71 709.10L653.30 708.63L652.92 708.16L652.57 707.68L652.26 707.21L652.00 706.74L651.78 706.27L651.60 705.80L651.48 705.32L651.42 704.85L651.40 704.38L651.47 703.91L651.64 703.44L651.89 702.96L652.23 702.49L652.64 702.02L653.11 701.55L653.64 701.07L654.20 700.60L654.80 700.13L655.41 699.66L656.03 699.19L656.65 698.71L657.25 698.24L657.82 697.77L658.37 697.30L658.88 696.83L659.36 696.35L659.79 695.88L660.18 695.41L660.53 694.94L660.83 694.46L661.10 693.99L661.33 693.52L661.53 693.05L661.70 692.58L661.84 692.10L661.85 691.63L661.85 691.16L661.85 690.69L661.85 690.22L661.85 689.74L661.85 689.27L661.85 688.80L661.85 688.33L661.85 687.85L661.85 687.38L661.85 686.91L661.85 686.44L661.85 685.97L661.85 685.49L661.85 685.02L661.85 684.55L661.85 684.08L661.85 683.61L661.85 683.13L661.85 682.66L661.85 682.19L661.85 681.72L662.02 681.24L662.21 680.77L662.40 680.30Z" fill="#b73a4b" stroke="#333" stroke-width="0.6" />
<circle cx="662.4" cy="704.50" r="1.15" fill="#fff"/>
<path d="M581.6 661.10V659.30H608.5V661.10" fill="none" stroke="#555" stroke-width="0.6" />
<text x="595.05" y="657.50" font-size="7.2" text-anchor="middle">NS</text>
<path d="M608.5 654.30V652.50H635.2V654.30" fill="none" stroke="#555" stroke-width="0.6" />
<path d="M617.65 645.85L618.09 646.99L619.31 647.06L618.36 647.83L618.68 649.02L617.65 648.35L616.62 649.02L616.94 647.83L615.99 647.06L617.21 646.99ZM621.85 645.85L622.29 646.99L623.51 647.06L622.56 647.83L622.88 649.02L621.85 648.35L620.82 649.02L621.14 647.83L620.19 647.06L621.41 646.99ZM626.05 645.85L626.49 646.99L627.71 647.06L626.76 647.83L627.08 649.02L626.05 648.35L625.02 649.02L625.34 647.83L624.39 647.06L625.61 646.99Z" fill="#222" />
<path d="M635.2 647.00V645.20H662.4V647.00" fill="none" stroke="#555" stroke-width="0.6" />
<path d="M644.60 638.55L645.04 639.69L646.26 639.76L645.31 640.53L645.63 641.72L644.60 641.05L643.57 641.72L643.89 640.53L642.94 639.76L644.16 639.69ZM648.80 638.55L649.24 639.69L650.46 639.76L649.51 640.53L649.83 641.72L648.80 641.05L647.77 641.72L648.09 640.53L647.14 639.76L648.36 639.69ZM653.00 638.55L653.44 639.69L654.66 639.76L653.71 640.53L654.03 641.72L653.00 641.05L651.97 641.72L652.29 640.53L651.34 639.76L652.56 639.69Z" fill="#222" />
<text x="546.20" y="691.45" font-size="7.6" text-anchor="middle" transform="rotate(-90 546.20 691.45)">MAPK dampening score</text>
<text x="584.00" y="726.20" font-size="7.9" text-anchor="end" transform="rotate(-45 584.00 726.20)">Quiescent_lowVL</text>
<text x="610.90" y="726.20" font-size="7.9" text-anchor="end" transform="rotate(-45 610.90 726.20)">Quiescent_highVL</text>
<text x="637.60" y="726.20" font-size="7.9" text-anchor="end" transform="rotate(-45 637.60 726.20)">Active_lowVL</text>
<text x="664.80" y="726.20" font-size="7.9" text-anchor="end" transform="rotate(-45 664.80 726.20)">Active_highVL</text>
<text x="252.30" y="587.30" font-size="12.8" fill="#000" font-weight="bold" stroke="#000" stroke-width="0.3">j</text>
<rect x="266.20" y="583.20" width="257.70" height="173.10" fill="#c9d6de" />
<rect x="413.60" y="602.00" width="61.70" height="130.00" fill="#fff" stroke="#444" stroke-width="0.7" />
<text x="444.30" y="598.60" font-size="7.6" text-anchor="middle">Reactome GO</text>
<circle cx="468.11" cy="608.10" r="4.0" fill="#8ea7b6" stroke="#3f4f5a" stroke-width="0.6"/>
<text x="409.40" y="610.10" font-size="6.25" text-anchor="end">HATs acetylate histones</text>
<circle cx="468.11" cy="622.89" r="5.15" fill="#8ea7b6" stroke="#3f4f5a" stroke-width="0.6"/>
<text x="409.40" y="624.89" font-size="6.25" text-anchor="end">HDACs deacetylate histones</text>
<circle cx="442.01" cy="637.68" r="2.3" fill="#8ea7b6" stroke="#3f4f5a" stroke-width="0.6"/>
<text x="409.40" y="639.68" font-size="6.25" text-anchor="end">Chromatin organization</text>
<circle cx="435.42" cy="652.47" r="4.9" fill="#8ea7b6" stroke="#3f4f5a" stroke-width="0.6"/>
<text x="409.40" y="654.47" font-size="6.25" text-anchor="end">RMTs methylate histone arginines</text>
<circle cx="427.48" cy="667.26" r="4.3" fill="#8ea7b6" stroke="#3f4f5a" stroke-width="0.6"/>
<text x="409.40" y="665.81" font-size="6.25" text-anchor="end">B-WICH complex positively regulates rRNA</text>
<text x="409.40" y="672.71" font-size="6.25" text-anchor="end">expression</text>
<circle cx="419.53" cy="682.05" r="5.1" fill="#8ea7b6" stroke="#3f4f5a" stroke-width="0.6"/>
<text x="409.40" y="684.05" font-size="6.25" text-anchor="end">RNA Polymerase I Promoter Opening</text>
<circle cx="419.31" cy="696.84" r="4.0" fill="#8ea7b6" stroke="#3f4f5a" stroke-width="0.6"/>
<text x="409.40" y="695.39" font-size="6.25" text-anchor="end">Positive epigenetic regulation of rRNA</text>
<text x="409.40" y="702.29" font-size="6.25" text-anchor="end">expression</text>
<circle cx="419.31" cy="711.63" r="5.0" fill="#8ea7b6" stroke="#3f4f5a" stroke-width="0.6"/>
<text x="409.40" y="713.63" font-size="6.25" text-anchor="end">DNA methylation</text>
<circle cx="418.40" cy="726.42" r="4.8" fill="#8ea7b6" stroke="#3f4f5a" stroke-width="0.6"/>
<text x="409.40" y="721.52" font-size="6.25" text-anchor="end">Activated PKN1 stimulates transcription</text>
<text x="409.40" y="728.42" font-size="6.25" text-anchor="end">of AR (androgen receptor) regulated</text>
<text x="409.40" y="735.32" font-size="6.25" text-anchor="end">genes KLK2 and KLK3</text>
<text x="418.40" y="741.80" font-size="6.6" text-anchor="middle">5</text>
<text x="441.10" y="741.80" font-size="6.6" text-anchor="middle">6</text>
<text x="463.80" y="741.80" font-size="6.6" text-anchor="middle">7</text>
<path d="M411.4 608.10H413.6M411.4 622.89H413.6M411.4 637.68H413.6M411.4 652.47H413.6M411.4 667.26H413.6M411.4 682.05H413.6M411.4 696.84H413.6M411.4 711.63H413.6M411.4 726.42H413.6M418.40 732.0v2.2M441.10 732.0v2.2M463.80 732.0v2.2" fill="none" stroke="#444" stroke-width="0.6" />
<text x="444.7" y="751.8" font-size="7.4" text-anchor="middle" fill="#222">−log<tspan font-size="5" dy="1.8">10</tspan><tspan dy="-1.8">(FDR)</tspan></text>
<text x="284.60" y="667.40" font-size="7.6" text-anchor="middle" transform="rotate(-90 284.60 667.40)">GO term</text>
<rect x="478.40" y="604.80" width="39.60" height="59.20" fill="#fff" />
<text x="481.20" y="611.40" font-size="7.3">Odds ratio</text>
<circle cx="488.3" cy="618.7" r="2.6" fill="#8ea7b6" stroke="#3f4f5a" stroke-width="0.6"/>
<text x="495.90" y="620.90" font-size="6.2">6.0</text>
<circle cx="488.3" cy="627.6" r="3.2" fill="#8ea7b6" stroke="#3f4f5a" stroke-width="0.6"/>
<text x="495.90" y="629.80" font-size="6.2">7.5</text>
<circle cx="488.3" cy="636.2" r="4.0" fill="#8ea7b6" stroke="#3f4f5a" stroke-width="0.6"/>
<text x="495.90" y="638.40" font-size="6.2">9.0</text>
<circle cx="488.3" cy="646.2" r="4.4" fill="#8ea7b6" stroke="#3f4f5a" stroke-width="0.6"/>
<text x="495.90" y="648.40" font-size="6.2">10.5</text>
<circle cx="488.3" cy="657.3" r="5.0" fill="#8ea7b6" stroke="#3f4f5a" stroke-width="0.6"/>
<text x="495.90" y="659.50" font-size="6.2">12.0</text>
</svg>
</body></html>
